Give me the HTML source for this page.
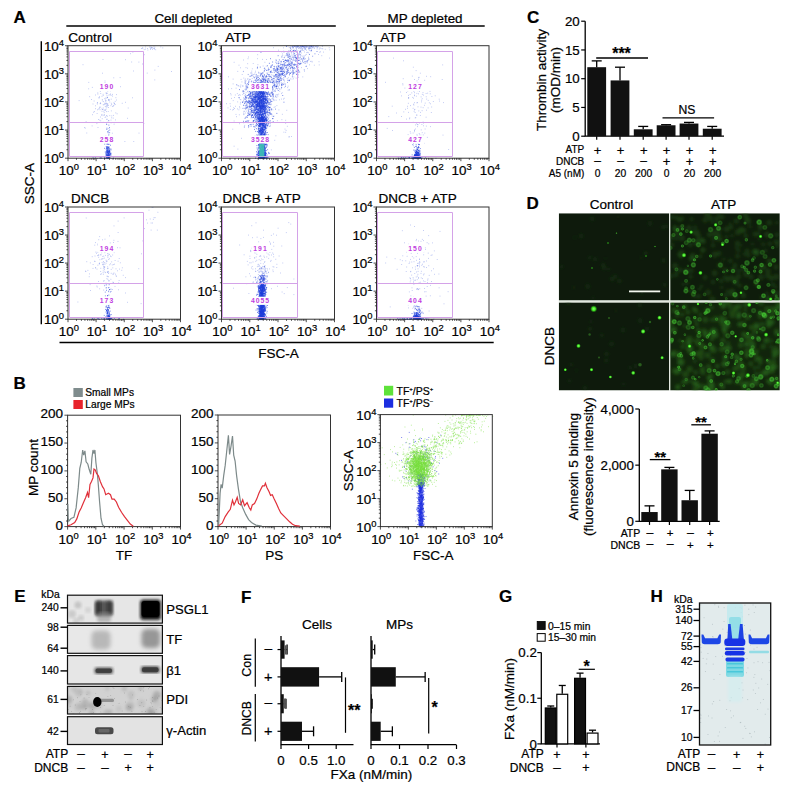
<!DOCTYPE html>
<html><head><meta charset="utf-8"><title>Figure</title>
<style>html,body{margin:0;padding:0;background:#fff;width:790px;height:785px;overflow:hidden}
svg{display:block;font-family:"Liberation Sans",sans-serif}
text{stroke:#000;stroke-width:0.22px}
text[fill]{stroke:none}</style></head>
<body><svg width="790" height="785" viewBox="0 0 790 785" font-family="'Liberation Sans', sans-serif"><defs><filter id="bl1" x="-10%" y="-10%" width="120%" height="120%"><feGaussianBlur stdDeviation="0.7"/></filter><filter id="bl2" x="-10%" y="-10%" width="120%" height="120%"><feGaussianBlur stdDeviation="1.4"/></filter><filter id="bl3" x="-50%" y="-50%" width="200%" height="200%"><feGaussianBlur stdDeviation="1.2"/></filter><filter id="bl4" x="-50%" y="-50%" width="200%" height="200%"><feGaussianBlur stdDeviation="2"/></filter><filter id="bl05" x="-50%" y="-50%" width="200%" height="200%"><feGaussianBlur stdDeviation="0.5"/></filter><radialGradient id="cellg"><stop offset="0" stop-color="#2e9424" stop-opacity="0.7"/><stop offset="0.55" stop-color="#44c832" stop-opacity="0.9"/><stop offset="1" stop-color="#40c030" stop-opacity="0"/></radialGradient><radialGradient id="dotg"><stop offset="0" stop-color="#8cff70"/><stop offset="0.5" stop-color="#3ee020"/><stop offset="1" stop-color="#20a010" stop-opacity="0"/></radialGradient><clipPath id="cTL"><rect x="558.8" y="213.3" width="110.2" height="87.1"/></clipPath><clipPath id="cTR"><rect x="670.2" y="213.3" width="109.6" height="87.1"/></clipPath><clipPath id="cBL"><rect x="558.8" y="302.4" width="110.2" height="88"/></clipPath><clipPath id="cBR"><rect x="670.2" y="302.4" width="109.6" height="88"/></clipPath><clipPath id="cE1"><rect x="67.5" y="595.2" width="95" height="27.9"/></clipPath><clipPath id="cE2"><rect x="67.5" y="625.4" width="95" height="27.9"/></clipPath><clipPath id="cE3"><rect x="67.5" y="655.6" width="95" height="28.4"/></clipPath><clipPath id="cE4"><rect x="67.5" y="686.4" width="95" height="27.6"/></clipPath><clipPath id="cE5"><rect x="67.5" y="716.7" width="95" height="27.8"/></clipPath><clipPath id="cH"><rect x="699.5" y="603" width="71.2" height="142"/></clipPath></defs><text x="13.5" y="22.8" font-size="17" font-weight="bold" stroke="#000" stroke-width="0.35">A</text><text x="13.5" y="389.4" font-size="17" font-weight="bold" stroke="#000" stroke-width="0.35">B</text><text x="527" y="23.2" font-size="17" font-weight="bold" stroke="#000" stroke-width="0.35">C</text><text x="526.5" y="209" font-size="17" font-weight="bold" stroke="#000" stroke-width="0.35">D</text><text x="14.2" y="601.8" font-size="17" font-weight="bold" stroke="#000" stroke-width="0.35">E</text><text x="241" y="603" font-size="17" font-weight="bold" stroke="#000" stroke-width="0.35">F</text><text x="499" y="602.2" font-size="17" font-weight="bold" stroke="#000" stroke-width="0.35">G</text><text x="650.5" y="602.2" font-size="17" font-weight="bold" stroke="#000" stroke-width="0.35">H</text><text x="154.4" y="22.5" font-size="13.4">Cell depleted</text><line x1="66.3" y1="26" x2="335.8" y2="26" stroke="#000" stroke-width="1.3"/><text x="387.6" y="22.5" font-size="13.4">MP depleted</text><line x1="367" y1="26" x2="484.7" y2="26" stroke="#000" stroke-width="1.3"/><line x1="41.3" y1="41.2" x2="41.3" y2="324.3" stroke="#000" stroke-width="1.4"/><line x1="59.5" y1="342.5" x2="493.7" y2="342.5" stroke="#000" stroke-width="1.4"/><text transform="translate(29.5 183.6) rotate(-90)" font-size="13.5" text-anchor="middle" dy="4.8">SSC-A</text><text x="278.5" y="357.6" font-size="13.5" text-anchor="middle">FSC-A</text><path d="M106 111.6h.8M108.1 107.5h.8M104 110.1h.8M99.7 103.7h.8M102.8 108h.8M99 107.2h.8M106.4 119.3h.8M115.4 112.9h.8M102.5 85.2h.8M101.6 111.3h.8M109.4 115.6h.8M108.5 100h.8M106.7 87.9h.8M99.4 120.1h.8M105.8 106.1h.8M110.9 110.9h.8M96.5 123.6h.8M102.8 95.5h.8M92.6 104h.8M96.9 103h.8M93 112.2h.8M104.3 98.7h.8M97.1 109.8h.8M107.9 105.4h.8M107.1 116.2h.8M104.7 117.5h.8M88.3 88.8h.8M102.2 109.5h.8M105.6 100.5h.8M106.8 104.2h.8M95.2 108.7h.8M102.6 109.5h.8M99.1 96.7h.8M100.3 107.2h.8M113.4 105.5h.8M100.3 103.5h.8M105.7 90.5h.8M112.2 96.1h.8M101.9 99.5h.8M105.2 110.1h.8M106.7 119.3h.8M106.4 93.1h.8M97.4 92.9h.8M106.5 105.4h.8M115.5 97.7h.8M95.1 95h.8M112 94.4h.8M106.8 93.4h.8M101.5 108.9h.8M120 86.7h.8M111.3 117.8h.8M97.5 94.1h.8M106.5 98.2h.8M110 94h.8M104.6 82.6h.8M110.8 87.1h.8M105.5 116.7h.8M110.7 122.8h.8M116.1 94.6h.8M101.2 115.2h.8M107.4 103.9h.8M102.7 94.3h.8M106.9 122.3h.8M97.6 127.5h.8M101.9 100.9h.8M104.6 103.3h.8M112.3 106.5h.8M114 103.3h.8M96.7 113.5h.8M100.4 120.8h.8M110.5 105.7h.8M92 114.7h.8M102.7 122.3h.8M105.3 98.1h.8M114.8 104.5h.8M110.8 99.2h.8M103.7 114.9h.8M103.4 111.2h.8M104.2 115h.8M116.7 113.8h.8M103 101.6h.8M103.8 112.6h.8M108.4 99.8h.8M105.1 100h.8M104.6 81h.8M98.1 119.5h.8M105.9 93.8h.8M102.8 104.8h.8M114.2 103.9h.8M110.6 120.1h.8M105.8 109h.8M110.7 95.4h.8M103.6 104.7h.8M113.4 102.9h.8M105.9 107.1h.8M110.1 90.8h.8M96.9 104h.8M108.4 128.5h.8M94.1 111.6h.8M91.7 125.9h.8M103.8 140.4h.8M99.6 109.7h.8M107.1 88.8h.8M121.8 103.3h.8M100.1 117h.8M101.6 114.4h.8M107.4 91.1h.8M109.4 102h.8M104.7 103.2h.8M104.5 104.4h.8M110.9 103.3h.8M109.6 94.7h.8M98.7 97.6h.8M105.4 101.4h.8M106.2 115.5h.8M98.6 98h.8M107.8 111.5h.8M99.9 91.5h.8M112.8 118.1h.8M107.3 105.3h.8M106.6 103.9h.8M101.8 118.7h.8M105.1 84.4h.8M91.9 87.4h.8M98 109h.8M108.5 95.1h.8M91 99.5h.8M111.9 133.2h.8M93.7 101h.8M111.3 104.5h.8M100 102.8h.8M111.4 115.9h.8M106.9 106.8h.8M95.2 105.8h.8M114.8 90.4h.8M116.1 100h.8M105.5 103.8h.8M104 86.6h.8M104.8 110h.8M99.1 108.2h.8M113.7 124.2h.8M102.2 86.1h.8M105.6 92.9h.8M100.4 93.5h.8M101.6 96.3h.8M97 102.5h.8M114.8 101.4h.8M104.9 106.6h.8M112.8 106.1h.8M106.1 103.2h.8M125.1 59.7h.8M106.5 124.4h.8M102 73.2h.8M104.8 138.3h.8M78.7 100.6h.8M133.4 141.5h.8M113 115.4h.8M102.6 115.6h.8M113.4 77.8h.8M125.1 102.3h.8M102.2 139.3h.8M132.5 52.2h.8M138.5 62.1h.8M102.6 59.5h.8M85.7 121.7h.8M127.8 108h.8M143.5 123.5h.8M86.4 133h.8M124.5 141.5h.8M132.1 97.8h.8M138.6 133.1h.8M84.8 128.2h.8M82.6 64.7h.8M143.1 99.6h.8M84.3 127.5h.8M88.4 82.4h.8M115.2 119.9h.8M106.6 95.7h.8M127.1 118.3h.8M89.3 96.7h.8M150.8 48h.8M152 49.4h.8M150.5 46.8h.8M153.5 46.9h.8M160.4 46.9h.8M154 48.6h.8M151.3 47.5h.8M142.4 48.2h.8M152.9 48.5h.8M141.1 48.5h.8M143.8 49.6h.8M155.3 49.7h.8M154.5 47.2h.8M150.2 48.3h.8M142.3 47.9h.8M149.1 47h.8M147.5 50h.8M154.2 49h.8M162.4 47.9h.8M152.1 47.7h.8M147 48.5h.8M145 46.9h.8M150.7 47.9h.8M150.1 49.5h.8M145.1 49.1h.8M146.8 73.1h.8M142 64h.8M108.8 84.6h.8M154.5 70.1h.8M143.9 54.7h.8M154.4 79.9h.8M130.1 53.7h.8M131.3 62h.8M119.7 77.6h.8M171.2 71.5h.8M133 71h.8M157.8 66.4h.8" stroke="#5a70e0" stroke-opacity="0.55" stroke-width=".8" fill="none"/><path d="M107.2 137.7h.9M106.8 144.4h.9M107.5 155.5h.9M106.5 128.2h.9M106.1 140.7h.9M107.9 158.1h.9M109.2 132.7h.9M105.8 151.3h.9M107.9 155.6h.9M107 131.8h.9M106.6 150.7h.9M109.1 142h.9M107.2 152.1h.9M110 145.2h.9M106.8 150.3h.9M108.5 157.9h.9M107.6 156h.9M106.9 156.4h.9M108.8 152.7h.9M107.7 155.3h.9M108.8 155.8h.9M107.9 141.1h.9M106.4 155.3h.9M107.8 132.8h.9M108 131h.9M109.3 151h.9M106.7 154.4h.9M107.9 153.5h.9M105.5 156.1h.9M108.9 155h.9M106.4 129.4h.9M105.4 154h.9M107.9 147.7h.9M109.5 156.3h.9M105.8 152.3h.9M106.4 142h.9M106.9 148.7h.9M106.3 158.6h.9M108.5 153.5h.9M106.8 154.7h.9M106.9 148.1h.9M108.8 155.5h.9M106.9 151.6h.9M108.5 137.3h.9M106.6 152.6h.9M106.2 154.8h.9M105.4 136.1h.9M110.6 153.3h.9M107.5 156.4h.9M108.3 144.4h.9M107.9 156.2h.9M108.2 157.3h.9M108 151.7h.9M110.6 149.9h.9M106.5 150.8h.9M105.7 149.1h.9M106.5 151.3h.9M106.1 148.1h.9M109 127.6h.9M109.1 151.1h.9M106.6 153.8h.9M106 151.9h.9M107.4 158.1h.9M109.9 153.7h.9M104 148.3h.9M108.7 152.4h.9M106.4 146.7h.9M109.4 149.7h.9M106.4 153.2h.9M107.5 152.5h.9M105.8 155h.9M106.6 150.3h.9M109.9 154.6h.9M109.1 157.6h.9M107.4 143.2h.9M106.7 139.5h.9M105.3 138.1h.9M107.4 158.1h.9M107.9 142.6h.9M107.8 149.1h.9M107.8 157h.9M106.4 155h.9M107.8 154.6h.9M107.9 157.9h.9M109.8 153.2h.9M110.6 154.8h.9M107.7 154.8h.9M106.9 149.9h.9M107.8 157.1h.9M107.1 156.5h.9M106.9 155.8h.9M107.9 154.6h.9M106.5 140.4h.9M108.8 150.2h.9M107.8 157.1h.9M108.3 148.8h.9M107.7 147.2h.9M106.9 97.4h.9M106.6 157.7h.9M107.6 146.9h.9M107.2 151.1h.9M108.3 120.7h.9M107.9 158.6h.9M106 138h.9M108 156h.9M106 147.6h.9M107.1 152.4h.9M107.5 151.4h.9M105 156.5h.9M108.1 157.8h.9M108.1 156.4h.9M107.7 158.3h.9M107.3 146.7h.9M107.4 156h.9M106.6 149.6h.9M107.6 151.8h.9M107.2 156.1h.9M108.1 155.3h.9M106.2 157.8h.9M108.3 148.1h.9M108.1 153.5h.9M107.7 156.8h.9M107.3 156h.9M108.7 154.9h.9M105.6 152.9h.9M108.6 153.3h.9M108.3 135.7h.9M108.3 156.8h.9M108.5 149.9h.9M107 152.4h.9M107.6 155.3h.9M108.8 147h.9M108.5 143h.9M108.2 136h.9M105.8 155.5h.9M108.7 139h.9M109.6 154.4h.9M109.4 158h.9M108.3 140.6h.9M105.7 143.9h.9M109.3 156.2h.9M107.7 151.2h.9M104.4 158.2h.9M108.5 153h.9M105.8 146.6h.9M106.1 124.2h.9M107 158.3h.9M109.7 142.1h.9M107.4 147.9h.9M108.3 158.1h.9M110.4 148.9h.9M110.2 153.1h.9M107.8 154.8h.9M107.6 139.9h.9M106.2 148.6h.9M107 143.8h.9M108.5 100h.9M108.5 136.8h.9M108.1 136.6h.9M109.3 130.1h.9M106.9 140.9h.9M107.9 156.7h.9M109 151.8h.9M108.8 152.1h.9M109.4 151.7h.9M108.5 144.4h.9M107.5 149.9h.9M108.4 152.4h.9M106.5 142.3h.9M105.6 153.9h.9M108.8 151.4h.9M107.9 151.1h.9M108.4 150.4h.9M105.6 158.1h.9M107.4 156.4h.9M107.1 158h.9M106.7 138.2h.9M104.8 152h.9M107.5 147.5h.9M109.2 151.1h.9M108.5 152.8h.9M107.1 153.4h.9M107.9 153h.9M109 148.3h.9M104.1 144h.9M107.8 156.1h.9M108.7 154.8h.9M108.9 157h.9M110.3 155.8h.9M109.5 157.8h.9M108.4 134.8h.9M108.4 125.1h.9M109 154.3h.9M107.2 148.2h.9M107.9 158.1h.9M109.2 150.9h.9M110.7 136.8h.9M107.7 156.9h.9M107.9 157.7h.9M108.2 151.4h.9M100.3 158.6h.9M104.1 157.9h.9M101.5 158.5h.9M112.9 158.4h.9M99.3 158.2h.9M104 158.6h.9M107.2 158.6h.9M100.5 157.3h.9M100.6 158h.9M104 158.4h.9M92.6 157.7h.9M97.2 158.6h.9M104.5 158.3h.9M108.4 157.3h.9M106.1 157.4h.9M94.9 157.8h.9M104.1 158.5h.9M113 158.2h.9M111.3 158.6h.9M106.8 158.3h.9" stroke="#2040dc" stroke-opacity="0.72" stroke-width=".9" fill="none"/><path d="M69.5 51.5H143.5V156.5H69.5Z M69.5 122.5H143.5" stroke="#d4a2e8" stroke-width="1" fill="none"/><rect x="97.8" y="82.9" width="18.4" height="8.2" fill="#fff"/><text x="107" y="89.4" font-size="6.8" text-anchor="middle" fill="#c040e0" letter-spacing="1" font-weight="bold">190</text><rect x="97.8" y="135.4" width="18.4" height="8.2" fill="#fff"/><text x="107" y="141.9" font-size="6.8" text-anchor="middle" fill="#c040e0" letter-spacing="1" font-weight="bold">258</text><rect x="68" y="45.7" width="112.5" height="112.5" fill="none" stroke="#333" stroke-width="1"/><path d="M68 158.2v3M76.47 158.2v1.6M81.42 158.2v1.6M84.93 158.2v1.6M87.66 158.2v1.6M89.89 158.2v1.6M91.77 158.2v1.6M93.4 158.2v1.6M94.84 158.2v1.6M96.12 158.2v3M104.59 158.2v1.6M109.54 158.2v1.6M113.06 158.2v1.6M115.78 158.2v1.6M118.01 158.2v1.6M119.89 158.2v1.6M121.52 158.2v1.6M122.96 158.2v1.6M124.25 158.2v3M132.72 158.2v1.6M137.67 158.2v1.6M141.18 158.2v1.6M143.91 158.2v1.6M146.14 158.2v1.6M148.02 158.2v1.6M149.65 158.2v1.6M151.09 158.2v1.6M152.38 158.2v3M160.84 158.2v1.6M165.79 158.2v1.6M169.31 158.2v1.6M172.03 158.2v1.6M174.26 158.2v1.6M176.14 158.2v1.6M177.77 158.2v1.6M179.21 158.2v1.6M180.5 158.2v3" stroke="#222" stroke-width="0.8" fill="none"/><path d="M68 158.2h-3M68 149.73h-1.6M68 144.78h-1.6M68 141.27h-1.6M68 138.54h-1.6M68 136.31h-1.6M68 134.43h-1.6M68 132.8h-1.6M68 131.36h-1.6M68 130.07h-3M68 121.61h-1.6M68 116.66h-1.6M68 113.14h-1.6M68 110.42h-1.6M68 108.19h-1.6M68 106.31h-1.6M68 104.68h-1.6M68 103.24h-1.6M68 101.95h-3M68 93.48h-1.6M68 88.53h-1.6M68 85.02h-1.6M68 82.29h-1.6M68 80.06h-1.6M68 78.18h-1.6M68 76.55h-1.6M68 75.11h-1.6M68 73.83h-3M68 65.36h-1.6M68 60.41h-1.6M68 56.89h-1.6M68 54.17h-1.6M68 51.94h-1.6M68 50.06h-1.6M68 48.43h-1.6M68 46.99h-1.6M68 45.7h-3" stroke="#222" stroke-width="0.8" fill="none"/><text x="58.74" y="175.3" font-size="13.4">10<tspan font-size="9.38" dy="-4.82">0</tspan></text><text x="86.87" y="175.3" font-size="13.4">10<tspan font-size="9.38" dy="-4.82">1</tspan></text><text x="114.99" y="175.3" font-size="13.4">10<tspan font-size="9.38" dy="-4.82">2</tspan></text><text x="143.12" y="175.3" font-size="13.4">10<tspan font-size="9.38" dy="-4.82">3</tspan></text><text x="171.24" y="175.3" font-size="13.4">10<tspan font-size="9.38" dy="-4.82">4</tspan></text><text x="43.88" y="163.2" font-size="13.4">10<tspan font-size="9.38" dy="-4.82">0</tspan></text><text x="43.88" y="135.07" font-size="13.4">10<tspan font-size="9.38" dy="-4.82">1</tspan></text><text x="43.88" y="106.95" font-size="13.4">10<tspan font-size="9.38" dy="-4.82">2</tspan></text><text x="43.88" y="78.83" font-size="13.4">10<tspan font-size="9.38" dy="-4.82">3</tspan></text><text x="43.88" y="50.7" font-size="13.4">10<tspan font-size="9.38" dy="-4.82">4</tspan></text><text x="68.2" y="42.3" font-size="13.6">Control</text><path d="M252.2 93.6h.8M255.6 74.9h.8M256.6 92.7h.8M270.3 93.1h.8M259 116.6h.8M264.6 76.6h.8M243 71.3h.8M265.2 96.3h.8M279.1 99.8h.8M264.1 119.5h.8M258.3 84.3h.8M257.1 58.7h.8M275.6 86.7h.8M244.9 79h.8M254.1 89.1h.8M260.6 110.6h.8M263.8 78h.8M250.5 114.1h.8M258.9 99.7h.8M252.3 92.8h.8M256.8 84.3h.8M253.9 90.9h.8M242.5 91.3h.8M255.2 107.5h.8M265.3 114.9h.8M244.5 95.9h.8M252.7 106.7h.8M262.9 115.1h.8M243.3 114.6h.8M257.5 103.6h.8M243.4 122.8h.8M268.2 115.7h.8M281.5 119.7h.8M278.3 94.2h.8M252.9 91h.8M263.8 68.5h.8M256.8 117.8h.8M256.6 106.3h.8M272.9 83.9h.8M240.5 99.8h.8M267.3 101.3h.8M254.8 72.7h.8M271.3 101.5h.8M257.5 113h.8M247.8 115.3h.8M258.5 92h.8M263.7 92.5h.8M255.8 116h.8M260.9 110.6h.8M249.5 89.2h.8M231.3 88.6h.8M265.6 105.8h.8M263.3 88h.8M257.1 88.7h.8M256.2 121.8h.8M267.1 101.1h.8M250.2 90.9h.8M247.4 104.8h.8M253.3 126.8h.8M268.8 100.7h.8M239.7 86.2h.8M268.9 74.5h.8M248.2 127.6h.8M243 60h.8M269.6 112.6h.8M254.3 83.3h.8M240.7 79.4h.8M251.3 82.9h.8M265.9 94.6h.8M268.9 113.1h.8M250.6 87.9h.8M260 106.8h.8M263.5 132.2h.8M248.1 57h.8M259.4 86.8h.8M255 71.2h.8M249.3 109.6h.8M249.8 76.1h.8M256.2 74.4h.8M255.7 74.9h.8M249 97h.8M250.6 113.7h.8M268 99.2h.8M257.8 127.7h.8M265.4 120.7h.8M269 95.5h.8M262.1 110.7h.8M281.1 99.1h.8M246.1 98.3h.8M264.5 69.6h.8M251.8 78.5h.8M276.4 97.4h.8M274.6 79.7h.8M233.3 107.7h.8M244.5 101.5h.8M262.9 83.9h.8M264.3 114.2h.8M263.7 100.7h.8M254.6 115.3h.8M260.5 95.1h.8M262.8 73.8h.8M254.5 107.3h.8M267 93.6h.8M229.9 109.4h.8M262.6 112.9h.8M243.7 114.1h.8M266.2 76.3h.8M252.8 63.5h.8M245.4 90h.8M259.6 106.8h.8M245.1 86.8h.8M245.1 101.5h.8M237.7 85.5h.8M255.1 92.7h.8M261 92.8h.8M267 88.2h.8M253.8 104.9h.8M267.2 102.4h.8M255.6 121h.8M254.3 103h.8M261.9 116.8h.8M267.4 98.8h.8M251.5 110.2h.8M252.6 95.3h.8M253.6 90.4h.8M256.3 116.7h.8M245.2 108.2h.8M267 110h.8M250.9 86.3h.8M260.6 72.8h.8M246.1 84.8h.8M259.5 101.7h.8M259.8 76.1h.8M250.6 118h.8M278.2 75.7h.8M259.6 106h.8M275.5 135.8h.8M266.2 59.5h.8M247.9 74.6h.8M251.1 111.3h.8M260.3 94.4h.8M256.1 99.8h.8M256 95.3h.8M252.2 117.6h.8M235 106.3h.8M252.9 90.2h.8M230.3 93.6h.8M259.6 79.9h.8M247.2 95.6h.8M247.3 63.7h.8M252.9 106.8h.8M258.5 93.1h.8M239.2 123.7h.8M235.6 114.4h.8M243.4 78.1h.8M232.3 110h.8M244.5 89.3h.8M273.4 97.6h.8M243.5 111.4h.8M262.8 101.6h.8M239.9 104h.8M258.8 103.6h.8M251.8 86.2h.8M254.7 87.6h.8M261.8 104.9h.8M275.2 109.5h.8M257.6 92.8h.8M256.8 98.2h.8M244.4 82.3h.8M262 59.4h.8M252.6 84.9h.8M264.8 97.2h.8M254.9 99.2h.8M275.1 108.8h.8M233 109.5h.8M252 110.9h.8M265.4 102.3h.8M251.4 102.8h.8M246.4 86.3h.8M252.4 102.4h.8M239.8 99.5h.8M256.7 113.9h.8M283 73.6h.8M268.3 89.6h.8M242.9 71.6h.8M245.5 85.5h.8M250.8 75.8h.8M266.7 100.2h.8M246.1 86.7h.8M247.6 58.7h.8M265.4 114h.8M265.2 80.2h.8M251.2 72.9h.8M242.8 90.8h.8M237.9 86h.8M247.5 78.8h.8M230.2 106.2h.8M263.9 90.9h.8M248.3 109.2h.8M260.8 106.5h.8M276.5 105.6h.8M268.7 98.8h.8M242.4 94.6h.8M265.2 90.2h.8M268.5 117.2h.8M247 68.2h.8M244.6 80.1h.8M254.2 86.3h.8M237.3 101.9h.8M272 98h.8M228.2 88.9h.8M242.9 90.8h.8M252.4 121h.8M252.8 86.1h.8M257.3 54.7h.8M258.5 123.4h.8M253 82.4h.8M268.2 91.4h.8M231.2 98.4h.8M255.4 77h.8M247.3 113.8h.8M256.9 94.4h.8M257.9 75.6h.8M245.1 99.6h.8M248.2 102.8h.8M264.4 95.1h.8M259.3 103.2h.8M247.7 74.4h.8M278.5 109.9h.8M281.5 84.1h.8M238.9 114.8h.8M258.8 87.1h.8M283.8 98.3h.8M264.3 134.1h.8M257.9 96.8h.8M253 112.2h.8M249.3 103.2h.8M253 74.5h.8M249.2 112.9h.8M263.8 112.1h.8M250.9 75.9h.8M250.4 95.1h.8M241.8 74.5h.8M254.8 92.1h.8M245.3 109.5h.8M253.4 97.7h.8M267.2 79h.8M259.5 83.1h.8M261.1 96.7h.8M259.4 96h.8M256.1 98.4h.8M254 105.1h.8M251.9 68.8h.8M264 96.6h.8M243.1 113.1h.8M270.6 103.6h.8M255.8 86.2h.8M246.9 87.5h.8M249.9 98.7h.8M247.8 106.4h.8M257.2 96.4h.8M247.3 120.9h.8M268.3 115.6h.8M246.6 85.2h.8M229.7 103.7h.8M247.1 91.3h.8M232.7 79.1h.8M254.9 87.4h.8M267.4 96.5h.8M262.7 66h.8M240.3 87.1h.8M246.8 101.9h.8M275.5 86.2h.8M259 90.9h.8M255.4 109.1h.8M267.3 95.7h.8M283.1 99.1h.8M270.1 125.2h.8M257 99.2h.8M259.4 100.8h.8M262.4 103.1h.8M248.5 120.5h.8M243.4 101.9h.8M256 97.3h.8M244.7 95.3h.8M254.7 113.2h.8M256.5 87.6h.8M281.9 114.3h.8M245.8 100h.8M254 77.9h.8M253.5 106.8h.8M260.3 104.1h.8M267.2 81.2h.8M249.9 102.3h.8M246.1 101h.8M236.9 93.6h.8M244.9 81.6h.8M261.5 128.6h.8M255.9 108.7h.8M243.9 111.3h.8M251.2 112.4h.8M255.8 109.1h.8M261.1 108.9h.8M248.7 92.4h.8M252.6 109.6h.8M234.9 95h.8M242.4 91h.8M273.7 107.3h.8M230.7 94.9h.8M251.6 73.2h.8M257.9 92.1h.8M251.2 105.9h.8M246.3 97.7h.8M254.7 109.9h.8M255.3 92.9h.8M254.5 84.3h.8M234.2 108.5h.8M253.7 99.8h.8M245.7 80.8h.8M249.2 103.9h.8M258 94h.8M262.6 111.5h.8M265.5 108.5h.8M249.8 104.1h.8M265.8 66.1h.8M268.7 102.5h.8M268.2 104.2h.8M271.1 104.7h.8M253.8 99.1h.8M253.4 87.5h.8M264.7 94.1h.8M240 67.8h.8M257.8 93.7h.8M249.4 76.4h.8M251.2 92.9h.8M235.7 88.2h.8M245.3 117.1h.8M255.2 98.5h.8M265.4 97.7h.8M266.6 100.2h.8M254.5 127h.8M253.3 84.4h.8M246 102.2h.8M259.9 102.9h.8M252.6 100.3h.8M262.2 100h.8M275.2 91h.8M255 114.6h.8M238.5 109.8h.8M245.7 92.7h.8M238.9 94.7h.8M241.9 102h.8M270.1 104.8h.8M258 108.5h.8M238.2 97.6h.8M262.8 80.1h.8M269.6 111.6h.8M251.3 75.3h.8M247.8 84.9h.8M251.6 103.1h.8M258.6 85.7h.8M262.6 117.4h.8M268.8 121.1h.8M269.1 114.9h.8M268.8 102.5h.8M270.8 101.3h.8M262.9 104h.8M238.1 95.4h.8M253.9 126.8h.8M258.9 89.8h.8M251.1 116.7h.8M265.7 106h.8M251.3 102.6h.8M244.9 113h.8M271.7 116h.8M262.9 110.9h.8M257.9 96.9h.8M265.9 88.5h.8M267.4 88.8h.8M259.3 110.7h.8M227.6 107.9h.8M247.8 109.7h.8M250.2 90.4h.8M244.3 125.4h.8M257.6 79.3h.8M268.9 103.6h.8M249.9 107.8h.8M242.6 92h.8M278.3 82.2h.8M250.3 91.9h.8M241.5 81.9h.8M258.1 94.9h.8M260.2 79.5h.8M247.4 79.2h.8M264.3 98.1h.8M249.9 76.5h.8M245 94.4h.8M257.4 95.5h.8M264.1 109.7h.8M248.2 100.8h.8M259.1 85.8h.8M254.3 115.2h.8M287.3 87.6h.8M247.4 91.8h.8M271 92.8h.8M254.8 127.8h.8M254 98.2h.8M263.6 87.6h.8M265.5 107.5h.8M269.7 95.5h.8M259.1 130.2h.8M248.6 87.3h.8M249.3 106.1h.8M261.2 84.5h.8M262 122.7h.8M271.2 87h.8M260.1 100.1h.8M267.4 85.4h.8M272.5 109.8h.8M257.3 105.4h.8M238.6 65.2h.8M242.1 108.4h.8M239.2 106.7h.8M273.4 100.6h.8M245.8 111.1h.8M269.3 80h.8M262 72.5h.8M274.8 106.7h.8M266.7 121h.8M254.2 80.3h.8M253.1 81.2h.8M256.4 85.2h.8M257.4 80.5h.8M249.4 108.9h.8M255 99.1h.8M273.6 116.2h.8M236.2 116.7h.8M258.3 83h.8M245.2 106.2h.8M257.5 64.7h.8M264.9 95.7h.8M254.7 105.8h.8M264.1 85.5h.8M237.4 71.4h.8M267.9 89.9h.8M248.6 113.9h.8M262.4 91.5h.8M257.5 77.4h.8M226.2 103.7h.8M246.9 107.6h.8M275.3 77.3h.8M278.7 70.8h.8M258.3 83.2h.8M279.5 89.5h.8M275.2 91.3h.8M305.1 46.1h.8M316.7 48.9h.8M292.2 62.9h.8M284.4 60.5h.8M292.1 62.9h.8M277 68.5h.8M280.2 68.1h.8M314.7 53.8h.8M270.8 77.7h.8M283.6 64.9h.8M299.8 57.7h.8M268.4 74.4h.8M298.9 47.8h.8M253.8 89.9h.8M287.6 46.1h.8M304.1 58.2h.8M300.5 56.2h.8M310.9 50.5h.8M279.8 65.7h.8M301.7 46.1h.8M269 78.8h.8M285.7 55.3h.8M265.6 77h.8M271.1 83.2h.8M280.9 73.7h.8M295.4 70.9h.8M298.2 57.9h.8M266.1 97.1h.8M302.5 46.1h.8M280.7 80.6h.8M277.7 65.3h.8M302 49h.8M304.2 46.1h.8M300.2 57.2h.8M284.1 75h.8M290 65.8h.8M303.9 47.5h.8M284.2 81.1h.8M300.4 52.1h.8M308.2 46.1h.8M282.6 71.4h.8M287.5 54.1h.8M289.2 79.8h.8M297.6 69.8h.8M282 53.9h.8M274.4 76.2h.8M278.9 65.6h.8M306.2 50.2h.8M290.1 48h.8M252.7 93.3h.8M313 46.1h.8M304.3 46.1h.8M276.7 86.3h.8M298 46.2h.8M268.1 68.1h.8M266.4 73.1h.8M297.5 50.5h.8M277.7 69.5h.8M278 50.2h.8M303.9 48h.8M299.5 64h.8M247 86.4h.8M309.6 46.1h.8M289.5 56.8h.8M323.2 52.1h.8M276.4 86.1h.8M297 59.6h.8M311.5 61.3h.8M281.4 74.8h.8M275.2 71.2h.8M281.8 92.7h.8M255.9 90.7h.8M256.9 75.9h.8M292.1 75.3h.8M262.2 93.9h.8M292.7 47.7h.8M283.4 78h.8M275.4 76h.8M263 87.2h.8M273.5 75.5h.8M292.8 50.5h.8M283.4 61.4h.8M298 63.5h.8M276.8 82.1h.8M291.1 72h.8M308.8 59.1h.8M264.3 80.9h.8M287.1 82.5h.8M286.2 60.3h.8M272.3 82.2h.8M310.8 50.4h.8M284.4 65.7h.8M261.2 87.8h.8M298.1 69.4h.8M293.9 60.6h.8M296.4 54.5h.8M304 46.1h.8M257.6 90.8h.8M293 58.6h.8M302.1 61.3h.8M300.3 46.1h.8M300.5 59.4h.8M287.1 68.4h.8M276.4 67.9h.8M288.9 72.3h.8M281.1 74.3h.8M300.9 63.1h.8M299.3 53h.8M308.2 59.4h.8M317.2 51.5h.8M260.9 91.5h.8M310.4 46.3h.8M282.2 74.3h.8M299.8 64h.8M281.3 68.4h.8M285.1 59.6h.8M319.5 52.5h.8M263.3 103.3h.8M264.6 83.2h.8M294.1 65h.8M298.5 53.9h.8M270.6 67.1h.8M276.7 66h.8M279.6 75.1h.8M281.1 82.8h.8M293.3 56.6h.8M299.7 63.2h.8M316.5 46.1h.8M302.8 57.9h.8M279.4 91.3h.8M290.6 67.4h.8M288.2 68.2h.8M287.1 82.4h.8M301.1 47.8h.8M293.5 46.1h.8M286.2 68.1h.8M303.5 59.3h.8M259.5 86.5h.8M271.3 89.3h.8M294.2 46.4h.8M262.3 75.3h.8M279.8 61.8h.8M298.2 72.6h.8M254.9 100.6h.8M298.7 64.3h.8M301.1 67.6h.8M271.9 81.9h.8M262.8 79h.8M296.7 62.5h.8M305.9 54.4h.8M309 46.1h.8M279.3 76.8h.8M268.6 82.3h.8M289.6 73.5h.8M277.1 88.9h.8M287.1 72.9h.8M266.2 76.9h.8M270.9 70.4h.8M279.3 88.5h.8M269.4 88.5h.8M273 70.3h.8M295 61.4h.8M290.6 64.2h.8M299.1 51.3h.8M305.1 46.1h.8M291.2 67.2h.8M300.8 53h.8M284.7 71.8h.8M287.9 55.5h.8M273.3 80.1h.8M289.1 60.3h.8M310.3 48.5h.8M297.8 63.7h.8M275.2 69.4h.8M286.6 64.7h.8M277 84h.8M304.3 63.2h.8M277.3 88.8h.8M276.3 86.4h.8M261.5 91.8h.8M278.7 78h.8M299.7 46.1h.8M249.1 103.9h.8M295 64.8h.8M290.6 65.8h.8M300.1 61.3h.8M302.3 49h.8M292.9 73.9h.8M272.8 86.3h.8M311.4 46.1h.8M257.5 94.3h.8M251.8 89.1h.8M282.4 74.4h.8M295.7 78.1h.8M310.3 50.9h.8M297.5 56.3h.8M288.8 47.6h.8M280 75.4h.8M306.1 61.3h.8M295.8 58.6h.8M280.3 75.8h.8M267.2 96.6h.8M277.9 79.2h.8M302.3 56.2h.8M296.9 60h.8M289.8 47.5h.8M265.9 81.2h.8M321.5 48.6h.8M274.4 72h.8M304.4 59.4h.8M296.1 66.3h.8M294.3 65.5h.8M305 58.6h.8M277.8 63.1h.8M297 68.2h.8M258.1 72.2h.8M283 47.8h.8M281.6 78.7h.8M261 84.7h.8M272.6 87.2h.8M308.3 60.3h.8M278.8 76.3h.8M303.2 57.2h.8M258.6 87.6h.8M255.2 89.5h.8M300.5 55.5h.8M270.9 72.2h.8M276.2 74.5h.8M264.8 77.8h.8M268.3 81h.8M271.6 65h.8M287.5 56.8h.8M250.8 81.4h.8M304.6 61.9h.8M309.1 46.1h.8M295.4 68.5h.8M285.7 73.9h.8M268.5 80.4h.8M274 75.8h.8M264.2 92.9h.8M319.8 51.5h.8M269.3 102.8h.8M296.8 47.4h.8M283.4 77.6h.8M263.6 98.2h.8M248.3 101.3h.8M289.8 46.2h.8M298.8 71.9h.8M275.7 76.6h.8M298.3 57.8h.8M277.5 96.1h.8M272.5 75.2h.8M267.6 80.9h.8M287.6 64.4h.8M257.2 79.9h.8M272.2 86.2h.8M289.7 57.7h.8M299.4 72.3h.8M287.7 59.6h.8M311.7 46.1h.8M281 61.8h.8M274.2 81h.8M284.7 65.5h.8M254.8 92h.8M274.2 67.8h.8M287.2 80.3h.8M255.2 93.3h.8M274.2 87.3h.8M285.6 66h.8M297.4 46.1h.8M281 93.6h.8M283.6 71.3h.8M255.7 76.5h.8M298.2 77.2h.8M292.8 70.9h.8M302.4 47h.8M253.5 76.5h.8M291.2 58.8h.8M297.8 60.4h.8M281.1 68.4h.8M292.8 47.5h.8M291.5 57.8h.8M287.7 80.2h.8M286.3 67.1h.8M287.8 65.5h.8M298.4 46.1h.8M275.6 86.8h.8M287 73.2h.8M261.1 93.7h.8M296.6 46.1h.8M285.8 46.1h.8M252.7 106h.8M292.7 66h.8M292.1 47h.8M268.7 88.5h.8M290 78.9h.8M295.5 61h.8M278 77.4h.8M276.6 69.9h.8M290.8 52.4h.8M286.9 65.9h.8M276.9 72.8h.8M257.7 85.6h.8M263.5 92.2h.8M291.9 56.3h.8M287.6 59.9h.8M300.1 46.1h.8M289.1 63h.8M282.9 66.9h.8M289.8 63.8h.8M294.2 55.9h.8M267.9 68.2h.8M284.5 65.5h.8M297.8 56.5h.8M287 51.7h.8M279.6 82h.8M271.8 93.3h.8M275.9 80.3h.8M262 79.2h.8M318 54.5h.8M296 71.5h.8M294.7 72.9h.8M279.8 69h.8M269.5 80.6h.8M283 64.5h.8M300.9 63.6h.8M295 60.8h.8M285.2 67.8h.8M269.9 71.8h.8M273.3 81.3h.8M296.2 70.1h.8M292.3 74.6h.8M268.2 92.4h.8M281 87.1h.8M297.9 75h.8M289.3 73.8h.8M278.2 65.5h.8M274.2 72.6h.8M294.7 55.5h.8M265.6 79.8h.8M277.6 67.5h.8M314.4 53.8h.8M291.4 55h.8M290.3 56.5h.8M283.3 84.1h.8M309 54.5h.8M286.5 73.9h.8M302.3 50.5h.8M303.5 46.1h.8M300.4 48.9h.8M295.6 57.8h.8M280.6 70.2h.8M302.4 76.9h.8M278.2 86.7h.8M299.4 51.5h.8M278.7 73.3h.8M255.2 82.6h.8M263.6 75.9h.8M287 71.8h.8M302.2 60.8h.8M265.8 92.2h.8M301.6 46.1h.8M278 88h.8M301.2 50.2h.8M296.5 46.1h.8M278.6 69.6h.8M298.8 71.6h.8M270.9 88.1h.8M257.4 96.5h.8M282.9 63.9h.8M294.4 54.2h.8M291.5 59.6h.8M271.9 72.5h.8M300.2 46.1h.8M281.3 69.8h.8M302.7 62.6h.8M298.8 58.7h.8M256.7 97.1h.8M292.9 46.1h.8M293.9 55.6h.8M292.7 55h.8M310.2 61.4h.8M281.2 76.9h.8M293.1 68.4h.8M279.8 74.3h.8M302.4 60.1h.8M288.3 50.7h.8M257.4 79.1h.8M303.7 55.7h.8M284.3 87.3h.8M270.4 99.7h.8M275.4 84.6h.8M284.8 64.8h.8M270.5 81h.8M266.4 83.9h.8M272.2 92.3h.8M278.4 71.3h.8M296.1 57.8h.8M258.1 89.2h.8M287.9 77.7h.8M292 69.7h.8M255.5 87.7h.8M287.7 86.2h.8M306.5 61.5h.8M308.9 50.4h.8M313.4 46.1h.8M276.1 82.2h.8M296.7 46.3h.8M286.2 72.5h.8M259.6 86.1h.8M278.3 81.1h.8M287.4 55.4h.8M312.7 46.1h.8M264 71.5h.8M268.2 82.6h.8M297.6 46.3h.8M300.7 48.2h.8M283.4 70.4h.8M272.9 80.4h.8M291.4 62.1h.8M308.1 57.2h.8M286.3 66.2h.8M284 74.5h.8M267.2 86.4h.8M280 80.2h.8M263.3 96.4h.8M268.6 72.1h.8M306 66.1h.8M259.5 92.5h.8M297.1 46.1h.8M301.8 59.4h.8M275.6 82.4h.8M283.2 65.3h.8M276.5 71.3h.8M279.2 63.3h.8M289.7 55.4h.8M308.2 58.3h.8M262.5 72.6h.8M302.1 46.1h.8M307.9 52.8h.8M274.9 70.4h.8M313.9 65.2h.8M252.7 76.1h.8M317.7 46.8h.8M303.9 56.9h.8M311.1 51h.8M272.2 89.8h.8M311 46.1h.8M257.8 89h.8M292.3 70.3h.8M256.2 98h.8M266.9 87.4h.8M305.3 63.5h.8M254.1 88.5h.8M275.7 85.9h.8M270.4 82.4h.8M291.1 53.1h.8M272.9 96.4h.8M279 81.4h.8M290 60.6h.8M293.2 54h.8M288.3 80.4h.8M303.4 50.6h.8M261.4 103.2h.8M286.9 65.5h.8M304.1 52h.8M291.1 63.5h.8M302.7 58.9h.8M262.9 94.6h.8M270.6 72.2h.8M293.6 50.2h.8M285.9 55.6h.8M263.5 90.1h.8M264.7 99.4h.8M293.4 59.4h.8M280.9 88.7h.8M306.8 60.5h.8M278.5 73.6h.8M297.9 65.8h.8M267.4 80.9h.8M283.8 69.4h.8M276.1 83h.8M305.7 62.4h.8M280.7 62.7h.8M265.8 86.4h.8M318.1 46.1h.8M295.8 52.5h.8M274.4 69.3h.8M311.3 49.8h.8M275.4 69.6h.8M304 71.3h.8M270.7 71.6h.8M292.8 50.4h.8M269.6 87.7h.8M286.4 61.3h.8M269.5 89.4h.8M274.7 76.9h.8M296.8 58.2h.8M261.4 78h.8M270.8 86.3h.8M251.5 93.7h.8M295.5 47.4h.8M258.9 88.4h.8M286.7 53.1h.8M278.8 76.4h.8M271.2 87.8h.8M322 46.1h.8M288.9 55.7h.8M296.5 74.1h.8M295.6 48.1h.8M298.7 57.5h.8M280.3 67.9h.8M272.2 90.7h.8M272.4 83.2h.8M276.4 79.8h.8M264.7 82.9h.8M312.7 46.1h.8M294.3 50.2h.8M270.3 67.6h.8M257.1 87h.8M311.7 62h.8M288 70.2h.8M257 90.1h.8M311 50.5h.8M303.8 69.7h.8M290.9 49.3h.8M282.4 55.3h.8M273.2 47.7h.8M276.6 72.1h.8M291.5 66.5h.8M265.1 80.1h.8M292.4 73.9h.8M267.7 93h.8M243.7 105.2h.8M292.6 48.6h.8M270 71.5h.8M284.4 70h.8M293.9 57.6h.8M300 47.2h.8M288 60.4h.8M290 51.2h.8M288.4 69.2h.8M321.4 55.7h.8M295.6 51.3h.8M248.4 82h.8M275 86h.8M283.6 83h.8M275.8 71.1h.8M259.5 90.7h.8M310.7 46.1h.8M254.7 88.1h.8M259.7 76.3h.8M292.4 46.1h.8M269.8 76h.8M278.1 73.8h.8M312.4 56.2h.8M297.2 63.4h.8M289.2 66.5h.8M267 73.1h.8M280 68.4h.8M297 46.1h.8M286.3 54.2h.8M269.2 86.5h.8M283.6 52.4h.8M275.8 74.6h.8M294.5 60.2h.8M270.4 86.5h.8M262.5 77.6h.8M271.6 98.7h.8M254.2 74.2h.8M309.2 64.8h.8M321.9 46.1h.8M293.6 69.4h.8M296.5 51.9h.8M275 95.2h.8M291.6 79.1h.8M294.7 46.1h.8M309.1 54.5h.8M280.1 71.3h.8M302.4 61.1h.8M307 68.6h.8M314.1 46.1h.8M270.9 74.8h.8M292.4 71.3h.8M273.6 69.6h.8M277.4 77.1h.8M281.4 78.9h.8M272.3 78.9h.8M251.3 95.7h.8M310 46.1h.8M293 73h.8M290.2 48.7h.8M275.9 76.7h.8M265.4 96.4h.8M293.1 78.8h.8M305.8 46.1h.8M284.9 74.4h.8M270.9 79.3h.8M284.5 56.2h.8M307.3 52.3h.8M318.6 61.7h.8M286.4 73.4h.8M280.5 71.6h.8M276 87h.8M294.4 50.7h.8M287.8 54.9h.8M318.8 64.9h.8M276 60.5h.8M290.2 70.1h.8M275.8 74h.8M303.3 62.5h.8M308.9 54.3h.8M282.8 79.4h.8M312.2 56.3h.8M281.9 83.4h.8M282.9 68.2h.8M289 64.6h.8M281.3 78.6h.8M279.3 83.5h.8M264.9 69.3h.8M267.5 78.3h.8M287.7 90.2h.8M259.7 91.8h.8M295.2 57.6h.8M260.7 75.9h.8M279.5 74.1h.8M294.7 65.1h.8M274.3 90.3h.8M279.9 68h.8M303.9 70.1h.8M286.2 71.9h.8M329 58.1h.8M306.4 52.5h.8M269.5 90.1h.8M296.9 68h.8M264.5 62.3h.8M291.9 67.1h.8M269 81.3h.8M298.2 67.6h.8M283.3 51.1h.8M314.1 48.1h.8M297.5 60.5h.8M276.1 83h.8M280.7 65h.8M288.8 53.1h.8M290 58.5h.8M307.1 46.1h.8M280.4 76h.8M296.1 67.2h.8M310.7 46.1h.8M305.1 55.2h.8M283.1 73.5h.8M293.7 67.7h.8M276.9 78.5h.8M297 53.8h.8M292.9 64.8h.8M256.6 75.6h.8M307.1 62.8h.8M299.6 64.5h.8M262.3 75.9h.8M301.5 46.1h.8M283.6 72.9h.8M273.1 94h.8M258.5 88.5h.8M292.8 52.8h.8M293.5 77h.8M286.8 78.6h.8M264.5 88.9h.8M279.3 74.5h.8M273.5 72.1h.8M305.2 49.5h.8M298.6 54h.8M293.6 65.4h.8M272.5 78.3h.8M260.4 84h.8M294.4 56.8h.8M316.2 51.5h.8M294.4 46.3h.8M324.8 49.3h.8M288.6 53.4h.8M288.5 68.1h.8M287.3 72.5h.8M275.3 89.1h.8M272.9 70h.8M263.1 72h.8M281.6 56h.8M287.5 59.6h.8M260.4 84.4h.8M287 73.5h.8M281.6 83.4h.8M293.5 64.7h.8M300 50.9h.8M288 70.5h.8M296.8 54.8h.8M297.3 72.1h.8M291.1 136.5h.8M240 102.3h.8M283.5 132.2h.8M267.1 117.4h.8M233.7 121h.8M228.1 76.8h.8M284.6 129.1h.8M242.4 101.6h.8M234.1 97.5h.8M269.7 120.5h.8M273.1 66.5h.8M285.3 120.3h.8M259.7 120.8h.8M247.4 87.9h.8M247.8 106.3h.8M240.5 85h.8M268.4 136.4h.8M288.4 136.9h.8M232.7 83.9h.8M252.3 115.2h.8M250 73h.8M232.4 129.2h.8M265.8 128.6h.8M291 72.5h.8M245.1 117.6h.8M274.4 140.3h.8M285.7 130.4h.8M244.7 80.9h.8M286.9 126.3h.8M275.8 100.2h.8M269.1 75.1h.8M239.8 95.2h.8M245.2 82.4h.8M233.7 62.3h.8M285.3 123.3h.8M279.7 71.3h.8M232.8 100.6h.8M261.7 132.1h.8M241 138.3h.8M276.9 120.7h.8M264.4 137.8h.8M288.6 80.7h.8M274.4 100h.8M233.7 146.2h.8M251.4 71.1h.8M264.6 96.5h.8M286.4 110.3h.8M251.3 137.5h.8M239.4 107.9h.8M245.6 67.6h.8M243.3 97.6h.8M237.2 108.9h.8M249.5 95.5h.8M243.3 100.6h.8M260.3 94.1h.8M285.3 132.3h.8M289.2 136.8h.8M237.5 149.1h.8M264.1 75.3h.8M270.9 149.9h.8M305.3 47.8h.8M300.8 47.2h.8M322.4 48.8h.8M316.8 47.4h.8M305.3 46.1h.8M292.4 46.5h.8M298.4 46.8h.8M312 46.9h.8M299.1 47.4h.8M315.1 46.5h.8M309.8 47.7h.8M309.1 48h.8M312.7 47.4h.8M311.2 46.5h.8M297.8 47.2h.8M303 46.8h.8M329.4 49.8h.8M294.3 46.2h.8M301.6 46.1h.8M316.8 46.1h.8M304.7 47.9h.8M298.2 48.5h.8M293.2 47.2h.8M311.5 48.6h.8M316.3 46.7h.8M320.1 48.1h.8M306.8 46.5h.8M316.6 46.1h.8M296 49.8h.8M307.9 47.2h.8M299.6 48.3h.8M308 49.1h.8M313.7 48.2h.8M316.8 47.8h.8M296.5 46.4h.8M318.8 49.2h.8M301.6 46.3h.8M296.1 46.1h.8M304.6 46.9h.8M291.8 46.9h.8M306.3 47.5h.8M309.1 48.9h.8M304.3 46.9h.8M311.6 47.1h.8M303.1 46.7h.8M306.3 46.1h.8M292 46.7h.8M306.7 47.1h.8M297.8 46.1h.8M301.8 49h.8M305.3 48.8h.8M308.1 48h.8M290 48.3h.8M290.8 46.8h.8M303.3 47.9h.8M310.9 46.1h.8M309.8 46.1h.8M315.1 46.7h.8M319.1 48h.8M311.2 46.8h.8M306.1 46.6h.8M296.1 48.7h.8M296.9 47.1h.8M301.6 46.7h.8M308.9 47.3h.8M308.4 46.1h.8M306.3 46.2h.8M304.7 48.5h.8M312.5 47.4h.8M308.3 48.5h.8M309.2 46.9h.8M309.3 48.5h.8M300.8 46.5h.8M296.1 47.1h.8M311.1 46.4h.8M310.4 47.7h.8M304.1 49.2h.8M302.1 46.1h.8M328.8 47.7h.8M298.7 46.1h.8" stroke="#5a70e0" stroke-opacity="0.55" stroke-width=".8" fill="none"/><path d="M260.9 105.6h.9M262.4 87.4h.9M269.6 85.1h.9M260.3 108h.9M266.9 105.1h.9M249 101.3h.9M263.6 111.4h.9M256.7 112.6h.9M257.4 106.5h.9M258.3 93.1h.9M260.4 107h.9M268.5 104.4h.9M246.7 107.2h.9M258.5 116.8h.9M253.8 86.3h.9M265.5 127.2h.9M255.6 109.2h.9M261.1 96.2h.9M255.8 117.1h.9M262.4 95.7h.9M264.5 88.8h.9M255.8 111.4h.9M258.5 100h.9M249.4 114.1h.9M260.1 96.8h.9M263.5 101.2h.9M254.8 99.9h.9M265.2 87.6h.9M245.3 97.2h.9M246.7 87.8h.9M249.6 95.4h.9M255.2 115h.9M258.3 99.4h.9M257.7 97h.9M257.8 117.6h.9M262.7 87.9h.9M255.3 101.5h.9M250.4 98.3h.9M250.5 111.8h.9M271.4 101.4h.9M243.6 99h.9M257.1 105.7h.9M267.3 101.3h.9M261.2 124.8h.9M253.1 87.6h.9M258.2 114.1h.9M263.6 125.5h.9M265.7 112.5h.9M252.6 111.1h.9M263 96.4h.9M259.8 112h.9M265.1 99.2h.9M266.9 112.5h.9M256.1 78.6h.9M249.2 96.4h.9M260.7 81.3h.9M269.3 113h.9M262.5 95.1h.9M259.7 112.4h.9M273.1 96h.9M251.8 95h.9M263.8 119.3h.9M254.7 114.4h.9M258.5 114.7h.9M258.8 118.3h.9M267.6 110h.9M252.4 112.5h.9M254.9 117.7h.9M248.3 101.2h.9M261.3 96.4h.9M255.4 116.3h.9M260.8 108.2h.9M251.6 102.2h.9M256 104.7h.9M264.7 109.7h.9M257.1 93.6h.9M262.1 93.2h.9M261.5 95h.9M256 104.5h.9M248.5 81h.9M264.3 83.7h.9M259.3 106.6h.9M264.3 103.6h.9M245.7 89.6h.9M247.9 110.8h.9M244.9 98h.9M252.8 101.8h.9M264.7 109.8h.9M261.7 104.8h.9M258 119.1h.9M259 108.1h.9M263 123.6h.9M256.3 77.9h.9M260.7 86.2h.9M259.1 89.2h.9M244.6 99.1h.9M255.8 91.6h.9M266.7 88.7h.9M255.8 91.5h.9M257.3 92.5h.9M254.5 112.1h.9M255.2 97.7h.9M265.2 108h.9M256.6 114.9h.9M251.9 114.5h.9M238.9 97.8h.9M254.7 91.1h.9M246 117h.9M246.9 83.7h.9M263.2 86.6h.9M262.6 106.4h.9M246.3 107.3h.9M263.5 103.1h.9M261.1 91.9h.9M253.4 106.5h.9M262.8 114.2h.9M248.1 98.7h.9M250.7 124.4h.9M249.3 100.9h.9M251.3 90h.9M263.7 99.1h.9M249.9 94h.9M251.1 97.1h.9M252.3 94.6h.9M259.4 100.8h.9M256.1 111.3h.9M263.6 104.8h.9M253.8 103.2h.9M250.2 88.9h.9M255.1 85h.9M258.4 97.9h.9M252.4 110.4h.9M259.9 110.2h.9M269.5 104.4h.9M254.6 87.6h.9M258.5 98.8h.9M266.6 103h.9M254.1 110.6h.9M252.9 93h.9M251.4 99.3h.9M260.6 102.9h.9M261.3 101.3h.9M257.2 84.4h.9M258.4 104.1h.9M266 84.4h.9M263.5 89.1h.9M249.4 101.8h.9M258 93h.9M258.7 103.7h.9M262.6 111.3h.9M256.7 105.3h.9M254.1 112.1h.9M255.2 96.9h.9M247 102.2h.9M257.9 96.3h.9M254.3 93.6h.9M260.9 135.7h.9M251.7 99.1h.9M255.3 121.7h.9M252 100.6h.9M251.4 111.8h.9M262.4 101.3h.9M255.1 87.8h.9M260.8 120.7h.9M251.1 100.4h.9M258.6 103.2h.9M247.5 122.6h.9M255 95.5h.9M254.9 102h.9M261.6 107.8h.9M259.1 110.1h.9M256.9 68.1h.9M263.2 106.6h.9M259.2 121.6h.9M261.3 112.3h.9M262.7 106.3h.9M257.5 106.5h.9M256.1 103.2h.9M260 113.6h.9M255.4 96.6h.9M260.4 107.6h.9M264.8 116.9h.9M263.3 111.1h.9M255.6 106.5h.9M250 93.3h.9M257.6 97.2h.9M257.2 106h.9M264.8 102.2h.9M255.6 100.1h.9M256.6 80.6h.9M262.5 109h.9M255 97.4h.9M256.9 94.6h.9M268.6 112.6h.9M267.2 100.4h.9M261.8 100.7h.9M259.6 107.4h.9M251.9 96.3h.9M261.4 91.4h.9M258.3 90.3h.9M259.3 104.5h.9M254.7 100.4h.9M257.9 77.3h.9M256.8 114.2h.9M259.9 100h.9M266.8 92.9h.9M260.2 100.8h.9M247.6 95.4h.9M251.9 100.6h.9M248.1 94.3h.9M253 88.7h.9M261.4 104.8h.9M260.4 100.3h.9M254.2 103h.9M259.6 106.7h.9M253.2 102.6h.9M249.1 114.5h.9M249.2 94.4h.9M252.6 84.2h.9M266.7 84.2h.9M249.6 88.8h.9M265.6 112.7h.9M266.2 86.2h.9M256.8 110h.9M257.6 103h.9M254.1 82.7h.9M257.8 113.9h.9M262 93.4h.9M258 99.4h.9M264.1 104h.9M265.3 111.8h.9M260 97.9h.9M259.9 107.4h.9M257.5 91.2h.9M260.1 89.3h.9M251 117.1h.9M260.4 107.8h.9M259.2 105.8h.9M252.6 115h.9M271.3 114.3h.9M251.9 101.5h.9M252.5 104.6h.9M259.6 120.1h.9M245.9 108.2h.9M253 96.9h.9M248.4 115.3h.9M251.9 112.3h.9M257.1 85.4h.9M259.9 88.3h.9M264.7 119.7h.9M262.9 116.8h.9M265.2 98.4h.9M261.5 115.1h.9M255 105.1h.9M264.8 107.2h.9M254.9 96.4h.9M254.1 129.4h.9M267.4 125.9h.9M262.8 115.5h.9M259.2 91.6h.9M262.6 104h.9M263.3 120.7h.9M249.4 97.1h.9M257.3 94.8h.9M250.6 105h.9M258.6 105.9h.9M253.7 97.7h.9M266.3 89.5h.9M261.1 100.8h.9M252.8 96.7h.9M257.8 102.9h.9M250.4 106.5h.9M258.1 112.2h.9M261.3 99.7h.9M259.5 105.6h.9M245.9 105h.9M255.8 92.5h.9M261 97.2h.9M259.8 93.1h.9M265.1 119.2h.9M249.9 96.4h.9M261.1 108.7h.9M253.8 111h.9M259.1 111.5h.9M260.4 89.5h.9M262.1 93.6h.9M254.3 110.1h.9M259 114.6h.9M250.6 102.3h.9M249.1 107.3h.9M261.3 84.7h.9M257.5 118h.9M247.8 122h.9M252.6 105.1h.9M258 102.3h.9M267.5 101h.9M264.4 94.3h.9M262.8 80.2h.9M246.8 106.1h.9M257.3 108.2h.9M260.8 121.2h.9M260.3 99.8h.9M260.4 93.3h.9M256.4 105.2h.9M268.8 89.8h.9M267 102.1h.9M257.3 86.2h.9M251.8 98.8h.9M270.6 113.7h.9M254.4 109.2h.9M265.3 118.8h.9M269.7 121h.9M252 99.5h.9M259.7 93.1h.9M255.7 81.5h.9M261.1 103h.9M259.9 104.9h.9M269.9 114.3h.9M261.5 91.8h.9M257.8 98.2h.9M264.9 108.8h.9M256.2 95h.9M255.6 96.4h.9M271.8 122.4h.9M252.8 94.5h.9M254.8 100.9h.9M258.1 106.6h.9M251.3 106.9h.9M244.8 83.7h.9M264.4 86h.9M253 82.9h.9M254.5 114.7h.9M255.5 109.4h.9M251.8 92.7h.9M251.2 115.3h.9M258.9 110.1h.9M272.8 121.7h.9M262.4 82.6h.9M262.5 91h.9M248.5 97.5h.9M257.7 100.1h.9M250.5 106.9h.9M262.7 106.7h.9M256.4 95.8h.9M258.1 110h.9M257.3 89.3h.9M254.2 107.7h.9M248.4 111.7h.9M261.5 88.5h.9M249.3 103.9h.9M250.5 96.5h.9M256 106.8h.9M253.5 126.4h.9M259.5 96.6h.9M264.1 116.8h.9M259.4 90.8h.9M259.1 119h.9M258 122.3h.9M263.2 99.1h.9M246.4 97.9h.9M260.1 101.3h.9M252.1 115.4h.9M250.2 92.9h.9M257.9 118.1h.9M255.5 107.4h.9M261.5 110.8h.9M264.7 106.4h.9M243.4 93.3h.9M257.4 109.2h.9M270 96.4h.9M263.3 95h.9M266.8 120.7h.9M258.5 114.9h.9M248.9 106.5h.9M250.9 108.7h.9M262.3 99.1h.9M263.8 123h.9M253.3 94.7h.9M256.2 94.4h.9M259.5 104.2h.9M247 117.2h.9M255.7 102.3h.9M267.9 108.1h.9M271.4 96.3h.9M257.2 103.3h.9M269.2 94.6h.9M254.6 107h.9M252.8 87h.9M243.9 127h.9M263.8 113.3h.9M255.5 97.2h.9M272.4 118.5h.9M259.9 94.5h.9M259 115.4h.9M246.6 101.4h.9M267.2 112.2h.9M255.6 107.1h.9M256.9 100.5h.9M244.2 103.5h.9M263.6 106.5h.9M264 79.4h.9M254.1 102.3h.9M258.4 112.8h.9M260.3 92.5h.9M263.9 93.6h.9M258.5 89.3h.9M268.6 83.3h.9M256.4 112.4h.9M254.1 91.1h.9M255 90.2h.9M242.1 102.4h.9M252.9 99.8h.9M264.1 134.5h.9M259.5 108.5h.9M252.8 83.3h.9M260.1 121.5h.9M245.3 108.1h.9M256.1 99.3h.9M261.1 96.2h.9M262.2 85h.9M253.1 121.2h.9M263.6 101.9h.9M269.5 93.2h.9M255.2 116.4h.9M262.5 102.8h.9M248.2 82.3h.9M245.7 88.3h.9M261.7 96.6h.9M258.2 130.3h.9M259.1 103.8h.9M254.3 98.3h.9M256.1 105.7h.9M262.9 103.1h.9M268.6 69.4h.9M256.6 104.7h.9M247.6 112.8h.9M265.8 99.8h.9M261.6 105.8h.9M262.1 105.7h.9M259 103.3h.9M272.3 94.1h.9M258.4 99.9h.9M261.1 115.2h.9M246.4 103.8h.9M254.3 97.3h.9M253.6 107.4h.9M257.7 90.1h.9M260.1 94.1h.9M253.2 113h.9M268.7 99h.9M251.3 81.2h.9M255.1 85.7h.9M259.4 103h.9M250.1 92.8h.9M261.5 109.6h.9M261.8 117.9h.9M256.1 96.5h.9M269.8 99.8h.9M258.4 96.9h.9M259.7 102.7h.9M251.9 98.9h.9M247.5 107.9h.9M254 97.3h.9M255.9 93.5h.9M255.1 103h.9M262.7 93.7h.9M243.1 121.3h.9M250.9 110.8h.9M246.5 87h.9M266.3 83.6h.9M254.4 99.7h.9M254.7 103.5h.9M251.1 116h.9M263.5 98.5h.9M255.3 94.1h.9M259.3 118.2h.9M245.3 96.4h.9M265.2 97.2h.9M260.4 97.7h.9M261.3 114.5h.9M265.6 96.6h.9M256.7 118.4h.9M256.9 86.5h.9M262.4 101h.9M260.6 114.8h.9M256.4 88h.9M258.2 90.1h.9M254.8 109.4h.9M262.4 78.8h.9M263.7 113.1h.9M258 99.1h.9M269.6 89.8h.9M248.3 126.7h.9M256.5 91.7h.9M268.6 103.1h.9M255.3 102.6h.9M248 113.9h.9M266.6 98.9h.9M261.3 114.3h.9M250.5 112.8h.9M262.8 107.2h.9M251.6 115.5h.9M249.6 85.6h.9M257 116.6h.9M254.9 110.5h.9M251.1 105.8h.9M255.7 102.4h.9M251.7 93.9h.9M258.3 93.7h.9M257.8 105.6h.9M262.6 106.5h.9M255.1 102h.9M249.6 93.6h.9M249.7 94.9h.9M256.4 107.9h.9M267.5 124.4h.9M263.2 79.5h.9M253.9 92.2h.9M263.8 99.6h.9M250.7 98.8h.9M264.2 108h.9M255.5 113.1h.9M262.7 106h.9M261.8 104.8h.9M256.2 109.1h.9M260 118h.9M251.3 105.7h.9M257.5 96.2h.9M264.7 107.7h.9M283.5 102.2h.9M262.3 124.5h.9M258.5 104.6h.9M251.6 103.7h.9M264.5 115.5h.9M247.6 120.9h.9M252.9 98h.9M260.2 111.1h.9M250.4 97.2h.9M267.5 106.9h.9M264.7 95.7h.9M254.4 106h.9M254.5 118.5h.9M249.7 103.3h.9M249.2 105.9h.9M260.7 95.4h.9M261.8 107.2h.9M260.1 106.6h.9M259.6 93.2h.9M254.4 89.9h.9M260.2 94.3h.9M248.8 91.3h.9M258 97.5h.9M267.1 94.2h.9M266.2 93h.9M255 98.1h.9M255.9 101.7h.9M266.5 100.9h.9M269.1 76.7h.9M248.6 102.3h.9M255.3 104.9h.9M259.4 106.3h.9M265.5 102.8h.9M252.7 99.8h.9M261.9 114.5h.9M256.1 123.6h.9M272.8 99.2h.9M260.6 119.6h.9M257.1 99.6h.9M255.9 100.9h.9M264.5 90.1h.9M262.2 84.5h.9M251.2 98.5h.9M259.3 108.3h.9M249.6 115h.9M253.2 110.9h.9M249.9 102h.9M249.7 124.5h.9M253.7 101.6h.9M251.8 102.5h.9M261.2 95.5h.9M262.9 106h.9M256.5 101.3h.9M251 110.3h.9M263 107.4h.9M245.3 121.4h.9M245.9 101.1h.9M262.5 85.8h.9M262 100.7h.9M264 98.5h.9M256.6 112.9h.9M250.1 87.1h.9M254.8 110.6h.9M261.5 93.8h.9M253.2 101.3h.9M253.6 112.7h.9M249.2 91.4h.9M250.7 102.2h.9M263.2 100.5h.9M260.8 97.6h.9M250.7 102.6h.9M251.2 106.4h.9M254.4 97.4h.9M261.4 106.7h.9M250.7 101.7h.9M256.9 109.5h.9M244.6 118.3h.9M250.1 109.6h.9M260.6 107.7h.9M263.6 102.2h.9M250.7 89.7h.9M253.1 120.5h.9M262.9 101h.9M255.5 126h.9M254.6 113.6h.9M261.2 107.8h.9M259.2 126.5h.9M264.9 122.3h.9M262.9 100.8h.9M254.4 101.6h.9M257.2 103.6h.9M257.6 111h.9M249.5 79.4h.9M251.9 104.1h.9M264 111.6h.9M248 84.5h.9M264.2 95.8h.9M259.7 106.4h.9M257.1 89.7h.9M261.3 100.7h.9M260.9 95.5h.9M265.5 99.9h.9M255.5 113.4h.9M256.5 92h.9M256.4 100.7h.9M269.7 113.2h.9M263.9 110.6h.9M252.2 92.2h.9M255.9 106.3h.9M253.6 101.9h.9M258.1 95.4h.9M259.3 101h.9M272.3 118.7h.9M246.6 95.6h.9M264.4 92.4h.9M260.7 93.1h.9M253.6 85.1h.9M257 98.5h.9M254.9 94.1h.9M258.3 85.4h.9M264.3 105.5h.9M248.5 83.8h.9M266.2 83.9h.9M255.7 94h.9M267.4 82.7h.9M260.6 93.3h.9M265.7 111.8h.9M261.5 90.2h.9M264.8 98.9h.9M258.3 98h.9M252.8 100.7h.9M262.2 87.9h.9M262.4 96.5h.9M271.1 109.8h.9M245.5 97.2h.9M256.8 94.6h.9M264.6 110.2h.9M250.2 107h.9M256.6 106.5h.9M271.2 108.9h.9M266.8 98.7h.9M252.5 91.5h.9M266.9 82.2h.9M265.4 89.6h.9M262.9 91.5h.9M260.4 90.2h.9M259.5 88.1h.9M252.6 106.4h.9M254.8 95h.9M262.6 99h.9M258.9 103.8h.9M269.6 107.3h.9M256 107.8h.9M243.1 105.3h.9M256 115.6h.9M259.8 96.8h.9M260.4 102.6h.9M258.5 101.3h.9M252.9 98.8h.9M267.4 94.7h.9M253.9 108.7h.9M262.5 103.5h.9M256.3 119.6h.9M250.6 126.1h.9M266.9 123.1h.9M242.4 86h.9M252.8 121.9h.9M260.8 97.4h.9M255.8 86.6h.9M262.7 107.3h.9M257.4 85h.9M255.3 82.7h.9M271.5 92.3h.9M256.7 77h.9M257.1 95.7h.9M251.3 110.2h.9M253.4 96.8h.9M262.1 107.1h.9M261.6 116.3h.9M258.1 116h.9M253.7 77.6h.9M262.4 108.1h.9M247.5 102.6h.9M256 109.4h.9M256.5 100.8h.9M252.8 104.9h.9M259.1 106.7h.9M254 115.2h.9M253.1 117.4h.9M269.3 110.2h.9M262.7 99.1h.9M265.6 80.1h.9M258.4 91h.9M264.1 82.8h.9M263 97.1h.9M265.7 103.2h.9M272.9 116.4h.9M256.7 102.2h.9M259.8 125.1h.9M257.8 105.4h.9M236.3 84.8h.9M249.5 98.7h.9M258.3 90.1h.9M262.1 106.3h.9M254.6 116.9h.9M265.2 107.3h.9M266.2 106.4h.9M255.6 89.3h.9M267 81.1h.9M269.1 110.1h.9M261.1 106h.9M252.1 103.7h.9M267.3 105.9h.9M257.2 115.4h.9M255.9 101.2h.9M258.9 98.3h.9M254.9 98h.9M264.9 115h.9M263 103.3h.9M265.8 120.7h.9M261.8 92.4h.9M253.3 113h.9M257.2 105.1h.9M263.7 106.9h.9M255.7 108.3h.9M276.4 113.4h.9M256.7 121h.9M254.6 83.6h.9M265.4 99.4h.9M262.9 99.3h.9M258.1 79.7h.9M256.8 103.2h.9M260.9 96.2h.9M263.4 101.9h.9M263 89.4h.9M256.4 96.7h.9M260.9 98.7h.9M263.5 104.8h.9M263 99.1h.9M239 89.6h.9M252.7 124.3h.9M253.4 103.4h.9M256.8 106.5h.9M259.3 105.3h.9M264 123.2h.9M262.1 94.2h.9M257.4 111.1h.9M258.4 104.5h.9M269.2 107.4h.9M254.4 119.9h.9M260.1 106.8h.9M268 121.7h.9M260.4 112.1h.9M245.5 105.4h.9M260.6 102.1h.9M255.8 101.5h.9M257.5 103.5h.9M264.8 79.2h.9M261.1 97.4h.9M256.6 115.1h.9M263.8 108.6h.9M260.9 109.1h.9M258.9 103.9h.9M260.1 108.5h.9M259.8 111.2h.9M256.1 84.4h.9M255.4 101.6h.9M258.4 105.6h.9M252.3 104.7h.9M250.4 104.4h.9M266.3 87.2h.9M256.7 96.9h.9M258.1 90h.9M257.4 135.4h.9M258.4 98.6h.9M258.4 90.7h.9M258.6 80.9h.9M253.2 101.7h.9M264 120.4h.9M253.9 95.7h.9M264.7 108.4h.9M246.3 121.2h.9M251.6 108.6h.9M264.4 90.7h.9M257.3 89.2h.9M254.1 94.3h.9M260.6 113.2h.9M251.7 75.1h.9M258.7 114.5h.9M244.5 102.8h.9M255.4 117.5h.9M254.2 87.9h.9M261.6 97.2h.9M263.7 92.5h.9M252.9 101h.9M268.2 102.7h.9M254.5 100.1h.9M245.4 122.2h.9M243.4 91.4h.9M267.8 92.2h.9M257.7 106.2h.9M254.2 102.1h.9M253.6 98.8h.9M251.4 85.2h.9M266.6 97.4h.9M257.7 101.5h.9M269.4 107.4h.9M257 118h.9M243.6 108.3h.9M263.5 101.2h.9M255.9 104.6h.9M256.8 101.1h.9M268 94h.9M256.6 97.3h.9M265.4 99h.9M258.2 94.9h.9M253.6 99.9h.9M261.4 102.2h.9M254.5 96.9h.9M265.9 120.4h.9M264.2 88.5h.9M258.6 115.7h.9M262 93h.9M261.7 101.8h.9M256.5 90.1h.9M263.8 101.5h.9M256.8 112h.9M262.1 90.4h.9M252.3 99.9h.9M258.9 100.6h.9M260.8 101h.9M253.3 91.2h.9M255.6 93.1h.9M254.9 99.4h.9M262.8 118.4h.9M253.8 106.2h.9M261 100.7h.9M267.7 82.7h.9M260.5 97.7h.9M248.2 102.8h.9M259 89.1h.9M264.7 103h.9M256.5 102.1h.9M265.2 100.2h.9M262.1 117.8h.9M260.9 91.6h.9M256.6 97.3h.9M255.1 104.8h.9M256.7 114h.9M258.7 99.5h.9M261.5 86.9h.9M260.9 108.7h.9M256.4 113.2h.9M258.7 97.3h.9M260.7 118.9h.9M248.2 125.5h.9M253.5 106.6h.9M253.3 109.2h.9M257 104.8h.9M256.6 107.7h.9M256.7 98.2h.9M252.9 104.2h.9M262.5 108.2h.9M260 106.7h.9M248.1 95h.9M258.4 91.5h.9M251.3 92.1h.9M268.9 94.3h.9M255.5 137h.9M255.9 112.5h.9M258.8 105.1h.9M257.1 99.6h.9M258 119.1h.9M267.9 86.6h.9M259.7 98.5h.9M263.5 108.4h.9M265.3 100h.9M252.3 105.5h.9M268.8 109.9h.9M262.6 96.4h.9M264.3 106.6h.9M253 116.8h.9M263.4 108.5h.9M260.9 103h.9M255 113.3h.9M272.5 88.3h.9M261.9 113.4h.9M256.9 83h.9M259.5 92.2h.9M264 111.8h.9M265.4 100.3h.9M262 89.1h.9M265.9 103.8h.9M267.5 114.5h.9M250.7 100.5h.9M255.3 80.5h.9M252.5 117.6h.9M259 95.8h.9M267.3 101.6h.9M262.4 103h.9M251.8 105.9h.9M256.5 105.1h.9M264.7 90.6h.9M255 95.3h.9M257.7 112.3h.9M260.2 85h.9M247 115.5h.9M263.2 94.6h.9M260.5 99.7h.9M261.9 88.9h.9M252.3 97.9h.9M253.6 90.4h.9M254.6 101.9h.9M259.9 91.3h.9M258.8 98h.9M259.1 78.7h.9M269.5 109.1h.9M266.5 88.9h.9M253.9 96.7h.9M254.3 99.7h.9M269 107.7h.9M263.1 105.8h.9M257.7 134.6h.9M258 108.8h.9M263.8 124.2h.9M257.4 86.2h.9M265.9 83.9h.9M261 82.1h.9M262.5 94.2h.9M262 112.2h.9M263 92.2h.9M261 108.3h.9M260.8 97h.9M261.5 118h.9M264.8 113.6h.9M265 99h.9M265.4 80.8h.9M262.9 105.8h.9M261.3 74.1h.9M257.1 67.2h.9M263.6 123.3h.9M264.2 105.8h.9M260.7 118.7h.9M264.1 107.4h.9M265.5 112.9h.9M262.1 106.4h.9M264.8 92h.9M262.7 92.4h.9M256.9 101.8h.9M260.5 105.4h.9M260.7 103.8h.9M263.3 103.7h.9M259.4 97.5h.9M260.6 105.4h.9M259.1 98.4h.9M261.7 123.6h.9M262 94.4h.9M264.6 81.1h.9M264.1 102.9h.9M262.3 125.1h.9M262.5 86.6h.9M262.1 110h.9M262.2 147h.9M266.2 108.5h.9M254.8 97h.9M261.3 100.1h.9M262.7 88.2h.9M265 96.8h.9M258.7 103.7h.9M262.8 132.9h.9M264.3 120.9h.9M260.6 102.9h.9M256.4 96h.9M260.8 119.7h.9M258.4 113.9h.9M263.7 98.9h.9M259.4 132h.9M266.9 132.5h.9M262.2 108.6h.9M259.6 101.9h.9M260.4 112.1h.9M258.7 137.3h.9M262.9 105.1h.9M266 123.9h.9M261.2 96.3h.9M264.4 106.8h.9M259.2 101.7h.9M262.7 96.5h.9M268.3 112.7h.9M257.9 93.9h.9M265.3 88.1h.9M265.1 99.9h.9M256.5 86.9h.9M257.8 114.1h.9M259.1 92.6h.9M264.6 101.6h.9M260.6 119.1h.9M261.4 106.5h.9M263.8 112.8h.9M262.2 113.1h.9M262.5 104.2h.9M260.9 90.6h.9M265 109.8h.9M259.6 103.6h.9M266.6 125.8h.9M260.9 103.9h.9M259.6 89.3h.9M263.7 94.1h.9M263.1 98.8h.9M256.2 112.7h.9M262.5 118.9h.9M258 106.7h.9M259.5 124h.9M264 122.6h.9M259.4 92.3h.9M262.8 118.1h.9M260.8 80.4h.9M267.3 125.3h.9M261.6 99.4h.9M258.5 121.7h.9M258.7 102.9h.9M259.3 119.9h.9M262.2 104.8h.9M261.8 107.5h.9M264.6 111.7h.9M262.3 98.2h.9M262.2 84.4h.9M262.7 113.6h.9M261.4 93.1h.9M262.6 104.2h.9M264 105.8h.9M264 74.8h.9M260.3 135.6h.9M256.8 114.9h.9M259.5 130.6h.9M262.6 109.7h.9M254.8 108.6h.9M260.5 52.3h.9M263.1 100.5h.9M260.2 80.4h.9M258.6 87.3h.9M266.7 111.5h.9M265.7 98.7h.9M261.1 82.1h.9M265.5 103h.9M265.5 102.5h.9M258.6 98.4h.9M269.4 126.3h.9M259.1 116.7h.9M261 100.7h.9M258.7 97.8h.9M262 118.2h.9M258.1 109.9h.9M261.8 107.1h.9M264.8 107.5h.9M262.4 95.7h.9M261 103.9h.9M266.1 103.1h.9M259.2 125.1h.9M264.5 120.1h.9M260.9 100.9h.9M262.4 127.6h.9M261.9 101.6h.9M262.1 114.6h.9M261.6 116.7h.9M259.6 96.4h.9M260.2 114.9h.9M263 117.4h.9M261.4 114.8h.9M258.5 104.6h.9M259.8 67.1h.9M259.8 135h.9M261.6 105.7h.9M262.2 108.8h.9M262 92.2h.9M259.9 110.6h.9M261.8 140h.9M257.9 87h.9M253.6 120.7h.9M261.6 106.3h.9M257.1 124.6h.9M259.1 120.8h.9M258.3 112.4h.9M263.5 93.5h.9M258.3 93.7h.9M262.5 113.9h.9M260.3 98.5h.9M258.2 110.7h.9M257.3 104h.9M263 103.4h.9M262.8 96.9h.9M263.9 114.1h.9M266.9 107.4h.9M262.5 102.5h.9M262.5 104.3h.9M261.3 116.7h.9M262 81.5h.9M260.7 112h.9M259.1 95h.9M267.3 102.7h.9M256.4 88.5h.9M262.4 136.1h.9M262.9 76.9h.9M262.1 108.6h.9M258.9 122.8h.9M261.1 103.8h.9M260.3 74.1h.9M258.6 98.5h.9M261.5 122.8h.9M260.5 112.1h.9M260.1 87h.9M263.6 125.2h.9M258.6 108.1h.9M262.9 109.7h.9M259.9 75.3h.9M262.8 109.7h.9M261.8 87.3h.9M262.3 115.1h.9M258.9 116.9h.9M259.4 91.6h.9M259.2 96.9h.9M262.1 129.8h.9M263.7 96.7h.9M264.7 96.7h.9M260.2 114.2h.9M261.8 102.6h.9M257 101.9h.9M255.3 112.4h.9M259.2 113.8h.9M259.7 115h.9M257.2 109.4h.9M256.6 124.2h.9M263.1 106.3h.9M259.3 126.5h.9M256.8 104.6h.9M268.1 106.8h.9M262.1 120.1h.9M260.7 93.8h.9M263.5 78.6h.9M259.4 87.2h.9M266 124.8h.9M257.2 87.9h.9M257.9 102.6h.9M261.2 106.4h.9M259.4 114h.9M265.5 105.8h.9M257 86.3h.9M259.5 98.1h.9M262.2 111.5h.9M263.1 115h.9M264.4 111.5h.9M262.5 97.5h.9M267.7 79.6h.9M260.2 120.5h.9M262 105.7h.9M263.9 111.1h.9M260.6 116.2h.9M260.7 100.1h.9M260.2 98h.9M259.7 125.5h.9M258.3 120.1h.9M260 89h.9M257.2 101.3h.9M262.6 98.4h.9M257 112.7h.9M267.3 111h.9M266.3 99.3h.9M264.6 112.6h.9M260.9 121.2h.9M259.8 105.7h.9M264.9 93.1h.9M262 120.1h.9M263.1 91h.9M259.5 95.9h.9M264.5 117.7h.9M259.2 105.6h.9M261.8 106.3h.9M256.6 96.9h.9M259.6 96.4h.9M262.9 123.8h.9M260.2 124.5h.9M260.2 91.4h.9M263.7 104.1h.9M261.3 99.9h.9M265 101h.9M254.7 84.4h.9M263.1 122.5h.9M262.9 90.5h.9M257.1 117.1h.9M257.8 95.6h.9M263.9 87h.9M258.5 124.9h.9M259.7 100.1h.9M263.2 109.6h.9M260.5 109.7h.9M262.8 105.1h.9M259 120.3h.9M262.3 119.1h.9M264.5 96.5h.9M262.4 93.9h.9M255.3 113.6h.9M263.3 125.9h.9M261.6 73.5h.9M258.9 90.4h.9M265.4 100.7h.9M256.6 120h.9M266.7 113.8h.9M259.7 102.3h.9M265.9 119h.9M261.3 83.4h.9M257.7 103.8h.9M261.7 100.2h.9M262.4 120h.9M263 118.3h.9M264.4 116.6h.9M258.9 101.9h.9M262.8 109.4h.9M263.5 109.7h.9M260.7 101.3h.9M258.8 102.6h.9M258.8 85.1h.9M263.6 108.4h.9M263.7 119.7h.9M259.1 105.9h.9M257.7 85.4h.9M264.9 113.4h.9M257.1 105h.9M261.9 110.6h.9M259.2 100.1h.9M256.5 102.1h.9M261.8 116.9h.9M260.9 108.8h.9M265.5 92.7h.9M267.8 90.5h.9M260.9 92.9h.9M264.3 93.7h.9M264.4 110.3h.9M260 110.7h.9M259 92.8h.9M266 121.9h.9M260.4 106.5h.9M261.4 131.4h.9M260.6 110.9h.9M261.1 115.4h.9M259.8 122.3h.9M263.6 97.7h.9M265 115.8h.9M260.4 110.8h.9M257.6 109.2h.9M261.6 115.9h.9M257.3 86h.9M259.7 112.5h.9M264.9 103h.9M268 123.7h.9M262.5 112.2h.9M258.5 110.1h.9M263.6 109.9h.9M255.1 113.7h.9M259.5 103.7h.9M265.7 84.1h.9M263.6 107.5h.9M257.6 107.6h.9M256.8 111.1h.9M263.9 70.6h.9M261.3 83.4h.9M259.8 98h.9M262.6 95.9h.9M259.8 115.5h.9M256.1 107.8h.9M263.7 102.8h.9M259.6 104h.9M258.6 117.5h.9M257.7 116.4h.9M262.2 98.5h.9M259.2 101.3h.9M263.2 134.7h.9M260.7 104.4h.9M264.5 88.1h.9M260.4 114.6h.9M259.6 102.3h.9M255.9 125.7h.9M258.4 94.2h.9M263.5 121h.9M270 122.9h.9M257.9 110h.9M258.5 73h.9M262.4 114.1h.9M262.8 123.1h.9M259.6 99.3h.9M261.7 102.5h.9M256.9 82.8h.9M260.6 123.1h.9M264 127.6h.9M266.1 110h.9M261 100.4h.9M260.7 100.7h.9M262.7 90.7h.9M264.6 126.2h.9M262.8 117h.9M259.3 107.5h.9M262.5 94.1h.9M264.2 99.1h.9M259.5 111.5h.9M257.7 119.7h.9M262.9 93.5h.9M262.5 92.5h.9M264.2 68.2h.9M261.7 108.1h.9M259.7 83.2h.9M260.2 122.3h.9M258.6 113.1h.9M258.8 115h.9M259.9 112h.9M260.1 117.7h.9M264.6 113.1h.9M258 106.4h.9M261.3 111.8h.9M259.8 96.5h.9M265.7 106.8h.9M262.2 105.7h.9M260.4 85.3h.9M263.8 101.3h.9M261.7 103.5h.9M260.1 105.9h.9M265.8 104.8h.9M263.5 97.7h.9M266.3 116.7h.9M264.7 89.9h.9M263.7 84h.9M261.9 89.7h.9M258.4 112.4h.9M263.5 127.6h.9M261.7 111.6h.9M263.4 103.5h.9M261.5 94.2h.9M259.5 108.1h.9M258.7 109.8h.9M263.5 84.7h.9M265.1 114.9h.9M260.7 90.9h.9M262.8 93.2h.9M265.4 123.9h.9M259.1 101.8h.9M260.5 113.3h.9M258.3 118.7h.9M264.8 131.1h.9M262.2 127.2h.9M260.2 99.9h.9M256.8 111h.9M261 101.9h.9M264.3 120.3h.9M260.7 110h.9M260.3 109.4h.9M263.3 126.9h.9M258 128.5h.9M261.6 99.6h.9M263.2 103.6h.9M259.3 118.5h.9M259.2 107h.9M262.2 96.5h.9M261.2 80.4h.9M260.8 117.9h.9M262.1 97.1h.9M262.1 76.4h.9M258.9 104.7h.9M259.6 85.4h.9M262.8 141.2h.9M264.7 85.7h.9M265.3 105.8h.9M259.1 131.5h.9M264.6 94.9h.9M263.6 91.2h.9M261.4 89h.9M262.9 89.1h.9M263.8 106h.9M266.5 115.9h.9M258.6 112h.9M263.2 106.1h.9M261.1 100h.9M260.9 112.3h.9M264.7 105h.9M263.8 93.5h.9M258.7 101.1h.9M260.7 74h.9M262.2 75.9h.9M257.6 121.5h.9M263.9 113.5h.9M261.3 123.7h.9M262 121.7h.9M262.5 98.1h.9M266.6 119.3h.9M261.6 120.1h.9M260.5 109.3h.9M266.4 94.6h.9M260.1 110.5h.9M260.1 110.6h.9M257.6 92.9h.9M264.6 99.1h.9M262.3 99.3h.9M262.8 92.5h.9M262 119.6h.9M261.2 102.6h.9M259.3 114.4h.9M259.3 91.4h.9M262.7 94.4h.9M261.9 120h.9M266.1 87.1h.9M259.4 121.8h.9M260.2 89.5h.9M258.7 102.8h.9M265.4 117.7h.9M258.1 121.1h.9M263.7 109.8h.9M265.6 106h.9M261.1 115.4h.9M263.6 97.8h.9M255.6 125h.9M260.5 105.7h.9M256.9 105.6h.9M262 131.5h.9M261.6 101.3h.9M259.4 123.1h.9M264.2 140.2h.9M262.5 114.1h.9M260.1 108.8h.9M260.1 93.1h.9M257.4 112.4h.9M261 85.2h.9M267.5 85.7h.9M259.6 90.5h.9M262.7 87.3h.9M260 100.8h.9M263.8 113.3h.9M262.8 96.7h.9M260.9 92.2h.9M256.6 102.3h.9M260.1 109h.9M264.9 127.4h.9M260.9 96.3h.9M263.3 100.8h.9M260.2 123.7h.9M256.3 104.3h.9M262.7 95.6h.9M262.4 107.1h.9M259.9 94.8h.9M260.5 95.2h.9M262.4 126.1h.9M259.9 109.8h.9M262.5 98.9h.9M261 92.9h.9M255 86.1h.9M261.1 132.2h.9M259.9 106.6h.9M259.2 95.7h.9M262.7 88.7h.9M260.2 82.2h.9M263.1 118.6h.9M264.6 110.8h.9M261.9 120.3h.9M257.2 94.3h.9M259.5 124h.9M264.1 89.2h.9M260.8 92.6h.9M259.3 98.9h.9M261.3 135.8h.9M263 115h.9M262.3 95.2h.9M263.4 125.3h.9M259.3 109h.9M260.8 107.1h.9M260.9 93.3h.9M262.5 151.5h.9M262.5 151.5h.9M260.8 150.5h.9M261.8 139.5h.9M261.5 120.2h.9M263.6 134.1h.9M261.4 127.4h.9M264.3 154.2h.9M257.8 129.4h.9M264.7 122.2h.9M261.4 116.7h.9M264.5 128.6h.9M262 133h.9M263.8 118.1h.9M265.4 153.2h.9M260.5 125.2h.9M262 128.3h.9M261.4 128h.9M262.3 143.7h.9M258 155.3h.9M261.4 152.7h.9M261.2 130.1h.9M260 145.5h.9M261.4 118.6h.9M258.2 153.5h.9M265.1 124.3h.9M262.9 138.5h.9M266.3 146.2h.9M259.7 147.9h.9M259.1 143.7h.9M262.5 143.1h.9M257.9 149.1h.9M262.4 149.4h.9M260.2 117.7h.9M261 140.9h.9M262.4 132.4h.9M261.9 129h.9M266.2 144.6h.9M263.3 119.2h.9M258.8 146.3h.9M264.1 150.6h.9M258.6 156.8h.9M262 147.6h.9M258.9 156.1h.9M259.8 132.2h.9M264.9 134.4h.9M260.5 157.7h.9M260.3 118.6h.9M260.5 127.9h.9M261.1 135.4h.9M265.2 118.8h.9M259 136.3h.9M258.9 151.2h.9M263.2 125.8h.9M258 118.4h.9M260.9 156.1h.9M264.5 137.4h.9M261.8 149.1h.9M260.7 120.5h.9M260.1 154.6h.9M259.6 124.6h.9M260.4 150h.9M262.1 131.6h.9M264.7 129.5h.9M264.1 126.6h.9M260.5 156.4h.9M260.1 138.3h.9M263.4 153.4h.9M257.5 153.3h.9M260.7 151.8h.9M261 152.4h.9M259.2 119.2h.9M259.4 135h.9M262.6 147.9h.9M257.9 138.2h.9M259.6 156.3h.9M260.2 149.5h.9M262 132.2h.9M258.5 129.3h.9M264.3 132.7h.9M261 117.1h.9M261.1 117.3h.9M260.9 123.5h.9M260.2 139h.9M259.4 126.7h.9M264.5 148.1h.9M262.2 122.2h.9M261.5 148.4h.9M264.1 116.9h.9M260.1 158.1h.9M263.2 125.1h.9M261.8 137.5h.9M259.6 124.2h.9M263.5 136.7h.9M258.2 123.5h.9M263.3 128.8h.9M259.6 131.7h.9M262.7 118.5h.9M265 153.7h.9M263.1 119.6h.9M260.3 136.6h.9M261.7 128.8h.9M260.9 130.5h.9M259 142.1h.9M259.1 136.4h.9M261.8 117.6h.9M263 138.1h.9M257.5 120h.9M261.5 158.3h.9M262.9 134.4h.9M262 129.6h.9M259.3 142h.9M264.2 155.2h.9M258.8 125.2h.9M263.2 126.9h.9M265.5 142.6h.9M256.9 154.5h.9M262.3 123.2h.9M262.4 125.9h.9M262.2 123.5h.9M259.9 124.1h.9M261 147.5h.9M258.4 132.3h.9M262 139h.9M263 142.2h.9M260.1 141.3h.9M259.5 130.2h.9M260.6 116.5h.9M261.7 138.7h.9M261.8 143.2h.9M261.4 132.2h.9M261.8 132.1h.9M258.6 141.5h.9M255.2 131.4h.9M263.1 130.9h.9M265 127.2h.9M258.3 151.6h.9M260.1 131.1h.9M262.4 141h.9M263.9 121.5h.9M263.2 132.6h.9M264.7 124.4h.9M261.5 124.5h.9M262.6 149.7h.9M262.6 155.4h.9M260.6 126.6h.9M264.5 156.3h.9M263.1 118.6h.9M264 129.5h.9M260.7 140.8h.9M264.1 130.4h.9M259.2 153.1h.9M262.6 131.7h.9M255.5 119.8h.9M259.3 158.6h.9M263.4 119.1h.9M260.6 145.5h.9M262.1 141.9h.9M257.8 119h.9M265.3 125h.9M263.1 142.4h.9M261.6 117.3h.9M262.6 157.3h.9M262.4 130.8h.9M265 137.2h.9M262.2 121.2h.9M258.2 157.9h.9M261.1 145.1h.9M264.7 138.5h.9M263 155.6h.9M260.7 131.4h.9M263.1 122.9h.9M261.9 120.4h.9M263.1 152.6h.9M257.9 137.3h.9M259.5 117.1h.9M263.2 155.6h.9M261.1 128.9h.9M262.5 146.6h.9M266.3 120.3h.9M260.9 133h.9M262.2 120.8h.9M260.3 156.5h.9M260.2 133.1h.9M261.5 140.9h.9M258.2 154.1h.9M256.7 141.4h.9M264.9 127.4h.9M261.4 134.1h.9M264.3 133.6h.9M261.9 146.9h.9M262 137.2h.9M263.2 139.8h.9M263.3 120.3h.9M258.8 121.6h.9M264.5 140.2h.9M259.4 137.4h.9M262.1 146.3h.9M267.7 134.7h.9M261.8 153.2h.9M265.6 117.9h.9M260.8 141.2h.9M263.1 158.3h.9M261.8 146.1h.9M262.6 118.6h.9M259.7 145.6h.9M259.5 142.3h.9M262.4 117.5h.9M258 125.5h.9M259.7 143.4h.9M263.2 151.7h.9M260.2 142.2h.9M259.6 142.9h.9M259.1 120.9h.9M262 135.9h.9M260.8 119.6h.9M262 117h.9M261.2 122h.9M266 141.5h.9M260.6 142.2h.9M257.1 135.6h.9M261.9 130h.9M261.7 122.8h.9M262 124.2h.9M257.9 145.4h.9M264.3 127.6h.9M261.6 142.8h.9M261.6 125.9h.9M258 158.1h.9M262.8 122.8h.9M261.5 129.2h.9M264.8 152.5h.9M260.7 148.1h.9M258.8 145.5h.9M262 137h.9M259.5 120.4h.9M262.6 117.7h.9M259.1 133.2h.9M261.4 154h.9M261.1 117.4h.9M261.6 118.1h.9M260.5 154.9h.9M259.8 130.6h.9M261.5 130.5h.9M260.3 130.8h.9M262 128.1h.9M261 158.4h.9M256.4 145.6h.9M261.5 144.4h.9M264.9 131.3h.9M262.4 154.6h.9M263.1 147h.9M262.7 151.3h.9M260.6 156.7h.9M258.6 138.7h.9M263.5 150h.9M264.1 138.3h.9M263 150h.9M262.7 125.2h.9M262.6 153.9h.9M261.6 126.1h.9M262.3 130.9h.9M261.7 152h.9M262.4 142.7h.9M259.5 142.5h.9M260.2 139.5h.9M263 130.2h.9M260.9 158h.9M256 151.7h.9M262 129.2h.9M256.4 154.7h.9M266.1 123h.9M263.3 143h.9M263.2 157.1h.9M260.1 126.2h.9M259.1 148.3h.9M261.2 116.5h.9M261.7 119.7h.9M259.9 121.3h.9M262 121.4h.9M263.3 155.5h.9M263.1 157.5h.9M259.3 141.7h.9M256.7 140.9h.9M261.7 141.4h.9M260.2 133.5h.9M262.7 125.6h.9M265.5 125.4h.9M265.5 119.4h.9M262.3 130.1h.9M264.2 121.6h.9M265.5 154.8h.9M261.8 157.6h.9M262.3 139.6h.9M263.6 121.4h.9M261.6 142.4h.9M260.5 154h.9M260 153.3h.9M261.7 149h.9M260.3 122.2h.9M263.5 144.5h.9M260.9 122.4h.9M265.1 118.9h.9M264.5 126h.9M258.8 119.7h.9M264.2 147.9h.9M260.8 150.4h.9M264.8 148.4h.9M262.9 157.9h.9M261.6 119.4h.9M263.2 150h.9M260.4 132.1h.9M262.5 146.6h.9M262.6 135.9h.9M261.4 140.3h.9M262.6 128.2h.9M259.4 150.2h.9M263 146.5h.9M258.9 152.8h.9M263.1 144.9h.9M262.8 123.5h.9M263.3 118h.9M260.4 158h.9M268.7 123h.9M261.2 127.7h.9M262.1 155.3h.9M260 151.9h.9M265 122.1h.9M260.7 150.5h.9M264 120.3h.9M259.6 135.9h.9M262.5 117.1h.9M260.9 137.4h.9M263.9 153.1h.9M261.1 133.1h.9M259.8 139.9h.9M262.8 155.7h.9M259 124.1h.9M259.6 120.7h.9M263.5 118h.9M257.5 131.5h.9M263.5 134h.9M260.9 150.4h.9M259.7 118h.9M262.3 127.6h.9M263.2 130.4h.9M260.4 129.4h.9M261.4 123.1h.9M263.6 144.2h.9M263.5 153.9h.9M261.7 116.8h.9M260 157.3h.9M259.6 147.2h.9M260.4 137.9h.9M263.3 157h.9M263.1 145.6h.9M262.5 121.9h.9M265 132.3h.9M261.1 134h.9M260.9 157.9h.9M260.9 140.6h.9M266.1 153.5h.9M257.1 142.3h.9M262.5 142.3h.9M262.8 140.7h.9M262 145.3h.9M267.1 125.7h.9M264.5 139.1h.9M263.6 120.3h.9M259.8 144.1h.9M263 152.6h.9M261 143.7h.9M261.9 121.9h.9M262.3 143.5h.9M260.7 124h.9M263.3 129.4h.9M265.5 147.7h.9M264.2 150.6h.9M262.3 153.9h.9M257.5 139.7h.9M264.3 129.3h.9M264.3 146.2h.9M261.4 118.4h.9M260.8 158h.9M263.3 125.5h.9M260 151.5h.9M263.7 116.5h.9M259.4 154.5h.9M259.8 119.8h.9M261.9 141.7h.9M258.6 146.6h.9M261.9 156.9h.9M263.1 149.4h.9M258.9 142.5h.9M264 119.2h.9M260.6 117.8h.9M263.1 155.3h.9M262.4 134.9h.9M260.8 157.3h.9M260.7 154.3h.9M258 132.7h.9M260.3 136.4h.9M260.1 120.7h.9M265.6 120.5h.9M264.2 151.9h.9M258.8 131.9h.9M263.7 124.6h.9M262.4 126.1h.9M261 134.7h.9M262.9 137h.9M263.7 134.6h.9M260.6 141.2h.9M261.3 134.8h.9M262.3 121h.9M259.7 144h.9M262.3 140.1h.9M261.7 140.2h.9M260.4 122.1h.9M260 148.3h.9M262.6 140.1h.9M263.9 127h.9M262.6 142.1h.9M260 122.6h.9M263.6 136h.9M262.3 154.5h.9M263.2 143.2h.9M264.5 152.5h.9M259.9 140.1h.9M261.6 143.3h.9M260.5 144.3h.9M259.9 123.7h.9M266.4 120.8h.9M264 126.8h.9M257.9 126.3h.9M262.8 121h.9M260.6 119.9h.9M264.5 151.3h.9M262.1 120.8h.9M261.5 151.9h.9M262.2 147.2h.9M262.8 125.3h.9M262 152.6h.9M261.4 118h.9M261.6 119.3h.9M263 158.6h.9M259.4 131.8h.9M261.9 119.6h.9M261.6 135.9h.9M260.8 136h.9M263.5 133.9h.9M259 135.3h.9M261.1 134.1h.9M260 129.9h.9M263.1 118.3h.9M260.8 155.2h.9M262 148.8h.9M262.8 158.4h.9M258.3 155.8h.9M262.9 150.1h.9M260.2 120.6h.9M261.3 145.4h.9M261.6 133.3h.9M263.7 145.5h.9M263.6 117h.9M265.9 150.5h.9M262.3 142h.9M260.8 143h.9M260.8 149.6h.9M263.4 155.5h.9M265.5 142.2h.9M262.7 150.1h.9M260.6 157.7h.9M262.5 121.3h.9M262.5 144.2h.9M262 158.2h.9M260.2 132.7h.9M256.2 138.5h.9M260.7 129.6h.9M264.3 143.5h.9M262.4 152.7h.9M256.9 131.7h.9M261.9 141.8h.9M257.8 121.7h.9M266.4 144.9h.9M262.3 149.3h.9M259.2 150.8h.9M263.7 147.8h.9M260.1 148.6h.9M263.2 136.6h.9M261.9 142.9h.9M259.3 117.8h.9M263.4 150h.9M258.9 119h.9M264.9 144.5h.9M262 138.3h.9M259.6 118.2h.9M257.8 125.7h.9M265.5 118.7h.9M265.2 135.9h.9M259.1 145.2h.9M265.6 130.2h.9M262.3 129.7h.9M261.4 156.9h.9M261.7 154.1h.9M261.3 118.7h.9M265.1 128.2h.9M262.2 123.9h.9M257.8 150.7h.9M266.6 117.5h.9M263.9 146h.9M259.5 152.7h.9M261.1 143.5h.9M259.9 143.8h.9M262 156.2h.9M262.8 122.9h.9M262.4 121.9h.9M260.6 150.3h.9M260.1 135.4h.9M263.8 121.9h.9M261.7 142.7h.9M266.9 137.2h.9M260.1 148.4h.9M263.7 138.9h.9M262 145.5h.9M260.2 123.9h.9M265 151.9h.9M262.2 157.3h.9M259.9 120.6h.9M261.2 151.4h.9M264.2 135.5h.9M259.2 128.7h.9M265 144.9h.9M263.4 119.5h.9M261.3 144.4h.9M264.9 150.3h.9M265.8 155.9h.9M263.2 120.7h.9M262.3 149.5h.9M266 120.8h.9M265.3 139.4h.9M259.8 119.3h.9M261.4 155h.9M261.4 122.6h.9M261 117.3h.9M258.5 128.7h.9M263.9 153h.9M262.1 116.6h.9M262.1 124.8h.9M265.1 149.8h.9M260.6 117.7h.9M261.8 155h.9M262.5 153.2h.9M260.9 158h.9M261.6 133.7h.9M263.6 141.6h.9M261.9 155h.9M264.9 137.8h.9M260.2 121.5h.9M262.4 154.8h.9M258.7 131.7h.9M261.6 151.5h.9M260.3 137.1h.9M265 144.2h.9M263.6 147h.9M263 158.1h.9M266.1 134.2h.9M265.2 139.9h.9M263.5 129.5h.9M260.3 150.9h.9M258.6 117.2h.9M261.8 157.8h.9M261.1 150.4h.9M260.4 131.6h.9M261.2 153h.9M258.2 147.7h.9M265.3 137.5h.9M259.3 126.7h.9M260.4 122.2h.9M263.2 145.3h.9M258.2 130.9h.9M264 157.7h.9M264 121.1h.9M261.2 130.3h.9M259.5 120.6h.9M260.8 149.8h.9M257.7 137.7h.9M265 127.3h.9M262 157.6h.9M260.2 123.2h.9M259.8 128.8h.9M263.2 125.4h.9M265.3 151.8h.9M259 125.9h.9M260.6 134.7h.9M257.9 152.3h.9M263.4 153.1h.9M262.3 122.5h.9M267 141.8h.9M261.6 147.2h.9M260.9 143.1h.9M260.3 129.8h.9M263.8 152.9h.9M258.2 151.8h.9M263.6 131.2h.9M262.5 120.9h.9M260.7 130.3h.9M259.8 118.8h.9M264.3 146.7h.9M266.1 143.7h.9M260.9 142.9h.9M263.1 143.5h.9M265.9 147.3h.9M260.5 125.2h.9M261.3 146.7h.9M259.1 141.1h.9M261.6 138.7h.9M261.7 116.6h.9M260.9 144.8h.9M260.2 129.5h.9M258.3 144.8h.9M258.8 124.9h.9M259.7 142.3h.9M263.4 157.7h.9M260.7 136.6h.9M260 144.4h.9M263.4 147.5h.9M263.2 146.3h.9M260.2 158.6h.9M260.5 127.8h.9M263.4 135.5h.9M262.7 131.8h.9M260 134.6h.9M262.4 142.6h.9M261.8 139.3h.9M264.4 138.6h.9M259.9 119.9h.9M263.9 144h.9M262.9 152.2h.9M259.6 155.1h.9M264.3 144.4h.9M264 134.5h.9M258.9 134.1h.9M266.4 127.9h.9M259.3 130.8h.9M259.8 155.1h.9M261.2 142.2h.9M263.7 143h.9M263.2 153.9h.9M261.7 133.8h.9M265 126h.9M262.8 156.8h.9M265.1 136.3h.9M268.4 153.6h.9M262.3 125.9h.9M256 135.1h.9M260.9 155.9h.9M259.4 136.9h.9M262.1 148.5h.9M262.1 149.9h.9M259.1 130.5h.9M259.2 141.6h.9M261.3 119.5h.9M261.4 120h.9M255.9 122.7h.9M264.1 141.3h.9M262 120.5h.9M261.9 155.6h.9M262.6 125.9h.9M259.5 143.5h.9M261.8 122.1h.9M264.3 157.4h.9M264.4 134.4h.9M263 155.7h.9M261.3 146.2h.9M260 134.8h.9M265 152.8h.9M263.1 129.4h.9M260.9 137h.9M256.9 149.2h.9M259.9 136h.9M257.4 139.8h.9M264.8 157.2h.9M262.3 128.7h.9M260.2 128.5h.9M261.3 120.3h.9M268 118.9h.9M264.7 143h.9M258.8 131.5h.9M261.6 133h.9M259 156.4h.9M257.9 128.1h.9M262.3 147.2h.9M267.6 140.7h.9M265.6 132.5h.9M262 137.4h.9M261 146.8h.9M262.4 121.8h.9M264.3 154.7h.9M258.5 133.2h.9M257.5 150.9h.9M266.3 119.6h.9M262.6 119.1h.9M265.7 128.5h.9M262.5 121.3h.9M265.4 126.3h.9M260.5 131.1h.9M263.1 127.1h.9M265.6 120.2h.9M264.3 149.5h.9M260.8 127.9h.9M264 151.1h.9M260.3 139.2h.9M258.5 144.3h.9M263.1 131.9h.9M265.2 131.7h.9M263.9 120.6h.9M258.9 123.2h.9M264 155.9h.9M263.5 151.3h.9M260.8 156.8h.9M256 128.7h.9M264.3 144h.9M264 117.5h.9M263.1 149.6h.9M257.8 118.3h.9M258.4 126.7h.9M264.3 126.5h.9M263.8 133h.9M263.1 121.3h.9M261.3 148.8h.9M262.8 122h.9M260.6 121.5h.9M261.2 133.1h.9M259.8 130.7h.9M262.5 149h.9M260.9 137.9h.9M264.2 133.9h.9M263.6 145.3h.9M260 156.9h.9M266.3 118.6h.9M259.2 124.6h.9M263 143.2h.9M264.5 136.2h.9M265 133.7h.9M256.6 118.2h.9M264.3 135.1h.9M264.8 128.1h.9M265.3 124.8h.9M256.6 154.4h.9M260.3 134.1h.9M261.7 119.4h.9M260.8 123.9h.9M265.1 119.8h.9M260.3 151.8h.9M264.8 125.8h.9M263.2 146.9h.9M258.4 121.7h.9M259.5 125.6h.9M260.8 142.8h.9M262.1 134.2h.9M264.3 138.8h.9M261.5 118.9h.9M264.1 135.3h.9M258.1 155.4h.9M254.6 136.1h.9M261.1 157.8h.9M263 152.9h.9M261 137.9h.9M259.5 139.2h.9M262.9 155.7h.9M266.5 144.3h.9M261.6 146.5h.9M260.2 146.6h.9M259.9 140h.9M266.6 157.2h.9M261.8 157.3h.9M263.4 148.7h.9M264.8 128.4h.9M264.5 119.1h.9M259.7 126.8h.9M264.2 155.4h.9M263.9 123.8h.9M263.1 124.1h.9M264.3 123h.9M260.5 128h.9M261.7 147.6h.9M260.6 137.8h.9M263.7 140.1h.9M260.3 157.2h.9M262.8 135.8h.9M259.3 147.5h.9M261.6 118.5h.9M261 130.5h.9M261.6 124.5h.9M262.2 157.3h.9M261.5 128.6h.9M261.4 124.8h.9M256.9 139.2h.9M264.6 148h.9M260.4 138.1h.9M261.2 153.9h.9M263.9 155.3h.9M264.1 156.2h.9M264.4 157.6h.9M261.7 154.3h.9M262.1 155.4h.9M262.3 157.4h.9M263.1 158h.9M261.1 147.2h.9M264 158.6h.9M262.5 149.8h.9M264.1 157.9h.9M262.8 150.8h.9M263.2 151.3h.9M260.4 153.9h.9M261 150.5h.9M259.3 144.5h.9M261.3 154.2h.9M261.5 153.2h.9M263.5 155.8h.9M259.4 156.7h.9M268.2 152.4h.9M261.6 157.1h.9M264.3 147.6h.9M263.9 155.1h.9M256.9 142.4h.9M261.3 156.2h.9M264.8 144.4h.9M257.1 155.8h.9M263.4 148.1h.9M260 145.6h.9M260.9 158.5h.9M262.3 156.5h.9M258.2 158.2h.9M262.2 152.9h.9M260.6 155.1h.9M260.4 148h.9M263.2 141.6h.9M268.8 153.3h.9M262.5 151.1h.9M262.9 156.8h.9M261.7 157.2h.9M260.4 158.4h.9M262.4 147.5h.9M264.8 153h.9M262.2 158.4h.9M263.6 147.5h.9M261.4 145.9h.9M266.8 155h.9M258.6 154.1h.9M263 149.3h.9M262.9 146.6h.9M262.4 153.8h.9M259.6 150.6h.9M259.6 154.5h.9M261.4 153.1h.9M262 156.7h.9M259.4 158.2h.9M259.7 154.4h.9M262.9 141.7h.9M263.9 147.3h.9M260.7 156.3h.9M260.5 158.3h.9M260.4 144.1h.9M266.7 157.2h.9M262.8 145.8h.9M261.7 156h.9M263.8 158.3h.9M266.4 158.2h.9M264.1 158.1h.9M259 152.1h.9M261.7 155.6h.9M261 156.4h.9M261.1 150.5h.9M259.4 142.9h.9M261 156.2h.9M259.7 157.7h.9M262.5 150.4h.9M261.9 153.3h.9M259 157.8h.9M258.4 155.9h.9M260.9 157.6h.9M263.1 157.9h.9M262.8 158h.9M261.7 153.7h.9M255.3 157.9h.9M260.8 142.4h.9M260.4 154.8h.9M261.2 149.8h.9M259.4 144.4h.9M261 153.9h.9M260.5 151.9h.9M267.2 149.7h.9M263.2 152.4h.9M261.4 154.6h.9M261.7 156.3h.9M261.6 158.1h.9M262.2 157.5h.9M261 156.7h.9M261.8 149.5h.9M263.9 153.9h.9M263.5 157.7h.9M262.4 156.3h.9M264.5 157.4h.9M262.3 157.6h.9M259.9 158.5h.9M258.4 154h.9M260.4 157.5h.9M261.7 141h.9M262.6 146.6h.9M264 148.6h.9M260.7 157.7h.9M260.2 155h.9M263.3 155.4h.9M264.2 157.5h.9M260.9 151.5h.9M262.5 152.2h.9M264.5 155.3h.9M262.5 148.7h.9M261.7 156.3h.9M257.7 153h.9M264.4 155.6h.9M263.1 158.6h.9M262.1 150.6h.9M260.9 157.5h.9M259.3 143.9h.9M261.6 157.1h.9M261.6 155.5h.9M264 156.8h.9M259.4 157.2h.9M264.7 153.5h.9M261.9 153.4h.9M264.2 158.6h.9M259.9 158.2h.9M262.5 131.8h.9M264.2 154.3h.9M262 151.1h.9M258.9 157.3h.9M261.2 156.8h.9M262.9 158.4h.9M259 151.6h.9M259 157h.9M262.3 148.9h.9M259.9 156h.9M263.2 153.3h.9M259.5 147.3h.9M258.2 157.7h.9M260.3 153.8h.9M264.8 138.2h.9M260.1 151.8h.9M261.8 144.6h.9M262.3 154h.9M259.9 156.3h.9M264 158.5h.9M262.2 156.9h.9M262.7 154.8h.9M258.5 157.7h.9M258.4 156.8h.9M256.4 155.1h.9M261.4 156h.9M261.4 157.4h.9M263.3 157.5h.9M264.8 155.4h.9M261.3 157.5h.9M261.3 158.3h.9M262.7 144.7h.9M264.9 155.5h.9M260.2 155h.9M263.1 157.6h.9M261.3 134.6h.9M261.2 153h.9M263.4 157.7h.9M260.3 157.7h.9M259.7 151.6h.9M263.1 158.5h.9M261.8 148.4h.9M261.3 147.2h.9M261.6 153.1h.9M262.8 144.7h.9M261.1 157h.9M263.3 158.6h.9M262.6 154.1h.9M264.8 153.9h.9M264.3 155.9h.9M263.5 152.7h.9M261.4 152.4h.9M262.1 157.4h.9M260.7 156.8h.9M267.5 158.5h.9M261.4 152.2h.9M262.9 156h.9M264.5 155.9h.9M259.1 156.9h.9M260.2 150.9h.9M261 158.2h.9M259.9 146.5h.9M259.3 151.5h.9M260.8 156.4h.9M264.4 157.1h.9M263.3 157.1h.9M261.9 158h.9M261.9 131.5h.9M258.5 152.1h.9M263.2 138h.9M262.7 157.4h.9M259.7 153.1h.9M262.2 154.9h.9M261.5 156.9h.9M260.8 150.6h.9M259.9 150.3h.9M260.5 155.2h.9M260 158.5h.9M262.7 141.3h.9M262.6 158h.9M262.5 152.6h.9M261.5 155.3h.9M261 155h.9M265.9 157.4h.9M258.2 155.7h.9M264.2 156.9h.9M262.5 155.5h.9M262 152.6h.9M260.8 156h.9M261.4 150.2h.9M259.5 156h.9M259.1 142.7h.9M261.6 156.3h.9M258.6 153h.9M263.5 158.5h.9M264 146.6h.9M255 158.4h.9M258.8 144.8h.9M262.4 158h.9M262.3 149.6h.9M262.1 157.8h.9M262.7 158.2h.9M263.3 152.8h.9M263.6 148.9h.9M265.4 152.9h.9M261.9 154.8h.9M263.6 157.7h.9M258.6 158.5h.9M261.6 148.6h.9M259.4 151.2h.9M264.6 156.3h.9M266.5 157h.9M262.9 158.1h.9M259.3 148.9h.9M261.6 156.5h.9M261.9 154h.9M262.2 151.3h.9M264 155.5h.9M263.7 158.4h.9M256.6 147.9h.9M264.6 157.7h.9M260.9 158.5h.9M260.7 132.9h.9M264.7 156.3h.9M261.3 158h.9M259.1 154.3h.9M259.2 157.7h.9M262 155.6h.9M263.6 157.6h.9M264.8 154.8h.9M261.5 158.5h.9M260.9 139.9h.9M265.1 154.3h.9M260.9 156.4h.9M264.7 156.7h.9M262.3 157.6h.9M262.3 157.6h.9M261.4 147.1h.9M262.4 156.5h.9M260.9 151.5h.9M260.5 152.2h.9M261.6 157.1h.9M260.6 153.8h.9M262.5 158.4h.9M262 142.8h.9M261.3 154.2h.9M261.5 157.8h.9M261.4 155.4h.9M265.3 154.7h.9M261.8 153.4h.9M260.7 147.8h.9M261.3 149.9h.9M263.2 154.8h.9M261.5 154.3h.9M261.6 156.6h.9M261.3 158h.9M262.2 152.8h.9M262.6 156h.9M262.7 148.2h.9M258.6 155.8h.9M259.7 150.6h.9M256.7 152.9h.9M263.4 138.1h.9M264 157.3h.9M264.4 155h.9M262.1 154.5h.9M264.1 150.2h.9M261.8 150.6h.9M261.6 147.7h.9M258.8 158.6h.9M260.3 153.6h.9M260.7 154.6h.9M263.7 156.9h.9M265.1 158.5h.9M260.9 151.8h.9M262.6 147.1h.9M262.4 145.8h.9M260.3 158h.9M258.4 157.1h.9M260.4 141.3h.9M259 145.9h.9M261.2 157.1h.9M261.6 154.6h.9M261.5 152.9h.9M261.5 157.6h.9M262.8 156.3h.9M260 152.2h.9M263.6 149.5h.9M258.5 135.6h.9M262 153.8h.9M262.6 148.6h.9M260.3 155.7h.9M258.7 156.8h.9M263.1 158h.9M260.5 149h.9M263.4 156.5h.9M263.4 157.4h.9M261.8 157.5h.9M261.8 157.6h.9M263.8 157.4h.9M262.6 156.9h.9M260 148.4h.9M262.2 153.6h.9M262.9 155.4h.9M262.2 158.5h.9M262.2 138.4h.9M261.6 145.2h.9M261.6 143.9h.9M260 149.8h.9M259 155.2h.9M264.1 158h.9M260.6 153.1h.9M262.3 157.9h.9M258.9 155.3h.9M262.2 156.1h.9M260.2 156.8h.9M267.7 157.6h.9M259.8 152.8h.9M259.9 157h.9M263.7 158.6h.9M264.1 157.6h.9M257.7 156.3h.9M262.3 154.1h.9M263.6 156.3h.9M259.4 158.6h.9M263.2 152.5h.9M260.8 157.9h.9M259.9 157h.9M261.2 155.9h.9M260.9 147.3h.9M259.1 158.1h.9M266.2 158.1h.9M260.9 155.4h.9M260.4 142.7h.9M263.5 157.8h.9M261.7 149.6h.9M264.5 152.7h.9M261.3 157.7h.9M262.5 151h.9M262 148.5h.9M262.2 156.3h.9M261.4 156.2h.9M261.6 150.5h.9M265.1 137.2h.9M260.5 156.1h.9M260.8 153.3h.9M261.2 155h.9M263 156.8h.9M262.6 150.9h.9M263.7 154.1h.9M259.2 155.6h.9M262.3 156.6h.9M261.5 151h.9M261.3 142.7h.9M262.2 153.1h.9M258 151.8h.9M262.4 155h.9M262.1 156.6h.9M259 154.6h.9M261.7 151h.9M264.9 141.8h.9M261.1 150.6h.9M263 155h.9M261.4 150.6h.9M260.2 144.6h.9M260 154.3h.9M261.1 145.1h.9M264.4 150.6h.9M263.4 157.1h.9M260.5 156.1h.9M263.8 149.5h.9M261.6 149.5h.9M260.5 158.6h.9M262.7 158.2h.9M260.1 149.4h.9M258.8 151.9h.9M264.4 145.9h.9M258.3 144.5h.9M262.9 157.6h.9M258.9 156.8h.9M261.8 156.5h.9M261.5 156.8h.9M261 157h.9M257.6 158.4h.9M261.6 145.1h.9M261.8 151.4h.9M260.1 148.9h.9M261.7 158.3h.9M263.8 153.6h.9M260.4 157.3h.9M262.3 150.8h.9M259.6 147.1h.9M262.6 158.1h.9M263.1 157.2h.9M266.7 145.8h.9M263.6 154h.9M262.7 154.8h.9M264.6 148.5h.9M259.9 156h.9M263.9 154h.9M260.8 154.3h.9M260.6 153.9h.9M264 156.2h.9M262.3 157.5h.9M264.4 150.4h.9M259 153.6h.9M262.4 157.6h.9M260.8 140.5h.9M261.3 154.9h.9M258.1 148.1h.9M263.7 157.6h.9M262.3 157.2h.9M259.9 154.1h.9M259.2 157h.9M260.2 155.7h.9M264.6 154.8h.9M258.8 94.4h.9M281.4 71.7h.9M279.9 77.6h.9M295.8 60.9h.9M295.4 64.4h.9M273.8 68.6h.9M276.7 70.4h.9M251.6 95.6h.9M292.2 67.4h.9M270.3 72.6h.9M273.4 78.5h.9M281.4 64.4h.9M281.8 85h.9M292.6 60.2h.9M273.4 82h.9M275.9 88.3h.9M295.3 50.5h.9M280.5 67.4h.9M281.3 51.7h.9M248.5 100.9h.9M277.8 61.9h.9M262.9 95.2h.9M285.2 62.7h.9M280 64.2h.9M266.9 101.6h.9M270 82.8h.9M271.1 77.2h.9M270.5 67.2h.9M265.5 76.4h.9M270.1 101h.9M300.9 58.8h.9M264.5 87.6h.9M284 72.5h.9M295.6 59.7h.9M304.6 61.4h.9M263.6 85.5h.9M292.7 70.9h.9M286.2 60.5h.9M272.2 62h.9M264.9 80.4h.9M265.9 96.9h.9M276.2 86.4h.9M305.6 66.4h.9M281.1 80.1h.9M294.8 46.2h.9M278.9 59.9h.9M267.5 96.6h.9M297 52.2h.9M261.7 82.1h.9M266 85.7h.9M270.8 65.7h.9M292.6 57.5h.9M271.4 93.2h.9M277.8 90.5h.9M266.6 93.1h.9M269.6 84.4h.9M272 86.8h.9M277.7 83.1h.9M286.4 71.8h.9M265.8 109.4h.9M270.6 66.8h.9M279.5 80.5h.9M298.3 55.1h.9M276.9 70.2h.9M283.4 80h.9M274.4 82.8h.9M290.2 51.3h.9M292.7 73.7h.9M295.8 58.5h.9M278.5 69.2h.9M275 74.8h.9M267.5 70.2h.9M291.7 62h.9M271.8 82.6h.9M298.8 60.3h.9M276.8 75.9h.9M300 51.2h.9M281.2 87.6h.9M286.4 53.8h.9M270.9 83.1h.9M271.9 82.3h.9M280.7 61.3h.9M264.1 83.6h.9M264.1 84.6h.9M293.5 68.6h.9M279.4 79.3h.9M258.7 82.6h.9M264.6 86.7h.9M268.8 89.7h.9M276.6 94.8h.9M273.1 81.8h.9M256.7 90h.9M275.6 81.2h.9M271.8 87.2h.9M291.8 64h.9M293.6 72.9h.9M297.7 63.3h.9M268.9 63.3h.9M258.2 89h.9M296.5 65.1h.9M282.1 72.1h.9M266.2 92.6h.9M288.8 89.9h.9M298.2 60.4h.9M282 65.8h.9M289.8 50.4h.9M276.3 86.3h.9M262.9 84.2h.9M267.1 65.8h.9M270.2 102.2h.9M270.2 85.5h.9M265.8 100.8h.9M267.1 81.4h.9M268.1 78.6h.9M274 84.6h.9M278 66.7h.9M281.8 73.8h.9M258.4 91.2h.9M294.8 55.4h.9M290.7 65.1h.9M284.8 60.3h.9M264.6 83.5h.9M297.3 62.1h.9M273.8 84h.9M286.1 67.7h.9M287.7 65.3h.9M272 87.9h.9M289.3 56.6h.9M287.5 60.6h.9M275.5 62.2h.9M273.2 85.5h.9M284.8 76.8h.9M270.3 95.1h.9M277.9 66.3h.9M289.9 73.2h.9M279.1 74.2h.9M278.4 75.7h.9M265.4 90.7h.9M258.7 95h.9M261.5 85.8h.9M259.8 92.7h.9M287.7 57.3h.9M262.4 87.7h.9M262.9 91.9h.9M286.8 71h.9M266.5 93.6h.9M299.7 54.5h.9M295.6 51.5h.9M278.3 79.8h.9M282.2 69.7h.9M296.1 74.4h.9M292.3 72.3h.9M278.2 72.1h.9M278.6 79.1h.9M245.1 102h.9M280.5 69.9h.9M284.8 67.9h.9M281.9 64.5h.9M281 71.4h.9M294.8 57.3h.9M281.9 74.6h.9M271.4 79.4h.9M276.4 81.3h.9M257.8 99.5h.9M282.6 59.5h.9M276.6 76.7h.9M293.9 64.2h.9M285.1 86.2h.9M270.1 58.7h.9M275.6 60h.9M278.2 74.1h.9M302.6 46.5h.9M279.2 67.1h.9M302.9 58.3h.9M276.7 85h.9M258.4 98h.9M258.5 88.9h.9M282.8 71.7h.9M280.7 73.8h.9M290.6 63.6h.9M282.8 84.6h.9M286 46.4h.9M283.6 71.6h.9M268.2 69.8h.9M256.9 90.7h.9M265.5 77.9h.9M264.2 83.8h.9M272.1 65h.9M288 61.2h.9M293.5 51.8h.9M289.1 58.6h.9M263.4 82.3h.9M266.7 86.8h.9M287.5 70.9h.9M284 63.2h.9M288 64.2h.9M289.7 61.8h.9M269.1 90.3h.9M263.6 93.3h.9M266.5 76.5h.9M278.8 85h.9M254.8 87.6h.9M287 69.9h.9M269.7 81.7h.9M291.9 76.8h.9M296.1 66.7h.9M275.4 74.6h.9M288.3 63h.9M281.4 57h.9M278.6 81.4h.9M284.7 84.1h.9M293.4 72.3h.9M265.4 82.5h.9M293.8 67.8h.9M277.7 55.7h.9M275.4 71h.9M288.8 66.2h.9M282.7 68.2h.9M267.5 89h.9M285 60.5h.9M277.8 79.5h.9M293.5 64.4h.9M299.2 63.9h.9M255.5 79.6h.9M266.9 74.2h.9M276.7 72.2h.9M261.7 79.1h.9M283.9 64.7h.9M290.9 62.3h.9M307 61h.9M281.6 74.9h.9M276.8 69.3h.9M281.9 73.6h.9M276.9 69h.9M296 58.1h.9M281.1 84.6h.9M272.6 94h.9M293.9 53.6h.9M265.2 90.7h.9M267.2 85.1h.9M279.8 74.3h.9M289.1 80.6h.9M288.2 72.4h.9M269.6 84.6h.9M292 68.3h.9M276.9 79.2h.9M272.5 94.8h.9M270.1 84.3h.9M265.5 86.1h.9M255.6 90h.9M286.9 64.7h.9M276.6 69.3h.9M273.5 76.4h.9M280.7 67.5h.9M263.7 99.2h.9M264.4 84.9h.9M275.5 75.5h.9M287.7 51.9h.9M282.3 69h.9M282.4 73.7h.9M275.6 86.7h.9M274.2 66.4h.9M297.2 70.6h.9M283.8 57.6h.9M286.6 69.5h.9M283.4 61.8h.9M281 85.3h.9M287.8 56.9h.9M290.4 65.4h.9M270.5 90.5h.9M254 86.9h.9M295.3 57h.9M265.9 75.7h.9M277 81.6h.9M277.9 77.2h.9M287.4 60.9h.9M259.1 93.1h.9M270.3 71.4h.9M280.2 78.4h.9M260.1 82.4h.9M279 81.9h.9M281.6 70.9h.9M271.5 92.1h.9M263 77h.9M289 74.8h.9M276.6 77.8h.9M290.3 68.1h.9M271.7 80.1h.9M269.6 90.3h.9M273.6 78.2h.9M297.3 74.3h.9M280.1 68.2h.9M278.8 75.5h.9M298.2 70.6h.9M276.4 63.6h.9M274 85.8h.9M274.4 70.4h.9M282.4 67.9h.9M265.1 82.1h.9M285.6 65.5h.9M282.3 95.5h.9M283.3 61.5h.9M266.9 89.6h.9M284.8 76.2h.9M278.1 63.6h.9M266.5 103.7h.9M287.2 55h.9M273.6 91.2h.9M272.1 94.9h.9M288.9 54.6h.9M268.3 74.7h.9M263.4 96.6h.9M284.4 75.8h.9M282.9 75.5h.9M292.9 50.5h.9M286.6 61.7h.9M289.9 68.2h.9M272.9 68.7h.9M300.1 63.4h.9M281.5 66.9h.9M266.1 70.4h.9M286.1 74.1h.9M263.2 81.6h.9M272.5 89.6h.9M262.9 92.7h.9M262.6 85h.9M276.4 68.2h.9M297.4 71.2h.9M290.7 59.3h.9M257.8 83h.9M276.7 74.7h.9M276.2 66.8h.9M263.8 86.2h.9M274 85.9h.9M283.9 66.1h.9M295.8 71.7h.9M263.2 80.2h.9M270.1 76.7h.9M280.9 68.9h.9M280.2 71.6h.9M268.3 76.1h.9M299.3 52.1h.9M261.5 97h.9M291.7 67.3h.9M275.3 96.7h.9M289.2 64.6h.9M289.9 73.2h.9M289.1 64.2h.9M277.4 68.5h.9M277.2 72.8h.9" stroke="#2040dc" stroke-opacity="0.72" stroke-width=".9" fill="none"/><path d="M222.5 51.5H297.5V156.5H222.5Z M222.5 122.5H297.5" stroke="#d4a2e8" stroke-width="1" fill="none"/><rect x="248.9" y="82.9" width="23.2" height="8.2" fill="#fff"/><text x="260.5" y="89.4" font-size="6.8" text-anchor="middle" fill="#c040e0" letter-spacing="1" font-weight="bold">3631</text><rect x="248.9" y="135.4" width="23.2" height="8.2" fill="#fff"/><text x="260.5" y="141.9" font-size="6.8" text-anchor="middle" fill="#c040e0" letter-spacing="1" font-weight="bold">3528</text><rect x="221.5" y="45.7" width="113" height="112.5" fill="none" stroke="#333" stroke-width="1"/><path d="M221.5 158.2v3M230 158.2v1.6M234.98 158.2v1.6M238.51 158.2v1.6M241.25 158.2v1.6M243.48 158.2v1.6M245.37 158.2v1.6M247.01 158.2v1.6M248.46 158.2v1.6M249.75 158.2v3M258.25 158.2v1.6M263.23 158.2v1.6M266.76 158.2v1.6M269.5 158.2v1.6M271.73 158.2v1.6M273.62 158.2v1.6M275.26 158.2v1.6M276.71 158.2v1.6M278 158.2v3M286.5 158.2v1.6M291.48 158.2v1.6M295.01 158.2v1.6M297.75 158.2v1.6M299.98 158.2v1.6M301.87 158.2v1.6M303.51 158.2v1.6M304.96 158.2v1.6M306.25 158.2v3M314.75 158.2v1.6M319.73 158.2v1.6M323.26 158.2v1.6M326 158.2v1.6M328.23 158.2v1.6M330.12 158.2v1.6M331.76 158.2v1.6M333.21 158.2v1.6M334.5 158.2v3" stroke="#222" stroke-width="0.8" fill="none"/><path d="M221.5 158.2h-3M221.5 149.73h-1.6M221.5 144.78h-1.6M221.5 141.27h-1.6M221.5 138.54h-1.6M221.5 136.31h-1.6M221.5 134.43h-1.6M221.5 132.8h-1.6M221.5 131.36h-1.6M221.5 130.07h-3M221.5 121.61h-1.6M221.5 116.66h-1.6M221.5 113.14h-1.6M221.5 110.42h-1.6M221.5 108.19h-1.6M221.5 106.31h-1.6M221.5 104.68h-1.6M221.5 103.24h-1.6M221.5 101.95h-3M221.5 93.48h-1.6M221.5 88.53h-1.6M221.5 85.02h-1.6M221.5 82.29h-1.6M221.5 80.06h-1.6M221.5 78.18h-1.6M221.5 76.55h-1.6M221.5 75.11h-1.6M221.5 73.83h-3M221.5 65.36h-1.6M221.5 60.41h-1.6M221.5 56.89h-1.6M221.5 54.17h-1.6M221.5 51.94h-1.6M221.5 50.06h-1.6M221.5 48.43h-1.6M221.5 46.99h-1.6M221.5 45.7h-3" stroke="#222" stroke-width="0.8" fill="none"/><text x="212.24" y="175.3" font-size="13.4">10<tspan font-size="9.38" dy="-4.82">0</tspan></text><text x="240.49" y="175.3" font-size="13.4">10<tspan font-size="9.38" dy="-4.82">1</tspan></text><text x="268.74" y="175.3" font-size="13.4">10<tspan font-size="9.38" dy="-4.82">2</tspan></text><text x="296.99" y="175.3" font-size="13.4">10<tspan font-size="9.38" dy="-4.82">3</tspan></text><text x="325.24" y="175.3" font-size="13.4">10<tspan font-size="9.38" dy="-4.82">4</tspan></text><text x="197.38" y="163.2" font-size="13.4">10<tspan font-size="9.38" dy="-4.82">0</tspan></text><text x="197.38" y="135.07" font-size="13.4">10<tspan font-size="9.38" dy="-4.82">1</tspan></text><text x="197.38" y="106.95" font-size="13.4">10<tspan font-size="9.38" dy="-4.82">2</tspan></text><text x="197.38" y="78.83" font-size="13.4">10<tspan font-size="9.38" dy="-4.82">3</tspan></text><text x="197.38" y="50.7" font-size="13.4">10<tspan font-size="9.38" dy="-4.82">4</tspan></text><text x="225.3" y="42" font-size="13.7">ATP</text><rect x="259.2" y="144" width="5.2" height="12.5" fill="#48e8a8" fill-opacity="0.7" filter="url(#bl05)"/><path d="M408.1 95.4h.8M429.8 93.8h.8M415.7 70.6h.8M420 112.4h.8M427.3 93.2h.8M404.5 88.1h.8M408.3 97.7h.8M443 102.6h.8M416.1 115.1h.8M407.1 108.3h.8M415.1 87.8h.8M411.9 76.1h.8M405.2 109.3h.8M413.5 91.5h.8M417.5 90.8h.8M417.5 83.1h.8M423.1 95.1h.8M400.1 92h.8M402.5 84.9h.8M425.7 117.2h.8M413.2 98.2h.8M430 126.6h.8M420.8 129.9h.8M403.4 111.9h.8M423.1 123.1h.8M407.4 91h.8M420.3 83.4h.8M430.1 103.8h.8M439.1 101.1h.8M417 102.6h.8M424.8 103.1h.8M420.7 96.9h.8M425.7 93.5h.8M391.8 106.2h.8M413.7 111.3h.8M420.6 107.1h.8M422.4 86.5h.8M410.1 105.6h.8M426 76.3h.8M428.9 102.8h.8M418.4 77.6h.8M415.4 117.6h.8M414.1 109.8h.8M419.1 91.5h.8M429.6 91.4h.8M432.9 101.5h.8M412.9 67.2h.8M408.3 97.9h.8M409.7 94.5h.8M427.7 107.9h.8M419.9 73.2h.8M420.7 85.7h.8M422.6 92.6h.8M421.5 124.5h.8M416.5 93.4h.8M407.2 106.3h.8M411.4 92.9h.8M418.9 84.8h.8M421.7 110.7h.8M414 95.7h.8M413.5 85.4h.8M431.5 96.5h.8M413 104.2h.8M419.9 115.5h.8M414.5 109.4h.8M409 118.8h.8M402.4 83.7h.8M412.3 97.4h.8M409.4 117.9h.8M426.3 99.1h.8M406.1 119.1h.8M413.5 150.1h.8M424.3 80.3h.8M416.6 80.9h.8M422.7 122h.8M426.1 110.2h.8M401 95.9h.8M413.5 105h.8M408 112.4h.8M431.3 107h.8M416.5 102.8h.8M422.7 107.7h.8M434.8 95.8h.8M414.1 102.7h.8M418.4 110.9h.8M421.8 98.7h.8M415 124.9h.8M430.3 76.7h.8M425.9 126.1h.8M427.8 100.4h.8M418.2 93.8h.8M414.2 92.7h.8M414.1 95.1h.8M414 79.5h.8M401.2 116.5h.8M421.3 100.2h.8M425.8 96.8h.8M417.6 106.8h.8M412.7 108.3h.8M418.1 79.2h.8M413 145.8h.8M414 131.7h.8M414.8 117.9h.8M415.1 129h.8M416.7 143.2h.8M415.1 142.8h.8M417.6 124.7h.8M416.6 115.1h.8M418 143.7h.8M421.8 132.7h.8M412.4 140.7h.8M422.9 135.9h.8M414.1 130.1h.8M418.8 133.5h.8M416.7 139.8h.8M414.7 112.5h.8M407.7 134.7h.8M422.8 134.9h.8M412.8 122.3h.8M412.7 133h.8M420.5 135.1h.8M416.3 123.8h.8M424 143.2h.8M423.1 125.8h.8M419 123h.8M417 126.6h.8M419.2 134.9h.8M410.4 133.2h.8M416.7 149.9h.8M416.6 134.4h.8M414 130.3h.8M417 124.6h.8M409.8 131.7h.8M419.8 136.9h.8M421.4 141.3h.8M393.1 58.1h.8M426.9 137.4h.8M407.9 103.3h.8M385.2 82.3h.8M406.2 92.5h.8M441.8 79.5h.8M388.4 116.6h.8M442.6 135.1h.8M424.7 129h.8M438.8 99.2h.8M421.2 101.9h.8M430.9 112.5h.8M442.3 64.9h.8M396.1 113h.8M392.1 130.5h.8M421.9 94.4h.8M415.9 96.2h.8M418.6 77.3h.8M408.2 98.2h.8M448.3 149.5h.8M424 105.3h.8M424.4 133.1h.8M386.8 128.4h.8M402.8 78.7h.8M403.2 60.8h.8" stroke="#5a70e0" stroke-opacity="0.55" stroke-width=".8" fill="none"/><path d="M420.1 155.1h.9M418.7 156.5h.9M418.1 154.7h.9M419 150.2h.9M414.3 151.2h.9M416.1 156.7h.9M415.9 149.8h.9M418.7 147.4h.9M414.8 157.9h.9M416.2 155.9h.9M419.3 151.4h.9M417.8 157.5h.9M416.1 157h.9M419.9 148.6h.9M414.5 157.4h.9M417.5 155.4h.9M416.4 158.5h.9M417.6 150.7h.9M416.3 158h.9M415.4 154.5h.9M417.1 152.7h.9M414.5 155.8h.9M417.6 156.5h.9M416.2 156.2h.9M418.3 155.8h.9M416 155.2h.9M415.6 157.9h.9M417.4 156.5h.9M418.8 154.7h.9M413.3 157.9h.9M416.9 153h.9M417.8 147.6h.9M414.4 155.9h.9M415.3 157.3h.9M417.8 156.4h.9M415.4 155.5h.9M415.7 144.7h.9M419.6 152.9h.9M415.2 158.3h.9M415.3 146.5h.9M412.9 158.5h.9M414.9 158.2h.9M414.7 156.9h.9M419.6 157.4h.9M418.8 157.5h.9M414.6 155h.9M420 157.6h.9M418 146.9h.9M416.4 155.9h.9M418.1 156.6h.9M417.4 157.8h.9M415.5 158.6h.9M413.8 155.5h.9M415.2 152.2h.9M416.7 156.7h.9M416.1 152h.9M415.5 156.7h.9M418.4 157.3h.9M415 158.4h.9M418.2 157.6h.9M415.9 151.3h.9M416.9 157.8h.9M414.9 155.4h.9M416.7 158.3h.9M415.4 158.5h.9M413.8 157.9h.9M416.7 155h.9M416.6 153h.9M418.1 146.8h.9M417.2 156.7h.9M415 157.5h.9M415.7 153.1h.9M412.6 157.1h.9M414.9 152.5h.9M418.9 157.5h.9M419.3 157.1h.9M418 155.3h.9M417.2 155.3h.9M417.7 153.4h.9M417.5 156.2h.9M413.8 158.5h.9M415.3 158.2h.9M418.7 152.9h.9M418.7 158.5h.9M417.1 156h.9M416.2 155.4h.9M416.1 153.7h.9M415.8 153.4h.9M415.2 155.2h.9M413.5 150.1h.9M417 158.3h.9M416 158.2h.9M416.4 156.3h.9M419.6 157.2h.9M417.7 157.9h.9M415.6 156.9h.9M417.7 153.5h.9M414.2 157.2h.9M418.5 154.7h.9M417.2 156.9h.9M416.4 154.1h.9M417.7 153.8h.9M419.2 154.4h.9M416 158.1h.9M415.1 157.9h.9M420.3 158.4h.9M416.8 152.3h.9M419.2 158.6h.9M415.6 157.9h.9M417.4 158h.9M415.7 157h.9M417.8 157.5h.9M416.3 156.4h.9M415.6 158.6h.9M419.3 158.4h.9M417.3 153.3h.9M413.3 156.5h.9M416.3 158.5h.9M415.2 157.2h.9M414.7 155.1h.9M415.8 158.2h.9M415.9 157.6h.9M416.8 155.2h.9M415.4 157.7h.9M413.6 156.4h.9M415.8 157.5h.9M418.2 158.2h.9M414.4 154.3h.9M417.8 152.6h.9M417.5 157.6h.9M416 155.7h.9M417.2 157h.9M415.5 157.1h.9M416.1 157.6h.9M415 156.1h.9M417.5 157.6h.9M419 157.5h.9M415.6 158.4h.9M418.7 153.8h.9M413.1 143.6h.9M415.2 158.4h.9M415 154.2h.9M419.6 157.6h.9M415.7 156h.9M418 152.6h.9M413.3 157.3h.9M416.9 156.2h.9M417.7 147.9h.9M416.7 135.6h.9M412.2 158.6h.9M417 154.4h.9M418.1 144.4h.9M418.9 155.5h.9M417.4 150.2h.9M413.9 147.4h.9M416.4 157.7h.9M418.2 156.9h.9M415.3 150.8h.9M417.7 157.4h.9M415.9 153.3h.9M416.9 149.3h.9M418 153h.9M415.5 154.2h.9M421.5 157.2h.9M417 158.3h.9M417.3 158.3h.9M415.5 150.3h.9M416.8 155.4h.9M416.3 153.8h.9M414.3 156.6h.9M414.1 155.2h.9M417.2 149.6h.9M416.6 156h.9M412.3 144.7h.9M413.1 158.6h.9M416.2 148h.9M416.6 154.8h.9M417.7 158.5h.9M414.6 155.9h.9M417.7 157.7h.9M416.2 151.1h.9M415.9 157.8h.9M416.5 154.4h.9M418.4 155.9h.9M417.7 158.4h.9M418.2 158h.9M415.6 157.1h.9M416.2 152.8h.9M414.8 157.6h.9M415.8 158.2h.9M416 157.2h.9M415.9 154.9h.9M417.9 157h.9M417.4 149h.9M418 155.8h.9M416.9 141.2h.9M418.5 151.4h.9M416.9 156.9h.9M418.3 153.3h.9M417.6 156.7h.9M418 157h.9M416.6 156.3h.9M414.6 157.2h.9M414.3 155.9h.9M420 153.8h.9M417.4 157.4h.9M417.5 155.2h.9M416.4 156.9h.9M415.9 157h.9M421.6 158.4h.9M414.8 153h.9M416.6 157.9h.9M416.6 154.7h.9M414.8 158.3h.9M414.6 154.8h.9M415.5 155.7h.9M416.1 151.5h.9M415.9 158.2h.9M418.1 153.8h.9M414.7 157h.9M417.4 158.3h.9M419.2 158.2h.9M418.2 158.6h.9M414.8 156.2h.9M411.7 154.9h.9M418.1 150.5h.9M417.6 156h.9M415.7 158.4h.9M418.9 144.5h.9M416 158.1h.9M416.9 152.2h.9M415 152.9h.9M417.3 152.4h.9M416 153.8h.9M415.9 156.6h.9M418.5 157.2h.9M417.1 155.6h.9M414.2 155.1h.9M417.9 157.3h.9M418.1 150.9h.9M415.3 155.2h.9M416.1 151.2h.9M416.8 151.9h.9M416.3 157.8h.9M416.9 158.5h.9M417.8 158h.9M415.9 146.3h.9M420.2 157.7h.9M415.5 152.5h.9M415.8 155.1h.9M420 157.3h.9M420.7 158.4h.9M416.8 156.5h.9M416.4 154.5h.9M414.9 155.6h.9M418.6 158h.9M417 155.6h.9M415.3 157.2h.9M417.4 147.5h.9M419 158.2h.9M417.9 152.6h.9M420.4 157.9h.9M418.7 155.4h.9M417.5 157.7h.9M416.7 156.5h.9M417.6 155.7h.9M418.8 157.8h.9M418.2 158.2h.9M418.5 138.7h.9M417.1 156.8h.9M418 158.1h.9M418.8 154h.9M416.4 153.4h.9M414.5 156.8h.9M419.6 150.9h.9M417.7 154.7h.9M416 157.7h.9M417.1 152h.9M416.3 157.7h.9M413.8 157.5h.9M416.4 152.9h.9M414.3 157.1h.9M417.1 157.4h.9M416.5 154.9h.9M418.6 144.8h.9M416.5 158.6h.9M417.3 149h.9M416.2 157.6h.9M416.1 158.1h.9M414.4 154.6h.9M418.4 152.4h.9M417 158h.9M415.7 155.8h.9M417.1 156.4h.9M416 153.7h.9M415.5 151.7h.9M417.1 152.5h.9M418.8 157.9h.9M416.3 155.7h.9M414.3 156.5h.9M406.1 158.2h.9M417.5 158h.9M411 158.3h.9M416.3 158.6h.9M410.8 157.8h.9M419.3 158.1h.9M411.9 157.8h.9M412.9 157.8h.9M408.2 157.8h.9M414.2 158.2h.9M398 158.3h.9M435.5 158.4h.9M407.2 158.1h.9M413.8 158h.9M409 157.7h.9M408.9 157.5h.9M416.4 157.8h.9M408.7 158h.9M409.4 158.3h.9M401.3 158h.9M405.2 158.3h.9M403.1 157.7h.9M428.2 158.4h.9M401.7 158.2h.9M403.9 158.4h.9M414.6 158.4h.9M425 157.8h.9M398.7 158.4h.9M399.9 158.3h.9M414 158.6h.9M415.8 157.6h.9M401 157.6h.9M397.7 158.2h.9M404.8 157.6h.9M419.2 158.4h.9M412.6 158.4h.9M419.2 158h.9M412 158.4h.9M412.6 157.6h.9M418.1 157.6h.9" stroke="#2040dc" stroke-opacity="0.72" stroke-width=".9" fill="none"/><path d="M377.5 51.5H452.5V156.5H377.5Z M377.5 122.5H452.5" stroke="#d4a2e8" stroke-width="1" fill="none"/><rect x="406.3" y="82.9" width="18.4" height="8.2" fill="#fff"/><text x="415.5" y="89.4" font-size="6.8" text-anchor="middle" fill="#c040e0" letter-spacing="1" font-weight="bold">127</text><rect x="406.3" y="135.4" width="18.4" height="8.2" fill="#fff"/><text x="415.5" y="141.9" font-size="6.8" text-anchor="middle" fill="#c040e0" letter-spacing="1" font-weight="bold">427</text><rect x="376.5" y="45.7" width="112.5" height="112.5" fill="none" stroke="#333" stroke-width="1"/><path d="M376.5 158.2v3M384.97 158.2v1.6M389.92 158.2v1.6M393.43 158.2v1.6M396.16 158.2v1.6M398.39 158.2v1.6M400.27 158.2v1.6M401.9 158.2v1.6M403.34 158.2v1.6M404.62 158.2v3M413.09 158.2v1.6M418.04 158.2v1.6M421.56 158.2v1.6M424.28 158.2v1.6M426.51 158.2v1.6M428.39 158.2v1.6M430.02 158.2v1.6M431.46 158.2v1.6M432.75 158.2v3M441.22 158.2v1.6M446.17 158.2v1.6M449.68 158.2v1.6M452.41 158.2v1.6M454.64 158.2v1.6M456.52 158.2v1.6M458.15 158.2v1.6M459.59 158.2v1.6M460.88 158.2v3M469.34 158.2v1.6M474.29 158.2v1.6M477.81 158.2v1.6M480.53 158.2v1.6M482.76 158.2v1.6M484.64 158.2v1.6M486.27 158.2v1.6M487.71 158.2v1.6M489 158.2v3" stroke="#222" stroke-width="0.8" fill="none"/><path d="M376.5 158.2h-3M376.5 149.73h-1.6M376.5 144.78h-1.6M376.5 141.27h-1.6M376.5 138.54h-1.6M376.5 136.31h-1.6M376.5 134.43h-1.6M376.5 132.8h-1.6M376.5 131.36h-1.6M376.5 130.07h-3M376.5 121.61h-1.6M376.5 116.66h-1.6M376.5 113.14h-1.6M376.5 110.42h-1.6M376.5 108.19h-1.6M376.5 106.31h-1.6M376.5 104.68h-1.6M376.5 103.24h-1.6M376.5 101.95h-3M376.5 93.48h-1.6M376.5 88.53h-1.6M376.5 85.02h-1.6M376.5 82.29h-1.6M376.5 80.06h-1.6M376.5 78.18h-1.6M376.5 76.55h-1.6M376.5 75.11h-1.6M376.5 73.83h-3M376.5 65.36h-1.6M376.5 60.41h-1.6M376.5 56.89h-1.6M376.5 54.17h-1.6M376.5 51.94h-1.6M376.5 50.06h-1.6M376.5 48.43h-1.6M376.5 46.99h-1.6M376.5 45.7h-3" stroke="#222" stroke-width="0.8" fill="none"/><text x="367.24" y="175.3" font-size="13.4">10<tspan font-size="9.38" dy="-4.82">0</tspan></text><text x="395.37" y="175.3" font-size="13.4">10<tspan font-size="9.38" dy="-4.82">1</tspan></text><text x="423.49" y="175.3" font-size="13.4">10<tspan font-size="9.38" dy="-4.82">2</tspan></text><text x="451.62" y="175.3" font-size="13.4">10<tspan font-size="9.38" dy="-4.82">3</tspan></text><text x="479.74" y="175.3" font-size="13.4">10<tspan font-size="9.38" dy="-4.82">4</tspan></text><text x="352.38" y="163.2" font-size="13.4">10<tspan font-size="9.38" dy="-4.82">0</tspan></text><text x="352.38" y="135.07" font-size="13.4">10<tspan font-size="9.38" dy="-4.82">1</tspan></text><text x="352.38" y="106.95" font-size="13.4">10<tspan font-size="9.38" dy="-4.82">2</tspan></text><text x="352.38" y="78.83" font-size="13.4">10<tspan font-size="9.38" dy="-4.82">3</tspan></text><text x="352.38" y="50.7" font-size="13.4">10<tspan font-size="9.38" dy="-4.82">4</tspan></text><text x="380.2" y="42" font-size="13.7">ATP</text><path d="M118.3 282.8h.8M115.6 275.8h.8M110.8 269.4h.8M113.6 245.3h.8M119.9 262.8h.8M112.4 267.9h.8M94.6 256h.8M104.3 250.6h.8M89.2 273.9h.8M100 249.2h.8M97 255.6h.8M105.7 260.2h.8M108.5 291.9h.8M99.2 263.1h.8M103.8 249.6h.8M107.7 268.4h.8M104.6 239.2h.8M104.5 264.4h.8M88.8 276.7h.8M102.6 258.6h.8M111.3 261.9h.8M107.5 255.9h.8M95.3 267.8h.8M103.8 250.5h.8M107.6 271.5h.8M98.9 263.8h.8M110.5 279.3h.8M100.1 274.3h.8M103.4 262.9h.8M105 272.6h.8M121.4 270.3h.8M103.5 267.6h.8M101.7 262.4h.8M110.7 256.6h.8M102.4 256.5h.8M107.1 253.6h.8M89.9 262.9h.8M107.8 271.4h.8M105.6 283.2h.8M96.6 269.1h.8M115.2 274.2h.8M104 285.8h.8M104.3 246.5h.8M96.5 286h.8M94.3 261.2h.8M101.7 258.9h.8M95 267.8h.8M109.2 235.9h.8M111.8 264.9h.8M101.2 273.9h.8M94.4 245.2h.8M102.9 274.3h.8M98.2 281.5h.8M106.9 276.6h.8M107 272.5h.8M102.7 264.7h.8M106.2 261.3h.8M113 282.5h.8M117.7 261.2h.8M102 239.8h.8M110.8 273.3h.8M104 266.7h.8M98.3 257.3h.8M114.7 251.5h.8M108.4 272.8h.8M106.7 276.1h.8M108.2 276.7h.8M104.5 252.7h.8M98.3 254.9h.8M118.2 289.8h.8M112 289.5h.8M107.5 279.3h.8M112.5 282.2h.8M114.7 260.5h.8M104.3 262.7h.8M109.8 242.9h.8M103.4 256.1h.8M110.2 263.8h.8M103.9 251.7h.8M122.8 275.3h.8M103.2 281.1h.8M109.3 264.8h.8M108.9 254.5h.8M103.3 283.6h.8M112.3 255h.8M105.1 255.4h.8M102.8 270.9h.8M105.7 263.2h.8M100.4 268.3h.8M114.1 264.2h.8M110.1 256h.8M112.6 274.3h.8M96.2 253.3h.8M107.6 255.3h.8M100.3 254.8h.8M106.3 287.6h.8M114.6 286.4h.8M107.5 257.3h.8M104.4 271.9h.8M113.6 273h.8M112.8 273.9h.8M118.7 280.5h.8M92.6 268.4h.8M108 273.4h.8M102.7 272.7h.8M99.5 259.7h.8M106.5 278.7h.8M97.5 252.4h.8M90 290.5h.8M99.3 236.6h.8M103.8 280.7h.8M118.8 258.5h.8M100.6 254.8h.8M97.5 265.2h.8M91.8 256.7h.8M103.2 266.4h.8M104 285.3h.8M106.7 261.2h.8M95.5 252.1h.8M100.3 271.5h.8M89.7 284.6h.8M106.9 272.1h.8M94.6 261.5h.8M86.4 261.7h.8M113.8 252.6h.8M109.2 258.8h.8M108.1 259.4h.8M108.1 288h.8M98.4 239.7h.8M113.2 264.6h.8M98.3 255.3h.8M119.1 269.1h.8M107.3 266.9h.8M92.7 264.5h.8M111.8 247.2h.8M119.6 247.8h.8M103.9 258.1h.8M113.2 242.5h.8M104.2 269.7h.8M101.3 259.2h.8M87.5 270.4h.8M114.4 250.3h.8M102.6 264.7h.8M108.4 253.9h.8M97.7 245.4h.8M99.3 288.8h.8M113.5 240.3h.8M103 261.5h.8M102.9 268.8h.8M96.8 287h.8M107.2 268.6h.8M111.2 291.4h.8M102.5 264.1h.8M104.4 267h.8M97.1 244.2h.8M115.6 268.8h.8M101.3 252.8h.8M104.6 251.7h.8M117.6 241.4h.8M104.1 267.9h.8M117.2 247.7h.8M125.1 293h.8M125 277.6h.8M103.3 290.1h.8M127 302.3h.8M98.9 263.8h.8M85.1 271.1h.8M141.1 253.8h.8M138.4 268.7h.8M105 298.8h.8M113.6 225.9h.8M77.5 302h.8M140.7 303.6h.8M100.3 303.5h.8M117.7 232.5h.8M85.5 271.5h.8M85.8 218h.8M116.1 276.3h.8M121.9 267.8h.8M142.5 240.9h.8M123.7 217.9h.8M117.7 221.1h.8M117.2 270.8h.8M95 242.6h.8M101.4 299.9h.8M152.9 219.4h.8M147 223.1h.8M152.1 223h.8M151.7 207.5h.8M153.6 217.7h.8M150.7 223h.8M157.5 212.3h.8M150.7 230.1h.8M154.7 217.6h.8M149.8 219h.8M146.2 219.8h.8M144.1 228.6h.8M148.6 210.2h.8M152.6 207.4h.8M156.9 230.1h.8" stroke="#5a70e0" stroke-opacity="0.55" stroke-width=".8" fill="none"/><path d="M108.1 291.2h.9M108.9 298h.9M111.2 318.5h.9M107.3 308.4h.9M106.6 298.8h.9M107.9 302.3h.9M110.8 318.5h.9M108 317.7h.9M108.3 300.5h.9M110.5 318.9h.9M104.9 295.9h.9M104.8 292.1h.9M109.2 316.7h.9M109.1 289.5h.9M105.9 249.6h.9M108.7 307h.9M108 319.1h.9M108.3 300h.9M106.8 311.3h.9M107.3 319.2h.9M106.7 314.1h.9M108 307.1h.9M107.6 316h.9M110.4 317.4h.9M108.8 316.4h.9M105.7 285h.9M108.5 301.8h.9M110 319.2h.9M108.3 314.9h.9M109.5 317.8h.9M107.9 315.6h.9M109 317.4h.9M106.6 302h.9M109.1 314.9h.9M105.9 317.8h.9M109.8 311.1h.9M105.8 317.2h.9M104.9 299.1h.9M108.7 284.7h.9M107.7 309.9h.9M108.1 303.4h.9M108.6 312.7h.9M107.9 303.9h.9M106.7 316h.9M108.2 307.5h.9M108.4 316.5h.9M108.6 315.7h.9M110.8 314.6h.9M106.9 312.4h.9M108 316.7h.9M108.7 319.2h.9M107.3 313h.9M106.2 306h.9M107.1 295.8h.9M109.5 315.7h.9M107.5 299.3h.9M108.8 311.8h.9M106.9 307.9h.9M108.6 313.6h.9M107 312.5h.9M106.7 309.7h.9M108.1 311.9h.9M108 315.2h.9M110.1 291.9h.9M105.6 306.4h.9M108.7 317.3h.9M110.3 319h.9M109.9 318.4h.9M107.4 309.9h.9M107 295.7h.9M107.2 317.8h.9M108.4 287.5h.9M108.2 299.4h.9M108.4 305.5h.9M108.8 313.2h.9M106.4 310.6h.9M106.3 283.8h.9M106.2 310.2h.9M106 290.3h.9M107.8 305.8h.9M108.4 295.1h.9M111.6 318h.9M108.7 316h.9M108 310.3h.9M110 318.4h.9M106.9 312.1h.9M108.4 319h.9M109.3 300.5h.9M109.1 304.2h.9M108.5 318.4h.9M107.4 316.5h.9M106.1 318.2h.9M107.7 310.1h.9M107.1 313.8h.9M108.9 314h.9M107.7 302.8h.9M108.7 297.7h.9M105.6 312.1h.9M109.3 318.5h.9M106.7 319.2h.9M105.7 287.9h.9M106 310.6h.9M107 317.9h.9M109.6 314.6h.9M109 307.8h.9M106.2 311h.9M108.1 319.2h.9M107.8 316.7h.9M105.7 307.4h.9M106.5 315.4h.9M105 309.4h.9M106.7 317.5h.9M104.1 298.1h.9M106.8 315.2h.9M106.6 313.5h.9M106.8 313.2h.9M106.8 319.1h.9M109.6 319.4h.9M107.4 311.5h.9M108.3 315.8h.9M109 316.3h.9M109.2 316.8h.9M108.9 318.5h.9M107.1 307.6h.9M106.4 303.8h.9M106.8 309.7h.9M107.3 316.1h.9M107.9 309.8h.9M107.8 317.8h.9M109.5 302.7h.9M107.8 318.8h.9M110.5 289.2h.9M109.4 308.3h.9M107.2 313.4h.9M109.2 289.7h.9M103.8 315.4h.9M109.9 303.1h.9M108.5 280.8h.9M108.5 316.3h.9M105.5 316.7h.9M102.8 319.3h.9M113.9 318.4h.9M93.8 318.3h.9M96.9 318.6h.9M102.8 318.8h.9M106 319h.9M104.4 318.4h.9M98.5 318.8h.9M122.9 319.5h.9M108.5 318.6h.9M108.4 319.2h.9M111.8 319.5h.9M107.5 319.1h.9M104 318.4h.9M101.2 318.6h.9M91.9 319.1h.9M118.8 318.5h.9M98 318.9h.9M91.6 319.2h.9M99 319.5h.9M92.2 318.7h.9M123.1 319.3h.9M109.1 318.9h.9M118.1 319.3h.9M118.5 318.8h.9" stroke="#2040dc" stroke-opacity="0.72" stroke-width=".9" fill="none"/><path d="M69.5 212.5H143.5V317.5H69.5Z M69.5 283.5H143.5" stroke="#d4a2e8" stroke-width="1" fill="none"/><rect x="97.8" y="244.2" width="18.4" height="8.2" fill="#fff"/><text x="107" y="250.7" font-size="6.8" text-anchor="middle" fill="#c040e0" letter-spacing="1" font-weight="bold">194</text><rect x="97.8" y="296.7" width="18.4" height="8.2" fill="#fff"/><text x="107" y="303.2" font-size="6.8" text-anchor="middle" fill="#c040e0" letter-spacing="1" font-weight="bold">173</text><rect x="68" y="207" width="112.5" height="112.2" fill="none" stroke="#333" stroke-width="1"/><path d="M68 319.2v3M76.47 319.2v1.6M81.42 319.2v1.6M84.93 319.2v1.6M87.66 319.2v1.6M89.89 319.2v1.6M91.77 319.2v1.6M93.4 319.2v1.6M94.84 319.2v1.6M96.12 319.2v3M104.59 319.2v1.6M109.54 319.2v1.6M113.06 319.2v1.6M115.78 319.2v1.6M118.01 319.2v1.6M119.89 319.2v1.6M121.52 319.2v1.6M122.96 319.2v1.6M124.25 319.2v3M132.72 319.2v1.6M137.67 319.2v1.6M141.18 319.2v1.6M143.91 319.2v1.6M146.14 319.2v1.6M148.02 319.2v1.6M149.65 319.2v1.6M151.09 319.2v1.6M152.38 319.2v3M160.84 319.2v1.6M165.79 319.2v1.6M169.31 319.2v1.6M172.03 319.2v1.6M174.26 319.2v1.6M176.14 319.2v1.6M177.77 319.2v1.6M179.21 319.2v1.6M180.5 319.2v3" stroke="#222" stroke-width="0.8" fill="none"/><path d="M68 319.2h-3M68 310.76h-1.6M68 305.82h-1.6M68 302.31h-1.6M68 299.59h-1.6M68 297.37h-1.6M68 295.49h-1.6M68 293.87h-1.6M68 292.43h-1.6M68 291.15h-3M68 282.71h-1.6M68 277.77h-1.6M68 274.26h-1.6M68 271.54h-1.6M68 269.32h-1.6M68 267.44h-1.6M68 265.82h-1.6M68 264.38h-1.6M68 263.1h-3M68 254.66h-1.6M68 249.72h-1.6M68 246.21h-1.6M68 243.49h-1.6M68 241.27h-1.6M68 239.39h-1.6M68 237.77h-1.6M68 236.33h-1.6M68 235.05h-3M68 226.61h-1.6M68 221.67h-1.6M68 218.16h-1.6M68 215.44h-1.6M68 213.22h-1.6M68 211.34h-1.6M68 209.72h-1.6M68 208.28h-1.6M68 207h-3" stroke="#222" stroke-width="0.8" fill="none"/><text x="58.74" y="336.3" font-size="13.4">10<tspan font-size="9.38" dy="-4.82">0</tspan></text><text x="86.87" y="336.3" font-size="13.4">10<tspan font-size="9.38" dy="-4.82">1</tspan></text><text x="114.99" y="336.3" font-size="13.4">10<tspan font-size="9.38" dy="-4.82">2</tspan></text><text x="143.12" y="336.3" font-size="13.4">10<tspan font-size="9.38" dy="-4.82">3</tspan></text><text x="171.24" y="336.3" font-size="13.4">10<tspan font-size="9.38" dy="-4.82">4</tspan></text><text x="43.88" y="324.2" font-size="13.4">10<tspan font-size="9.38" dy="-4.82">0</tspan></text><text x="43.88" y="296.15" font-size="13.4">10<tspan font-size="9.38" dy="-4.82">1</tspan></text><text x="43.88" y="268.1" font-size="13.4">10<tspan font-size="9.38" dy="-4.82">2</tspan></text><text x="43.88" y="240.05" font-size="13.4">10<tspan font-size="9.38" dy="-4.82">3</tspan></text><text x="43.88" y="212" font-size="13.4">10<tspan font-size="9.38" dy="-4.82">4</tspan></text><text x="71" y="202.7" font-size="13.5">DNCB</text><path d="M265.2 276.8h.8M258.3 241.8h.8M261 268.3h.8M281.4 246h.8M272.6 266.7h.8M258.3 249.1h.8M257.8 264.3h.8M261.2 284.7h.8M280 273h.8M262.9 263.8h.8M270.7 260.4h.8M257.9 289.2h.8M250.1 276h.8M272.5 270h.8M260.4 263.4h.8M254.3 257.9h.8M255.1 271.2h.8M255.3 280h.8M255.8 256.9h.8M247.7 264.9h.8M271.4 249.4h.8M264.4 267.4h.8M269.5 252.5h.8M258.1 272h.8M264 257.3h.8M262.5 259.6h.8M271.2 255h.8M268.1 272.6h.8M264.1 262.3h.8M255.4 271.5h.8M250.7 262.8h.8M254.1 252.8h.8M255.6 222.8h.8M256.4 260.3h.8M250.4 251.6h.8M275.4 259.3h.8M263.4 246.3h.8M243.7 254.8h.8M251.6 247.4h.8M249.5 256.2h.8M263.1 230.2h.8M270.2 243.2h.8M252.5 282.3h.8M266.4 256.9h.8M258.7 259.7h.8M271 288.7h.8M272.8 271.6h.8M263.7 266.5h.8M267.2 270h.8M261 259h.8M257.8 283.5h.8M251 251.2h.8M263.9 250.8h.8M260.4 256.2h.8M257.7 264.9h.8M260.4 260.6h.8M259.5 266.6h.8M252.1 246.1h.8M256.5 254.3h.8M270.9 235.4h.8M259 265.3h.8M273.1 242.3h.8M251.1 268h.8M249.4 262.8h.8M262.1 273.9h.8M267.7 254h.8M255.4 261.4h.8M266.4 252.8h.8M269.1 241.8h.8M270.3 261.4h.8M260.1 255.8h.8M260.6 249.2h.8M246.9 261.4h.8M261.2 267.6h.8M263.5 256.1h.8M273.2 254.3h.8M250.1 250.8h.8M253.8 250.1h.8M252.5 269.1h.8M268.8 255h.8M239.3 245h.8M251.8 266.5h.8M278.7 256h.8M266.7 268.5h.8M249.6 258.5h.8M260.5 238.6h.8M268.3 258.4h.8M265.8 272.9h.8M259.2 256.3h.8M254.3 257.9h.8M268.2 246.5h.8M261 278h.8M268 272.2h.8M264.5 261.6h.8M257.1 280.3h.8M273.4 246.2h.8M256.8 286.3h.8M264.7 271.1h.8M255.6 279.3h.8M259.1 268.9h.8M258.9 250.5h.8M255.4 253h.8M263.1 248.9h.8M272.3 253h.8M277 286.3h.8M273.3 256.8h.8M259.6 284h.8M273.5 267h.8M264.6 265.6h.8M276.4 267.5h.8M248.5 293.5h.8M276 235.2h.8M270.2 244.3h.8M290.4 224.1h.8M250.4 297.5h.8M257.1 300.8h.8M277.7 228.2h.8M246.3 283.7h.8M245.5 276.8h.8M293.5 294.6h.8M252.6 262h.8M286.9 287.6h.8M256.1 300.4h.8M288.4 222.6h.8M283.8 293.6h.8M249 273.7h.8M233.2 288.2h.8M273.2 234h.8M252.1 237.7h.8M251.4 225.7h.8M276.5 264.3h.8M256.7 237.2h.8M248 235.1h.8M285.9 232.6h.8M281.7 292h.8M282.4 263h.8M251.2 248.6h.8M293.5 279h.8M263.1 237.4h.8M250.5 250.3h.8M261.1 274.4h.8M263.4 282.1h.8M262.6 280.5h.8M266.5 273.4h.8M263.9 279.3h.8M265.8 281.7h.8M259.5 279.7h.8M260.4 271h.8M263.6 277.8h.8M261.9 274.2h.8M263.4 280.9h.8M262.4 273.7h.8M259.9 285.1h.8M266.5 284.8h.8M264.9 281.7h.8M257.3 270.5h.8M259.9 282.5h.8M261.7 277.7h.8M263.6 266.5h.8M261.5 281.4h.8M257.8 283.1h.8M264 280.5h.8M261.1 275.5h.8M265.1 268.4h.8M262.5 285.3h.8M264.5 275.5h.8M264 285.6h.8M264.2 266.5h.8M260.2 277h.8M264.6 272.7h.8M262.2 280.9h.8M258.1 276.7h.8M260.6 269.8h.8M260.7 283.6h.8M263 281.7h.8M263.6 280h.8M258.5 269.8h.8M263.7 268.3h.8M261.5 271.2h.8M258.7 281.1h.8M264 279.8h.8M259.5 271.5h.8M258.3 277.2h.8M263.8 279.1h.8M264.2 266.4h.8M259.8 280.9h.8M264.7 270.7h.8M264.5 282.5h.8M260.2 268.1h.8M267.3 280.4h.8M261.5 267.9h.8M262.3 272h.8M255 268.8h.8M263.5 273.5h.8M259.9 283.9h.8M262.9 278.2h.8M256.9 266.7h.8M264.9 283.5h.8M265.8 275.5h.8M267 275.7h.8M253.4 277.4h.8M263.3 280.5h.8M262.7 279.9h.8M253.2 282h.8M259.6 280.8h.8M261.5 285.2h.8M265.7 271.3h.8M259.4 268.4h.8M262.3 281.6h.8M261.5 284.8h.8M262.7 278.4h.8M260.6 283.8h.8M264.2 277.6h.8M264.5 281h.8M257.9 274.6h.8M264.9 271.4h.8M259.6 268.8h.8M260.9 271.9h.8M264.9 269.7h.8M262 266.4h.8M263.3 278.1h.8M264 282.9h.8M263.4 282.6h.8M260.2 276.8h.8M259.1 272.3h.8M263.7 269.6h.8M263.9 282.7h.8M262.7 275.7h.8M261.2 284.5h.8M264.2 274.7h.8M261.7 269h.8M257.9 279.2h.8M262.5 272.7h.8M263.2 273.5h.8M263.9 272.9h.8M259.2 282.4h.8M259.6 276h.8M262.7 284.9h.8M260.5 277.9h.8M261.6 284.9h.8M264.4 267h.8M262.9 279.2h.8M266.9 281.1h.8M262.6 268.2h.8M266.6 277.5h.8M264.8 275.9h.8M269 268.9h.8M261.8 275.7h.8M261.6 278.3h.8M265.5 271.5h.8M260.4 280h.8M260.5 283h.8M262.5 271.9h.8M262.9 276.2h.8M257.9 266.4h.8M262.5 275.2h.8M261 268.4h.8M261.8 285.1h.8M262.3 285.5h.8M261.3 279.1h.8" stroke="#5a70e0" stroke-opacity="0.55" stroke-width=".8" fill="none"/><path d="M258.7 317.4h.9M258.6 315.4h.9M262.9 304.8h.9M258.1 306.4h.9M263 319.1h.9M260.1 318.1h.9M262.7 309.7h.9M262.1 306.8h.9M263.1 304.6h.9M263.9 317.6h.9M260.3 312.3h.9M259.9 311.7h.9M260.9 306.5h.9M260.3 312.1h.9M262.9 319h.9M261.5 318.5h.9M261.7 311.9h.9M262.4 317.6h.9M260.8 311.7h.9M263.7 310.6h.9M258.3 311.8h.9M262.1 310.7h.9M262.6 319.4h.9M260.2 308.9h.9M260.4 319.1h.9M263.3 311.9h.9M261 317.3h.9M258.1 313.4h.9M259.2 307.2h.9M263.5 306.7h.9M260 306h.9M264 308.9h.9M264.1 311.4h.9M261.3 307.3h.9M262.6 318.6h.9M260.1 319.2h.9M260.9 306h.9M260.3 308.5h.9M262.7 313h.9M259.3 315.7h.9M261.4 304.7h.9M261.7 316.3h.9M262.6 315.7h.9M257.7 305.1h.9M258.3 307.9h.9M260 306.5h.9M261.2 305.2h.9M261.9 304.9h.9M262 313.6h.9M265.3 315.8h.9M262.8 311h.9M262.7 313.7h.9M260.7 314.5h.9M263 310.7h.9M262.9 305.9h.9M262.8 311.2h.9M261.4 314.4h.9M262.7 316.7h.9M264.4 306.8h.9M260.1 309.8h.9M257.7 316.3h.9M263.1 307.1h.9M262.9 318.4h.9M261.2 318.3h.9M260.8 315.1h.9M266.6 307.6h.9M260.7 311.5h.9M259.4 309h.9M260.7 305.7h.9M262.5 304.4h.9M260.5 306.7h.9M260.9 312.9h.9M262.1 311.2h.9M260.8 319.6h.9M261.8 318.4h.9M261.5 312.9h.9M259.6 314.6h.9M261.7 311.6h.9M259.5 319.6h.9M263.3 305h.9M259.9 312.2h.9M261.1 317.1h.9M258.3 309.8h.9M260.8 310.7h.9M259.3 308.7h.9M264.3 304.4h.9M261.4 312.9h.9M262.5 319.6h.9M258.4 316.6h.9M259.3 313.4h.9M261.3 315.8h.9M259.1 312.1h.9M263.7 309.9h.9M260.8 311.6h.9M261.8 318.8h.9M262.1 319.3h.9M261.3 319.2h.9M263 309.1h.9M260.3 313.4h.9M262.2 311.1h.9M263.8 313.5h.9M262 309h.9M261.8 304.4h.9M261 310.2h.9M261.7 316.5h.9M262.8 308.5h.9M261.1 316.4h.9M258.5 309h.9M261.9 310.8h.9M261.3 319.5h.9M262.4 316.7h.9M261.6 316.2h.9M264.4 313.8h.9M259.4 306h.9M259.8 308.7h.9M262.8 312.2h.9M259.7 313.4h.9M262.2 319.2h.9M261.5 316.3h.9M258 306.1h.9M262.8 313.8h.9M264 315.4h.9M261.9 305.1h.9M259 316.2h.9M263 307.3h.9M259.7 313.8h.9M261.3 314h.9M262.3 314.5h.9M260.2 315.5h.9M258.5 315.6h.9M261.3 315.3h.9M261.5 312.5h.9M260 312.8h.9M260.2 319.4h.9M262.9 313.6h.9M261.4 307h.9M260.7 308h.9M260.5 317.7h.9M261.9 316.5h.9M261.7 309.9h.9M261.2 310h.9M259.1 318.9h.9M260.9 314.9h.9M260.4 311.8h.9M261.7 309.1h.9M263.6 311h.9M263.3 309.7h.9M262.7 306h.9M261.8 306.1h.9M261 316.6h.9M262.2 306.3h.9M260.7 316.4h.9M260.9 319.6h.9M260 307.6h.9M261.5 305.7h.9M261.4 318.1h.9M264.9 308h.9M262.5 318.4h.9M260.9 305.5h.9M262.9 312.5h.9M260.7 312.1h.9M263.4 305.6h.9M262.9 315h.9M266.7 311.3h.9M259.6 318.1h.9M261.4 316.9h.9M261.3 311.4h.9M262.1 306.3h.9M262.8 313.9h.9M259.8 319.6h.9M260.3 316.1h.9M262.1 312h.9M263.3 318.7h.9M259.6 317.4h.9M258.8 316.2h.9M263.6 306.6h.9M263.1 313.1h.9M263.5 317.5h.9M259.8 311.4h.9M261.2 310.8h.9M262 310.1h.9M262.3 308.3h.9M261.3 310.9h.9M261.5 318.8h.9M263.3 310.5h.9M260.8 310.3h.9M260.6 311.9h.9M260.8 317.4h.9M260.6 316.5h.9M261.8 310h.9M261.2 307.8h.9M260.8 318.5h.9M264.1 307.9h.9M262.1 312.7h.9M261 310h.9M263.8 307.5h.9M260.6 318.4h.9M261.5 308.4h.9M261.4 308.2h.9M260.5 312.4h.9M260.9 315.7h.9M261.7 310.8h.9M259 310.6h.9M260.9 313.4h.9M262 311.5h.9M262 308.3h.9M262.1 307.4h.9M265.7 305.1h.9M262.7 304.6h.9M261.3 319.3h.9M261.3 305.7h.9M261.5 306h.9M262.3 304.3h.9M261 307.4h.9M264.2 305h.9M259.6 304.5h.9M262.7 317.6h.9M262.4 317.8h.9M259.5 311h.9M262.7 305.5h.9M262.5 311.4h.9M260.4 311.8h.9M265.6 306.4h.9M262.8 310.6h.9M261 306.9h.9M260.7 310.3h.9M260.2 311.7h.9M262 312h.9M261.7 307.4h.9M259.1 317.8h.9M259.7 314.4h.9M260.3 318.1h.9M260.8 309.5h.9M260.9 313.4h.9M260.4 305.8h.9M262.7 314.4h.9M263.2 305.5h.9M261.7 314.8h.9M257.7 305.1h.9M261.3 305.8h.9M262.5 315.2h.9M261.4 311.4h.9M262 318.5h.9M261.7 310.1h.9M258.9 309.2h.9M257.1 312.5h.9M262.6 313h.9M260.6 312h.9M262.3 307.5h.9M261 316.6h.9M261.2 306.8h.9M263.9 308.6h.9M259.5 313.5h.9M261.5 304.6h.9M259.6 310.7h.9M261.7 311.8h.9M262.4 311.5h.9M262.7 314.4h.9M261.8 311.5h.9M259.1 318.2h.9M262 310.3h.9M263.1 314.4h.9M263.3 309.5h.9M265.3 310.3h.9M262.5 304.3h.9M259.8 308.3h.9M260.6 319.5h.9M261.7 317.8h.9M263.4 312h.9M259.6 311.3h.9M263.1 312.3h.9M262.7 308.3h.9M260 305.2h.9M262.6 318.7h.9M260.2 310h.9M261.5 315.2h.9M261 313.6h.9M262 304.9h.9M259.5 318.6h.9M262.5 316.5h.9M257.8 311.9h.9M260.8 308.1h.9M260.6 305h.9M264.3 304.6h.9M262.5 305.3h.9M260.7 307.7h.9M260 312.7h.9M261.6 315.3h.9M260.4 306.3h.9M265.4 308.1h.9M256.7 308.7h.9M261.7 307.7h.9M257.3 305.5h.9M263.4 311.2h.9M260.1 315.7h.9M264.3 319.5h.9M260.6 315.9h.9M263.4 309.5h.9M261.9 314h.9M263.6 316.6h.9M261.6 317.6h.9M256.4 319.1h.9M260.3 310.8h.9M258.8 309.5h.9M263.2 304.9h.9M262.5 307.6h.9M261.6 317.2h.9M262.3 316.5h.9M261.9 304.7h.9M260.5 315.2h.9M265 311.3h.9M262 307.2h.9M261.2 309.8h.9M259 319h.9M260.5 312.4h.9M261.6 311.4h.9M261.2 311.4h.9M260.7 317.9h.9M261.5 304.8h.9M259.6 311.9h.9M261.6 309.3h.9M258.8 307.8h.9M260 315.8h.9M260.3 319.2h.9M263.1 310.2h.9M262.4 305.6h.9M261.7 305.9h.9M259.5 306.1h.9M260.8 316.5h.9M262.9 306h.9M263.7 318.5h.9M259 315.3h.9M260.8 306.9h.9M261.7 318.2h.9M262.2 307.6h.9M261.6 307.4h.9M262.7 305.7h.9M259 306.4h.9M264.3 308.6h.9M259.6 317.1h.9M261.7 317.9h.9M262.5 318.4h.9M263.6 314.8h.9M263.1 314.8h.9M263.1 304.4h.9M263.8 306.5h.9M261.3 318.2h.9M262.9 312.4h.9M264.2 307.3h.9M260.2 313.6h.9M259.1 311.6h.9M259.8 306.1h.9M264 305.5h.9M263.7 317h.9M260.9 307h.9M262 312.7h.9M262.4 319.3h.9M263.4 315h.9M258.3 305.9h.9M260.6 316.8h.9M261.1 317.1h.9M262.1 304.9h.9M261.7 313h.9M261 305.6h.9M262.1 315.3h.9M257.1 318.7h.9M267 305.5h.9M263 314.7h.9M263.1 305.1h.9M260.4 309.3h.9M262.3 306.8h.9M265.2 314.7h.9M264.8 308.7h.9M261.7 307.1h.9M259.4 309.2h.9M261.9 305.4h.9M261.1 305.7h.9M263.1 310.9h.9M259.3 305.1h.9M261.3 308.6h.9M262.1 305.6h.9M260.8 317.4h.9M263.4 315h.9M259.6 317.3h.9M259.4 319.3h.9M261 309.5h.9M263 304.7h.9M261.1 309.9h.9M260.5 304.6h.9M263 307h.9M262 310.1h.9M260.7 313.5h.9M261.8 316.6h.9M261.2 304.9h.9M262.7 305.1h.9M261.8 305.8h.9M260.2 314.5h.9M260.7 308.1h.9M260.9 311.4h.9M262.2 306.9h.9M262.2 310.9h.9M260.1 319.5h.9M261.2 315.4h.9M262.1 315.5h.9M263.5 314.6h.9M262 314.3h.9M265 319.4h.9M261.6 311.8h.9M262.9 305.1h.9M261 310.1h.9M259.8 316.4h.9M261.8 304.7h.9M262.4 306.1h.9M262.2 306h.9M261.8 317.8h.9M261 308.8h.9M260.1 314.6h.9M261.1 307.4h.9M262.4 313.9h.9M263.3 315.9h.9M255.8 304.7h.9M262.7 306.5h.9M263.5 309.6h.9M263.8 312.2h.9M262.3 310.9h.9M262.8 309.5h.9M260.8 313h.9M261.4 313.3h.9M262.5 315.6h.9M259.7 310h.9M260.2 315.2h.9M261.9 313.2h.9M259.2 315.2h.9M261.7 305.6h.9M259 311.6h.9M261.9 317.3h.9M261.6 317.8h.9M260.6 307.7h.9M259.9 305.2h.9M260.7 316.2h.9M257.6 310.8h.9M260.9 312.1h.9M261.8 312.9h.9M263.7 308.9h.9M260.7 307.2h.9M261.3 307h.9M264 316.2h.9M264.6 310.4h.9M260.7 317.3h.9M263.4 316.8h.9M263.7 314.3h.9M262.5 310.8h.9M259.8 312.1h.9M259.9 318.9h.9M262.6 312.1h.9M265.7 317h.9M261.3 317h.9M264.3 306.3h.9M264.9 309.7h.9M259.4 315.8h.9M260.5 307.7h.9M264.2 304.5h.9M263.3 306.5h.9M262.5 317.4h.9M261.6 309.5h.9M262.7 313.3h.9M260.5 312.9h.9M266 316.8h.9M259.5 317.7h.9M258.4 304.6h.9M261.8 312.6h.9M264.1 317.1h.9M260.7 312.5h.9M261.5 312.6h.9M259.8 317.2h.9M261.4 308.2h.9M259.8 310h.9M259.8 308.5h.9M259 306.7h.9M260.6 306.1h.9M264.9 304.2h.9M261.5 308.8h.9M261.9 304.5h.9M265.5 304.4h.9M260.5 316.7h.9M259.8 313.6h.9M262.5 312.2h.9M259.4 312.4h.9M262.2 318.2h.9M263.6 313.6h.9M259.7 307.5h.9M260.7 311.8h.9M264.6 309.4h.9M259.7 309h.9M260.4 310h.9M262 319.4h.9M261 313.8h.9M260.1 308.1h.9M264.4 314h.9M260.6 304.7h.9M262.2 304.8h.9M260.9 311.7h.9M261.2 304.5h.9M259.2 316.4h.9M263.2 312.2h.9M260.8 305.4h.9M263.8 318.3h.9M259.5 311.8h.9M260.7 313.2h.9M262.4 313.6h.9M261.8 313h.9M260.4 310.4h.9M261.3 305.4h.9M259.3 318.9h.9M261.7 317.4h.9M256.9 309.1h.9M261.9 311.3h.9M264 308.5h.9M263.2 306.6h.9M263.1 307h.9M260.8 314.7h.9M262.4 316.3h.9M260.9 310.1h.9M261.4 318.8h.9M261.4 310.5h.9M255.6 310.1h.9M263.2 312.2h.9M262.4 306.5h.9M263.1 318.6h.9M259.9 319.4h.9M262.8 305.3h.9M262.4 306.7h.9M257.6 319.1h.9M258.5 308.5h.9M261.7 310.6h.9M260.4 317.5h.9M261.5 313.3h.9M260.4 310.4h.9M264.2 310.3h.9M258.2 316.5h.9M259.2 319.5h.9M259.9 318.7h.9M259.2 315.9h.9M260.6 314.8h.9M261.5 316.5h.9M259.2 314.4h.9M262.2 318.1h.9M263.9 313.6h.9M263.5 314.5h.9M265.1 315h.9M263.6 313.8h.9M261.5 306.3h.9M264.7 307.5h.9M262.8 317.7h.9M264.9 318.1h.9M261.2 311h.9M257.9 318.3h.9M259.5 307.1h.9M261.9 313.9h.9M262.6 304.5h.9M261.2 314h.9M263.4 311.3h.9M259.6 318.7h.9M260.3 317h.9M263.3 316.9h.9M261.7 305.1h.9M261.8 304.3h.9M264.1 309.8h.9M263.5 310h.9M260.2 307.9h.9M262 312.8h.9M258.6 305.2h.9M261.6 316h.9M262.3 305.6h.9M258.5 319.3h.9M264.4 310.6h.9M265.1 310.1h.9M262.5 307.9h.9M263.2 316.9h.9M264.3 314.4h.9M261.3 305.4h.9M263.5 316.6h.9M262.3 315.1h.9M258.9 310.7h.9M260 304.4h.9M260.6 314.5h.9M263.5 317h.9M261.8 317.7h.9M263.4 304.4h.9M260.8 315.7h.9M259.4 308.2h.9M265.3 318.5h.9M266.4 313h.9M262.3 310.6h.9M261.3 308.3h.9M263.7 309.9h.9M259.7 313.1h.9M261.2 317.1h.9M259.1 313.3h.9M262.5 312.5h.9M260.2 297.5h.9M262 288.1h.9M261.7 294.7h.9M262.5 296.9h.9M261.7 298h.9M259.5 294.5h.9M263 296.8h.9M262.1 296.2h.9M260.6 292.9h.9M261.2 293.8h.9M262.2 294.8h.9M261.8 296.1h.9M261.4 290.1h.9M263 291h.9M263.6 293.1h.9M261.1 295.9h.9M261.6 287.6h.9M259.7 297.2h.9M261.3 293.2h.9M262.5 295.7h.9M263.2 288.4h.9M262 291.1h.9M261.5 285.8h.9M260.4 289.3h.9M262 289.6h.9M259.7 297.5h.9M261.9 298.5h.9M261.7 289.6h.9M260 287.6h.9M262.2 286.5h.9M261.3 284.7h.9M262.7 286.3h.9M260.8 290.9h.9M262.5 289h.9M264.5 293.7h.9M262 284.9h.9M263.1 284.9h.9M260.5 288.7h.9M261 295.4h.9M258.2 290.7h.9M261.4 289h.9M259.6 287.2h.9M261.9 289.6h.9M257.9 287.4h.9M260.1 287.7h.9M261.8 289.5h.9M262.3 297h.9M258.7 288.3h.9M260.9 292h.9M266.3 287.4h.9M263.1 297.1h.9M261.9 291.7h.9M256.7 294.2h.9M260 291.8h.9M262.6 284.8h.9M262.1 287.8h.9M262.5 286.3h.9M263.4 286.9h.9M261.8 297.7h.9M263.2 288.5h.9M258.4 288.2h.9M266.1 288h.9M261.1 295.1h.9M260.5 293.4h.9M264.3 289.5h.9M262.7 294.8h.9M263.4 291.5h.9M260.5 292.8h.9M262.1 297.6h.9M262.9 297.6h.9M259.6 295.7h.9M261.2 292.2h.9M261.2 285.8h.9M261.1 287.9h.9M260.4 294.3h.9M259.4 287.6h.9M262.4 287.3h.9M262.1 285.6h.9M263.7 288.8h.9M261.5 290h.9M260.4 289.2h.9M259 297.6h.9M261.8 290.3h.9M261.1 298h.9M265.3 289.7h.9M265.8 289.3h.9M264.5 293.3h.9M260 296.2h.9M259.1 291.4h.9M261.2 296.4h.9M260 293.3h.9M264.2 288.7h.9M261.8 298.2h.9M260.9 285.5h.9M261.6 286.2h.9M263.9 293.5h.9M259.9 287.1h.9M262.5 287.2h.9M259.3 288.7h.9M261.3 292.7h.9M260.4 293.5h.9M262.2 295.8h.9M261.9 287.4h.9M263.8 289.2h.9M262.9 285h.9M260.5 289.9h.9M259.3 298.6h.9M260.2 295.8h.9M260.9 298h.9M261.2 294.5h.9M260.3 290.6h.9M263.6 290.9h.9M263.3 290.1h.9M261.1 293.5h.9M260.7 285.8h.9M261.2 292.5h.9M261.5 295.3h.9M261.6 292.8h.9M258.7 293.2h.9M260.9 296.1h.9M258.3 290.6h.9M261.7 291.2h.9M262.8 298.4h.9M259.7 294.4h.9M261.9 297h.9M260.5 293.9h.9M260.4 296.3h.9M265.2 297.7h.9M263.2 293.4h.9M262.5 298h.9M260.8 297.7h.9M262.4 288.5h.9M261.3 295.5h.9M262.4 287.9h.9M260 292.8h.9M261.5 290.6h.9M260.9 286.9h.9M259.1 297.1h.9M264.7 298.3h.9M263.1 293.7h.9M260.2 285.2h.9M259 293.6h.9M260.3 292.9h.9M260.1 290.1h.9M260.5 298.6h.9M258.9 290.3h.9M260.1 289.4h.9M261.7 285.9h.9M262.4 289.6h.9M258.1 289.3h.9M261.6 297.3h.9M259.8 292.4h.9M259.7 295.7h.9M261 294.3h.9M260.4 297.6h.9M262.9 293.2h.9M262.9 296.5h.9M261.1 294.4h.9M260.5 298.1h.9M264.8 284.9h.9M265 292.9h.9M262.3 293.9h.9M261.3 289h.9M263.4 288.1h.9M264.2 289.1h.9M260.7 294.2h.9M264.9 291h.9M261.3 292.6h.9M263.6 288h.9M260.7 293.1h.9M261.7 285.7h.9M260.8 292.8h.9M261.7 295.5h.9M263.5 286.4h.9M260 297.7h.9M261.1 284.7h.9M262.6 284.7h.9M260.8 291.7h.9M265.3 294.2h.9M259 297h.9M266.2 292.3h.9M260.4 288.5h.9M263.4 295.7h.9M264.5 289h.9M262.6 294.3h.9M259.1 291h.9M261 287.5h.9M261.7 291.8h.9M262.6 289.4h.9M263.4 293.7h.9M263.7 290.4h.9M264.3 287.2h.9M259.9 286.3h.9M263.4 285.3h.9M258.5 294.6h.9M261.9 297.2h.9M259.7 298.2h.9M258.4 296.4h.9M263.3 288.6h.9M261.6 296h.9M263.4 287.9h.9M258.7 297.9h.9M259.4 287.6h.9M261.4 292.9h.9M260.4 296.4h.9M261.7 290.3h.9M260.5 288h.9M261 297.8h.9M259.5 292.8h.9M264 297.3h.9M261 285.2h.9M259.5 292.6h.9M262.9 292h.9M262.5 290.2h.9M262 287.1h.9M262 285.5h.9M260.9 293h.9M261.4 292.7h.9M257.6 286.9h.9M258.8 288.3h.9M259.4 289.1h.9M262.1 287.3h.9M263.8 285.6h.9M261.3 297.9h.9M261.1 290.6h.9M263.7 294.9h.9M261 285.7h.9M262.8 298.3h.9M262.4 293h.9M259.2 292h.9M262.2 297.5h.9M262 294h.9M259.5 293.3h.9M259.7 297.2h.9M259.3 287.8h.9M264.1 293.7h.9M265.5 292.1h.9M262.9 287.3h.9M264.5 285.8h.9M259.2 295h.9M264.2 288.1h.9M265.2 294.4h.9M264.6 285.3h.9M259.9 285.7h.9M263.6 291.7h.9M261.4 297.3h.9M263.6 286.7h.9M260.4 289h.9M261.6 287.5h.9M260.6 291.4h.9M262.5 285.1h.9M261.4 293.6h.9M263.7 287.8h.9M263.1 297.2h.9M262.4 285.7h.9M261.6 293.9h.9M261.1 296.7h.9M261.6 292.7h.9M263 296.8h.9M261.9 290.5h.9M262.2 289.7h.9M261.6 295.3h.9M261.5 297.3h.9M260.4 286.7h.9M258.2 289.1h.9M262.7 289.9h.9M262.6 285.1h.9M259.8 297.1h.9M265.1 291.2h.9M259.5 297.9h.9M263.4 286.4h.9M262.1 286.8h.9M262.2 293.1h.9M263.7 290.3h.9M263.3 288.2h.9M261.7 289.5h.9M259.7 288.8h.9M259.4 294.9h.9M262 288.4h.9M264.5 288.2h.9M263.2 291.8h.9M261.6 291h.9M262.2 292.9h.9M262.9 290h.9M264.8 285.8h.9M260.2 298.1h.9M262.9 287.8h.9M262.1 288.4h.9M260.2 292.5h.9M259.8 295.7h.9M263.9 289.8h.9M262.2 287.9h.9M261.2 296.5h.9M261.8 290.7h.9M263.4 288.2h.9M261.8 294.9h.9M264.6 287h.9M261.1 291h.9M260.2 297.5h.9M261.4 286.9h.9M259.9 298.1h.9M261 287h.9M263.9 290.9h.9M264.7 298.5h.9M262.8 296.5h.9M262 296.8h.9M260 289.5h.9M259.8 287.9h.9M262.3 293.5h.9M261.9 289.6h.9M260.6 290.7h.9M260.8 286.6h.9M264.5 295.2h.9M263.4 296.8h.9M261.7 292.9h.9M262 286.9h.9M264 295h.9M262.3 287.2h.9M262.1 297.4h.9M258.7 286.6h.9M258.5 292.3h.9M258.1 287h.9M257.5 292.1h.9M261.6 291.2h.9M262.2 288.9h.9M260 296.3h.9M262.4 298.3h.9M262.4 293.2h.9M261.5 296.7h.9M258.9 295.4h.9M264.3 296.3h.9M264.1 297h.9M260.6 286.7h.9M265.2 289.9h.9M261.7 293.7h.9M260.2 286.1h.9M260.9 298.5h.9M258.2 285.8h.9M261 287.4h.9M258.7 292h.9M263.7 285.5h.9M262.2 293.7h.9M259.1 296.7h.9M262.7 297.2h.9M258.5 288.4h.9M261.9 294.4h.9M262.5 294.9h.9M261.7 287.3h.9M259.6 286.4h.9M261.4 293.2h.9M261.3 293.8h.9M261.7 291.4h.9M264.4 293h.9M264.7 286.3h.9M264.5 291.2h.9M260.5 294.9h.9M260.2 298.5h.9M261.7 285.3h.9M262.4 293.9h.9M257.8 285.4h.9M260.5 286.2h.9M264.9 292.6h.9M259.3 295.4h.9M260.3 288.5h.9M260.3 297.3h.9M262.5 297.7h.9M261.5 298.2h.9M261 290.7h.9M258.8 287.7h.9M262.7 289.5h.9M261.6 285.6h.9M260.4 297.5h.9M261.7 288.3h.9M263.1 288.8h.9M258.9 288.5h.9M258.8 291.4h.9M259.7 296.7h.9M260 293.8h.9M256 295.2h.9M260.5 285.2h.9M263.7 287.7h.9M261 285.8h.9M263.5 290.5h.9M256.3 297.8h.9M261.4 288.1h.9M264.2 293.5h.9M264.5 289.5h.9M260.7 292.5h.9M260.1 290.6h.9M262.3 296.4h.9M259.4 286h.9M260.9 294.2h.9M258.5 286.5h.9M261.8 285.9h.9M261.6 290.6h.9M264.6 296.4h.9M262.3 293h.9M260.4 291.5h.9M261.4 294.5h.9M259.2 297.6h.9M261.7 285.3h.9M261.2 290.1h.9M262.4 291.4h.9M263.3 297.2h.9M257.9 291.3h.9M262.2 287.3h.9M263 296.1h.9M259.4 285.8h.9M265.1 295.8h.9M260.3 296.8h.9M266.1 287.8h.9M263.1 296h.9M263.4 286.2h.9M262.1 294.9h.9M263.5 297.4h.9M259.7 289.9h.9M260.1 298.3h.9M258 297.1h.9M262.6 290.4h.9M260.3 288.2h.9M263 291.5h.9M262.7 286.9h.9M259.1 296.2h.9M262.9 287.4h.9M262.1 292.3h.9M262 286.6h.9M262.5 296.7h.9M261.6 291.1h.9M261.6 297.3h.9M263.6 296.2h.9M259.8 293.7h.9M259.4 290.9h.9M260.2 290.7h.9M263.5 295.2h.9M261 294.3h.9M265.1 285h.9M255.9 298.2h.9M260.3 293h.9M260.8 286.7h.9M262.1 289h.9M264.1 290.5h.9M261.3 296.4h.9M259.7 295.1h.9M263.2 284.7h.9M264.5 290.7h.9M256.9 294.6h.9M262.7 285.6h.9M262.2 287.2h.9M260.1 288h.9M260.7 295.4h.9M261.8 279.7h.9M256.7 281.9h.9M260.8 284.1h.9M265.5 279.1h.9M262.5 276.9h.9M261.7 275.5h.9M262 280.9h.9M266.4 281.9h.9M262.9 282.2h.9M264 275.4h.9M260.7 277.9h.9M260.7 279.4h.9M259.3 275.6h.9M261.2 277.3h.9M260.1 279.3h.9M263.8 277h.9M263.1 278.1h.9M261.4 277.2h.9M260.4 281.3h.9M255.2 277.7h.9M260.3 283h.9M262.3 284.1h.9M263.1 279.7h.9M254.7 277.1h.9M256.3 282.4h.9M262 275.9h.9M259.3 280h.9M261.1 278.1h.9M260.6 276.1h.9M262.9 276.7h.9M257.5 278.2h.9M260.4 281.9h.9M263.7 282.8h.9M262.1 279h.9M259.8 278.8h.9M262.6 278.7h.9M262.3 280.7h.9M259.6 282.9h.9M263.2 275.5h.9M263.1 277.9h.9M261.3 277.8h.9M263.7 284.3h.9M259 279.4h.9M263.3 279.4h.9M261.2 283.8h.9M259.5 282.5h.9M260.3 283h.9M264.2 278.5h.9M260.4 276h.9M260.9 278.4h.9M260.2 281.4h.9M259.9 276.3h.9M263.8 279.2h.9M266.6 276.5h.9M264.6 278.9h.9M262.8 283h.9M263.3 280.4h.9M260.9 282h.9M260.5 281.5h.9M259 284h.9" stroke="#2040dc" stroke-opacity="0.72" stroke-width=".9" fill="none"/><path d="M222.5 212.5H297.5V317.5H222.5Z M222.5 283.5H297.5" stroke="#d4a2e8" stroke-width="1" fill="none"/><rect x="251.3" y="244.2" width="18.4" height="8.2" fill="#fff"/><text x="260.5" y="250.7" font-size="6.8" text-anchor="middle" fill="#c040e0" letter-spacing="1" font-weight="bold">191</text><rect x="248.9" y="296.7" width="23.2" height="8.2" fill="#fff"/><text x="260.5" y="303.2" font-size="6.8" text-anchor="middle" fill="#c040e0" letter-spacing="1" font-weight="bold">4055</text><rect x="221.5" y="207" width="113" height="112.2" fill="none" stroke="#333" stroke-width="1"/><path d="M221.5 319.2v3M230 319.2v1.6M234.98 319.2v1.6M238.51 319.2v1.6M241.25 319.2v1.6M243.48 319.2v1.6M245.37 319.2v1.6M247.01 319.2v1.6M248.46 319.2v1.6M249.75 319.2v3M258.25 319.2v1.6M263.23 319.2v1.6M266.76 319.2v1.6M269.5 319.2v1.6M271.73 319.2v1.6M273.62 319.2v1.6M275.26 319.2v1.6M276.71 319.2v1.6M278 319.2v3M286.5 319.2v1.6M291.48 319.2v1.6M295.01 319.2v1.6M297.75 319.2v1.6M299.98 319.2v1.6M301.87 319.2v1.6M303.51 319.2v1.6M304.96 319.2v1.6M306.25 319.2v3M314.75 319.2v1.6M319.73 319.2v1.6M323.26 319.2v1.6M326 319.2v1.6M328.23 319.2v1.6M330.12 319.2v1.6M331.76 319.2v1.6M333.21 319.2v1.6M334.5 319.2v3" stroke="#222" stroke-width="0.8" fill="none"/><path d="M221.5 319.2h-3M221.5 310.76h-1.6M221.5 305.82h-1.6M221.5 302.31h-1.6M221.5 299.59h-1.6M221.5 297.37h-1.6M221.5 295.49h-1.6M221.5 293.87h-1.6M221.5 292.43h-1.6M221.5 291.15h-3M221.5 282.71h-1.6M221.5 277.77h-1.6M221.5 274.26h-1.6M221.5 271.54h-1.6M221.5 269.32h-1.6M221.5 267.44h-1.6M221.5 265.82h-1.6M221.5 264.38h-1.6M221.5 263.1h-3M221.5 254.66h-1.6M221.5 249.72h-1.6M221.5 246.21h-1.6M221.5 243.49h-1.6M221.5 241.27h-1.6M221.5 239.39h-1.6M221.5 237.77h-1.6M221.5 236.33h-1.6M221.5 235.05h-3M221.5 226.61h-1.6M221.5 221.67h-1.6M221.5 218.16h-1.6M221.5 215.44h-1.6M221.5 213.22h-1.6M221.5 211.34h-1.6M221.5 209.72h-1.6M221.5 208.28h-1.6M221.5 207h-3" stroke="#222" stroke-width="0.8" fill="none"/><text x="212.24" y="336.3" font-size="13.4">10<tspan font-size="9.38" dy="-4.82">0</tspan></text><text x="240.49" y="336.3" font-size="13.4">10<tspan font-size="9.38" dy="-4.82">1</tspan></text><text x="268.74" y="336.3" font-size="13.4">10<tspan font-size="9.38" dy="-4.82">2</tspan></text><text x="296.99" y="336.3" font-size="13.4">10<tspan font-size="9.38" dy="-4.82">3</tspan></text><text x="325.24" y="336.3" font-size="13.4">10<tspan font-size="9.38" dy="-4.82">4</tspan></text><text x="197.38" y="324.2" font-size="13.4">10<tspan font-size="9.38" dy="-4.82">0</tspan></text><text x="197.38" y="296.15" font-size="13.4">10<tspan font-size="9.38" dy="-4.82">1</tspan></text><text x="197.38" y="268.1" font-size="13.4">10<tspan font-size="9.38" dy="-4.82">2</tspan></text><text x="197.38" y="240.05" font-size="13.4">10<tspan font-size="9.38" dy="-4.82">3</tspan></text><text x="197.38" y="212" font-size="13.4">10<tspan font-size="9.38" dy="-4.82">4</tspan></text><text x="222.5" y="202.7" font-size="13.5">DNCB + ATP</text><path d="M419.2 259.1h.8M410.5 295.9h.8M421.1 245.9h.8M421.9 239.4h.8M409.5 277.9h.8M432 242.9h.8M409.7 246h.8M425.1 249.4h.8M415.7 240.7h.8M418.7 282.8h.8M410.8 253.4h.8M412.7 277.6h.8M423.2 230.5h.8M415.8 277h.8M414.6 280.5h.8M424.8 247.8h.8M423.3 254.8h.8M418.8 263.1h.8M419.3 261.6h.8M431.7 254.9h.8M416 239.4h.8M420.6 273.4h.8M420.9 271.3h.8M405.8 271.5h.8M401.3 264.5h.8M418.5 263.3h.8M424.6 281.5h.8M419.1 259.3h.8M413 281.2h.8M412 267.8h.8M424.2 267h.8M414.9 266.9h.8M404 242.8h.8M423.1 240.6h.8M419.4 248.4h.8M420.6 241.3h.8M426 267.5h.8M428.4 243.8h.8M422.1 264.2h.8M416 260.3h.8M399.8 259.7h.8M419.9 282.2h.8M416.2 272h.8M428.4 265.7h.8M428 258.4h.8M421.4 265.3h.8M428.8 275.4h.8M416.8 279.7h.8M417 263.4h.8M410.4 280.1h.8M414.8 280h.8M419.2 265h.8M426.2 261h.8M411.3 275.1h.8M424 288.5h.8M436.8 259.5h.8M406.2 252.1h.8M415.2 269.2h.8M417.6 268.8h.8M425.7 296.1h.8M433.9 250.9h.8M427.6 278.9h.8M417.1 253.4h.8M410.3 271.8h.8M416.9 265.5h.8M417.1 266.2h.8M419.4 288.7h.8M410 225h.8M430.1 285.4h.8M411.4 262h.8M423 274.9h.8M419.2 266.8h.8M408.3 244.2h.8M417.9 289.6h.8M417.5 265.5h.8M415.8 256.6h.8M424.1 261.8h.8M413.4 258h.8M438.5 274h.8M426.8 286.5h.8M409.8 281.9h.8M396.7 269.3h.8M427.8 253.1h.8M419.5 262.4h.8M418.1 241h.8M409.3 262.1h.8M405.4 260.8h.8M401.9 260.7h.8M438.7 287.8h.8M430.7 255.4h.8M412.8 279.1h.8M433 268.8h.8M401.9 230.7h.8M423.2 280.9h.8M423.2 261.9h.8M410.2 259.4h.8M413.6 261.7h.8M408.7 263.5h.8M417.7 271.4h.8M428.3 235.6h.8M425.6 291.7h.8M420.8 277.9h.8M426.7 242.7h.8M402.4 255.8h.8M434.2 274.3h.8M416.9 276.1h.8M406.3 267h.8M414.1 226.5h.8M411.9 256.6h.8M418.1 278h.8M417.2 288.6h.8M412.4 308.3h.8M424.3 291.8h.8M417.5 308h.8M423 302.1h.8M416.8 265.6h.8M427.3 280.1h.8M418.2 298.5h.8M417.5 274.3h.8M410.1 278.5h.8M413.5 284.4h.8M418.1 277.9h.8M413.1 297.2h.8M429.9 295.8h.8M415.8 304h.8M411.6 287.8h.8M421.4 308.4h.8M412.9 300h.8M418.2 289.2h.8M415.4 300h.8M411.8 290.5h.8M423.7 273.9h.8M416.4 305.4h.8M422 278.6h.8M414 302h.8M407.8 304.9h.8M408.9 291.9h.8M413 282.8h.8M414.8 302.4h.8M416.2 302.6h.8M414.4 273.5h.8M439.6 296.1h.8M410.4 271.4h.8M414.6 307.6h.8M427.1 282.6h.8M386.4 257.1h.8M443.6 303.8h.8M431 270.8h.8M423.2 266.7h.8M408 307.9h.8M447.7 291.7h.8M389.8 306.9h.8M385.3 263h.8M423.4 251.9h.8M428.7 311h.8M394.7 258.7h.8M439.6 231.4h.8M413.2 307.1h.8M406.7 256.3h.8M431.2 281.5h.8" stroke="#5a70e0" stroke-opacity="0.55" stroke-width=".8" fill="none"/><path d="M416 315.2h.9M419.6 311.3h.9M415.9 319.5h.9M418.7 319.4h.9M416.9 298.6h.9M416.7 317.3h.9M418.7 314.6h.9M417.6 316.3h.9M416.7 319h.9M416.5 317.9h.9M417.1 318.2h.9M416.9 319h.9M416.1 315.9h.9M414.7 317.7h.9M411.6 313.5h.9M416.5 318.1h.9M416.2 314.9h.9M419.1 318.4h.9M417.6 319.3h.9M419 312.5h.9M420.1 318.7h.9M416.5 306.4h.9M415.1 316.4h.9M418.3 318.3h.9M415.5 318h.9M416.2 312.7h.9M419.6 310.8h.9M417.8 318.3h.9M418.9 318h.9M414.1 317.7h.9M416.8 318.1h.9M418.9 306.9h.9M414.2 314.6h.9M417.1 318.3h.9M417.5 316.8h.9M412.2 317.8h.9M419.9 314.2h.9M415.3 306.3h.9M416.5 318.9h.9M420 316.7h.9M413.2 318.4h.9M417.6 319.5h.9M415.8 312.5h.9M416.8 315.7h.9M415.1 318.9h.9M419.4 316.1h.9M414.5 309h.9M417.4 317.3h.9M417.8 318.2h.9M416.5 318.5h.9M416.2 314.1h.9M416.2 318.3h.9M418.7 319.6h.9M417.6 313.9h.9M416.6 315.2h.9M414.6 316.7h.9M417 318.8h.9M417.8 316.7h.9M416.7 316.7h.9M419.6 314.2h.9M413 316.2h.9M421.6 318.4h.9M416.4 319.2h.9M414.5 313.4h.9M413.3 316.8h.9M418.4 319.4h.9M417.9 318.9h.9M416.3 317.2h.9M416.6 319.1h.9M417.1 318.4h.9M415.9 318.7h.9M419 315.2h.9M418 316.3h.9M416.5 289.1h.9M413.5 318.4h.9M419.4 309.3h.9M415.8 313.5h.9M414.7 318.2h.9M419.3 318.4h.9M417.7 319.4h.9M412.8 317.7h.9M413.5 312.1h.9M415.9 319.6h.9M414.3 316.6h.9M416.4 316.8h.9M421.9 319.2h.9M422.6 318.1h.9M416.6 318.6h.9M418.3 317h.9M418.5 308.9h.9M416.5 316h.9M413.8 318.1h.9M418.9 319h.9M416.4 317.8h.9M417.6 317.2h.9M418.1 318h.9M415.1 316h.9M420.1 317.9h.9M416.9 318.1h.9M417.2 319h.9M415.9 319.4h.9M418.1 318.1h.9M418.7 319.4h.9M415.6 319.3h.9M417.9 314.7h.9M415.9 315.4h.9M414.3 313.1h.9M416.1 319.1h.9M417.9 318.7h.9M417.8 319h.9M418.9 319.4h.9M415.4 316.8h.9M416.1 318.8h.9M416.9 317.4h.9M418 316.9h.9M416.5 315.1h.9M414.9 318.9h.9M413.7 316.5h.9M419.1 318.6h.9M418.8 317.3h.9M415.4 318.1h.9M419.7 319.2h.9M416.6 319.1h.9M417.6 313.7h.9M419.2 318.1h.9M415.8 315.8h.9M415.2 316.9h.9M413.3 319.1h.9M417.3 313.9h.9M417.6 316.3h.9M418.4 317.5h.9M417.9 319.2h.9M417 315.9h.9M419 312.1h.9M414.7 316.3h.9M417.5 310h.9M417.8 318.5h.9M416.5 318.7h.9M420.2 319.1h.9M417.6 306.5h.9M419.4 319.2h.9M418.5 303h.9M416.4 316h.9M420.6 317.8h.9M418.9 314.7h.9M416.8 319.1h.9M416.5 300.4h.9M414.7 315.4h.9M416.5 318.7h.9M416.3 316.1h.9M417.2 319.6h.9M415.9 313.8h.9M417.9 318.7h.9M416.6 319.3h.9M413.6 315.6h.9M415.7 318.2h.9M415 316.2h.9M414.2 318h.9M416.3 316.7h.9M418.6 318.4h.9M414.5 312.7h.9M412.8 316.6h.9M416.4 318.6h.9M422.7 313.2h.9M415.6 316.8h.9M417.3 318.7h.9M415.9 316h.9M418.5 309.7h.9M419.6 310.5h.9M416.4 303.7h.9M419.1 316.6h.9M414.6 313.3h.9M417.2 316.7h.9M414.2 315h.9M417.1 316.5h.9M415.5 319.1h.9M417.2 318.7h.9M414.5 319.5h.9M417.2 316.6h.9M417 317.4h.9M415.6 319.2h.9M415.2 308.4h.9M414.4 319.2h.9M416 318.6h.9M417.6 317.3h.9M416.5 316.9h.9M417.1 317.8h.9M419.3 318.3h.9M416.1 315.6h.9M417.3 312.5h.9M418.4 318.9h.9M417.8 318.8h.9M417.5 312.6h.9M416.9 318.2h.9M420.6 312.8h.9M416.6 316h.9M416 317.2h.9M417.9 318.2h.9M420 317.5h.9M419.6 319.5h.9M416.8 317.4h.9M418.4 319.5h.9M417.8 319.2h.9M416.9 317.5h.9M418.1 317.4h.9M418 314.9h.9M417 318.9h.9M420.2 315.9h.9M416 318.7h.9M419.5 319h.9M420.9 319.4h.9M420.9 318.4h.9M417.3 318.7h.9M416.4 318.5h.9M413.6 313.9h.9M416.7 319.4h.9M421.6 312.1h.9M413.7 318.3h.9M413.7 319.1h.9M418.4 311.1h.9M418 317.5h.9M413.2 319h.9M416.7 317.1h.9M417.4 319.2h.9M413.8 306h.9M418.7 309.1h.9M414.2 319.4h.9M419 319.3h.9M417.2 316.1h.9M415.4 316.5h.9M413.6 317.8h.9M416.1 312.6h.9M416.6 317.5h.9M416.5 317.4h.9M415.6 314.7h.9M416.4 310.2h.9M418.5 315.8h.9M415 315.2h.9M416.4 313.5h.9M417.7 316.3h.9M416.7 317.7h.9M418.5 319.4h.9M419.8 317.7h.9M416.1 319.6h.9M417.2 318.4h.9M411 318.3h.9M416.1 318.8h.9M418.1 298.1h.9M414.6 316.8h.9M419.4 317.5h.9M413 316.2h.9M419.4 319.4h.9M415.7 317.5h.9M414.7 315.2h.9M415.8 315.6h.9M416.2 318.6h.9M414.8 317.1h.9M414 315.4h.9M415.7 317.2h.9M418.6 318.5h.9M417.6 306.8h.9M419.4 316.3h.9M415.6 315.5h.9M416.1 314.5h.9M416.1 309.5h.9M417 310.8h.9M417.7 313.8h.9M420.2 313.4h.9M418.1 317.6h.9M417.1 316.2h.9M419.4 318.8h.9M415.2 317.9h.9M414.2 316.4h.9M418.1 319.3h.9M417.1 319.2h.9M417 313.9h.9M418.6 318.2h.9M416.1 314.4h.9M416.5 318.3h.9M417.5 317.3h.9M403.8 318.7h.9M419.9 318.6h.9M410.8 318.9h.9M418 318.7h.9M397.3 318.5h.9M399.1 319.5h.9M409.4 319.6h.9M402.2 318.8h.9M410.7 319h.9M417.5 319.4h.9M423 318.9h.9M426.5 318.9h.9M419.7 319.3h.9M405.1 319.6h.9M417.4 318.5h.9M406.9 319h.9M417.4 319.5h.9M401.6 318.8h.9M425.3 318.7h.9M416.1 319.2h.9M409.2 318.8h.9M398.6 319.6h.9M414.8 318.9h.9M406.9 318.6h.9M414.5 318.8h.9M405 319.3h.9M406.7 319.2h.9M418.2 318.9h.9M426.6 319.2h.9M399.6 318.5h.9M410.1 318.8h.9M415.9 319.2h.9M410.5 318.9h.9M407.7 319.6h.9M433.4 319.3h.9M403.8 319.6h.9M415.6 319.3h.9M407.2 319.5h.9M411.1 319.1h.9M389.6 319.3h.9M420.8 319.6h.9M410 319.5h.9M402.6 319.2h.9M428.4 319h.9M409.3 319.4h.9M406 319.2h.9M403.7 318.6h.9M422.6 319.2h.9M412.4 319.1h.9M409 319.1h.9" stroke="#2040dc" stroke-opacity="0.72" stroke-width=".9" fill="none"/><path d="M377.5 212.5H452.5V317.5H377.5Z M377.5 283.5H452.5" stroke="#d4a2e8" stroke-width="1" fill="none"/><rect x="406.3" y="244.2" width="18.4" height="8.2" fill="#fff"/><text x="415.5" y="250.7" font-size="6.8" text-anchor="middle" fill="#c040e0" letter-spacing="1" font-weight="bold">150</text><rect x="406.3" y="296.7" width="18.4" height="8.2" fill="#fff"/><text x="415.5" y="303.2" font-size="6.8" text-anchor="middle" fill="#c040e0" letter-spacing="1" font-weight="bold">404</text><rect x="376.5" y="207" width="112.5" height="112.2" fill="none" stroke="#333" stroke-width="1"/><path d="M376.5 319.2v3M384.97 319.2v1.6M389.92 319.2v1.6M393.43 319.2v1.6M396.16 319.2v1.6M398.39 319.2v1.6M400.27 319.2v1.6M401.9 319.2v1.6M403.34 319.2v1.6M404.62 319.2v3M413.09 319.2v1.6M418.04 319.2v1.6M421.56 319.2v1.6M424.28 319.2v1.6M426.51 319.2v1.6M428.39 319.2v1.6M430.02 319.2v1.6M431.46 319.2v1.6M432.75 319.2v3M441.22 319.2v1.6M446.17 319.2v1.6M449.68 319.2v1.6M452.41 319.2v1.6M454.64 319.2v1.6M456.52 319.2v1.6M458.15 319.2v1.6M459.59 319.2v1.6M460.88 319.2v3M469.34 319.2v1.6M474.29 319.2v1.6M477.81 319.2v1.6M480.53 319.2v1.6M482.76 319.2v1.6M484.64 319.2v1.6M486.27 319.2v1.6M487.71 319.2v1.6M489 319.2v3" stroke="#222" stroke-width="0.8" fill="none"/><path d="M376.5 319.2h-3M376.5 310.76h-1.6M376.5 305.82h-1.6M376.5 302.31h-1.6M376.5 299.59h-1.6M376.5 297.37h-1.6M376.5 295.49h-1.6M376.5 293.87h-1.6M376.5 292.43h-1.6M376.5 291.15h-3M376.5 282.71h-1.6M376.5 277.77h-1.6M376.5 274.26h-1.6M376.5 271.54h-1.6M376.5 269.32h-1.6M376.5 267.44h-1.6M376.5 265.82h-1.6M376.5 264.38h-1.6M376.5 263.1h-3M376.5 254.66h-1.6M376.5 249.72h-1.6M376.5 246.21h-1.6M376.5 243.49h-1.6M376.5 241.27h-1.6M376.5 239.39h-1.6M376.5 237.77h-1.6M376.5 236.33h-1.6M376.5 235.05h-3M376.5 226.61h-1.6M376.5 221.67h-1.6M376.5 218.16h-1.6M376.5 215.44h-1.6M376.5 213.22h-1.6M376.5 211.34h-1.6M376.5 209.72h-1.6M376.5 208.28h-1.6M376.5 207h-3" stroke="#222" stroke-width="0.8" fill="none"/><text x="367.24" y="336.3" font-size="13.4">10<tspan font-size="9.38" dy="-4.82">0</tspan></text><text x="395.37" y="336.3" font-size="13.4">10<tspan font-size="9.38" dy="-4.82">1</tspan></text><text x="423.49" y="336.3" font-size="13.4">10<tspan font-size="9.38" dy="-4.82">2</tspan></text><text x="451.62" y="336.3" font-size="13.4">10<tspan font-size="9.38" dy="-4.82">3</tspan></text><text x="479.74" y="336.3" font-size="13.4">10<tspan font-size="9.38" dy="-4.82">4</tspan></text><text x="352.38" y="324.2" font-size="13.4">10<tspan font-size="9.38" dy="-4.82">0</tspan></text><text x="352.38" y="296.15" font-size="13.4">10<tspan font-size="9.38" dy="-4.82">1</tspan></text><text x="352.38" y="268.1" font-size="13.4">10<tspan font-size="9.38" dy="-4.82">2</tspan></text><text x="352.38" y="240.05" font-size="13.4">10<tspan font-size="9.38" dy="-4.82">3</tspan></text><text x="352.38" y="212" font-size="13.4">10<tspan font-size="9.38" dy="-4.82">4</tspan></text><text x="378.5" y="202.7" font-size="13.5">DNCB + ATP</text><rect x="67.6" y="415.2" width="112.9" height="111.4" fill="none" stroke="#333" stroke-width="1"/><path d="M67.6 526.6h-3.2M67.6 521.03h-1.6M67.6 515.46h-1.6M67.6 509.89h-1.6M67.6 504.32h-1.6M67.6 498.75h-3.2M67.6 493.18h-1.6M67.6 487.61h-1.6M67.6 482.04h-1.6M67.6 476.47h-1.6M67.6 470.9h-3.2M67.6 465.33h-1.6M67.6 459.76h-1.6M67.6 454.19h-1.6M67.6 448.62h-1.6M67.6 443.05h-3.2M67.6 437.48h-1.6M67.6 431.91h-1.6M67.6 426.34h-1.6M67.6 420.77h-1.6M67.6 415.2h-3.2" stroke="#222" stroke-width="0.8" fill="none"/><path d="M67.6 526.6v3M76.1 526.6v1.6M81.07 526.6v1.6M84.59 526.6v1.6M87.33 526.6v1.6M89.56 526.6v1.6M91.45 526.6v1.6M93.09 526.6v1.6M94.53 526.6v1.6M95.82 526.6v3M104.32 526.6v1.6M109.29 526.6v1.6M112.82 526.6v1.6M115.55 526.6v1.6M117.79 526.6v1.6M119.68 526.6v1.6M121.31 526.6v1.6M122.76 526.6v1.6M124.05 526.6v3M132.55 526.6v1.6M137.52 526.6v1.6M141.04 526.6v1.6M143.78 526.6v1.6M146.01 526.6v1.6M147.9 526.6v1.6M149.54 526.6v1.6M150.98 526.6v1.6M152.28 526.6v3M160.77 526.6v1.6M165.74 526.6v1.6M169.27 526.6v1.6M172 526.6v1.6M174.24 526.6v1.6M176.13 526.6v1.6M177.76 526.6v1.6M179.21 526.6v1.6M180.5 526.6v3" stroke="#222" stroke-width="0.8" fill="none"/><text x="63.1" y="529.5" font-size="13.5" text-anchor="end">0</text><text x="63.1" y="501.65" font-size="13.5" text-anchor="end">50</text><text x="63.1" y="473.8" font-size="13.5" text-anchor="end">100</text><text x="63.1" y="445.95" font-size="13.5" text-anchor="end">150</text><text x="63.1" y="418.1" font-size="13.5" text-anchor="end">200</text><text x="58.54" y="543.8" font-size="13.4">10<tspan font-size="9.38" dy="-4.82">0</tspan></text><text x="86.77" y="543.8" font-size="13.4">10<tspan font-size="9.38" dy="-4.82">1</tspan></text><text x="114.99" y="543.8" font-size="13.4">10<tspan font-size="9.38" dy="-4.82">2</tspan></text><text x="143.22" y="543.8" font-size="13.4">10<tspan font-size="9.38" dy="-4.82">3</tspan></text><text x="171.44" y="543.8" font-size="13.4">10<tspan font-size="9.38" dy="-4.82">4</tspan></text><text x="124.05" y="559.6" font-size="13.5" text-anchor="middle">TF</text><polyline points="67.8,504 68.2,518 68.8,521.1 71,518.5 73.9,517.4 76.1,507.9 78.3,487.4 79.8,468.4 81.2,462.5 82.7,450 83.7,455.2 84.9,450.8 86.1,461.8 87.8,464 89.3,469.8 90.8,474.2 91.9,458.1 93,450 94,453.7 94.9,450 95.9,462.5 97.4,474.2 98.4,485.9 99.6,502 101,518.2 102.5,524.8 104,526.2" fill="none" stroke="#7d8a8a" stroke-width="1.2"/><polyline points="67.6,525.8 71,524.8 74.7,522.6 76.8,518.9 79,512.3 81.2,507.9 83.4,502.8 85.6,497.7 87.5,492.5 88.6,497.7 90,484.5 91.5,481.5 93,477.9 94,469.1 95.2,469.8 96.6,473.5 98.4,475.7 100.3,481.5 102.5,486.7 104,488.9 105.7,494.7 108.4,493.3 110.5,494.7 112,499.1 114.2,499.1 116.4,502 118.6,507.2 121.5,512.3 124.5,516.7 127.4,520.4 130.3,524.1 133.3,526.2" fill="none" stroke="#e0303a" stroke-width="1.2"/><rect x="218" y="415" width="112.5" height="111.6" fill="none" stroke="#333" stroke-width="1"/><path d="M218 526.6h-3.2M218 521.02h-1.6M218 515.44h-1.6M218 509.86h-1.6M218 504.28h-1.6M218 498.7h-3.2M218 493.12h-1.6M218 487.54h-1.6M218 481.96h-1.6M218 476.38h-1.6M218 470.8h-3.2M218 465.22h-1.6M218 459.64h-1.6M218 454.06h-1.6M218 448.48h-1.6M218 442.9h-3.2M218 437.32h-1.6M218 431.74h-1.6M218 426.16h-1.6M218 420.58h-1.6M218 415h-3.2" stroke="#222" stroke-width="0.8" fill="none"/><path d="M218 526.6v3M226.47 526.6v1.6M231.42 526.6v1.6M234.93 526.6v1.6M237.66 526.6v1.6M239.89 526.6v1.6M241.77 526.6v1.6M243.4 526.6v1.6M244.84 526.6v1.6M246.12 526.6v3M254.59 526.6v1.6M259.54 526.6v1.6M263.06 526.6v1.6M265.78 526.6v1.6M268.01 526.6v1.6M269.89 526.6v1.6M271.52 526.6v1.6M272.96 526.6v1.6M274.25 526.6v3M282.72 526.6v1.6M287.67 526.6v1.6M291.18 526.6v1.6M293.91 526.6v1.6M296.14 526.6v1.6M298.02 526.6v1.6M299.65 526.6v1.6M301.09 526.6v1.6M302.38 526.6v3M310.84 526.6v1.6M315.79 526.6v1.6M319.31 526.6v1.6M322.03 526.6v1.6M324.26 526.6v1.6M326.14 526.6v1.6M327.77 526.6v1.6M329.21 526.6v1.6M330.5 526.6v3" stroke="#222" stroke-width="0.8" fill="none"/><text x="213.5" y="529.5" font-size="13.5" text-anchor="end">0</text><text x="213.5" y="501.6" font-size="13.5" text-anchor="end">50</text><text x="213.5" y="473.7" font-size="13.5" text-anchor="end">100</text><text x="213.5" y="445.8" font-size="13.5" text-anchor="end">150</text><text x="213.5" y="417.9" font-size="13.5" text-anchor="end">200</text><text x="208.94" y="543.8" font-size="13.4">10<tspan font-size="9.38" dy="-4.82">0</tspan></text><text x="237.07" y="543.8" font-size="13.4">10<tspan font-size="9.38" dy="-4.82">1</tspan></text><text x="265.19" y="543.8" font-size="13.4">10<tspan font-size="9.38" dy="-4.82">2</tspan></text><text x="293.32" y="543.8" font-size="13.4">10<tspan font-size="9.38" dy="-4.82">3</tspan></text><text x="321.44" y="543.8" font-size="13.4">10<tspan font-size="9.38" dy="-4.82">4</tspan></text><text x="274.25" y="559.6" font-size="13.5" text-anchor="middle">PS</text><polyline points="218.6,525.4 219.3,510.8 220.1,493.2 221.1,484.4 222.2,488.1 223.7,475.6 225.2,465.4 226.6,452.2 228.4,435.4 229.6,454.4 231,446.4 232.5,436.1 233.7,455.1 235.1,461 236.6,475.6 238.4,488.8 240.6,502 242.7,507.8 245.7,514.4 248.6,519.6 251.5,522.5 255.9,525.1 261.8,526" fill="none" stroke="#7d8a8a" stroke-width="1.2"/><polyline points="218.6,525.7 222.2,523.2 225.2,516.6 228.1,512.2 230.3,509.3 232.5,500.2 234,504.9 235.4,502 237.2,497.3 238.6,503.5 240.6,504.9 242.7,499.8 244.5,505.7 247.1,502.7 249.3,507.8 250.8,510 252.3,504.9 254.5,503.5 256.7,499.1 258.9,493.2 260.3,490.3 262.5,485.9 264.4,485.9 265.4,483.3 266.9,487.4 269.1,491.7 270.6,495.4 272.3,494.7 274.2,499.1 276.4,503.5 278.6,508.6 280.8,513 283.7,515.9 286.7,518.8 289.6,521.8 292.5,524.2 295.5,525.7 299.8,526.1" fill="none" stroke="#e0303a" stroke-width="1.2"/><text transform="translate(33.2 467.5) rotate(-90)" font-size="13.5" text-anchor="middle" dy="4.8">MP count</text><rect x="73.4" y="388" width="9.4" height="9" fill="#7f8c8d"/><text x="85.3" y="396.1" font-size="10.2">Small MPs</text><rect x="73.4" y="400" width="9.4" height="9" fill="#e8232b"/><text x="85.3" y="407.9" font-size="10.2">Large MPs</text><path d="M419.9 520.1h.9M418.4 498.7h.9M420.9 496h.9M418.6 511.5h.9M420.5 502.5h.9M420 515.7h.9M422.2 523.4h.9M421.7 519.7h.9M421.8 526.8h.9M419.7 486.7h.9M422.2 484.2h.9M420.3 519.8h.9M420.6 490.3h.9M421.1 501.2h.9M420.8 492.7h.9M418.5 500.1h.9M421.4 504.1h.9M418.1 510.6h.9M421.1 510h.9M420.3 487.7h.9M420.5 513.9h.9M418.8 520h.9M421.9 482.6h.9M420.2 514.3h.9M421.7 522.4h.9M419.3 514.9h.9M419.4 491h.9M420.5 491.8h.9M421.9 487.2h.9M418.5 486.7h.9M419.6 482.3h.9M419.7 512.3h.9M420 516.9h.9M419.7 484.7h.9M422 486h.9M421.4 503.7h.9M420.4 513h.9M421.6 518.1h.9M421.9 483.2h.9M419.5 498.4h.9M419.3 499.7h.9M421.4 518.7h.9M423.5 518.8h.9M416.9 508.2h.9M419.5 486.9h.9M421.6 490.6h.9M419.2 515.2h.9M421.7 524.1h.9M420.7 499.7h.9M418.6 494h.9M419.7 485.5h.9M421 498.4h.9M419.1 515.7h.9M421.3 503.2h.9M420.9 495.4h.9M420 518.2h.9M421 486.3h.9M419.9 520.5h.9M420.7 526.6h.9M419 514h.9M422.5 492.4h.9M420 501.6h.9M422.1 514.4h.9M423.6 512.2h.9M422.7 504.3h.9M420.4 490.7h.9M420.6 483.4h.9M420.3 496.1h.9M420.9 520.7h.9M419.2 488h.9M417.8 490.5h.9M420.9 495.3h.9M420.5 490.4h.9M422.7 526.3h.9M423.1 496.6h.9M418.4 505.2h.9M419 482.5h.9M421.5 484.5h.9M422.1 505.9h.9M420.6 489.5h.9M420.5 494.4h.9M417.7 493.7h.9M423.8 511.2h.9M419.4 494.3h.9M421.2 525.6h.9M420.9 525.6h.9M419.1 516.8h.9M421.7 516.5h.9M422.6 526.4h.9M420.3 487.5h.9M420.6 491.7h.9M421.4 492.3h.9M421.9 490.6h.9M421.7 485.4h.9M419.1 520.3h.9M419 505h.9M419.6 510.4h.9M416.5 510h.9M418.5 497.3h.9M420.1 510.9h.9M419.4 485.3h.9M419.2 521h.9M421.7 519.1h.9M420.9 487.6h.9M421.6 515.6h.9M420.2 511.1h.9M419.8 506.7h.9M419.1 494.5h.9M420.8 486.4h.9M417.8 497.3h.9M419.1 516.8h.9M421.3 488.9h.9M421.7 512.8h.9M420.3 523.3h.9M418.7 525.5h.9M421.2 489.7h.9M419.3 503.5h.9M420.2 516.2h.9M419 524.1h.9M423.1 483.5h.9M422.6 491.5h.9M419.2 493.3h.9M418.7 508.6h.9M420.3 518h.9M421.3 510.8h.9M422.3 497.5h.9M420.3 499h.9M418.6 522.2h.9M420.8 488.5h.9M420.8 500.6h.9M418.1 501.7h.9M420 498.2h.9M420 502.4h.9M419 484.2h.9M420.7 517.1h.9M422 496h.9M421.9 499.4h.9M419.1 483.1h.9M419.5 496.8h.9M421.4 516.9h.9M419.9 510.2h.9M419.9 486.7h.9M423.6 523.1h.9M416.6 492.6h.9M419.4 504h.9M419.2 525.4h.9M420.3 490h.9M422.9 518.6h.9M420.2 512.4h.9M420 503.9h.9M420.6 512.7h.9M420 489.2h.9M421 483.7h.9M424.1 485.7h.9M419.4 505.1h.9M420.1 491.9h.9M420.3 512.8h.9M417.3 505.9h.9M421.3 504.1h.9M420.3 507.7h.9M417.5 518.3h.9M420 486.6h.9M420.6 497.8h.9M419.1 511.3h.9M422 513.3h.9M419.5 521.9h.9M418.2 505.9h.9M421.6 512.1h.9M420.2 486.8h.9M420.6 521.8h.9M418 517.8h.9M418.4 497.9h.9M418.9 514.5h.9M420.2 511.8h.9M420.2 484.9h.9M422.4 516.8h.9M422.7 519.9h.9M420.6 512.2h.9M420.3 509.7h.9M423.2 504.8h.9M420.5 494.8h.9M421.9 520.6h.9M419.7 518.6h.9M420.3 486.1h.9M420 496.6h.9M419.4 522.5h.9M421 500.8h.9M419.2 489.6h.9M420.2 516.2h.9M421 505.2h.9M423.5 491.5h.9M417.6 514.7h.9M420.5 495.2h.9M421.4 508.7h.9M419.9 500.7h.9M421.7 499.1h.9M421.2 523.9h.9M421.1 497.4h.9M419.8 491.5h.9M420.1 518.7h.9M420.1 523.5h.9M419 503.6h.9M420.7 504.3h.9M418.9 506.8h.9M419 487.6h.9M418.4 524.2h.9M422 498.8h.9M419.6 489.2h.9M419.1 491.1h.9M421.6 494.7h.9M419.8 518h.9M420.9 517.6h.9M420.1 508.2h.9M420.9 492h.9M420.7 523.3h.9M417.2 524.5h.9M422.6 486.8h.9M421.9 510.5h.9M418.3 499.8h.9M421.7 485.4h.9M420.1 522.9h.9M420.6 509.1h.9M422.3 489.6h.9M421.9 518.8h.9M421.8 487h.9M423.3 494.9h.9M422 509.6h.9M419.5 490.7h.9M418.5 507.8h.9M421.6 488.3h.9M417.9 482.4h.9M419.9 500.7h.9M419.9 496.9h.9M419.4 517.9h.9M422.4 519.7h.9M420.9 509.1h.9M420.1 514.3h.9M421.7 506.3h.9M419.8 519.1h.9M422.2 497.1h.9M423.4 502.9h.9M420.2 518.9h.9M420.2 523.4h.9M422.1 500.9h.9M417.5 483h.9M418.6 484h.9M418.9 482.5h.9M418 508.2h.9M420.4 486.4h.9M420.8 522.5h.9M420.4 527h.9M420.4 521.9h.9M421.7 526.3h.9M422 521.8h.9M422.2 505.3h.9M420.2 489.6h.9M420.4 494.1h.9M422.6 503.3h.9M421 524.2h.9M422.3 498.1h.9M419.7 498.9h.9M420.3 490.8h.9M419.5 502.6h.9M420.4 512h.9M421 514.2h.9M419.7 505.1h.9M423.3 514.8h.9M418.2 483.4h.9M421.7 522.8h.9M418.8 497.1h.9M420.8 509.3h.9M419.3 508.9h.9M420.5 503.2h.9M420.5 512.8h.9M419.2 494.7h.9M418.6 499.7h.9M419.4 505.5h.9M420.4 507.5h.9M421.6 501.5h.9M422.8 494.3h.9M417.9 519.4h.9M421.1 520.9h.9M419.7 520h.9M420.4 509.5h.9M420.9 503.8h.9M421.6 507.8h.9M421 492.5h.9M420.4 497.7h.9M422.7 497.5h.9M420.8 503.5h.9M420.4 483.5h.9M422.1 525.8h.9M418.7 505.9h.9M419 511h.9M422.5 482.7h.9M420.1 513.1h.9M417.8 508.5h.9M421.6 493.4h.9M422.2 508.1h.9M419.3 520.3h.9M418.5 517.2h.9M420.3 504h.9M420.9 510.1h.9M419.5 501.2h.9M419.1 516.3h.9M421.2 483.3h.9M421.2 512.1h.9M418.1 510.2h.9M418.8 499.4h.9M419.9 489.3h.9M419.5 488.4h.9M420.7 502.5h.9M421.1 488.7h.9M423.1 497.5h.9M420.9 511.7h.9M421.7 505.3h.9M418.1 512.3h.9M419.4 491.7h.9M421.9 500.9h.9M418.3 503.5h.9M422.3 512h.9M421.2 494.1h.9M420.6 515.3h.9M420.2 513.2h.9M418.7 526.8h.9M418.8 522.1h.9M419.6 512.4h.9M419.7 512.5h.9M422.2 507.9h.9M418.9 497.9h.9M419.5 515.1h.9M417.8 519.5h.9M420.6 499h.9M420.4 495h.9M422 486.2h.9M423.2 504.6h.9M421.2 524.4h.9M419.1 511.9h.9M420.7 496.5h.9M420.8 509.1h.9M420.3 520.7h.9M418.8 484.3h.9M420.9 489.1h.9M418.6 515.5h.9M420.2 521.4h.9M419.9 505.6h.9M416.6 516h.9M421.3 504.3h.9M423.5 494h.9M419.8 514.3h.9M419.5 510.3h.9M421.7 499.3h.9M418.5 503.3h.9M420.4 526.4h.9M420.7 512.3h.9M419.6 521.1h.9M420.3 488.6h.9M419.1 506.3h.9M419.5 491.5h.9M421.3 515.1h.9M419.1 524.4h.9M419.5 487.2h.9M419.4 487.5h.9M421.1 501.3h.9M419.8 521.2h.9M419.1 524.1h.9M420.9 497.1h.9M417.4 503.4h.9M417.6 511.7h.9M420.8 501.3h.9M423.1 524.7h.9M419.7 517.7h.9M420.9 483.3h.9M418.3 507h.9M420.5 507.5h.9M420.7 483.1h.9M421.2 507h.9M419.3 525h.9M423.2 497h.9M419 504.2h.9M422.6 515.6h.9M418.8 503.7h.9M421.5 514h.9M422.3 495.3h.9M423.5 483.3h.9M420.2 524.1h.9M418 493.7h.9M421.6 488.3h.9M419.3 495.5h.9M418.8 501.9h.9M419.5 514.3h.9M419.1 509.7h.9M421.5 520.8h.9M420.7 524.4h.9M421.4 495.7h.9M421.6 522.1h.9M419.8 524.8h.9M421.4 516h.9M422.2 526.6h.9M423.1 500.2h.9M420.6 503.6h.9M420 507.4h.9M419 523.6h.9M419.8 504h.9M420.4 496.2h.9M420.8 511.9h.9M418.4 514.9h.9M419.8 508.2h.9M420.1 514.5h.9M419.5 510.1h.9M419.5 501.3h.9M420.9 525.2h.9M419 514.2h.9M421.1 521.8h.9M418.8 516.7h.9M420.7 490.8h.9M418.8 509.6h.9M422.1 506.8h.9M421.5 513.5h.9M422.3 484.4h.9M419.2 488.2h.9M418.5 524.4h.9M418.5 515.6h.9M420.1 507.9h.9M421.9 493h.9M421.4 512.8h.9M421.4 518.9h.9M418.6 520.7h.9M422 489.2h.9M421.5 509.4h.9M419.6 512.2h.9M416.7 507.7h.9M419.2 482.7h.9M420.2 495.6h.9M422.7 516.6h.9M420.7 518.4h.9M420.3 521.8h.9M422.7 486.4h.9M422.7 506.8h.9M420.9 495.7h.9M421.3 487.7h.9M422.2 524.2h.9M419.3 517.6h.9M421 508.6h.9M419.8 492.8h.9M419 507.4h.9M421.1 513.4h.9M422 523.8h.9M423.1 508.3h.9M421.5 518.5h.9M422.1 483.9h.9M420.1 488h.9M418.2 508.8h.9M419.5 523.2h.9M421 510h.9M419.5 483.4h.9M423.2 498.6h.9M422.2 505.2h.9M420.1 509.4h.9M422.9 518.2h.9M421.4 520.6h.9M422.8 508.2h.9M420.1 483.5h.9M421.6 484.7h.9M420.1 488.6h.9M420.4 511.7h.9M422.1 500.6h.9M423.2 518.9h.9M420.6 515.8h.9M420.8 519.1h.9M419.1 510.3h.9M420.1 524.6h.9M421.1 488.6h.9M418.6 485.5h.9M419.8 518.2h.9M418.8 512.3h.9M420.7 517.2h.9M421.7 496h.9M420.9 482.9h.9M420 485.4h.9M418.9 524.9h.9M418 485.4h.9M420.4 506.3h.9M422.6 520.2h.9M420 513.4h.9M420.3 503.8h.9M419.8 510.3h.9M418.8 500.2h.9M422 523.2h.9M421.5 499.4h.9M418.2 511.8h.9M418.6 489.1h.9M422.4 499.9h.9M419.1 524.6h.9M420.3 483.1h.9M418.9 517.6h.9M420.9 501.7h.9M419.3 509.5h.9M419.5 501.3h.9M418.8 520.8h.9M423.2 515.5h.9M424.2 516.7h.9M420.7 508.3h.9M421.4 510.5h.9M421.3 509.3h.9M420.4 509.4h.9M420.3 510.2h.9M419.9 490.8h.9M421.6 506.3h.9M418.6 499.8h.9M419.2 501.7h.9M421.5 502.3h.9M418.3 487.2h.9M422.8 484.6h.9M420 525.5h.9M420.7 508.9h.9M422.4 482.7h.9M420.3 517.8h.9M420.6 504.4h.9M419.6 510.5h.9M421.2 499.8h.9M421.4 492.2h.9M419.1 498h.9M421.4 516.5h.9M421.9 498.6h.9M421.1 494.8h.9M419.3 521.9h.9M421.8 499.3h.9M422.4 525.8h.9M419.7 508.6h.9M417.7 511.5h.9M419.4 520.2h.9M420.4 497.1h.9M422.3 496.5h.9M422.2 497.9h.9M421.4 497.8h.9M419.5 495.2h.9M421.5 502.3h.9M420.4 483.7h.9M418.9 500.3h.9M417.8 503h.9M421.9 492.9h.9M418 515.7h.9M422.3 484.2h.9M423.8 499.6h.9M420.5 511.5h.9M419.2 514.6h.9M419.5 511.5h.9M419.4 482.6h.9M421 512.2h.9M421.9 521.3h.9M419.3 488.1h.9M419.9 519.4h.9M419.5 511.7h.9M422.1 512h.9M421.9 519.7h.9M419.2 518.8h.9M420 489h.9M420.7 484.7h.9M417.8 526.5h.9M419.6 509.4h.9M420.6 488.5h.9M418.3 514h.9M420.7 526h.9M420.5 488.2h.9M419.6 492.8h.9M421.9 525.6h.9M419 493.6h.9M421 508h.9M420 499.9h.9M422 520h.9M419.3 511.9h.9M421.3 484.2h.9M421.3 507h.9M422.1 509.5h.9M422.8 488.6h.9M418.2 500h.9M420.3 504.7h.9M418.8 525h.9M421.9 495.4h.9M422.4 515.2h.9M420 512.8h.9M420.8 516h.9M422.4 508.7h.9M420.7 488.1h.9M420.2 502.6h.9M418 491.1h.9M419.4 484.5h.9M421.9 495.1h.9M418.3 520.8h.9M420.8 517.2h.9M420.7 525.7h.9M420.4 489.6h.9M421.6 519.1h.9M419.3 490.4h.9M422.5 516.8h.9M419.8 487.5h.9M421.9 523.9h.9M419.6 492.7h.9M420.8 485.6h.9M419.9 505.7h.9M422.9 512.5h.9M418.9 500.4h.9M419.5 485h.9M422.6 521.5h.9M421.6 496.9h.9M420.4 508.5h.9M420 487.3h.9M418.5 520.3h.9M420 492.7h.9M420.9 502.8h.9M422.2 499.6h.9M421.8 504.7h.9M422.6 509.3h.9M421 517.5h.9M419.4 497.4h.9M419.9 506.4h.9M422.7 485.5h.9M420.6 519.4h.9M422.5 523.7h.9M418.1 496.8h.9M419.7 490.9h.9M419.2 497.8h.9M420.8 505.9h.9M419.2 523.1h.9M418.4 523.6h.9M420.3 507.4h.9M417 486.8h.9M419.5 519.2h.9M421 495.9h.9M418.7 492.6h.9M420.3 490.7h.9M419.1 495.8h.9M419.9 499.5h.9M420.8 496h.9M421.1 505.4h.9M421.1 503h.9M419.3 487.2h.9M422.7 490.8h.9M420.9 523h.9M419.5 512.1h.9M422.4 515.1h.9M419.8 526.2h.9M423.3 525.4h.9M421.7 508.2h.9M420.3 517h.9M419.7 482.7h.9M419.2 514.1h.9M419.3 513.5h.9M420 526h.9M422.4 495.9h.9M420.7 482.8h.9M420.3 492h.9M421.1 488.6h.9M420 524.7h.9M418.6 522.4h.9M418.2 513.9h.9M422.6 508.4h.9M420 520h.9M422.8 525.6h.9M423.3 503.9h.9M420.9 482.8h.9M421.6 508.8h.9M419.9 519h.9M420.3 516.4h.9M420.6 519.3h.9M420.4 526.2h.9M422.7 497.9h.9M420.3 495.6h.9M421.8 483.6h.9M420.6 509.6h.9M421.4 521.8h.9M423.2 521.7h.9M418.1 505.4h.9M422.2 492.6h.9M419.5 523.8h.9M420.8 491h.9M419.9 517.7h.9M419.7 524.6h.9M418.4 520.7h.9M416.4 497.7h.9M423.7 524.7h.9M421.8 502.9h.9M420.1 484.4h.9M417.6 507.6h.9M421.5 484.7h.9M422.8 516.2h.9M421.1 495.7h.9M417.9 484.1h.9M419.7 515.3h.9M420.9 486.4h.9M420.3 487h.9M422.1 487.1h.9M419 509h.9M419.5 525.5h.9M416.7 514.5h.9M422.2 509.2h.9M421.4 513h.9M419.8 496.3h.9M417.7 497.9h.9M421.8 517.3h.9M418.3 505.7h.9M418.5 488.6h.9M417.5 498.5h.9M418.3 493.6h.9M419 489.9h.9M418.8 503.4h.9M422.1 494.8h.9M421.5 502.1h.9M420.5 518h.9M419.5 524.1h.9M420.4 503.5h.9M418.4 491h.9M421 488.1h.9M419 492.1h.9M419.6 506.9h.9M420.9 496.5h.9M419.1 506h.9M418.3 491.3h.9M422 513h.9M417.8 508h.9M418.4 494.9h.9M418.6 487.3h.9M419.3 490.9h.9M420.2 521h.9M415.4 521h.9M419.6 516.9h.9M422.6 514h.9M422.2 521.2h.9M421.8 484.7h.9M420.3 504.2h.9M420.7 525h.9M419.5 510.4h.9M417.8 506h.9M421 493.7h.9M422.1 491.9h.9M420.9 519.5h.9M420.4 513.2h.9M421.7 487.5h.9M420.9 507.5h.9M422.1 501.3h.9M419.7 483.3h.9M417.6 508.6h.9M421.2 523.6h.9M421.8 503.3h.9M419.2 517.8h.9M420.8 517.6h.9M421.5 513.1h.9M416.2 509.2h.9M424.2 519.3h.9M421.6 491.2h.9M420.1 526.9h.9M418.6 485.7h.9M417.9 499.1h.9M425.6 516.5h.9M419.9 526.7h.9M421.5 516.4h.9M419.4 485.8h.9M419.9 511.5h.9M421.4 511.4h.9M418.9 521.9h.9M420.3 497.1h.9M420.1 514.2h.9M421.2 513.9h.9M421.7 523.6h.9M420.1 520.5h.9M422.6 519.8h.9M419.7 482.8h.9M419.8 502h.9M420.5 484.4h.9M420 513.4h.9M421.6 506.1h.9M415.9 486.7h.9M417.6 494.1h.9M417 501.6h.9M422.6 498h.9M421.7 524.3h.9M419.3 483.9h.9M421 484.5h.9M417.6 495.4h.9M419.9 510h.9M422.7 513.7h.9M421.4 515.1h.9M423.7 519.5h.9M419.6 525.4h.9M422.2 526.4h.9M420.6 507.1h.9M420.9 506.3h.9M420.8 516h.9M421.6 506h.9M422.5 482.7h.9M420.5 514h.9M421 485.6h.9M420.3 515.1h.9M420.9 503.7h.9M419.2 499.3h.9M422 521.1h.9M421.5 488.9h.9M420.9 519.9h.9M420.4 511.9h.9M419.4 503.4h.9M418.9 487.7h.9M418.7 488.8h.9M419.2 511.6h.9M421.9 499.4h.9M421.1 515.7h.9M418.2 510.1h.9M418.9 512.1h.9M422.5 503.4h.9M423 508.9h.9M421.8 482.9h.9M423.7 511.8h.9M419.4 488.6h.9M421.1 485.1h.9M419.4 487.9h.9M423.9 483.9h.9M421.1 489.2h.9M421.1 508.3h.9M421 500.9h.9M419.4 491.8h.9M420.4 506.4h.9M416.9 493.4h.9M419.8 493.3h.9M418.9 499.4h.9M421.7 517.5h.9M422.6 511h.9M420.9 488.4h.9M418.9 511.1h.9M418.8 502.2h.9M421.7 519.2h.9M420.1 504.2h.9M420.1 486.3h.9M418.8 496.9h.9M420.9 487.4h.9M420.8 490h.9M421.8 508h.9M419 520.6h.9M420.5 489.9h.9M418.3 485.3h.9M420.9 497.2h.9M420.5 514.5h.9M419.9 493.1h.9M421.9 505.6h.9M418.5 520.5h.9M423 510.3h.9M421.2 495.5h.9M421.4 502.1h.9M421 502.5h.9M419.4 517.6h.9M419.6 505.7h.9M422 517.9h.9M420.5 500h.9M421 503.7h.9M420 524.9h.9M421.9 504.8h.9M421.6 518.5h.9M418.5 493.5h.9M423.6 485.6h.9M422.2 499.2h.9M421.8 498.8h.9M421 519.9h.9M420.5 517.5h.9M421.9 522.6h.9M424.6 488.5h.9M420.4 483.8h.9M418.8 485.8h.9M420.5 498.1h.9M420.7 496.7h.9M422 499.3h.9M418.6 486.2h.9M419.8 491.2h.9M420 504.3h.9M422.1 505.1h.9M422.3 492.1h.9M420.8 518h.9M422.2 499.3h.9M420.7 510.1h.9M420.7 497.4h.9M417 510h.9M419.1 516.3h.9M418.8 490.2h.9M421.2 503.3h.9M420.6 495.7h.9M418.8 501.1h.9M420.6 488.5h.9M420.3 493.1h.9M421.1 483.6h.9M419.6 495.9h.9M419.4 491h.9M422.4 487.7h.9M420.1 497.2h.9M422.1 483.4h.9M419.1 521h.9M420.1 520.5h.9M420 505h.9M419 493.8h.9M421.6 498h.9M418.4 486h.9M420.8 498.3h.9M417.1 511.2h.9M420.4 482.5h.9M423 476.2h.9M420.8 475h.9M420.6 484h.9M421.1 482.1h.9M423.1 481.4h.9M419.1 477.2h.9M417.6 482.6h.9M418.3 479.7h.9M419.1 479.4h.9M420.6 475.2h.9M422 484.7h.9M419 479.5h.9M418.5 479.4h.9M422.1 480.7h.9M422.5 484.1h.9M418.9 480.6h.9M421.9 477h.9M420.1 474h.9M419.5 474.3h.9M420.2 474.8h.9M418.8 475.2h.9M417.1 484.3h.9M417.7 474.9h.9M418.9 482.3h.9M421 475.7h.9M421.2 476.7h.9M422.1 475.7h.9M418.9 479.6h.9M420.3 480.3h.9M417.6 478.3h.9M418.5 475.4h.9M422.4 477.8h.9M420.1 479.7h.9M424 483h.9M421.7 478.9h.9M419.5 474h.9M419 482.4h.9M416.4 476.4h.9M422.9 476.1h.9M422.3 474.3h.9M427.4 476h.9M424.4 478h.9M421 479.5h.9M418.4 480.2h.9M417 478.1h.9M419.6 482.5h.9M420.3 481.4h.9M417.5 475.2h.9M421.7 484.1h.9M422.3 474.7h.9M418.5 477h.9M419.9 484.7h.9M417.6 479.5h.9M422.4 480h.9M418.6 477.9h.9M418.2 480.4h.9M416.6 474.1h.9M418.4 479.9h.9M417 484.7h.9M422.4 481.8h.9M421.6 482.1h.9M418 483.9h.9M418.6 484.3h.9M420.2 475.6h.9M420.6 484.4h.9M418.3 484.1h.9M423 484.2h.9M421.6 477.8h.9M424.3 479.9h.9M414.9 480.5h.9M417.3 476.4h.9M421.8 479.7h.9M420.8 480.3h.9M419.8 477h.9M418.1 481.3h.9M421.4 482.3h.9M419.4 475.4h.9M423 484.8h.9M422.5 477.9h.9M422.2 484.5h.9M416.8 483.7h.9M421 482.5h.9M423.8 482.3h.9M424 478.4h.9M422.8 478.2h.9M422.6 474.5h.9M418.9 476.3h.9M423.3 484.8h.9M424.1 480.5h.9M421.2 476.6h.9M421.4 474h.9M420.1 480.2h.9M420.8 484.4h.9M419.8 483.6h.9M421.3 476.6h.9M420.1 476.4h.9M417.4 478.7h.9M419.2 477.8h.9M421.2 476h.9M420.8 479.1h.9M423.3 482.1h.9M422.3 477.9h.9M422.9 483.8h.9M420.3 477.1h.9M422.5 480.4h.9M419 480.3h.9M419.1 478.1h.9M422.2 477.1h.9M420.9 480.8h.9M418.8 475h.9M422.3 474.4h.9M423.3 474.3h.9M421.9 474.7h.9M423 479.3h.9M422.2 482.2h.9M422.2 475.5h.9M418.8 479h.9M416.7 481.7h.9M419.7 479.3h.9M414 480.3h.9M419.3 479.8h.9M418.2 474.4h.9M420.6 479.5h.9M419 481h.9M420.4 476.7h.9M418.6 475.5h.9M419.9 477.2h.9M423.3 484.2h.9M418.3 481.3h.9M416.9 474.7h.9M423.2 478.5h.9M421.9 484.1h.9M420.3 477.2h.9M419.6 477.2h.9M421 482.2h.9M419.7 477h.9M422.3 482.5h.9M419.8 474.3h.9M419.1 477.9h.9M421.5 483.3h.9M418.8 478.9h.9M421.5 475.5h.9M418 483.2h.9M419.3 475.3h.9M420.7 475.2h.9M419 483.8h.9M422.3 475.5h.9M420.2 484.8h.9M420.8 478.1h.9M409.5 473.1h.9M433.4 460.4h.9M428 453.3h.9M428.4 437.5h.9M431 463.3h.9M416.3 451.9h.9M429.4 454.8h.9M407.2 461.3h.9M413.2 466.9h.9M422.7 457h.9M426.4 452.3h.9M408.3 480.9h.9M403.9 467.4h.9M423.4 457.3h.9M422.4 457.9h.9M425.8 457.4h.9M419.3 438.8h.9M408.9 447.2h.9M429.5 480h.9M426.5 439.6h.9M421.4 472.2h.9M438.3 474h.9M421.9 446.7h.9M432.7 466.8h.9M418.8 486.3h.9M395.4 453.3h.9M410.2 455.8h.9M396.8 454.5h.9M418 482.3h.9M429.9 450.7h.9M405.5 471h.9M426 449.3h.9M417.6 480h.9M427.6 476h.9M423.1 490.3h.9M411.5 473.4h.9M424.8 447h.9M419.7 458.9h.9M427.5 470.4h.9M436.4 442.7h.9M418.3 459.3h.9M433.8 451.3h.9M419.2 457.4h.9M425.1 463.7h.9M421.6 460.3h.9M414.3 456h.9M421.1 446.1h.9M416.2 453.7h.9M424.8 449.6h.9M411.1 478.2h.9M411.9 489.2h.9M427.4 457.8h.9M424.6 460.1h.9M424.8 456h.9M424.8 476.7h.9M428.8 460.3h.9M424 477.5h.9M427.8 461.1h.9M413.5 463.4h.9M424.4 464.9h.9M413.8 457.9h.9M409.6 469.5h.9M418.2 462.7h.9M425.5 452.4h.9M420.2 440.8h.9M435.1 456.6h.9M425.8 450.7h.9M423.7 454h.9M421 438.5h.9M408.8 432.4h.9M420.5 471.5h.9M420.3 452.5h.9M434.8 458.1h.9M413.4 439.7h.9M419 497.4h.9M414 471.6h.9M421.4 487.2h.9M405.5 442.7h.9M422.6 458.4h.9M420.2 452.8h.9M421.6 456.5h.9M442.3 458.3h.9M419.4 456.5h.9M424.2 468.3h.9M419.9 491.6h.9M429.3 457.7h.9M439 463.2h.9M434.4 470.5h.9M422.9 471h.9M409.4 443.7h.9M423.8 473h.9M406.1 477.5h.9M412.7 452.9h.9M415.1 441.4h.9M410.7 480.9h.9M420.1 476.6h.9M417 477.4h.9M413.8 456.9h.9M423.2 454.4h.9M413.9 442.2h.9M430.9 463.2h.9M425.4 466h.9M416.4 471h.9M423.8 446.3h.9M414.3 471h.9M414.7 474.3h.9M428.7 465.7h.9M406.5 462.9h.9M423.9 456.8h.9M436.3 471.5h.9M401.2 437.5h.9M440.3 435.1h.9M403.7 478.5h.9M401 460.4h.9M402.1 476.9h.9M410.1 466.5h.9M414.9 480.1h.9M403.8 466.5h.9M418.2 458.6h.9M426.8 460.1h.9" stroke="#2232e0" stroke-opacity="0.7" stroke-width=".9" fill="none"/><path d="M414.7 464.4h.9M415.9 470.1h.9M412.6 465.9h.9M415.3 467.5h.9M416.8 461.3h.9M422.6 458.7h.9M418.9 474.4h.9M412.7 477.8h.9M423.4 452.6h.9M423.8 473.1h.9M414.6 480.8h.9M416.9 483.9h.9M417.8 467.3h.9M408.3 472.7h.9M419.2 483.4h.9M422.5 475.4h.9M430.4 476.4h.9M419.6 458h.9M416.6 464.9h.9M417.5 467.1h.9M422.2 478.4h.9M423.3 468.6h.9M413.1 461h.9M419.6 465.6h.9M422.4 457.5h.9M406 466.3h.9M426.8 460.8h.9M417.1 462.9h.9M423.8 472.1h.9M418.1 455h.9M416.9 463.7h.9M417.9 459.6h.9M420.2 476.5h.9M423.8 476.7h.9M416.8 468.6h.9M411.5 474.2h.9M414.1 461.4h.9M412.4 463.3h.9M423.1 456h.9M412.5 461.7h.9M427.8 477.1h.9M419.2 458.5h.9M417.9 472.8h.9M426.5 473.6h.9M416.2 466.4h.9M416.6 467.1h.9M423.2 457.7h.9M423 441.7h.9M412.3 463.2h.9M433.6 454h.9M422 468.9h.9M410.7 464h.9M417.4 471.6h.9M424.2 470.8h.9M419.8 455h.9M423.7 462.9h.9M433 463h.9M424.2 474.2h.9M430.8 451.7h.9M422.7 468.6h.9M414.4 472.8h.9M427.8 467.2h.9M414.2 461h.9M424.4 460.3h.9M422.5 453.8h.9M413.3 476.5h.9M414.2 470.8h.9M417.5 453h.9M421 446.6h.9M426.8 472.6h.9M419 467.8h.9M430.3 480.8h.9M424 474.3h.9M414.7 474.9h.9M414.8 467.9h.9M419.2 477.6h.9M415.5 458.7h.9M418.1 467.5h.9M423.5 469.2h.9M420.3 458.7h.9M424.7 469.4h.9M414.5 478.1h.9M413.4 466.7h.9M410.1 447.6h.9M407.8 466.1h.9M416 462.3h.9M419.2 468.7h.9M417.5 468.9h.9M418.8 462.5h.9M431.3 482.3h.9M412.1 478.1h.9M417.1 472.3h.9M415.8 469.4h.9M413.2 454h.9M427.1 445h.9M418.6 461.3h.9M426.5 463.4h.9M411.9 460.9h.9M430.4 453.5h.9M432.8 475.8h.9M413.5 471.4h.9M418.8 465.6h.9M418 464.3h.9M422.3 483.9h.9M410.8 463.1h.9M421.7 481.2h.9M423.3 460.1h.9M415.1 459.4h.9M404.9 485.7h.9M414.7 462.5h.9M416.4 465.2h.9M423.6 472.5h.9M415 458.5h.9M411.8 449.1h.9M422.7 462.5h.9M421.1 476.7h.9M423.4 479.9h.9M419.2 477.4h.9M425.4 476.1h.9M422 456.9h.9M407.9 464.4h.9M420.1 467.2h.9M423.6 459.2h.9M419.1 466.8h.9M427.9 466.7h.9M416.1 474.5h.9M423.2 472.5h.9M411.3 466.7h.9M418.9 477.4h.9M415.5 452.2h.9M412.7 465.9h.9M410.9 471.9h.9M420.3 458.3h.9M421.5 476.4h.9M415 457.5h.9M411.3 466.2h.9M413.5 450.2h.9M423.6 471.9h.9M411.5 470.5h.9M425.9 474.5h.9M408.6 478.1h.9M420.6 464.8h.9M423 476.4h.9M426.4 464.1h.9M416.3 472.7h.9M414.2 457.6h.9M410.2 483.1h.9M424.5 463.3h.9M418.1 466.6h.9M416.1 467h.9M416.3 472.7h.9M420.5 451.4h.9M419.1 470.7h.9M426.2 463.2h.9M405.7 469.4h.9M424.1 470.2h.9M415.6 466.2h.9M418.4 461h.9M417 477h.9M418.4 471.2h.9M423.6 479.6h.9M420.3 463.5h.9M410.1 474.6h.9M418.5 473.7h.9M418.3 461.2h.9M421.2 467.1h.9M419.2 463.4h.9M418.4 468.3h.9M425.3 463.4h.9M412.2 466.3h.9M432.4 477h.9M415.5 465.1h.9M412.6 470.1h.9M423.8 469.2h.9M425.6 464.5h.9M426.7 471.9h.9M427.9 476.5h.9M421.9 456.5h.9M419.4 450.6h.9M421.3 470.1h.9M419 456.8h.9M415.6 463.6h.9M428.9 472.8h.9M430.2 474.5h.9M419 469.5h.9M417.6 470.9h.9M416 470h.9M408.6 468.1h.9M414.8 477.1h.9M415.8 459.3h.9M418.9 477.1h.9M412.8 476.6h.9M407.3 458.8h.9M423 460.2h.9M429.6 454h.9M405.9 465.8h.9M418.2 472.8h.9M424.3 456.8h.9M411.8 467.9h.9M410.2 468.1h.9M419.2 474.6h.9M417.6 463.4h.9M415.1 484.7h.9M429.1 462.3h.9M428.2 484.9h.9M423.1 459.2h.9M418.6 481h.9M417 461h.9M424.5 444.9h.9M417.6 469.5h.9M428.2 477.5h.9M426.8 449.7h.9M415.4 471h.9M423.8 477h.9M428.8 455.8h.9M423.1 480.4h.9M413.3 480.3h.9M417.5 478.8h.9M417.1 473.3h.9M419.9 485.2h.9M419.4 459.7h.9M417 457.9h.9M424.5 467.5h.9M427.5 470.7h.9M415.7 481h.9M410.1 462.8h.9M421.5 473.3h.9M419.3 461.5h.9M421.8 457.9h.9M415.1 466.6h.9M421.1 486h.9M413.7 475.4h.9M426 454.8h.9M429.7 464.6h.9M413.6 454.3h.9M403.3 485.9h.9M416.3 468h.9M416.1 468.6h.9M420.6 481.6h.9M419.5 472.8h.9M422.4 458.3h.9M436.1 462.2h.9M416 471.8h.9M417.1 464.1h.9M422.1 456.3h.9M408 476.7h.9M424.3 464.4h.9M415.6 457.7h.9M410.6 473.2h.9M414.2 455.3h.9M422.5 467.8h.9M424.6 457.1h.9M427.1 458.7h.9M422.2 464.6h.9M415 469.6h.9M422.9 472.9h.9M419 465.5h.9M433.9 465.1h.9M406.8 454.4h.9M429.4 467.8h.9M424.2 463.8h.9M422 451.9h.9M419 464.1h.9M416.1 462.9h.9M413.6 452.6h.9M409.9 466.2h.9M432.1 463.4h.9M425.3 460.2h.9M423.7 468h.9M421.8 477h.9M407.8 480.1h.9M417.9 468.8h.9M420.3 456.9h.9M426.7 458.1h.9M413.4 452.4h.9M421.3 458.9h.9M418.1 472.8h.9M419.8 480h.9M414.8 471.6h.9M421.8 469.4h.9M420.1 473.6h.9M408.1 458.7h.9M427.1 474.1h.9M433.2 461.8h.9M414.2 460h.9M426.7 482.6h.9M413.6 470.8h.9M416.4 455.7h.9M430.5 459.4h.9M420.9 465.9h.9M429 476.9h.9M421.5 473.3h.9M425.9 466.2h.9M418.7 455.7h.9M428.5 462.6h.9M430.7 467.8h.9M423.9 464.9h.9M416.2 460h.9M417.5 482.7h.9M413.9 475.9h.9M423.5 466.7h.9M423 456.2h.9M415.5 457.3h.9M425.4 474h.9M416.2 466.8h.9M431 473.6h.9M424.9 470.5h.9M429.6 465.7h.9M415.4 470.2h.9M413.7 472h.9M408.6 477.4h.9M423.8 481.2h.9M412.9 468.7h.9M428.1 465.3h.9M420.7 461.5h.9M424.5 474.3h.9M411.9 473.5h.9M416.2 455.7h.9M421 463.3h.9M424.4 459.1h.9M411.9 472.1h.9M422 473.4h.9M414.8 477.3h.9M424.8 458.2h.9M418.5 477.2h.9M418 482.5h.9M422.5 473.7h.9M427 455.7h.9M418.4 466.8h.9M427.4 464.9h.9M413.7 466h.9M421.6 467.4h.9M413 468.5h.9M421.2 479.6h.9M414.3 452.2h.9M420.1 468.4h.9M423.7 456.2h.9M413.9 481h.9M409.1 462.2h.9M418.8 477.6h.9M423.1 478.6h.9M421.3 464.6h.9M414.3 457.8h.9M425 454.8h.9M418.1 455.1h.9M424.5 469.5h.9M414.4 460h.9M422.5 472.4h.9M427.1 471.9h.9M415.8 464.9h.9M418 468.1h.9M423.6 459.4h.9M423 483.4h.9M422 456.9h.9M419.1 472.2h.9M410.2 453.8h.9M419.8 456.8h.9M411.9 477.3h.9M420.3 467.5h.9M405.5 461h.9M428.6 474.1h.9M431.4 473.6h.9M422.5 469.7h.9M414.6 460.4h.9M417.9 458.9h.9M425.2 470.8h.9M423.8 459.6h.9M415.5 453.8h.9M427.1 458.8h.9M424.2 473.5h.9M423 474.5h.9M417.6 464.4h.9M419.8 459.7h.9M415.4 463.2h.9M420.9 470.4h.9M415.7 475.3h.9M426.9 455.7h.9M420 468.3h.9M421 450.3h.9M421.8 477.2h.9M421.7 469.9h.9M411.1 472.7h.9M427.6 450.5h.9M420.3 455.9h.9M416.4 471.4h.9M413.8 484.1h.9M415.6 456.7h.9M416 465.8h.9M419.8 477h.9M414.5 480.3h.9M420.4 463.4h.9M420.6 468.8h.9M415.5 465.6h.9M433.2 463.4h.9M419 470.2h.9M421.8 469.4h.9M420.4 461h.9M418.7 467.9h.9M423.8 469.4h.9M428.1 461.2h.9M419.2 484.5h.9M414.4 455.9h.9M423 462.9h.9M406.5 473.7h.9M420.6 468.5h.9M418.5 456h.9M421.6 462h.9M410.4 482.7h.9M417 475.9h.9M413.4 465.3h.9M416.3 451h.9M423.2 460.1h.9M418.4 468.6h.9M415.9 461.7h.9M426.8 466.7h.9M419.6 469.6h.9M407.2 463.5h.9M413.2 485.9h.9M422 457.9h.9M422.2 462.1h.9M420.8 470.8h.9M421.1 474.5h.9M414 477.6h.9M418.9 464.4h.9M412.2 465.5h.9M414.3 465.3h.9M413.9 451.6h.9M414.3 486.4h.9M417.3 473.3h.9M418 473.7h.9M414.5 458.4h.9M425.9 469.1h.9M416.6 475.2h.9M428.6 465h.9M425.4 463.2h.9M411.9 452.5h.9M424.7 464.6h.9M410.8 470.8h.9M428 471.3h.9M421.2 474.1h.9M413.2 462.5h.9M405.9 459.6h.9M416.8 468.9h.9M411 468h.9M425.8 454.6h.9M411.6 466h.9M417.7 462.4h.9M422.1 476.5h.9M419.2 472.2h.9M420.7 485.8h.9M417.6 479h.9M423.4 463.6h.9M413.4 455.8h.9M422.5 469.2h.9M411.7 477.5h.9M420.1 466h.9M412.1 456.7h.9M417.8 468.3h.9M422.6 458.7h.9M426.5 467.4h.9M408.1 477.8h.9M414.3 474.9h.9M413.1 469.1h.9M426.3 446.6h.9M413.7 461.6h.9M423.3 469h.9M415.9 464.3h.9M410.2 465h.9M419.6 470.8h.9M412.1 467.8h.9M423.4 469.1h.9M424 460.2h.9M427 453h.9M412.8 455h.9M428.5 469.7h.9M424.8 461.9h.9M408.1 473.3h.9M432.4 476.5h.9M429.2 466.2h.9M412.6 461.4h.9M420.9 467.4h.9M410.8 459.5h.9M418.1 459.5h.9M420.1 460.1h.9M422.7 468.2h.9M413.9 478.9h.9M418.8 450.8h.9M413.3 471.1h.9M421.3 460.3h.9M423 462.5h.9M419.4 469.9h.9M425.9 450.6h.9M423.5 460.8h.9M421.2 466.9h.9M426 470.5h.9M411.4 475.4h.9M418.7 478.1h.9M408.2 461.8h.9M418.8 470.7h.9M416.1 470.9h.9M424 462.3h.9M416.2 469.9h.9M415 461h.9M418.4 472.5h.9M418.1 471.4h.9M422.1 458.7h.9M413.6 472.9h.9M409.8 461.4h.9M409.3 462.3h.9M425.9 466.8h.9M411.3 481.5h.9M416.1 478.4h.9M412.2 476.5h.9M424.3 478.2h.9M415.5 459.2h.9M426.4 474.6h.9M414.6 477.8h.9M420.7 471.3h.9M423.5 467.7h.9M424.8 481.6h.9M411.7 461.5h.9M416.7 460.4h.9M418.5 472.1h.9M407.8 459.7h.9M423.3 480.6h.9M421.3 471.7h.9M422.1 468.3h.9M410.5 466.2h.9M420.1 456.7h.9M421.6 469.8h.9M425.2 475.8h.9M415.8 465h.9M423.1 465.5h.9M430.9 462.9h.9M416.3 469.8h.9M416.5 465.3h.9M417 471.9h.9M409.9 461.9h.9M416.8 472.7h.9M428.9 472.3h.9M413.3 456.6h.9M417.8 473.6h.9M426.3 466.8h.9M422.4 461.8h.9M420.4 469.7h.9M416.9 458.9h.9M418.3 472h.9M419.1 457.9h.9M423.2 480.6h.9M419.5 478.8h.9M424.7 466.3h.9M407.6 454.3h.9M424 452.6h.9M415.8 474.4h.9M419.1 467.1h.9M416.4 471.2h.9M422.9 485.8h.9M418.3 460.5h.9M422.8 470.2h.9M414.1 454.8h.9M420.2 464.4h.9M426.5 471.6h.9M425.8 473h.9M416.8 468.5h.9M419.9 462.9h.9M416.8 471.2h.9M418.3 442.1h.9M419.1 465h.9M426.4 476.9h.9M422.6 466.2h.9M427.9 456.8h.9M428.4 463.1h.9M411.3 469.8h.9M420.9 472.7h.9M416.3 473.8h.9M409.2 477.3h.9M412.5 471.4h.9M416 464.6h.9M429.2 471.9h.9M419.6 452.5h.9M417.9 463.5h.9M418.8 470.8h.9M414.5 467.2h.9M420.1 453.9h.9M418.5 481.9h.9M409.1 464.8h.9M415.8 443.3h.9M439.4 458h.9M422.9 474.8h.9M418.4 465.8h.9M423.1 468.9h.9M413.1 442.3h.9M419.6 472.8h.9M424.4 469.3h.9M409.3 469.8h.9M414.6 479.4h.9M416.6 476.9h.9M417.3 469h.9M415.9 462.3h.9M420.7 470.7h.9M425.2 462.5h.9M421.1 460.2h.9M425.2 460.7h.9M425.4 481.8h.9M415.4 453.6h.9M420.7 459.3h.9M416.8 459.8h.9M423 466.8h.9M416.9 466.9h.9M417.9 471.7h.9M429.3 463.2h.9M418 458.7h.9M409.6 471.9h.9M419.8 459.7h.9M420.8 471h.9M416 461.6h.9M419.5 468.1h.9M425.2 459.3h.9M415.9 449.9h.9M417.9 464.9h.9M414.8 471.2h.9M421.1 470.6h.9M418.3 461.4h.9M413.5 471.2h.9M418.1 458.2h.9M430.1 464.2h.9M408.8 458.9h.9M410.7 471.7h.9M421.1 475.3h.9M410.7 473.4h.9M430.8 463.3h.9M410.1 473.8h.9M411.2 460.7h.9M416 485h.9M425.6 472.7h.9M423.9 468.3h.9M422.5 483h.9M420.9 472.2h.9M426.9 480.1h.9M408.2 467.5h.9M420.8 469h.9M427.7 460.3h.9M412.7 474.3h.9M421 481.2h.9M426.4 471.6h.9M426.6 465.7h.9M418.3 466h.9M430.3 465.3h.9M422.1 456.1h.9M425.5 470h.9M412.7 468.7h.9M414.6 474.3h.9M414.5 472.1h.9M429.7 457.6h.9M405.1 463.6h.9M408.1 483h.9M423.9 456.2h.9M420 484.4h.9M401.3 470.4h.9M416.7 458.2h.9M417.3 465.7h.9M426.4 461.9h.9M407.6 459.1h.9M415.9 464.2h.9M425.5 477.9h.9M423.7 463.5h.9M413.6 473h.9M417.4 484.8h.9M410.3 469.4h.9M427.3 462h.9M416.5 465.7h.9M426.7 466.7h.9M423.9 451.4h.9M413.8 464.4h.9M418.2 458.7h.9M423 463.9h.9M421.8 452.3h.9M428.3 470h.9M425.8 456.4h.9M421.1 450.7h.9M423.3 470.1h.9M414.9 457.5h.9M415.6 478.7h.9M422.7 464h.9M421.1 460.3h.9M412.5 474.1h.9M418.7 482.6h.9M414.4 466.3h.9M415.8 469.6h.9M426.9 465.1h.9M413.5 464.1h.9M415.2 459.4h.9M422.5 452.9h.9M419.6 462.9h.9M420.2 480.2h.9M410.5 460.8h.9M419 463.3h.9M417 465.4h.9M414.3 452.7h.9M415.8 464.3h.9M417.4 469.8h.9M424.2 462.6h.9M430.4 480.8h.9M419.9 458.2h.9M428 466.1h.9M419.9 451.7h.9M410.4 460.6h.9M419.5 463.3h.9M426.8 465h.9M427.6 477.1h.9M413.9 467.3h.9M432.5 464h.9M414.8 457.9h.9M414.9 462.8h.9M416.1 460.5h.9M427.9 460.5h.9M421.6 471.2h.9M424.7 463.9h.9M406 468.5h.9M418.9 477.6h.9M418.6 479.9h.9M423.4 459.3h.9M416.4 453.9h.9M426.4 454h.9M415.1 474h.9M410.9 453.3h.9M409.5 452.8h.9M426.8 473.2h.9M423.8 462.2h.9M414.6 451.5h.9M425.8 465.7h.9M418.2 456.1h.9M418.5 472h.9M410.6 469.5h.9M416 458.8h.9M419.9 468h.9M420.5 465.4h.9M415.9 465.7h.9M425.2 475.5h.9M427.8 453.3h.9M414.5 467.7h.9M421.7 469.4h.9M410.2 470.4h.9M421.7 465.9h.9M413.5 474.7h.9M418.4 458.9h.9M420.3 469.5h.9M417.8 459.5h.9M425.5 474.2h.9M414.7 475.5h.9M416.5 474.6h.9M421.2 464.5h.9M419.1 478.2h.9M420.8 459.1h.9M418.1 469.4h.9M414.5 458.6h.9M423.3 469.9h.9M419.8 459.4h.9M424.7 475.6h.9M427.2 476.2h.9M417.2 461.3h.9M414.9 471.4h.9M416.6 457.2h.9M415.5 472.7h.9M407.5 462.1h.9M429.1 473.8h.9M421.8 481.9h.9M433.2 453.9h.9M416 468.4h.9M422.8 458h.9M421 465h.9M418.9 481.7h.9M425.2 463.1h.9M419.4 457h.9M418.9 455.2h.9M420.3 452.1h.9M406.1 463.1h.9M415.1 467.5h.9M415 466h.9M429.1 476.9h.9M422.8 460.1h.9M424 460.2h.9M423.1 463.5h.9M418.2 473.4h.9M429.1 460.9h.9M418.1 471.5h.9M411 455.6h.9M423.1 472h.9M426.4 471.3h.9M420 469.5h.9M421.5 475.7h.9M425 474.6h.9M428.4 469.1h.9M422.8 484.5h.9M429.3 449h.9M421.1 463.4h.9M431.8 464.1h.9M411.2 474.5h.9M425 465h.9M421.1 466.7h.9M420.1 465.8h.9M411.8 479.8h.9M425.7 467.7h.9M418.2 483.4h.9M413.5 468.4h.9M415.6 474.6h.9M418 472.1h.9M420 469.6h.9M414 459.3h.9M413.9 455.9h.9M421.8 466.4h.9M419 476.3h.9M431 453.6h.9M416.9 479.2h.9M423.8 471.6h.9M429.7 468.6h.9M418.2 473.3h.9M425.2 454.9h.9M421.2 463.2h.9M419.7 457.2h.9M428.9 469.4h.9M413.5 459h.9M415.8 468.1h.9M408.9 468.1h.9M418.7 464.1h.9M425.2 463.3h.9M417.9 461.7h.9M424.2 468.7h.9M414.9 480.1h.9M426.1 469.6h.9M418.7 482.3h.9M416.6 469.3h.9M429.1 474h.9M419.3 459.5h.9M422.8 482h.9M420.1 449h.9M423.5 469.9h.9M420.1 481h.9M412.3 463.1h.9M421 462.5h.9M422.2 463h.9M421.7 447.5h.9M418 474.2h.9M430.1 464.2h.9M415.1 465.5h.9M420.1 472.9h.9M420.6 464.3h.9M413 455.7h.9M412.3 474.4h.9M423.3 462.8h.9M423.4 457.9h.9M420.2 461h.9M409.9 481h.9M417.7 464.3h.9M420.8 470.3h.9M423 456h.9M426.4 468h.9M422.1 449.4h.9M425.1 477.8h.9M429.2 462.4h.9M405.6 474.6h.9M425.2 451.1h.9M416.8 452.9h.9M422.2 475h.9M420.6 460.1h.9M413.3 467.2h.9M414 481.3h.9M421.9 476.1h.9M418.3 466h.9M423.7 462.3h.9M417.1 470.2h.9M432 464.2h.9M417.9 464.1h.9M431.6 464.3h.9M414.9 477.4h.9M422.7 465.6h.9M426 462.1h.9M411.6 480.1h.9M413.6 453.2h.9M421.7 453.9h.9M426.1 465.4h.9M427.4 448.3h.9M422.6 474h.9M425.5 475.2h.9M412.5 472.4h.9M416.8 473.2h.9M427.9 450.4h.9M416.1 466.4h.9M417.9 467.3h.9M409.1 463.6h.9M418.2 452.7h.9M409.9 465.3h.9M421.5 470.2h.9M428 464.4h.9M421.2 455.6h.9M420.3 468.6h.9M417 454.3h.9M422.6 464.1h.9M412.8 468.4h.9M416.6 462.4h.9M432.1 449.3h.9M411.6 469h.9M416 454.6h.9M411.1 461.8h.9M426.6 465.4h.9M417.9 466.4h.9M411.8 459.5h.9M411.9 461.3h.9M425.8 463.5h.9M423.3 461h.9M424 474.4h.9M418.9 472.6h.9M424.6 475.7h.9M427 469.9h.9M423.2 468.7h.9M409.8 470.1h.9M407.6 462.1h.9M410.6 475.2h.9M420.8 469h.9M410.4 459.1h.9M412.8 451.9h.9M419.4 466.3h.9M414 456.2h.9M411.7 454.7h.9M424.9 475.8h.9M422.1 464.7h.9M423.8 476.1h.9M424.6 470.2h.9M427.7 463.2h.9M418.9 478h.9M418 462.1h.9M408.8 468h.9M417.7 468.9h.9M415.6 462.1h.9M425.3 474.1h.9M423.1 481.8h.9M427.8 466.6h.9M425.5 473.2h.9M426.1 468.6h.9M422.2 476.5h.9M419.9 475.1h.9M416.8 475.9h.9M419 478.1h.9M413.4 474h.9M421.4 473.8h.9M418.6 466.6h.9M407.1 439h.9M403.1 472.3h.9M414.7 480.9h.9M416.3 461.8h.9M417.2 477.8h.9M426.7 474.7h.9M415.3 469.9h.9M411.5 466.5h.9M421.3 466.3h.9M424.9 464.8h.9M428.7 468h.9M413 457.2h.9M417.5 459.5h.9M416.5 471.7h.9M427.9 468.8h.9M423.1 478.9h.9M419.1 461.1h.9M423.3 468.8h.9M416.9 450.2h.9M417.8 472.9h.9M418.8 453.6h.9M416 475h.9M417.5 481.7h.9M421.1 474.5h.9M420.4 464h.9M427.7 458h.9M424 474.7h.9M418.5 458.5h.9M406 471.6h.9M410.2 471.5h.9M416 469.6h.9M416.7 452.5h.9M411.2 465.4h.9M416.7 464.3h.9M419.6 480.2h.9M415.2 465.5h.9M418.1 464.5h.9M418.4 452.7h.9M414.8 474.6h.9M413.8 473.2h.9M418.1 475.1h.9M420.5 472.7h.9M412.8 461.1h.9M406.9 474h.9M413.2 455.8h.9M421.8 466.7h.9M409.4 475h.9M424.3 472.7h.9M415.4 479.1h.9M419.6 479.8h.9M414.3 456.9h.9M422.3 459.3h.9M419.1 475.7h.9M421 471h.9M407.4 453h.9M423.1 473.4h.9M409 465.1h.9M416.9 462.6h.9M421.9 468.8h.9M417.7 468.7h.9M421.7 470.1h.9M419.8 466.1h.9M419.3 480.8h.9M414.1 466.7h.9M424.7 465.5h.9M425.4 478.7h.9M415.7 463.2h.9M413.6 475.3h.9M420 482.8h.9M414.4 484.1h.9M419.6 466.3h.9M423.6 462.2h.9M422.7 470.9h.9M427.4 479.9h.9M421.5 468.6h.9M412.7 459.1h.9M413.8 467.6h.9M421.9 480.1h.9M429.9 463.1h.9M416.7 468.9h.9M413.4 468.7h.9M426.9 466.7h.9M418.1 462.3h.9M422.8 468.1h.9M425.1 475.6h.9M413.1 468.2h.9M416.7 466h.9M415.5 456.8h.9M421.9 477.9h.9M422.6 468.4h.9M415.9 474.9h.9M422 464.8h.9M408.4 472h.9M420.8 478.7h.9M420.8 458.9h.9M418.8 473h.9M410.3 476.8h.9M418.2 480.4h.9M412.5 476.6h.9M427.2 478.6h.9M417.1 468.5h.9M417.6 466h.9M418.1 467.9h.9M421.9 464.1h.9M419.2 474.5h.9M421.9 461.9h.9M413.4 468.1h.9M425.2 463.3h.9M415.9 461.8h.9M423.2 470.5h.9M420.1 456.4h.9M425 460.2h.9M418.3 470.8h.9M410.2 451.8h.9M412.1 452.6h.9M417.5 480.7h.9M426.8 486h.9M416.3 472.6h.9M419.1 463.1h.9M426 459h.9M415.5 461.4h.9M420.5 467.3h.9M420.4 458.7h.9M415.3 460.9h.9M420.1 471h.9M424.8 465.6h.9M424.8 457.8h.9M416.8 472.7h.9M435.6 472.6h.9M420.8 474.5h.9M417.2 454.4h.9M414.6 461.3h.9M413.1 459.7h.9M423.5 470.4h.9M402.1 467.4h.9M417.9 456.5h.9M410.8 469.6h.9M417.8 456.8h.9M418.6 467.3h.9M411.2 467.3h.9M413.1 462.3h.9M426.1 459.6h.9M415.6 451.8h.9M418.7 470.1h.9M416.9 452.3h.9M423.6 473.7h.9M425.8 474.6h.9M424.1 486.3h.9M422 459.7h.9M422 454.1h.9M411.9 477.5h.9M426.3 469.9h.9M415.5 469.3h.9M413.6 480.6h.9M416.6 466.4h.9M414.2 464.4h.9M421.2 471.4h.9M422.9 476h.9M426.2 465.9h.9M418.2 461.8h.9M415.3 479.4h.9M417.2 467.9h.9M412 462.1h.9M414.5 481.4h.9M430.3 464.2h.9M414.3 452h.9M416.1 478.2h.9M422.4 455.6h.9M420.2 469.6h.9M423.2 461.7h.9M413.8 468.4h.9M412.6 477h.9M426.4 482h.9M414.9 446.2h.9M418.2 478.7h.9M420 469.4h.9M408.1 454.5h.9M417.7 464.3h.9M415 465.5h.9M421.8 484.6h.9M417 472.4h.9M405.8 478.6h.9M423.3 482.7h.9M404 463.8h.9M416.4 459.7h.9M414.8 473.7h.9M415.2 472.7h.9M418.7 463.2h.9M424.3 459.3h.9M413.7 476.2h.9M415.2 456.7h.9M423.1 458.8h.9M421.7 466.9h.9M422.9 476.7h.9M420.7 462h.9M417.4 460.9h.9M415.9 451.6h.9M416 472.2h.9M424 453.1h.9M427.4 470.1h.9M430.2 462.4h.9M412.8 468h.9M417.4 466.2h.9M418.8 454.1h.9M417.8 473h.9M412.2 459.7h.9M431.4 469.3h.9M427.5 467.3h.9M417.8 473.3h.9M416.1 465.2h.9M418.7 484.5h.9M411.8 469.2h.9M416.8 458.1h.9M423.3 459.6h.9M428.4 481.2h.9M423.9 476.8h.9M426.3 470.6h.9M412.7 450.5h.9M400 470.7h.9M426.8 467h.9M419.8 469.1h.9M418.3 464.3h.9M428.5 475h.9M413.2 464.7h.9M413.2 462.8h.9M414.5 457.8h.9M428.2 474.7h.9M424.3 459h.9M408.4 450h.9M428.4 460h.9M418.9 460.9h.9M421.3 484.5h.9M414.3 455.1h.9M429.7 450h.9M421.3 456.2h.9M426.4 462.5h.9M413 459.6h.9M422.9 440.4h.9M419.3 473.2h.9M417.5 470.5h.9M414 457.2h.9M414.7 464.6h.9M412 486h.9M414.9 464.9h.9M418.6 463.8h.9M422.2 475.2h.9M409.7 463.5h.9M412.7 464.7h.9M415.2 482.8h.9M409.2 462.3h.9M417.1 447.9h.9M417.2 451.4h.9M417.7 476.9h.9M421.2 478.6h.9M424.3 466.4h.9M423.5 464.4h.9M420.4 478.8h.9M422.2 473.5h.9M414.1 454.8h.9M413.3 464.7h.9M422.6 457.7h.9M422.1 467.2h.9M431.6 457.8h.9M417.5 471.6h.9M413 471.5h.9M420.5 475.3h.9M416.1 483.9h.9M413.6 470.4h.9M426.8 479h.9M430.1 471.1h.9M421 465.6h.9M415 465.4h.9M420.3 463.4h.9M418.5 470.4h.9M410.6 467.4h.9M423.7 456.7h.9M420.8 468.3h.9M426.1 466.7h.9M415.5 484.2h.9M418.7 476.8h.9M418.1 457.2h.9M408.7 474.6h.9M433.5 476.5h.9M406.5 458.4h.9M412.1 477.9h.9M416.7 458.2h.9M409.6 467.9h.9M421.3 472.6h.9M416.1 485.2h.9M419.2 455.2h.9M420.2 483.2h.9M419.3 478h.9M419.4 460h.9M417.9 478.1h.9M421.3 462.5h.9M423.6 467.3h.9M417.3 469.4h.9M416.2 476.5h.9M416.5 472.9h.9M420.7 464.6h.9M416.7 475.8h.9M416.6 461.4h.9M410 464.9h.9M430.2 462.2h.9M411.6 465h.9M428.8 462h.9M423.6 463.6h.9M424.9 459.7h.9M420.4 463.7h.9M421.8 464.2h.9M420.6 475.2h.9M422.4 482.4h.9M423.9 466.6h.9M427.9 458.5h.9M413.1 475.3h.9M421.8 481.2h.9M428.5 471.9h.9M427.2 463.8h.9M412.9 459.4h.9M420.8 469.9h.9M420.6 477.5h.9M420.4 467.6h.9M405.7 461h.9M424.1 467.5h.9M409.5 458h.9M431.9 471.5h.9M422.9 459.3h.9M418.4 452.5h.9M422.8 475.9h.9M419.9 474.8h.9M415.9 461.3h.9M418.5 439.2h.9M421.1 462.5h.9M414.3 467.3h.9M423.3 455.4h.9M425.7 468.1h.9M425.4 481.5h.9M426.1 475.5h.9M426.8 455h.9M423.3 482h.9M426.9 479.7h.9M419.4 459.7h.9M421.5 465.7h.9M427.5 456.3h.9M430.6 476.5h.9M417 473.6h.9M410.5 470.1h.9M431.9 478.1h.9M426 469.1h.9M430 468.6h.9M424.5 459.3h.9M420.5 467.8h.9M415.3 470.6h.9M413.4 462.6h.9M427.8 457.2h.9M425 457.8h.9M421 464.6h.9M412.5 470.4h.9M416 471.3h.9M415.4 478.7h.9M417.3 466.4h.9M401.9 467.3h.9M420.5 452.3h.9M428.5 465.1h.9M415.9 460.4h.9M419.3 455.4h.9M420.8 483.7h.9M413.2 472.8h.9M421.7 469.1h.9M414.3 466h.9M416.5 477.2h.9M420.6 459.4h.9M418.8 459h.9M419.7 462.6h.9M413.6 461h.9M423.5 476.8h.9M412.6 456.9h.9M424.2 472.5h.9M416.2 483.9h.9M412 465.9h.9M418.6 463.3h.9M412.8 473.1h.9M416 481.8h.9M418.2 477.3h.9M423.8 468.4h.9M423.9 483.2h.9M422 457.9h.9M417.4 458.1h.9M410 468.6h.9M417.8 457.6h.9M417.2 468.5h.9M418.4 477.2h.9M416 461.4h.9M416 462h.9M424 475.3h.9M411.1 479.6h.9M419.2 475.8h.9M426.7 456.6h.9M414.5 469.8h.9M413.2 441.9h.9M417.8 472.9h.9M417.1 461.6h.9M420.7 464.2h.9M427.3 469h.9M418.4 459.6h.9M422.5 474.7h.9M415.6 467.5h.9M416.2 477.5h.9M420.9 486.3h.9M415.1 466.4h.9M426.3 477.3h.9M416.7 478.7h.9M418.2 461.8h.9M412.9 468.5h.9M416.5 463.6h.9M413.1 451.6h.9M416.2 465.4h.9M408.4 463h.9M419.1 477.7h.9M429.6 459.6h.9M407.8 459.4h.9M429.6 476.4h.9M418.4 461.2h.9M424.5 464.2h.9M413 468.9h.9M431.3 466.3h.9M412.6 445.4h.9M418.7 472.8h.9M428.5 470h.9M411.4 466.1h.9M405 468.6h.9M418.7 483.3h.9M414.5 461.2h.9M413.2 458.8h.9M413.6 451.5h.9M410.2 472.1h.9M427.6 478.3h.9M426.5 461.2h.9M410.8 476.2h.9M418.5 467h.9M416.3 470.6h.9M425.8 465.3h.9M414 471h.9M428.9 460.8h.9M419.1 475.3h.9M414.3 445.7h.9M418.5 460h.9M415.5 472.6h.9M432.8 475.7h.9M420 468.7h.9M416.2 471.2h.9M419.7 474.4h.9M428 454.5h.9M413.2 458.3h.9M408.8 476.7h.9M427.1 462h.9M422.8 466.9h.9M416.3 460.1h.9M418.6 472.9h.9M425.8 447.9h.9M402.5 466.3h.9M426.8 449.1h.9M418 471.2h.9M423.2 454.9h.9M418.7 467.9h.9M437.9 452h.9M415.3 468.6h.9M425.8 476.5h.9M403.1 476.6h.9M419.3 472.7h.9M423.9 461.5h.9M409.6 463.6h.9M406.6 465.9h.9M419.6 457.4h.9M425.2 452.3h.9M426.3 475.9h.9M414.9 457.9h.9M421.2 446.2h.9M410.4 472.5h.9M429.7 472h.9M415.5 463.3h.9M426.9 464.9h.9M417.4 471.7h.9M417 467.6h.9M429 452.5h.9M413.7 458.7h.9M427 474.2h.9M416.8 482.2h.9M413.6 476.8h.9M413.9 465.3h.9M425.9 473.9h.9M418.5 474.5h.9M416.9 460.5h.9M409.8 469.5h.9M426.2 470.3h.9M425.5 465h.9M421 453.9h.9M423.8 464.2h.9M399.1 460.7h.9M415.7 466.2h.9M420 453h.9M419.7 477.9h.9M415.5 476.9h.9M420.5 471.5h.9M414.5 448.7h.9M415 453.1h.9M411.3 476.7h.9M419.9 471h.9M414.6 462h.9M415.9 466.3h.9M427.5 458.9h.9M418.7 471.3h.9M418.8 481.7h.9M409.6 461.3h.9M415.8 455.7h.9M425 480.6h.9M422.4 483.7h.9M419.3 470.9h.9M417.9 483.6h.9M419.4 463h.9M421.5 477.2h.9M417 460.2h.9M403.7 469.9h.9M431.1 465.7h.9M426 460.9h.9M418.1 468.7h.9M427.7 475.9h.9M411 458.7h.9M426.9 480h.9M420.2 454.2h.9M424.5 472.3h.9M416.9 471.6h.9M419.9 463.3h.9M422.6 463.1h.9M425.5 462.3h.9M422.2 480h.9M421.7 474.7h.9M415.4 463.8h.9M429.6 463.5h.9M420.3 467.7h.9M417.6 455.3h.9M417 468.4h.9M411.6 458.4h.9M414.5 457.1h.9M409.6 463.7h.9M420.3 468.6h.9M418.5 460.2h.9M420.3 462.8h.9M411.3 461.3h.9M416.4 474.6h.9M415.1 462.6h.9M425.1 452.6h.9M409.8 469.4h.9M409.7 465.6h.9M426.9 468.9h.9M421.2 458.9h.9M409.3 485.2h.9M427.3 452.5h.9M428.2 462.2h.9M426 468.8h.9M406.3 464.3h.9M419.7 456.7h.9M413.7 463.5h.9M417.4 460.8h.9M409.3 456h.9M429.7 465.3h.9M414.7 460.1h.9M420.7 453.6h.9M423.9 461.7h.9M422.8 472.3h.9M421.5 459.9h.9M416.6 448.6h.9M420.4 469.6h.9M417.6 462.7h.9M405 462.9h.9M425.1 458.8h.9M415.1 470.4h.9M415.8 466.9h.9M416.5 449.3h.9M410.4 460.5h.9M411.5 472.2h.9M407.9 459.7h.9M421.9 466.1h.9M426.3 453h.9M419.4 481.1h.9M411.9 465.8h.9M427 458h.9M417 478h.9M409.2 473.3h.9M407.4 462.5h.9M420.1 466.4h.9M427.9 469.4h.9M416.6 464h.9M415.1 479.1h.9M417.3 474.2h.9M413.7 451.3h.9M415.6 472.4h.9M420.5 462.8h.9M414.5 467.2h.9M424.7 459h.9M413 463.8h.9M423.3 463.1h.9M421.1 456.3h.9M416.6 463.8h.9M417.1 481.8h.9M417 472.6h.9M429.3 454h.9M414 457.3h.9M426.3 468.7h.9M425.2 480.8h.9M416.9 473h.9M428.9 448.2h.9M404.3 456.1h.9M420.5 455.8h.9M419.8 481h.9M419.1 478.7h.9M424.1 471.9h.9M416.5 478.7h.9M417.8 465.7h.9M426 476.4h.9M418.3 462.5h.9M412.6 468.7h.9M422.5 471.7h.9M418.5 460.9h.9M415.5 462.7h.9M422.4 465.5h.9M414.2 469.9h.9M412.9 467.1h.9M417.4 483.8h.9M417.8 484.1h.9M419.3 472.7h.9M411.6 465.5h.9M429.5 451.1h.9M423.1 463.2h.9M419.8 475.5h.9M420.4 471h.9M403.6 477.9h.9M424.7 467.1h.9M412.7 467.5h.9M422.1 467.1h.9M411.6 464.3h.9M425 457.5h.9M415.7 460.7h.9M417.7 476.9h.9M428.4 459.3h.9M425.1 475.7h.9M410.5 463.3h.9M414.7 465.9h.9M420.2 451.9h.9M417.5 467.6h.9M423.9 467.6h.9M414.7 469.1h.9M407.4 459.1h.9M413.3 464h.9M417.8 469.1h.9M422.3 459.3h.9M423.5 448.1h.9M426.6 452.3h.9M420.4 453.4h.9M417.7 471.4h.9M423.5 467.5h.9M418.3 465.2h.9M416.1 481.7h.9M416.1 451.5h.9M424.7 479.4h.9M428.1 463.1h.9M427.1 477.6h.9M409.1 465.6h.9M425.7 459.4h.9M412.1 462h.9M416.9 474.2h.9M422.6 472.4h.9M410.8 458.5h.9M411.4 467.2h.9M414.3 465.6h.9M429.4 458.4h.9M425.6 484.1h.9M413.4 464.4h.9M419.8 455.5h.9M419.8 450.9h.9M420.9 460.6h.9M414.6 473.1h.9M427.8 458.1h.9M416.6 450.1h.9M424 472.2h.9M408.6 473h.9M421.4 467.9h.9M419.9 470.2h.9M427.3 484.6h.9M403 485.4h.9M422.4 478.2h.9M424 472.2h.9M417.3 462.8h.9M427.1 471.3h.9M431.9 465.1h.9M424.4 454.6h.9M424 440.3h.9M427.3 458.9h.9M421.7 475.2h.9M426.5 457.9h.9M422.7 466.7h.9M414.8 463.6h.9M412.5 458.1h.9M426.2 459.8h.9M422.7 478.2h.9M414.9 476.7h.9M419.1 464.3h.9M428 460.4h.9M408.4 448.1h.9M413.4 461.4h.9M423.3 469.9h.9M424.1 470.9h.9M411.8 472.9h.9M412.8 478.1h.9M420 478.2h.9M427.6 471.5h.9M419.1 465.8h.9M404.7 473.4h.9M425.3 466.6h.9M418.8 469.2h.9M416.2 468.7h.9M411.8 470.5h.9M426.3 464.2h.9M420.6 466.5h.9M421.5 482.9h.9M421.1 464.4h.9M421.7 465.8h.9M424.1 472.1h.9M429.5 465.2h.9M412.4 472.8h.9M418.5 465.6h.9M416.2 474.4h.9M429.3 460.7h.9M417.2 463.6h.9M409.1 479.5h.9M418.8 472.9h.9M414.5 460.5h.9M414.4 463.1h.9M416.2 465.5h.9M410.9 476.7h.9M407.1 472.7h.9M431 465.3h.9M418.2 464.1h.9M413.2 466.9h.9M422.8 474h.9M427.2 468.7h.9M408.2 471.1h.9M416.2 476.9h.9M420.7 476.4h.9M413.8 473.8h.9M421.8 479.9h.9M411.4 462.6h.9M414.9 460h.9M418.2 459h.9M421.6 473.6h.9M419.2 473.4h.9M414.8 464.6h.9M416.7 470.9h.9M405.9 469.5h.9M432.1 469.5h.9M416.4 480.9h.9M417.2 455.7h.9M420.6 479.4h.9M422.5 480.6h.9M421.1 459.7h.9M414.8 476.4h.9M408.8 457.4h.9M417.9 463.8h.9M414 463.7h.9M415.6 470.1h.9M419 479.2h.9M420.4 477.2h.9M426.9 465.9h.9M418.1 467.8h.9M408.3 477.4h.9M422.6 476.8h.9M424.7 474.4h.9M408.8 467.4h.9M422.7 463h.9M420.1 458.9h.9M415.6 470.1h.9M420 454.3h.9M421.4 460.6h.9M422.6 453.9h.9M426 474.5h.9M418.9 461.8h.9M418.9 457.3h.9M433.8 482.3h.9M412.4 458.8h.9M417.3 463.2h.9M416.8 458.8h.9M423.7 465.3h.9M425.8 456.8h.9M410.8 470.5h.9M426.5 471.4h.9M411.6 460.6h.9M435 460.5h.9M414.8 478.5h.9M425.8 456.4h.9M417.3 456.6h.9M423.3 457.9h.9M414.3 473.2h.9M419.8 455.9h.9M419.1 462.3h.9M419.5 458.8h.9M423.9 467.3h.9M416.2 470.6h.9M417 473h.9M410.8 472.2h.9M418.1 459h.9M415.9 473.5h.9M424.4 472.2h.9M423.1 464h.9M414.5 469.1h.9M421.7 484.7h.9M427.1 472.5h.9M417.7 470h.9M411.7 452.9h.9M434.1 461.1h.9M422.4 475.5h.9M423.3 476.4h.9M434.4 470.8h.9M414 464.9h.9M420.8 473.6h.9M407.3 463.1h.9M422 479h.9M421.4 464h.9M414.1 456.5h.9M413.7 483h.9M417.9 467.1h.9M417.5 464.6h.9M428.7 462.9h.9M417.5 466h.9M418 467.4h.9M417.9 464.4h.9M409.1 465.9h.9M416 466.1h.9M410.6 453.2h.9M419.7 458h.9M405.4 458.8h.9M412 472.3h.9M420.5 471.1h.9M406 457.7h.9M409.4 475.9h.9M425.1 458h.9M410.8 478.5h.9M418.9 448.4h.9M420.9 456.1h.9M412.4 471.6h.9M408.5 470.8h.9M428.4 484.5h.9M415.5 467.3h.9M422.1 456.5h.9M414.3 461.6h.9M421.2 469.1h.9M410.9 449.1h.9M410.5 462.1h.9M412.5 463.3h.9M415.1 469.4h.9M415.1 461.8h.9M416.9 444.1h.9M421.6 462.9h.9M415.6 481.3h.9M424.7 465h.9M414.9 450.3h.9M423 456.5h.9M427 471.3h.9M429.7 463.8h.9M406.7 479.6h.9M429.6 461.3h.9M408.1 474.5h.9M427.7 471.5h.9M418.9 471.8h.9M421.1 473h.9M413.1 452.2h.9M424.7 454h.9M423.2 469.3h.9M415.5 466h.9M415.2 452.3h.9M424.2 469.3h.9M425.3 470.7h.9M423.7 474.2h.9M416.6 453.3h.9M419 465.4h.9M424.7 466.8h.9M424.1 470.5h.9M425.9 474.7h.9M419.8 458.6h.9M414.6 473.6h.9M420.7 471.4h.9M421.8 481.4h.9M415.7 476.4h.9M421.7 471.3h.9M413.8 471.1h.9M420.6 480h.9M415.2 472.2h.9M432 468.1h.9M426.3 483.3h.9M420.6 461.9h.9M410.9 469.3h.9M411.4 478.6h.9M423.3 469.3h.9M418 463.1h.9M420.9 467h.9M409.3 466.6h.9M409.7 466.8h.9M419.7 461.3h.9M417.7 478.7h.9M410.8 472.1h.9M414 463.6h.9M423.8 466.7h.9M416.3 476.2h.9M422.5 469.4h.9M429.1 473h.9M421 466.8h.9M419.8 481.3h.9M415.3 481h.9M426.5 479.5h.9M410.1 468.2h.9M412.2 445.6h.9M418.9 458.5h.9M409.9 456.4h.9M425 466.9h.9M415.1 453.2h.9M422.2 463.9h.9M417.1 466.4h.9M417.4 457.6h.9M419 477.5h.9M406.9 486h.9M412.3 477.3h.9M416.1 454.8h.9M432.6 459.2h.9M424 465.4h.9M423.4 469.1h.9M412.6 468.5h.9M424.5 463.7h.9M426.6 474.5h.9M423.6 460.3h.9M435.1 475.5h.9M410.7 455.4h.9M412.3 470h.9M417.3 475h.9M413 469.5h.9M419.3 475.1h.9M422.2 468.2h.9M418.9 482.7h.9M419.6 471.3h.9M421.5 466.4h.9M423.7 463.7h.9M414.9 470.4h.9M414.8 456.5h.9M426.3 481.8h.9M416.9 469h.9M413.8 471.3h.9M426.2 449h.9M422.9 441.3h.9M431.4 441.2h.9M452.5 433.7h.9M445.4 454.2h.9M465.2 422.2h.9M466.2 420.1h.9M482.3 415.1h.9M470.5 420.8h.9M469.2 415.1h.9M459.6 436.2h.9M440.9 435.7h.9M439.9 445.2h.9M432.4 458.9h.9M421.6 451.9h.9M473.1 415.8h.9M463.7 422.8h.9M474.1 442.7h.9M465.9 415.1h.9M463.3 415.1h.9M441.4 431.9h.9M433 448.4h.9M433.6 439.6h.9M479.9 415.1h.9M430.8 442.4h.9M460 441.4h.9M423.7 445h.9M473.4 419.8h.9M461.5 423.1h.9M430.5 439.2h.9M453.4 435.6h.9M458.8 423h.9M438.9 443.9h.9M451.5 440.6h.9M451.3 429.3h.9M438.6 452.5h.9M441.3 445.3h.9M437.6 446.2h.9M446.9 430.7h.9M453 446.7h.9M482 415.1h.9M441.5 454.2h.9M469.6 415.1h.9M455.2 434h.9M457.9 422.5h.9M472.8 415.1h.9M473.6 421.6h.9M454.6 441.9h.9M458.3 427.3h.9M443.8 436.4h.9M469.6 417.4h.9M467.5 427.4h.9M444.2 435.7h.9M462.5 432.5h.9M454.2 435.7h.9M421.2 458.1h.9M436 439.6h.9M427.3 457.7h.9M457.3 427.2h.9M460.9 415.1h.9M433.7 439.6h.9M423.2 463.7h.9M428.9 454.4h.9M450.3 443.8h.9M461.5 415.1h.9M465.9 416.4h.9M463.9 429.9h.9M435.8 446.9h.9M464.7 427.8h.9M420.7 467.7h.9M449.3 430h.9M457.3 434.4h.9M473.2 416.2h.9M452 440.5h.9M470.9 415.1h.9M439.9 427.8h.9M472 419.2h.9M454.8 428.3h.9M449.4 455h.9M467.1 437.3h.9M452.9 436.7h.9M442.5 444.9h.9M433.8 443.2h.9M423 454.9h.9M456.3 434.8h.9M466 417.5h.9M434.3 453.6h.9M422.4 447.2h.9M455.5 438.7h.9M437.4 452.4h.9M462.8 441.5h.9M462.7 422.6h.9M450.3 452.1h.9M470.4 422.9h.9M465.7 419.1h.9M472.1 417.2h.9M437.1 449h.9M453.1 433.9h.9M432 436.2h.9M462.3 430.2h.9M449.8 427.1h.9M444.7 433.8h.9M438.4 454.4h.9M427.9 453.9h.9M475.9 423.7h.9M466.6 427.5h.9M434.9 451.5h.9M449.7 417.9h.9M420.8 453.1h.9M429.5 450.5h.9M441.9 429.5h.9M449.8 428.2h.9M475.4 434.2h.9M412.3 460.8h.9M441.5 440.3h.9M437.2 443.2h.9M481.1 426.9h.9M434 446.8h.9M432.7 446.4h.9M441.5 440.4h.9M409.8 452.4h.9M435.3 442.3h.9M438.6 444.3h.9M459.3 423.2h.9M442.5 439h.9M452.4 416.3h.9M460.7 425.1h.9M437.6 439h.9M458 417.7h.9M460.8 428.5h.9M458.7 418.9h.9M462.8 440.1h.9M424.2 454.9h.9M469.9 415.1h.9M466.7 431.8h.9M481.8 424.9h.9M462.9 417.7h.9M434.3 453.4h.9M441.8 452.6h.9M456.4 428.4h.9M470.5 425.9h.9M418.1 457.6h.9M451.6 431.6h.9M417.5 452.2h.9M434 441.8h.9M433.9 442.5h.9M437.6 454.4h.9M469.6 416.6h.9M459.3 427.5h.9M476.4 415.1h.9M425.6 456.3h.9M464.3 429.8h.9M453.5 432.1h.9M463 418.5h.9M428.5 463.4h.9M432.9 454.6h.9M447.8 438h.9M484.7 415.1h.9M431.4 447.9h.9M447.6 434.8h.9M449.4 436.8h.9M446.3 457.3h.9M479.1 427.9h.9M446.9 428.5h.9M439.3 437.5h.9M474.1 421.7h.9M458.7 435.3h.9M467.4 415.1h.9M440.4 451.7h.9M480.7 430.8h.9M423.9 442.2h.9M457.7 435.6h.9M442.7 439.4h.9M461.2 415.9h.9M447.1 443.9h.9M455.5 427.3h.9M445.4 439.4h.9M429.3 461.7h.9M460 433.1h.9M424.4 442.2h.9M464 433h.9M465.7 415.3h.9M448.4 442.7h.9M434.3 449.9h.9M461.5 426.9h.9M479.1 415.2h.9M481.7 421.8h.9M472.6 423.6h.9M428 439.7h.9M472 415.1h.9M437.1 450.9h.9M447.6 427.1h.9M441.1 449.6h.9M452.8 423.7h.9M492.3 416.4h.9M450.3 439.7h.9M427.3 452.9h.9M443.8 433.2h.9M431.9 441.9h.9M429.1 454.6h.9M439.1 437.5h.9M445.2 432.8h.9M412.3 448.7h.9M469 415.4h.9M487.4 415.1h.9M465.6 419.8h.9M435.8 446.6h.9M467 428.4h.9M473.6 421h.9M469.2 426.4h.9M470.2 433.2h.9M469.1 439h.9M437.3 440.9h.9M443.2 440.1h.9M439.3 444h.9M486 416.4h.9M450.2 442.6h.9M453.8 428.6h.9M455.5 428.4h.9M422.4 455h.9M432.2 435.1h.9M480.7 429.7h.9M443 442.6h.9M422.2 446.3h.9M459.3 443.6h.9M439.3 456.2h.9M456.3 418.6h.9M462.3 426.4h.9M460.6 421.4h.9M434.6 439.6h.9M428.8 457.7h.9M461.4 415.3h.9M454.9 434.5h.9M466.6 423.4h.9M477.7 415.1h.9M467.5 415.9h.9M425 453.9h.9M471.2 427.7h.9M458.3 436.8h.9M458.4 443.9h.9M446.3 446.9h.9M452.8 433.5h.9M442.2 443.4h.9M425.1 450.7h.9M459.4 442.1h.9M429.2 458.3h.9M434.9 447.9h.9M447.4 425.5h.9M445.9 437h.9M455.2 415.1h.9M423.7 461.9h.9M477.9 419.2h.9M454.7 423.1h.9M428.1 451.1h.9M435.3 442.3h.9M455.9 421h.9M485.2 418.4h.9M424.5 438.8h.9M448.5 427h.9M449.8 440.6h.9M461.1 443.5h.9M469.7 420.6h.9M454.2 432.6h.9M433.3 447.3h.9M428.7 449.1h.9M462.5 420.1h.9M445.2 430h.9M473.2 426.5h.9M470.9 423.4h.9M465.4 434.1h.9M419.9 451.3h.9M469.7 422.3h.9M439.7 445.5h.9M470 431.2h.9M415.7 457h.9M467.6 419h.9M476.6 441.8h.9M479.5 415.1h.9M453.3 430.7h.9M474.6 421.1h.9M435.9 444.9h.9M446.2 440.4h.9M428.8 448h.9M470.8 415.1h.9M437.9 433.1h.9M460.4 422.8h.9M413 455.7h.9M429.1 456.3h.9M417 459.9h.9M459.9 422.9h.9M450.5 440.7h.9M418.3 446.6h.9M427 456.3h.9M458.6 422.1h.9M445.6 440.8h.9M449.4 422.7h.9M427 453.8h.9M474.2 415.1h.9M441.1 456.4h.9M466 416.2h.9M436.7 461.9h.9M429.4 462.9h.9M433.3 451h.9M474.1 429.4h.9M431.3 457.5h.9M461.4 438.8h.9M430.7 447.7h.9M448.6 450.9h.9M445 430.3h.9M468.4 418.3h.9M462.6 415.1h.9M448.1 440.4h.9M441.9 445.4h.9M421.2 451h.9M461.9 415.1h.9M444.5 421.4h.9M440.8 441.6h.9M421.8 446.5h.9M427.1 445.5h.9M426.9 465.3h.9M451.6 420h.9M451.8 428.6h.9M450.9 453.8h.9M459.9 418.2h.9M458.2 440.7h.9M454.1 429.5h.9M488 426.7h.9M448.1 441h.9M462.8 424.5h.9M477.6 415.1h.9M475.5 415.1h.9M458.8 442.9h.9M443.5 430.6h.9M418.7 460.8h.9M458.3 435.2h.9M436.4 452.3h.9M438.1 436.4h.9M438.5 443.7h.9M469 427h.9M435.4 445.3h.9M465.6 436.3h.9M433 447.3h.9M456.9 437.9h.9M483.5 416.3h.9M447.5 420.4h.9M431.3 447.5h.9M460.6 432.1h.9M467.8 416.2h.9M440.7 453.3h.9M454.9 422.6h.9M438.7 460.5h.9M464 415.1h.9M463.5 435.8h.9M446.4 426.2h.9M474 423.6h.9M457.9 428.8h.9M476.2 415.1h.9M456.1 438.2h.9M435.1 451.5h.9M471.8 420.1h.9M445.9 442.5h.9M471.6 415.1h.9M448 440.4h.9M430.8 454.7h.9M445.2 415.1h.9M474 427.4h.9M427.3 455.2h.9M455.2 425.1h.9M434.4 436.7h.9M446.6 441.6h.9M478.4 415.1h.9M453.7 425h.9M437.4 432.2h.9M483.8 421.2h.9M432.7 454h.9M461.1 430.4h.9M431.1 455.8h.9M461.1 428.2h.9M460.2 431.7h.9M451.9 439.6h.9M448.1 440.3h.9M460.3 436.4h.9M468.4 415.1h.9M443.2 443.4h.9M433.7 445.1h.9M437.9 423.5h.9M445.5 440h.9M433.8 438.7h.9M450.4 424.2h.9M441.3 453.1h.9M453.5 429.5h.9M438.8 433h.9M469.5 415.1h.9M476.8 417.5h.9M446.3 427.8h.9M483 431.8h.9M461.3 442.9h.9M436.1 438.6h.9M459.4 447.7h.9M460.8 426.2h.9M451.3 436.1h.9M458.2 421.8h.9M438.3 436.3h.9M445.6 428.2h.9M452.1 439.8h.9M450.7 437h.9M440.7 436h.9M416.4 447.6h.9M424.4 453.7h.9M441.2 452.4h.9M424.5 453.3h.9M444.7 449.3h.9M435.3 441.8h.9M453.5 426.1h.9M468 426h.9M434.4 437.1h.9M434.2 438.9h.9M452.4 415.7h.9M453.2 436.1h.9M423.6 456.5h.9M399.2 480.3h.9M400.6 482.8h.9M394 446.6h.9M391.9 480.2h.9M422.9 478.2h.9M414.1 430.2h.9M418 474.1h.9M394.4 480.9h.9M389 476.1h.9M392.1 451.9h.9M434.4 473h.9M428.2 464.6h.9M397.5 478.1h.9M415.5 471.2h.9M416.3 462.2h.9M402 462h.9M406.2 442.3h.9M426.1 455.7h.9M423.1 469.9h.9M425.5 485.4h.9M418.3 475.2h.9M415.8 466.9h.9M420.5 462.1h.9M412.4 454.1h.9M435.4 486.4h.9M417.1 478.9h.9M421.1 451.8h.9M413.3 476.9h.9M406 477.1h.9M413.7 476.3h.9M410.3 469.2h.9M404.4 479.9h.9M424.5 479.4h.9M439.3 448.9h.9M418 478.5h.9M413.1 458.8h.9M405.5 460h.9M396.1 468.1h.9M422 430.1h.9M421.6 482h.9M404.5 427h.9M415.5 476.4h.9M403.9 466.8h.9M432.1 458.8h.9M415.9 447.5h.9M420 453.3h.9M435.7 467.9h.9M386.8 467.9h.9M419.6 446.6h.9M417.9 441.5h.9M410.9 470.5h.9M414.8 445.8h.9M430.1 455h.9M406.4 459.4h.9M406.5 478.4h.9M436.1 480.6h.9M427.3 456.9h.9M420.7 471.1h.9M424.7 469.9h.9M415.8 456.9h.9M411.1 486.2h.9M412.9 440.1h.9M418.7 439.6h.9M409 477.7h.9M395 464.4h.9M412.8 464.6h.9M418.3 470.5h.9M413.1 469.7h.9M423.2 456.1h.9M418.5 439.5h.9M426.8 461.6h.9M416.4 461.3h.9M412.7 460.9h.9M422 472.4h.9M425.8 454h.9M409.4 469.7h.9M404.2 476.5h.9M431.4 453.6h.9M408.4 484h.9M419.5 469.8h.9M409.1 468.3h.9M417.6 464.6h.9M432.1 484.3h.9M435.7 476h.9M398.7 464.8h.9M397 454.3h.9M380.4 464.3h.9M422.2 465.6h.9M434.2 474.4h.9M418.1 462.4h.9M411.2 471.2h.9M425.1 453.7h.9M403.3 449.2h.9M423 463h.9M431.5 476.3h.9M430.2 444.1h.9M423.6 472.2h.9M408.6 443.9h.9M410.8 466.5h.9M403.5 473.3h.9M437.8 465.7h.9M430.2 472.2h.9M414.1 465h.9M414 455.8h.9M417.8 466.3h.9M406.7 469.1h.9M421.2 463h.9M421 457.2h.9M420.2 462.6h.9M415.4 455.1h.9M383.8 454.6h.9M412.4 458.7h.9M397.4 452.7h.9M394 462.5h.9M442.5 446.8h.9M408.6 457h.9M412.4 451h.9M410.9 465.3h.9M404.2 482.3h.9M434.7 468.8h.9M391.8 462.1h.9M420.6 457.5h.9M407.4 463.1h.9M430.3 442.3h.9M425.1 480.6h.9M415.6 485.8h.9M396.1 465.2h.9M424.3 472.1h.9M426.6 462.2h.9M422.7 453.5h.9M410.9 425.2h.9M422.4 480.8h.9M405 477.5h.9M417.6 463.4h.9M419.1 483h.9M411.7 473.1h.9M402.3 444.9h.9M411.7 463.5h.9M403.6 463h.9M399.7 447.4h.9M427.5 486.2h.9M412.6 461h.9M408.1 463.3h.9M408.1 458.9h.9M419.8 476.4h.9M410.4 468.6h.9M405.7 464h.9M417.8 452.5h.9M416.2 472.6h.9M403.3 454.2h.9M401.1 481h.9M430.5 456.8h.9M411 452h.9M429.3 475.1h.9M421.8 466.7h.9M413.5 462.7h.9M411.4 458.7h.9M434.6 446.2h.9M406.4 460h.9M409.6 465.7h.9M404.2 465.3h.9M412.5 458.9h.9M402.8 452h.9M415.8 459.1h.9M398.8 470.2h.9M420.8 467.3h.9M418.6 473.4h.9M417 474.5h.9M406.9 469.3h.9M430.3 470.5h.9M439.2 452.2h.9M412.7 478.9h.9M404.8 461.7h.9M422.3 478.7h.9M411.7 451.8h.9M416.1 458.5h.9M422.4 445.4h.9M397.5 455.2h.9M423.3 476.6h.9M401.4 462.1h.9M398.9 471.2h.9M409.5 469.7h.9M432.4 476.6h.9M406.5 466.8h.9M420.1 461.4h.9M402.8 459.8h.9M422.1 428.9h.9M418.3 464.8h.9M428.6 461.5h.9M416.5 463.9h.9M414.4 466.1h.9M391.1 466.7h.9M418.2 461.9h.9M424.1 465.3h.9M416.8 452.7h.9M416.6 456.8h.9M421.3 474.6h.9M425.1 462.6h.9M403.2 458.5h.9M413.4 466.3h.9M419.6 465.7h.9M417.5 463.9h.9M402.4 454.4h.9M389.7 460.2h.9M418.2 469.9h.9M423.2 463.3h.9M435 446h.9M419.5 475.5h.9M403.5 453.8h.9M419.8 465.9h.9M412.8 415.1h.9M405.8 454.1h.9M396.4 461.9h.9M391.6 464.1h.9M405.6 483.1h.9M409.1 469.5h.9M415 435.6h.9M414.5 457.8h.9M417.1 466.5h.9M437.9 462.7h.9M413.4 462h.9M431.2 475.4h.9M404.6 461.2h.9M405.2 455.8h.9M407.7 482.4h.9M391.9 465.8h.9M434.8 473.6h.9M417.4 485.2h.9M423.2 451.4h.9M435.7 446.1h.9M419.8 437.7h.9M434.4 479.9h.9M384.9 463.7h.9M430 467.1h.9M418 448.3h.9M407.3 458.3h.9M427.7 461.5h.9M414.6 454.5h.9M405.5 468.7h.9M390 449.6h.9M436.3 467.1h.9M381.7 447.8h.9M415.1 460.1h.9M434.1 459.5h.9M422.3 477.8h.9M406.4 483.2h.9M410.8 483.5h.9M406.5 456h.9M417.3 481.6h.9M413.2 444.3h.9" stroke="#7ae040" stroke-opacity="0.62" stroke-width=".9" fill="none"/><rect x="380.4" y="414.6" width="111.9" height="112" fill="none" stroke="#333" stroke-width="1"/><path d="M380.4 526.6v3M388.82 526.6v1.6M393.75 526.6v1.6M397.24 526.6v1.6M399.95 526.6v1.6M402.17 526.6v1.6M404.04 526.6v1.6M405.66 526.6v1.6M407.09 526.6v1.6M408.38 526.6v3M416.8 526.6v1.6M421.72 526.6v1.6M425.22 526.6v1.6M427.93 526.6v1.6M430.14 526.6v1.6M432.02 526.6v1.6M433.64 526.6v1.6M435.07 526.6v1.6M436.35 526.6v3M444.77 526.6v1.6M449.7 526.6v1.6M453.19 526.6v1.6M455.9 526.6v1.6M458.12 526.6v1.6M459.99 526.6v1.6M461.61 526.6v1.6M463.04 526.6v1.6M464.32 526.6v3M472.75 526.6v1.6M477.67 526.6v1.6M481.17 526.6v1.6M483.88 526.6v1.6M486.09 526.6v1.6M487.97 526.6v1.6M489.59 526.6v1.6M491.02 526.6v1.6M492.3 526.6v3" stroke="#222" stroke-width="0.8" fill="none"/><path d="M380.4 526.6h-3M380.4 518.17h-1.6M380.4 513.24h-1.6M380.4 509.74h-1.6M380.4 507.03h-1.6M380.4 504.81h-1.6M380.4 502.94h-1.6M380.4 501.31h-1.6M380.4 499.88h-1.6M380.4 498.6h-3M380.4 490.17h-1.6M380.4 485.24h-1.6M380.4 481.74h-1.6M380.4 479.03h-1.6M380.4 476.81h-1.6M380.4 474.94h-1.6M380.4 473.31h-1.6M380.4 471.88h-1.6M380.4 470.6h-3M380.4 462.17h-1.6M380.4 457.24h-1.6M380.4 453.74h-1.6M380.4 451.03h-1.6M380.4 448.81h-1.6M380.4 446.94h-1.6M380.4 445.31h-1.6M380.4 443.88h-1.6M380.4 442.6h-3M380.4 434.17h-1.6M380.4 429.24h-1.6M380.4 425.74h-1.6M380.4 423.03h-1.6M380.4 420.81h-1.6M380.4 418.94h-1.6M380.4 417.31h-1.6M380.4 415.88h-1.6M380.4 414.6h-3" stroke="#222" stroke-width="0.8" fill="none"/><text x="371.14" y="543.7" font-size="13.4">10<tspan font-size="9.38" dy="-4.82">0</tspan></text><text x="399.12" y="543.7" font-size="13.4">10<tspan font-size="9.38" dy="-4.82">1</tspan></text><text x="427.09" y="543.7" font-size="13.4">10<tspan font-size="9.38" dy="-4.82">2</tspan></text><text x="455.07" y="543.7" font-size="13.4">10<tspan font-size="9.38" dy="-4.82">3</tspan></text><text x="483.04" y="543.7" font-size="13.4">10<tspan font-size="9.38" dy="-4.82">4</tspan></text><text x="356.28" y="531.6" font-size="13.4">10<tspan font-size="9.38" dy="-4.82">0</tspan></text><text x="356.28" y="503.6" font-size="13.4">10<tspan font-size="9.38" dy="-4.82">1</tspan></text><text x="356.28" y="475.6" font-size="13.4">10<tspan font-size="9.38" dy="-4.82">2</tspan></text><text x="356.28" y="447.6" font-size="13.4">10<tspan font-size="9.38" dy="-4.82">3</tspan></text><text x="356.28" y="419.6" font-size="13.4">10<tspan font-size="9.38" dy="-4.82">4</tspan></text><text transform="translate(347.8 470.6) rotate(-90)" font-size="13.5" text-anchor="middle" dy="4.8">SSC-A</text><text x="433.2" y="560" font-size="13.5" text-anchor="middle">FSC-A</text><rect x="384" y="385.8" width="9.2" height="9.7" fill="#5ee23a"/><text x="396.5" y="394.5" font-size="10.5">TF<tspan font-size="6" dy="-4">+</tspan><tspan dy="4">/PS</tspan><tspan font-size="6" dy="-4">+</tspan></text><rect x="384" y="398.5" width="9.2" height="9.2" fill="#1c2ee0"/><text x="396.5" y="407" font-size="10.5">TF<tspan font-size="6" dy="-4">+</tspan><tspan dy="4">/PS</tspan><tspan font-size="6" dy="-4">−</tspan></text><path d="M585.2 21.2V136.2H724" stroke="#000" stroke-width="1.3" fill="none"/><line x1="581.2" y1="136.2" x2="585.2" y2="136.2" stroke="#000" stroke-width="1.2"/><text x="579.7" y="140.8" font-size="13.3" text-anchor="end">0</text><line x1="581.2" y1="107.45" x2="585.2" y2="107.45" stroke="#000" stroke-width="1.2"/><text x="579.7" y="112.05" font-size="13.3" text-anchor="end">5</text><line x1="581.2" y1="78.7" x2="585.2" y2="78.7" stroke="#000" stroke-width="1.2"/><text x="579.7" y="83.3" font-size="13.3" text-anchor="end">10</text><line x1="581.2" y1="49.95" x2="585.2" y2="49.95" stroke="#000" stroke-width="1.2"/><text x="579.7" y="54.55" font-size="13.3" text-anchor="end">15</text><line x1="581.2" y1="21.2" x2="585.2" y2="21.2" stroke="#000" stroke-width="1.2"/><text x="579.7" y="25.8" font-size="13.3" text-anchor="end">20</text><rect x="587.3" y="67.2" width="18.8" height="69" fill="#111"/><line x1="596.7" y1="136.2" x2="596.7" y2="139.8" stroke="#000" stroke-width="1.2"/><line x1="596.7" y1="67.2" x2="596.7" y2="60.88" stroke="#000" stroke-width="1.3"/><line x1="591.7" y1="60.88" x2="601.7" y2="60.88" stroke="#000" stroke-width="1.3"/><rect x="610.6" y="80.43" width="18.8" height="55.77" fill="#111"/><line x1="620" y1="136.2" x2="620" y2="139.8" stroke="#000" stroke-width="1.2"/><line x1="620" y1="80.43" x2="620" y2="67.2" stroke="#000" stroke-width="1.3"/><line x1="615" y1="67.2" x2="625" y2="67.2" stroke="#000" stroke-width="1.3"/><rect x="633.8" y="129.3" width="18.8" height="6.9" fill="#111"/><line x1="643.2" y1="136.2" x2="643.2" y2="139.8" stroke="#000" stroke-width="1.2"/><line x1="643.2" y1="129.3" x2="643.2" y2="126.42" stroke="#000" stroke-width="1.3"/><line x1="638.2" y1="126.42" x2="648.2" y2="126.42" stroke="#000" stroke-width="1.3"/><rect x="656.7" y="125.27" width="18.8" height="10.92" fill="#111"/><line x1="666.1" y1="136.2" x2="666.1" y2="139.8" stroke="#000" stroke-width="1.2"/><line x1="666.1" y1="125.27" x2="666.1" y2="124.7" stroke="#000" stroke-width="1.3"/><line x1="661.1" y1="124.7" x2="671.1" y2="124.7" stroke="#000" stroke-width="1.3"/><rect x="679.6" y="123.55" width="18.8" height="12.65" fill="#111"/><line x1="689" y1="136.2" x2="689" y2="139.8" stroke="#000" stroke-width="1.2"/><line x1="689" y1="123.55" x2="689" y2="122.4" stroke="#000" stroke-width="1.3"/><line x1="684" y1="122.4" x2="694" y2="122.4" stroke="#000" stroke-width="1.3"/><rect x="702.8" y="128.72" width="18.8" height="7.47" fill="#111"/><line x1="712.2" y1="136.2" x2="712.2" y2="139.8" stroke="#000" stroke-width="1.2"/><line x1="712.2" y1="128.72" x2="712.2" y2="126.42" stroke="#000" stroke-width="1.3"/><line x1="707.2" y1="126.42" x2="717.2" y2="126.42" stroke="#000" stroke-width="1.3"/><line x1="596.2" y1="58" x2="648" y2="58" stroke="#000" stroke-width="1.3"/><text x="621.5" y="59.1" font-size="16" text-anchor="middle" font-weight="bold">***</text><line x1="662.5" y1="117.8" x2="714.1" y2="117.8" stroke="#000" stroke-width="1.3"/><text x="687" y="114" font-size="12.2" text-anchor="middle">NS</text><text transform="translate(541.5 80) rotate(-90)" font-size="13.5" text-anchor="middle" dy="4.8">Thrombin activity</text><text transform="translate(555.5 80) rotate(-90)" font-size="13.5" text-anchor="middle" dy="4.8">(mOD/min)</text><text x="584.3" y="152.7" font-size="10" text-anchor="end">ATP</text><text x="584.3" y="164.5" font-size="10" text-anchor="end">DNCB</text><text x="584.3" y="176.7" font-size="10" text-anchor="end">A5 (nM)</text><text x="597.5" y="154.6" font-size="13" text-anchor="middle">+</text><text x="597.5" y="164.6" font-size="12" text-anchor="middle">–</text><text x="597.5" y="176.7" font-size="10.3" text-anchor="middle">0</text><text x="620.5" y="154.6" font-size="13" text-anchor="middle">+</text><text x="620.5" y="164.6" font-size="12" text-anchor="middle">–</text><text x="620.5" y="176.7" font-size="10.3" text-anchor="middle">20</text><text x="643.7" y="154.6" font-size="13" text-anchor="middle">+</text><text x="643.7" y="164.6" font-size="12" text-anchor="middle">–</text><text x="643.7" y="176.7" font-size="10.3" text-anchor="middle">200</text><text x="666.6" y="154.6" font-size="13" text-anchor="middle">+</text><text x="666.6" y="164.6" font-size="13" text-anchor="middle" dy="1.5">+</text><text x="666.6" y="176.7" font-size="10.3" text-anchor="middle">0</text><text x="689.6" y="154.6" font-size="13" text-anchor="middle">+</text><text x="689.6" y="164.6" font-size="13" text-anchor="middle" dy="1.5">+</text><text x="689.6" y="176.7" font-size="10.3" text-anchor="middle">20</text><text x="712.7" y="154.6" font-size="13" text-anchor="middle">+</text><text x="712.7" y="164.6" font-size="13" text-anchor="middle" dy="1.5">+</text><text x="712.7" y="176.7" font-size="10.3" text-anchor="middle">200</text><rect x="558.8" y="213.3" width="221" height="177.2" fill="#e2e8e0"/><g clip-path="url(#cTL)"><rect x="558.8" y="213.3" width="110.2" height="87.1" fill="#0e1a0c"/><g filter="url(#bl2)" fill="#1c3a16" fill-opacity="0.5"><circle cx="615.2" cy="276.43" r="2.02"/><circle cx="663.54" cy="260.44" r="2.18"/><circle cx="574.69" cy="237.42" r="1.29"/><circle cx="663.34" cy="227.29" r="2.2"/><circle cx="593.16" cy="297.78" r="1.29"/><circle cx="605.45" cy="258.25" r="1.12"/><circle cx="650.01" cy="223.39" r="2.28"/><circle cx="603.89" cy="267.61" r="2.29"/><circle cx="619.37" cy="280.95" r="2.31"/><circle cx="561.84" cy="266.69" r="1.71"/><circle cx="641.84" cy="293.2" r="1.41"/><circle cx="618.1" cy="216.75" r="1.01"/><circle cx="595.14" cy="259.34" r="1.97"/><circle cx="645.68" cy="253.31" r="2.08"/><circle cx="592.21" cy="218.73" r="2.25"/><circle cx="608.78" cy="269.16" r="1.42"/><circle cx="573.57" cy="287.56" r="1.32"/><circle cx="603.22" cy="264.95" r="1.96"/><circle cx="581.22" cy="235.95" r="2.21"/><circle cx="587.71" cy="286.45" r="2.45"/><circle cx="641.49" cy="257.68" r="1.23"/><circle cx="589.7" cy="257.8" r="1.72"/><circle cx="612.27" cy="278.89" r="2.34"/><circle cx="666.88" cy="226.18" r="1.63"/><circle cx="664.77" cy="284.69" r="1.88"/></g></g><g fill="url(#dotg)" opacity="0.45"><circle cx="616.5" cy="233.2" r="1.2"/><circle cx="655" cy="246.5" r="1.2"/><circle cx="646" cy="256" r="1.2"/><circle cx="608" cy="243" r="1.2"/><circle cx="592" cy="268" r="1.2"/></g><g clip-path="url(#cTR)"><rect x="670.2" y="213.3" width="109.6" height="87.1" fill="#0e1c0b"/><g filter="url(#bl2)" fill="#245a1a" fill-opacity="0.4"><circle cx="698.87" cy="235.9" r="2.2"/><circle cx="702.91" cy="250.1" r="2.83"/><circle cx="759.44" cy="239.03" r="1.59"/><circle cx="680.27" cy="270.01" r="2.42"/><circle cx="735.97" cy="296.19" r="2.65"/><circle cx="750.05" cy="226.67" r="1.72"/><circle cx="690.79" cy="258.41" r="2.53"/><circle cx="676.24" cy="272.32" r="1.74"/><circle cx="700.34" cy="256.26" r="2.02"/><circle cx="742.25" cy="292.89" r="2.12"/><circle cx="731.82" cy="277.48" r="2.55"/><circle cx="686.65" cy="290.14" r="1.72"/><circle cx="717.62" cy="223.03" r="1.81"/><circle cx="743.55" cy="230.35" r="2.83"/><circle cx="716.54" cy="219.02" r="2.72"/><circle cx="739.6" cy="285.53" r="2.27"/><circle cx="776.23" cy="297.16" r="1.98"/><circle cx="745.06" cy="214.52" r="2.68"/><circle cx="713.12" cy="282.04" r="2.3"/><circle cx="690.72" cy="276.69" r="2.03"/><circle cx="708.12" cy="292.4" r="2.99"/><circle cx="726.21" cy="236.85" r="1.84"/><circle cx="767.88" cy="275.56" r="2.87"/><circle cx="755.2" cy="233.98" r="2.55"/><circle cx="705.07" cy="219.92" r="2.6"/><circle cx="771.49" cy="278.21" r="2.66"/><circle cx="721.81" cy="216.98" r="2.77"/><circle cx="746.24" cy="274.23" r="3"/><circle cx="681.95" cy="237.99" r="3.06"/><circle cx="681.66" cy="255.75" r="1.93"/><circle cx="692.33" cy="290.95" r="1.78"/><circle cx="767.14" cy="234.5" r="3.02"/><circle cx="744.71" cy="254.09" r="1.85"/><circle cx="763.28" cy="244.22" r="1.88"/><circle cx="740.83" cy="229.88" r="2.87"/><circle cx="714.76" cy="254.56" r="3.14"/><circle cx="726.82" cy="229.12" r="2.94"/><circle cx="735.24" cy="282.89" r="2.38"/><circle cx="764.69" cy="266.85" r="2.14"/><circle cx="718.23" cy="237.96" r="3.18"/><circle cx="767.99" cy="298.06" r="2.75"/><circle cx="737.46" cy="243.37" r="2.57"/><circle cx="761.1" cy="271.77" r="1.52"/><circle cx="724.79" cy="277.16" r="1.83"/><circle cx="746.1" cy="236.4" r="1.52"/><circle cx="707.36" cy="214.32" r="3.04"/><circle cx="727.5" cy="291.05" r="1.9"/><circle cx="693.9" cy="296.6" r="1.79"/><circle cx="681.24" cy="228.13" r="2.49"/><circle cx="674.43" cy="226.68" r="1.85"/><circle cx="747.13" cy="250.99" r="2.43"/><circle cx="720.22" cy="265.35" r="3.11"/><circle cx="768.59" cy="299.44" r="2.97"/><circle cx="761.74" cy="297.22" r="1.92"/><circle cx="712.41" cy="299.34" r="3.06"/><circle cx="776.92" cy="234.69" r="2.18"/><circle cx="735.09" cy="265.46" r="2.39"/><circle cx="754.14" cy="251.26" r="2.05"/><circle cx="714.83" cy="233.46" r="3.2"/><circle cx="691.7" cy="218.99" r="2.02"/><circle cx="689.03" cy="228" r="2.75"/><circle cx="690.06" cy="244.52" r="2.55"/><circle cx="736.38" cy="220.97" r="2.67"/><circle cx="682.54" cy="226.43" r="1.68"/><circle cx="672.38" cy="217.19" r="2.41"/><circle cx="761.5" cy="267.56" r="3.19"/><circle cx="681.1" cy="256.22" r="2.46"/><circle cx="719.58" cy="234.51" r="1.83"/><circle cx="723.74" cy="259.14" r="1.59"/><circle cx="738.18" cy="250.27" r="2.06"/><circle cx="725.44" cy="270.71" r="2.77"/><circle cx="772.93" cy="294.54" r="1.54"/><circle cx="752.44" cy="244.07" r="1.58"/><circle cx="733.16" cy="269.49" r="2.62"/><circle cx="737.85" cy="232.37" r="3"/><circle cx="725.72" cy="295.17" r="2.25"/><circle cx="775.94" cy="267.1" r="2.56"/><circle cx="695.04" cy="227.13" r="1.94"/><circle cx="745.72" cy="235.69" r="1.96"/><circle cx="731.04" cy="227.16" r="2.31"/><circle cx="674.8" cy="228.9" r="1.87"/><circle cx="702.66" cy="240.02" r="2.27"/><circle cx="771.82" cy="284.99" r="1.75"/><circle cx="756.19" cy="253.11" r="3.07"/><circle cx="671.61" cy="237.44" r="2.6"/><circle cx="702.71" cy="249.8" r="1.66"/><circle cx="671.27" cy="236.59" r="1.83"/><circle cx="760.89" cy="277.2" r="2.91"/><circle cx="682.3" cy="218.42" r="2.13"/><circle cx="676.5" cy="238.49" r="1.94"/><circle cx="777.81" cy="241.45" r="1.54"/><circle cx="719.07" cy="229.11" r="2.65"/><circle cx="705.1" cy="277.59" r="2.47"/><circle cx="675.57" cy="229" r="2.93"/><circle cx="712.9" cy="239.47" r="1.79"/><circle cx="710.32" cy="218.22" r="2.78"/><circle cx="727.57" cy="279.11" r="2.91"/><circle cx="670.94" cy="244.99" r="2.9"/><circle cx="686.42" cy="270.43" r="2.77"/><circle cx="693.2" cy="232.22" r="2.25"/><circle cx="718.48" cy="215.2" r="1.58"/><circle cx="703.33" cy="241.38" r="2.6"/><circle cx="737.42" cy="281.16" r="1.54"/><circle cx="701.48" cy="286.24" r="1.65"/><circle cx="769.9" cy="243.68" r="2.2"/><circle cx="775.62" cy="287.07" r="1.71"/><circle cx="676.71" cy="217.69" r="2.27"/><circle cx="693.11" cy="258.78" r="2.95"/><circle cx="731.91" cy="235.72" r="1.8"/><circle cx="754.66" cy="251.54" r="2.86"/><circle cx="677.22" cy="232.61" r="3.2"/><circle cx="690.45" cy="291.13" r="1.56"/><circle cx="720.26" cy="239.62" r="2.22"/><circle cx="743.49" cy="295.63" r="2.7"/><circle cx="769.2" cy="222.8" r="2.74"/><circle cx="765.22" cy="250.74" r="1.98"/><circle cx="757.2" cy="251.92" r="2.88"/><circle cx="675.98" cy="275.09" r="2.13"/><circle cx="777.24" cy="243.35" r="1.84"/><circle cx="737.56" cy="256.2" r="2.38"/><circle cx="679.64" cy="219.44" r="2.54"/><circle cx="698.14" cy="240.39" r="2.92"/><circle cx="738.23" cy="276.45" r="2.63"/><circle cx="712.47" cy="222.52" r="1.64"/><circle cx="719.15" cy="253.59" r="2.48"/><circle cx="758.38" cy="233.92" r="2.09"/><circle cx="760.51" cy="227.71" r="2.7"/><circle cx="730.13" cy="223.87" r="1.58"/><circle cx="757.05" cy="284.19" r="2.62"/><circle cx="714.7" cy="273.11" r="2.85"/><circle cx="777" cy="246.35" r="1.57"/><circle cx="736.53" cy="247.41" r="1.53"/><circle cx="776.26" cy="276.75" r="3.02"/><circle cx="675.02" cy="265.9" r="3.02"/><circle cx="766.94" cy="293.08" r="1.8"/><circle cx="731.51" cy="293.38" r="3.07"/><circle cx="748.41" cy="255.3" r="2.19"/><circle cx="691.31" cy="270.71" r="2.38"/><circle cx="730.34" cy="260.74" r="2.3"/><circle cx="701.9" cy="240.33" r="2.07"/><circle cx="681.76" cy="252.8" r="3"/><circle cx="670.55" cy="276.11" r="2.54"/><circle cx="769.59" cy="261.44" r="3.09"/><circle cx="743.73" cy="268.38" r="2.56"/><circle cx="692.67" cy="255.72" r="3.07"/><circle cx="698.46" cy="296.3" r="2.38"/><circle cx="721.23" cy="280.93" r="2.31"/><circle cx="759.88" cy="224.69" r="2.47"/><circle cx="683.09" cy="284.21" r="1.51"/><circle cx="776.27" cy="293.22" r="2.8"/><circle cx="773.65" cy="284.43" r="1.74"/><circle cx="697.01" cy="243.18" r="3.1"/><circle cx="740.43" cy="245.34" r="1.58"/><circle cx="709.67" cy="234.48" r="2.7"/><circle cx="746.63" cy="218.15" r="2.81"/><circle cx="679.73" cy="254.42" r="2.42"/><circle cx="721.71" cy="287.38" r="1.66"/><circle cx="734.7" cy="280.26" r="2.88"/><circle cx="738.86" cy="270.98" r="2.05"/><circle cx="746.13" cy="287.09" r="1.99"/><circle cx="767.9" cy="270.71" r="2.68"/><circle cx="696.64" cy="232.75" r="3.15"/><circle cx="686.99" cy="283.25" r="1.66"/><circle cx="713.01" cy="245.31" r="2.24"/><circle cx="732.54" cy="290.82" r="2.64"/><circle cx="775.47" cy="241.74" r="1.97"/><circle cx="748.07" cy="221.3" r="3.07"/><circle cx="751.13" cy="276.87" r="2.52"/><circle cx="776.81" cy="222.68" r="1.63"/><circle cx="699.54" cy="289.1" r="1.76"/></g><g filter="url(#bl05)"><circle cx="685.9" cy="290.95" r="3.08" fill="url(#cellg)" opacity="0.57"/><circle cx="720.18" cy="222.87" r="2.91" fill="url(#cellg)" opacity="0.36"/><circle cx="769.96" cy="264.63" r="2.74" fill="url(#cellg)" opacity="0.61"/><circle cx="682.51" cy="229.05" r="1.87" fill="url(#cellg)" opacity="0.6"/><circle cx="686.78" cy="231.13" r="2.41" fill="url(#cellg)" opacity="0.37"/><circle cx="693.41" cy="294.23" r="3.18" fill="url(#cellg)" opacity="0.39"/><circle cx="733.01" cy="271.03" r="2.74" fill="url(#cellg)" opacity="0.59"/><circle cx="717.35" cy="279.36" r="1.72" fill="url(#cellg)" opacity="0.47"/><circle cx="716.05" cy="237.87" r="2.5" fill="url(#cellg)" opacity="0.66"/><circle cx="686.09" cy="280.87" r="2.44" fill="url(#cellg)" opacity="0.42"/><circle cx="760.54" cy="271.6" r="2.48" fill="url(#cellg)" opacity="0.6"/><circle cx="722.75" cy="243.46" r="2.35" fill="url(#cellg)" opacity="0.58"/><circle cx="765.08" cy="256.52" r="3.06" fill="url(#cellg)" opacity="0.35"/><circle cx="673.5" cy="234.99" r="2.56" fill="url(#cellg)" opacity="0.43"/><circle cx="720.36" cy="265.08" r="3.14" fill="url(#cellg)" opacity="0.46"/><circle cx="710.58" cy="229.58" r="3.32" fill="url(#cellg)" opacity="0.44"/><circle cx="762.41" cy="252.38" r="3.21" fill="url(#cellg)" opacity="0.34"/><circle cx="746.06" cy="287.8" r="2.99" fill="url(#cellg)" opacity="0.41"/><circle cx="727.29" cy="270.6" r="1.64" fill="url(#cellg)" opacity="0.54"/><circle cx="687.87" cy="265.76" r="1.6" fill="url(#cellg)" opacity="0.4"/><circle cx="745.01" cy="223.05" r="1.91" fill="url(#cellg)" opacity="0.59"/><circle cx="768.4" cy="284.87" r="2.53" fill="url(#cellg)" opacity="0.49"/><circle cx="755.32" cy="267.26" r="2.14" fill="url(#cellg)" opacity="0.51"/><circle cx="776.2" cy="295.91" r="1.84" fill="url(#cellg)" opacity="0.39"/><circle cx="735.01" cy="294.63" r="3.27" fill="url(#cellg)" opacity="0.65"/><circle cx="704.59" cy="294.46" r="2.37" fill="url(#cellg)" opacity="0.33"/><circle cx="694.42" cy="259.85" r="1.96" fill="url(#cellg)" opacity="0.72"/><circle cx="757.81" cy="280.34" r="2.52" fill="url(#cellg)" opacity="0.57"/><circle cx="759.18" cy="222.15" r="3.37" fill="url(#cellg)" opacity="0.72"/><circle cx="739.77" cy="217.2" r="2.9" fill="url(#cellg)" opacity="0.55"/><circle cx="755.92" cy="281.79" r="3.26" fill="url(#cellg)" opacity="0.46"/><circle cx="723.46" cy="271.94" r="1.81" fill="url(#cellg)" opacity="0.47"/><circle cx="763.53" cy="295.78" r="2.93" fill="url(#cellg)" opacity="0.72"/><circle cx="746.34" cy="239.81" r="2.21" fill="url(#cellg)" opacity="0.53"/><circle cx="696.72" cy="256.41" r="2.25" fill="url(#cellg)" opacity="0.48"/><circle cx="734.6" cy="281.82" r="2.42" fill="url(#cellg)" opacity="0.37"/><circle cx="742.11" cy="266.34" r="2.43" fill="url(#cellg)" opacity="0.37"/><circle cx="692.43" cy="287.2" r="3.02" fill="url(#cellg)" opacity="0.49"/><circle cx="772.76" cy="247.68" r="2.13" fill="url(#cellg)" opacity="0.5"/><circle cx="758.49" cy="286.91" r="2.43" fill="url(#cellg)" opacity="0.66"/><circle cx="686.12" cy="288.32" r="2.38" fill="url(#cellg)" opacity="0.35"/><circle cx="694.3" cy="291.95" r="2.72" fill="url(#cellg)" opacity="0.5"/><circle cx="670.43" cy="247.96" r="2.61" fill="url(#cellg)" opacity="0.36"/><circle cx="773.16" cy="292.41" r="1.69" fill="url(#cellg)" opacity="0.41"/><circle cx="689.31" cy="240.22" r="3.14" fill="url(#cellg)" opacity="0.52"/><circle cx="761.59" cy="265.03" r="2.76" fill="url(#cellg)" opacity="0.69"/><circle cx="726.27" cy="298.65" r="1.87" fill="url(#cellg)" opacity="0.36"/><circle cx="676.46" cy="269.43" r="2.49" fill="url(#cellg)" opacity="0.38"/><circle cx="693.37" cy="264.9" r="3.22" fill="url(#cellg)" opacity="0.62"/><circle cx="698.45" cy="244.74" r="3.19" fill="url(#cellg)" opacity="0.54"/><circle cx="753.97" cy="258.04" r="2.33" fill="url(#cellg)" opacity="0.34"/><circle cx="710.49" cy="256.03" r="2.03" fill="url(#cellg)" opacity="0.61"/><circle cx="685.76" cy="272.32" r="3.31" fill="url(#cellg)" opacity="0.73"/><circle cx="773.92" cy="260.32" r="2.92" fill="url(#cellg)" opacity="0.63"/><circle cx="726.59" cy="241.04" r="2.79" fill="url(#cellg)" opacity="0.75"/><circle cx="677.5" cy="229.92" r="2.34" fill="url(#cellg)" opacity="0.63"/><circle cx="776.84" cy="299.3" r="3.16" fill="url(#cellg)" opacity="0.45"/><circle cx="744.22" cy="267.25" r="1.95" fill="url(#cellg)" opacity="0.66"/><circle cx="718.54" cy="228.38" r="3.09" fill="url(#cellg)" opacity="0.56"/><circle cx="686.17" cy="242.74" r="3.04" fill="url(#cellg)" opacity="0.34"/><circle cx="746.19" cy="269.93" r="2.54" fill="url(#cellg)" opacity="0.46"/><circle cx="680.83" cy="234.08" r="2.26" fill="url(#cellg)" opacity="0.73"/><circle cx="773.14" cy="291.28" r="2.84" fill="url(#cellg)" opacity="0.59"/><circle cx="752.57" cy="260.38" r="2.3" fill="url(#cellg)" opacity="0.47"/><circle cx="748.36" cy="272.6" r="2.34" fill="url(#cellg)" opacity="0.62"/><circle cx="754.62" cy="271.09" r="2.09" fill="url(#cellg)" opacity="0.61"/><circle cx="764.87" cy="227.39" r="3.01" fill="url(#cellg)" opacity="0.37"/><circle cx="721.59" cy="294.49" r="1.88" fill="url(#cellg)" opacity="0.51"/><circle cx="759.14" cy="286.97" r="2.49" fill="url(#cellg)" opacity="0.66"/><circle cx="682.28" cy="226.02" r="2.4" fill="url(#cellg)" opacity="0.35"/><circle cx="746.96" cy="262.91" r="3.37" fill="url(#cellg)" opacity="0.55"/><circle cx="752.53" cy="259.28" r="1.8" fill="url(#cellg)" opacity="0.35"/><circle cx="693.37" cy="240.26" r="2.62" fill="url(#cellg)" opacity="0.42"/><circle cx="682.4" cy="245.98" r="2" fill="url(#cellg)" opacity="0.64"/><circle cx="770.68" cy="235.88" r="3.31" fill="url(#cellg)" opacity="0.46"/></g><g><circle cx="683.98" cy="255.19" r="2.52" fill="url(#dotg)"/><circle cx="770.64" cy="299.11" r="2.14" fill="url(#dotg)"/><circle cx="740.96" cy="292.7" r="1.8" fill="url(#dotg)"/><circle cx="691.11" cy="232.14" r="2.12" fill="url(#dotg)"/><circle cx="715.63" cy="224.85" r="2.11" fill="url(#dotg)"/><circle cx="700.42" cy="272.87" r="2.38" fill="url(#dotg)"/><circle cx="722.53" cy="244.65" r="1.95" fill="url(#dotg)"/><circle cx="760.59" cy="236.42" r="2.05" fill="url(#dotg)"/></g></g><g clip-path="url(#cBL)"><rect x="558.8" y="302.4" width="110.2" height="88" fill="#0e1a0c"/><g filter="url(#bl2)" fill="#1c3a16" fill-opacity="0.5"><circle cx="568.24" cy="302.53" r="2.24"/><circle cx="584.9" cy="388.06" r="1.99"/><circle cx="647.1" cy="328.66" r="2.02"/><circle cx="622.95" cy="330.03" r="2.23"/><circle cx="569.17" cy="380.87" r="1.64"/><circle cx="606.53" cy="353.89" r="2.14"/><circle cx="611.59" cy="343.88" r="2.32"/><circle cx="576.4" cy="370.45" r="1.15"/><circle cx="639.75" cy="305.07" r="2.27"/><circle cx="571.33" cy="364.61" r="1.59"/><circle cx="601.91" cy="335.33" r="1.72"/><circle cx="615.74" cy="310.4" r="1.22"/><circle cx="606.26" cy="360.52" r="2.05"/><circle cx="623.47" cy="384.37" r="1.44"/><circle cx="640.11" cy="320.63" r="2.31"/><circle cx="664.18" cy="357.85" r="1.41"/><circle cx="590.12" cy="328.64" r="1.84"/><circle cx="630.27" cy="367.67" r="1.6"/><circle cx="635.52" cy="365.95" r="1.92"/><circle cx="591.06" cy="321.65" r="1.29"/></g></g><g><circle cx="593.7" cy="308.9" r="3.6" fill="url(#dotg)"/><circle cx="659.5" cy="317.7" r="2.4" fill="url(#dotg)"/><circle cx="643.1" cy="331.4" r="2.6" fill="url(#dotg)"/><circle cx="578.5" cy="345.9" r="2.4" fill="url(#dotg)"/><circle cx="662.1" cy="357.7" r="2" fill="url(#dotg)"/><circle cx="565.3" cy="369.7" r="1.8" fill="url(#dotg)"/><circle cx="591.5" cy="369.7" r="2" fill="url(#dotg)"/><circle cx="633.2" cy="372.9" r="2.3" fill="url(#dotg)"/><circle cx="610.4" cy="377" r="1.8" fill="url(#dotg)"/></g><g fill="#3a8a2a" fill-opacity="0.6" filter="url(#bl05)"><circle cx="599" cy="357.5" r="1.0"/><circle cx="640" cy="364.8" r="1.8"/><circle cx="589.6" cy="334.5" r="1.2"/><circle cx="609" cy="318" r="1"/><circle cx="650" cy="322" r="1.2"/></g><g clip-path="url(#cBR)"><rect x="670.2" y="302.4" width="109.6" height="88" fill="#11240c"/><g filter="url(#bl2)" fill="#2a6e1c" fill-opacity="0.45"><circle cx="773.56" cy="311.01" r="3"/><circle cx="726.24" cy="323.41" r="2.48"/><circle cx="777.2" cy="331.79" r="1.66"/><circle cx="679.06" cy="369.96" r="2.94"/><circle cx="736.77" cy="367.73" r="3.25"/><circle cx="711.46" cy="384" r="3"/><circle cx="758.09" cy="337.76" r="1.92"/><circle cx="689.33" cy="339.29" r="3.38"/><circle cx="765.73" cy="314.86" r="2.79"/><circle cx="729.82" cy="381.16" r="2.22"/><circle cx="769.08" cy="381.46" r="1.67"/><circle cx="722.5" cy="386.52" r="2.51"/><circle cx="717.38" cy="366.97" r="1.65"/><circle cx="756.67" cy="380.02" r="1.75"/><circle cx="778.06" cy="352.29" r="2.74"/><circle cx="710.72" cy="376.26" r="2.92"/><circle cx="776.4" cy="331.1" r="2.67"/><circle cx="772.02" cy="369.04" r="2.35"/><circle cx="689.68" cy="369.16" r="3.09"/><circle cx="736.93" cy="356.8" r="3.13"/><circle cx="747.45" cy="376.26" r="1.57"/><circle cx="773.53" cy="361.9" r="2.9"/><circle cx="743.16" cy="324.33" r="3.04"/><circle cx="684.82" cy="306.94" r="2.65"/><circle cx="724.77" cy="331.07" r="2.31"/><circle cx="724.3" cy="319.59" r="2.97"/><circle cx="725.02" cy="382.05" r="1.55"/><circle cx="775.26" cy="349.32" r="3.21"/><circle cx="708.55" cy="366.62" r="2.52"/><circle cx="694.73" cy="383.81" r="2.61"/><circle cx="727.42" cy="371.98" r="2.76"/><circle cx="740.47" cy="378.64" r="2.39"/><circle cx="773.13" cy="351.74" r="2.06"/><circle cx="733.99" cy="369.18" r="1.97"/><circle cx="699.55" cy="386.52" r="1.81"/><circle cx="772.1" cy="341.09" r="1.53"/><circle cx="724.09" cy="364.09" r="3.13"/><circle cx="744.27" cy="386.26" r="3.35"/><circle cx="722.37" cy="323.64" r="2.81"/><circle cx="693.98" cy="308.74" r="2.08"/><circle cx="746.1" cy="344.71" r="2.26"/><circle cx="754.66" cy="380.76" r="3.04"/><circle cx="691.11" cy="348.37" r="2.41"/><circle cx="720.61" cy="320.55" r="2.24"/><circle cx="709.85" cy="389.08" r="2.98"/><circle cx="688.91" cy="343.88" r="2.02"/><circle cx="694.46" cy="340.88" r="1.71"/><circle cx="775.69" cy="308.85" r="2.25"/><circle cx="767.11" cy="340.27" r="3.18"/><circle cx="712.1" cy="388.54" r="3.39"/><circle cx="751.25" cy="340.57" r="1.92"/><circle cx="674.8" cy="370.83" r="2.98"/><circle cx="770.49" cy="384.08" r="1.7"/><circle cx="729.07" cy="302.61" r="2.75"/><circle cx="760.1" cy="363.31" r="1.73"/><circle cx="700.44" cy="314.95" r="1.91"/><circle cx="711.42" cy="347.16" r="2.98"/><circle cx="708.35" cy="377.5" r="1.71"/><circle cx="776.78" cy="333.91" r="2.48"/><circle cx="717.27" cy="365.74" r="2.15"/><circle cx="724.97" cy="327.56" r="3.38"/><circle cx="774.98" cy="354.93" r="2.95"/><circle cx="769.19" cy="366.84" r="2.04"/><circle cx="713.49" cy="349.94" r="3.37"/><circle cx="703.89" cy="330.95" r="2.71"/><circle cx="758.65" cy="367.5" r="1.8"/><circle cx="681.98" cy="314.54" r="2.04"/><circle cx="713.18" cy="331.44" r="3.04"/><circle cx="766.26" cy="371.61" r="3.32"/><circle cx="770.77" cy="346.49" r="1.57"/><circle cx="695.79" cy="310.67" r="2.59"/><circle cx="678.83" cy="362.07" r="1.88"/><circle cx="756.53" cy="382.95" r="2.84"/><circle cx="738.35" cy="317.5" r="1.51"/><circle cx="696.23" cy="383.24" r="2.91"/><circle cx="725.65" cy="302.79" r="2.52"/><circle cx="678.03" cy="386.39" r="2.71"/><circle cx="746.93" cy="356.01" r="2.42"/><circle cx="727.93" cy="325.11" r="2.78"/><circle cx="747.43" cy="316.88" r="3.08"/><circle cx="679.86" cy="340.86" r="1.64"/><circle cx="740.87" cy="340.42" r="2.15"/><circle cx="710.79" cy="346.95" r="1.88"/><circle cx="724.92" cy="347.91" r="2.37"/><circle cx="706.97" cy="310.04" r="2.65"/><circle cx="739.7" cy="324.26" r="2.27"/><circle cx="732.48" cy="315.17" r="2.99"/><circle cx="737.84" cy="374.55" r="1.52"/><circle cx="677.15" cy="315.68" r="1.81"/><circle cx="694.88" cy="361.07" r="1.76"/><circle cx="678.08" cy="310.18" r="1.67"/><circle cx="712.21" cy="359.87" r="2.65"/><circle cx="722.92" cy="340.66" r="2.8"/><circle cx="682.51" cy="346.66" r="2.18"/><circle cx="743.37" cy="368.24" r="2.84"/><circle cx="723.61" cy="329.69" r="2.19"/><circle cx="725.04" cy="363.62" r="2.62"/><circle cx="735.68" cy="382.83" r="1.58"/><circle cx="772.66" cy="367.22" r="2.15"/><circle cx="734.74" cy="355.15" r="1.61"/><circle cx="680.45" cy="363.14" r="2.93"/><circle cx="686.25" cy="380.94" r="2.76"/><circle cx="746.25" cy="304.61" r="3.13"/><circle cx="705.56" cy="389.91" r="3.17"/><circle cx="752.98" cy="343.53" r="2.54"/><circle cx="726.17" cy="381.08" r="1.77"/><circle cx="711.81" cy="307.49" r="2.07"/><circle cx="751.24" cy="327.36" r="2.71"/><circle cx="690.25" cy="351.49" r="2.8"/><circle cx="701.42" cy="352.46" r="2.84"/><circle cx="702.2" cy="385.1" r="1.69"/><circle cx="715.72" cy="330.19" r="1.74"/><circle cx="769.62" cy="323.38" r="2.88"/><circle cx="759.25" cy="358.22" r="1.66"/><circle cx="760.25" cy="316.72" r="2.47"/><circle cx="739.37" cy="382.72" r="2.33"/><circle cx="671.1" cy="322.89" r="3.06"/><circle cx="701.56" cy="302.7" r="1.67"/><circle cx="725.2" cy="357.53" r="2.91"/><circle cx="768.67" cy="322.37" r="2.14"/><circle cx="710.07" cy="382.87" r="2.79"/><circle cx="730.54" cy="311.62" r="1.81"/><circle cx="763.2" cy="346.5" r="2.68"/><circle cx="707.62" cy="355.22" r="2.93"/><circle cx="752.19" cy="346.13" r="2.81"/><circle cx="735.41" cy="307.72" r="2.96"/><circle cx="727.78" cy="348.1" r="2.66"/><circle cx="739.23" cy="313.83" r="2.48"/><circle cx="723.34" cy="306.27" r="2.77"/><circle cx="682.58" cy="382.18" r="1.73"/><circle cx="768.5" cy="325.31" r="2.77"/><circle cx="776.48" cy="308.62" r="1.78"/><circle cx="761.51" cy="303.49" r="2.39"/><circle cx="708.98" cy="378.45" r="2.38"/><circle cx="739.68" cy="377.82" r="1.72"/><circle cx="754.68" cy="367.91" r="1.91"/><circle cx="677.02" cy="372.11" r="2.88"/><circle cx="756.72" cy="326.88" r="2.71"/><circle cx="679.5" cy="353.69" r="2.42"/><circle cx="773.2" cy="367.16" r="2.8"/><circle cx="696.66" cy="324.37" r="2.24"/><circle cx="775.76" cy="366.75" r="2.4"/><circle cx="695.64" cy="372.56" r="2.3"/><circle cx="728.88" cy="348.31" r="2.94"/><circle cx="761.33" cy="359.05" r="1.62"/><circle cx="778.43" cy="304.66" r="3.05"/><circle cx="747.54" cy="335.55" r="1.52"/><circle cx="761.69" cy="330.73" r="2.12"/><circle cx="713.14" cy="334.02" r="3.35"/><circle cx="752.48" cy="383.79" r="1.93"/><circle cx="712.36" cy="385.25" r="2.18"/><circle cx="772.11" cy="307.63" r="1.82"/><circle cx="754.98" cy="353.82" r="3.1"/><circle cx="711.78" cy="319.83" r="1.84"/><circle cx="756.15" cy="359.78" r="2.25"/><circle cx="677.49" cy="388.12" r="2.15"/><circle cx="771.59" cy="315.02" r="1.9"/><circle cx="746.17" cy="336.38" r="2.55"/><circle cx="706.06" cy="332.46" r="2.18"/><circle cx="741.11" cy="364.85" r="3.29"/><circle cx="756.16" cy="374.02" r="2.37"/><circle cx="739.06" cy="306.38" r="2.86"/><circle cx="767.37" cy="320.63" r="1.55"/><circle cx="715.72" cy="335.14" r="3.09"/><circle cx="705.27" cy="386.94" r="2.63"/><circle cx="710.86" cy="369.46" r="2.07"/><circle cx="701.08" cy="357.58" r="2.55"/><circle cx="722.71" cy="387.45" r="1.52"/><circle cx="753.21" cy="337.22" r="1.79"/><circle cx="766.05" cy="372.92" r="2.85"/><circle cx="739.55" cy="324.34" r="2.39"/><circle cx="756.32" cy="325.34" r="3.21"/><circle cx="776.52" cy="383.01" r="2.85"/><circle cx="742.5" cy="374.43" r="3.28"/><circle cx="679.48" cy="357.35" r="3.12"/><circle cx="738.76" cy="316.44" r="1.73"/><circle cx="672.37" cy="330.06" r="3.11"/><circle cx="744.47" cy="383.82" r="2.82"/><circle cx="779.63" cy="342.44" r="1.85"/><circle cx="723.75" cy="306.25" r="1.77"/><circle cx="772.46" cy="322.93" r="2.08"/><circle cx="672.35" cy="354.29" r="3.04"/><circle cx="775.98" cy="378.19" r="2.24"/><circle cx="688.65" cy="342.5" r="2.53"/><circle cx="762.21" cy="324.2" r="2.45"/><circle cx="702.89" cy="372.31" r="2.7"/><circle cx="713.3" cy="329.73" r="2.33"/><circle cx="684.73" cy="325.97" r="1.63"/><circle cx="674.3" cy="353.27" r="3.33"/><circle cx="752.64" cy="347.84" r="2.59"/><circle cx="751.97" cy="378.36" r="1.57"/><circle cx="683.74" cy="342.26" r="1.87"/><circle cx="738.43" cy="359.22" r="3.29"/><circle cx="698.43" cy="342.68" r="3.32"/><circle cx="768.48" cy="361.88" r="2.47"/><circle cx="684.91" cy="381.69" r="2.19"/><circle cx="734.61" cy="310.91" r="2.33"/><circle cx="767.72" cy="381.08" r="2.14"/><circle cx="729.21" cy="381.8" r="2.45"/><circle cx="743.73" cy="334.18" r="2.68"/><circle cx="759.02" cy="302.7" r="1.77"/><circle cx="747.68" cy="342.79" r="3.34"/><circle cx="760.61" cy="361.84" r="1.91"/><circle cx="694.73" cy="320.01" r="1.67"/><circle cx="769.96" cy="318.48" r="2.68"/><circle cx="725.41" cy="334.4" r="2.18"/><circle cx="770.54" cy="381.46" r="2.93"/><circle cx="746.77" cy="355.16" r="1.85"/><circle cx="750.66" cy="363.86" r="2.55"/><circle cx="774.43" cy="354.12" r="1.75"/><circle cx="681.79" cy="361.83" r="3.08"/><circle cx="765.6" cy="340.81" r="1.96"/><circle cx="702.24" cy="346.24" r="3.33"/><circle cx="760.21" cy="311.82" r="1.94"/><circle cx="694.74" cy="390.09" r="2.62"/><circle cx="721.56" cy="317.25" r="2.32"/><circle cx="685.46" cy="374.34" r="3.33"/><circle cx="758.47" cy="358.24" r="2.19"/><circle cx="702.27" cy="368.56" r="2.62"/><circle cx="722.07" cy="349.02" r="3.2"/><circle cx="757.38" cy="350.89" r="1.69"/><circle cx="710.9" cy="332.57" r="2.46"/><circle cx="767.24" cy="309.27" r="3.17"/><circle cx="726.16" cy="357.75" r="2.02"/><circle cx="773.58" cy="356.49" r="1.75"/><circle cx="754.75" cy="331.51" r="2.63"/><circle cx="779.1" cy="383.34" r="3.07"/><circle cx="748.3" cy="384.02" r="3.2"/><circle cx="704.47" cy="334.66" r="2.45"/><circle cx="728.3" cy="343.08" r="1.89"/><circle cx="773.27" cy="321.3" r="1.53"/><circle cx="771.53" cy="365.84" r="2.26"/><circle cx="697.67" cy="319.48" r="1.77"/><circle cx="698.26" cy="330.32" r="2.64"/><circle cx="697.89" cy="386.63" r="2.83"/><circle cx="738.75" cy="315.91" r="2.82"/><circle cx="691.51" cy="381.16" r="1.91"/><circle cx="747.5" cy="351.67" r="3.38"/><circle cx="705.24" cy="319.85" r="3"/><circle cx="762.03" cy="373.67" r="2.74"/><circle cx="697.2" cy="353.81" r="3.05"/><circle cx="771.74" cy="370.84" r="3.32"/><circle cx="706.52" cy="335.59" r="2.18"/><circle cx="674.02" cy="329.87" r="3.02"/><circle cx="687.94" cy="312.08" r="2.32"/><circle cx="759.65" cy="313.65" r="2.28"/><circle cx="688.86" cy="347.9" r="3.39"/><circle cx="697.68" cy="337.27" r="1.8"/><circle cx="779.29" cy="307.57" r="2.48"/><circle cx="715.9" cy="319.03" r="3.04"/><circle cx="740.64" cy="345.19" r="2.75"/><circle cx="729.91" cy="306.66" r="2.27"/><circle cx="721.57" cy="303.22" r="3"/><circle cx="768.56" cy="360.93" r="1.98"/><circle cx="674.2" cy="310.38" r="2.51"/><circle cx="711.95" cy="338.95" r="2.49"/><circle cx="719.67" cy="384.65" r="1.82"/><circle cx="745.25" cy="310.35" r="1.87"/><circle cx="750.04" cy="336.91" r="3.15"/><circle cx="670.56" cy="319.7" r="1.74"/></g><g filter="url(#bl05)"><circle cx="778.13" cy="319.67" r="1.78" fill="url(#cellg)" opacity="0.32"/><circle cx="708.62" cy="335.3" r="1.82" fill="url(#cellg)" opacity="0.66"/><circle cx="777.44" cy="313.26" r="2.75" fill="url(#cellg)" opacity="0.79"/><circle cx="750.37" cy="316.29" r="1.78" fill="url(#cellg)" opacity="0.41"/><circle cx="725.7" cy="356.67" r="1.94" fill="url(#cellg)" opacity="0.63"/><circle cx="767.58" cy="367.63" r="3.06" fill="url(#cellg)" opacity="0.59"/><circle cx="683.74" cy="307.13" r="2.26" fill="url(#cellg)" opacity="0.63"/><circle cx="733.28" cy="375.94" r="2.01" fill="url(#cellg)" opacity="0.59"/><circle cx="751.61" cy="350.87" r="3.34" fill="url(#cellg)" opacity="0.65"/><circle cx="751.53" cy="351.88" r="3.36" fill="url(#cellg)" opacity="0.59"/><circle cx="705.51" cy="347.46" r="2.47" fill="url(#cellg)" opacity="0.63"/><circle cx="678.03" cy="313.55" r="2.18" fill="url(#cellg)" opacity="0.47"/><circle cx="776.08" cy="386.14" r="2.96" fill="url(#cellg)" opacity="0.73"/><circle cx="771.83" cy="379.29" r="3.17" fill="url(#cellg)" opacity="0.78"/><circle cx="706.37" cy="312.33" r="2.37" fill="url(#cellg)" opacity="0.58"/><circle cx="763.29" cy="328.91" r="3.1" fill="url(#cellg)" opacity="0.44"/><circle cx="687.92" cy="318.75" r="3.18" fill="url(#cellg)" opacity="0.37"/><circle cx="702.62" cy="340.34" r="1.61" fill="url(#cellg)" opacity="0.68"/><circle cx="778.66" cy="341.09" r="3.34" fill="url(#cellg)" opacity="0.74"/><circle cx="683.62" cy="385.71" r="1.74" fill="url(#cellg)" opacity="0.34"/><circle cx="736.4" cy="361.33" r="2.22" fill="url(#cellg)" opacity="0.53"/><circle cx="752.23" cy="385.51" r="3.23" fill="url(#cellg)" opacity="0.43"/><circle cx="760.55" cy="377.15" r="3.28" fill="url(#cellg)" opacity="0.53"/><circle cx="773.51" cy="317.02" r="1.98" fill="url(#cellg)" opacity="0.43"/><circle cx="679.48" cy="369.35" r="2.32" fill="url(#cellg)" opacity="0.38"/><circle cx="750.95" cy="355.18" r="2.96" fill="url(#cellg)" opacity="0.65"/><circle cx="744.28" cy="315.11" r="3.29" fill="url(#cellg)" opacity="0.36"/><circle cx="727.18" cy="351.81" r="3.04" fill="url(#cellg)" opacity="0.39"/><circle cx="700.66" cy="365.04" r="2.37" fill="url(#cellg)" opacity="0.56"/><circle cx="764.6" cy="315.64" r="3.34" fill="url(#cellg)" opacity="0.65"/><circle cx="711.21" cy="380.99" r="2.3" fill="url(#cellg)" opacity="0.72"/><circle cx="744.51" cy="386.12" r="2.37" fill="url(#cellg)" opacity="0.63"/><circle cx="707.84" cy="390.11" r="3.33" fill="url(#cellg)" opacity="0.59"/><circle cx="720.19" cy="303.83" r="2.11" fill="url(#cellg)" opacity="0.75"/><circle cx="778.12" cy="334.63" r="1.64" fill="url(#cellg)" opacity="0.8"/><circle cx="694.72" cy="317.53" r="2.13" fill="url(#cellg)" opacity="0.75"/><circle cx="763.69" cy="314.38" r="2.94" fill="url(#cellg)" opacity="0.74"/><circle cx="678.99" cy="355.33" r="2.64" fill="url(#cellg)" opacity="0.51"/><circle cx="776.18" cy="342.26" r="1.64" fill="url(#cellg)" opacity="0.52"/><circle cx="741.05" cy="359.29" r="1.99" fill="url(#cellg)" opacity="0.48"/><circle cx="709.09" cy="370.59" r="3.16" fill="url(#cellg)" opacity="0.45"/><circle cx="758.77" cy="339.34" r="3.06" fill="url(#cellg)" opacity="0.46"/><circle cx="753.34" cy="375.87" r="2.4" fill="url(#cellg)" opacity="0.34"/><circle cx="776.67" cy="378.42" r="2.1" fill="url(#cellg)" opacity="0.57"/><circle cx="748.52" cy="390.26" r="2.72" fill="url(#cellg)" opacity="0.6"/><circle cx="756.51" cy="302.67" r="1.66" fill="url(#cellg)" opacity="0.7"/><circle cx="713.75" cy="332.02" r="2.42" fill="url(#cellg)" opacity="0.59"/><circle cx="761.37" cy="385.47" r="2.87" fill="url(#cellg)" opacity="0.41"/><circle cx="756.27" cy="378.82" r="2.99" fill="url(#cellg)" opacity="0.55"/><circle cx="725.73" cy="322.04" r="2.09" fill="url(#cellg)" opacity="0.56"/><circle cx="699.25" cy="377.16" r="1.6" fill="url(#cellg)" opacity="0.42"/><circle cx="778.3" cy="384.07" r="2.35" fill="url(#cellg)" opacity="0.71"/><circle cx="723.36" cy="373.09" r="2.58" fill="url(#cellg)" opacity="0.41"/><circle cx="760.11" cy="312.86" r="2.58" fill="url(#cellg)" opacity="0.47"/><circle cx="678.69" cy="367.1" r="1.89" fill="url(#cellg)" opacity="0.77"/><circle cx="706.21" cy="302.45" r="2.12" fill="url(#cellg)" opacity="0.68"/><circle cx="693.66" cy="353.06" r="2.48" fill="url(#cellg)" opacity="0.73"/><circle cx="752.98" cy="353.45" r="1.92" fill="url(#cellg)" opacity="0.5"/><circle cx="714.55" cy="370.61" r="2.32" fill="url(#cellg)" opacity="0.68"/><circle cx="760.02" cy="328.92" r="1.62" fill="url(#cellg)" opacity="0.46"/><circle cx="709.92" cy="344.34" r="2.51" fill="url(#cellg)" opacity="0.53"/><circle cx="707.39" cy="336.86" r="2.29" fill="url(#cellg)" opacity="0.57"/><circle cx="707.86" cy="310.73" r="3.22" fill="url(#cellg)" opacity="0.71"/><circle cx="698.92" cy="335.48" r="3.15" fill="url(#cellg)" opacity="0.38"/><circle cx="734.97" cy="363.71" r="1.61" fill="url(#cellg)" opacity="0.79"/><circle cx="728.32" cy="362.59" r="2.13" fill="url(#cellg)" opacity="0.36"/><circle cx="770.94" cy="317.79" r="1.8" fill="url(#cellg)" opacity="0.7"/><circle cx="710.46" cy="304.61" r="2.18" fill="url(#cellg)" opacity="0.44"/><circle cx="686.24" cy="379.54" r="2.15" fill="url(#cellg)" opacity="0.38"/><circle cx="767.2" cy="360.31" r="1.65" fill="url(#cellg)" opacity="0.76"/><circle cx="775.74" cy="310.95" r="2.01" fill="url(#cellg)" opacity="0.53"/><circle cx="732.18" cy="354.21" r="2.11" fill="url(#cellg)" opacity="0.73"/><circle cx="679.43" cy="323" r="3.2" fill="url(#cellg)" opacity="0.5"/><circle cx="727.1" cy="364.05" r="2.79" fill="url(#cellg)" opacity="0.41"/><circle cx="692.99" cy="377.59" r="2.52" fill="url(#cellg)" opacity="0.45"/><circle cx="709.89" cy="333.87" r="1.86" fill="url(#cellg)" opacity="0.59"/><circle cx="718.04" cy="373.58" r="3.15" fill="url(#cellg)" opacity="0.77"/><circle cx="677.39" cy="306.14" r="1.63" fill="url(#cellg)" opacity="0.51"/><circle cx="727.75" cy="322.69" r="3.28" fill="url(#cellg)" opacity="0.55"/><circle cx="727.85" cy="335.8" r="3.19" fill="url(#cellg)" opacity="0.34"/><circle cx="699.7" cy="343.48" r="1.82" fill="url(#cellg)" opacity="0.56"/><circle cx="682.59" cy="341.16" r="1.66" fill="url(#cellg)" opacity="0.5"/><circle cx="737.05" cy="381.43" r="2.6" fill="url(#cellg)" opacity="0.5"/><circle cx="744.44" cy="325.07" r="2.74" fill="url(#cellg)" opacity="0.61"/><circle cx="778.41" cy="318.17" r="2.47" fill="url(#cellg)" opacity="0.71"/><circle cx="738.57" cy="378.45" r="2.92" fill="url(#cellg)" opacity="0.43"/><circle cx="693.49" cy="354.17" r="3.07" fill="url(#cellg)" opacity="0.48"/><circle cx="693.18" cy="358.31" r="1.7" fill="url(#cellg)" opacity="0.58"/><circle cx="671.87" cy="339.8" r="2.67" fill="url(#cellg)" opacity="0.73"/><circle cx="680.68" cy="353.47" r="1.83" fill="url(#cellg)" opacity="0.59"/><circle cx="760.85" cy="376.57" r="3.3" fill="url(#cellg)" opacity="0.37"/><circle cx="674.26" cy="321.65" r="3.07" fill="url(#cellg)" opacity="0.78"/><circle cx="721.6" cy="344.2" r="2.73" fill="url(#cellg)" opacity="0.44"/><circle cx="692.78" cy="327.41" r="2.28" fill="url(#cellg)" opacity="0.64"/><circle cx="741.31" cy="352.76" r="2.85" fill="url(#cellg)" opacity="0.72"/><circle cx="756.95" cy="332.46" r="1.61" fill="url(#cellg)" opacity="0.33"/><circle cx="732.23" cy="332.82" r="2.77" fill="url(#cellg)" opacity="0.67"/><circle cx="747.68" cy="333.39" r="1.82" fill="url(#cellg)" opacity="0.73"/><circle cx="674.85" cy="332.74" r="2.32" fill="url(#cellg)" opacity="0.64"/><circle cx="681.37" cy="355.83" r="2.32" fill="url(#cellg)" opacity="0.6"/><circle cx="676.86" cy="312.43" r="2.97" fill="url(#cellg)" opacity="0.42"/><circle cx="699.11" cy="332.45" r="2.08" fill="url(#cellg)" opacity="0.79"/><circle cx="672.64" cy="303.71" r="2.21" fill="url(#cellg)" opacity="0.32"/><circle cx="752.72" cy="337.81" r="2.15" fill="url(#cellg)" opacity="0.78"/><circle cx="763.85" cy="314.83" r="2.55" fill="url(#cellg)" opacity="0.71"/><circle cx="754.3" cy="353.95" r="1.73" fill="url(#cellg)" opacity="0.75"/><circle cx="699.6" cy="319.38" r="2.76" fill="url(#cellg)" opacity="0.34"/><circle cx="716.18" cy="389.52" r="1.96" fill="url(#cellg)" opacity="0.75"/><circle cx="742.24" cy="365.95" r="2.69" fill="url(#cellg)" opacity="0.71"/><circle cx="689.51" cy="322.54" r="3.03" fill="url(#cellg)" opacity="0.69"/><circle cx="705.81" cy="387.94" r="3.09" fill="url(#cellg)" opacity="0.46"/><circle cx="746.8" cy="376.41" r="1.88" fill="url(#cellg)" opacity="0.43"/><circle cx="724.82" cy="313.2" r="2.9" fill="url(#cellg)" opacity="0.36"/><circle cx="713.04" cy="361" r="2.55" fill="url(#cellg)" opacity="0.71"/><circle cx="695.26" cy="379.16" r="1.67" fill="url(#cellg)" opacity="0.72"/><circle cx="757.28" cy="302.72" r="1.84" fill="url(#cellg)" opacity="0.37"/><circle cx="705.17" cy="313.2" r="1.81" fill="url(#cellg)" opacity="0.38"/><circle cx="716.59" cy="319.18" r="2.08" fill="url(#cellg)" opacity="0.47"/><circle cx="731.61" cy="357.44" r="2.18" fill="url(#cellg)" opacity="0.42"/><circle cx="691.46" cy="354.29" r="2.47" fill="url(#cellg)" opacity="0.54"/><circle cx="769.31" cy="311.16" r="2.58" fill="url(#cellg)" opacity="0.66"/><circle cx="705.16" cy="313.13" r="2.18" fill="url(#cellg)" opacity="0.71"/><circle cx="753.6" cy="310.62" r="3.2" fill="url(#cellg)" opacity="0.39"/><circle cx="741.5" cy="339.88" r="2.89" fill="url(#cellg)" opacity="0.51"/><circle cx="688.31" cy="327.28" r="3.27" fill="url(#cellg)" opacity="0.35"/><circle cx="671.25" cy="341.34" r="2.73" fill="url(#cellg)" opacity="0.5"/><circle cx="721.34" cy="384.55" r="2.48" fill="url(#cellg)" opacity="0.37"/><circle cx="752.75" cy="347.26" r="2.61" fill="url(#cellg)" opacity="0.35"/><circle cx="684.83" cy="334.65" r="1.73" fill="url(#cellg)" opacity="0.47"/><circle cx="758.23" cy="338" r="2.49" fill="url(#cellg)" opacity="0.39"/></g><g><circle cx="689.59" cy="346.19" r="2.15" fill="url(#dotg)"/><circle cx="777.63" cy="382.78" r="1.74" fill="url(#dotg)"/><circle cx="766.08" cy="334.68" r="2.4" fill="url(#dotg)"/><circle cx="697.92" cy="304.03" r="1.66" fill="url(#dotg)"/><circle cx="733.51" cy="373.02" r="2.11" fill="url(#dotg)"/><circle cx="747.92" cy="375.23" r="2.48" fill="url(#dotg)"/><circle cx="749.26" cy="304.87" r="2.42" fill="url(#dotg)"/><circle cx="735.68" cy="336.37" r="1.64" fill="url(#dotg)"/></g></g><line x1="629" y1="291.4" x2="660.2" y2="291.4" stroke="#f4f8f0" stroke-width="1.8"/><text x="611.6" y="209" font-size="13.5" text-anchor="middle">Control</text><text x="723.6" y="209" font-size="13.5" text-anchor="middle">ATP</text><text transform="translate(548.8 346) rotate(-90)" font-size="13.5" text-anchor="middle" dy="4.8">DNCB</text><path d="M639.3 409V521.3H719.7" stroke="#000" stroke-width="1.3" fill="none"/><line x1="635.3" y1="521.3" x2="639.3" y2="521.3" stroke="#000" stroke-width="1.2"/><text x="633.8" y="525.9" font-size="13.3" text-anchor="end">0</text><line x1="635.3" y1="465.15" x2="639.3" y2="465.15" stroke="#000" stroke-width="1.2"/><text x="633.8" y="469.75" font-size="13.3" text-anchor="end">2,000</text><line x1="635.3" y1="409" x2="639.3" y2="409" stroke="#000" stroke-width="1.2"/><text x="633.8" y="413.6" font-size="13.3" text-anchor="end">4,000</text><rect x="641.3" y="512.04" width="16.4" height="9.26" fill="#111"/><line x1="649.5" y1="521.3" x2="649.5" y2="524.9" stroke="#000" stroke-width="1.2"/><line x1="649.5" y1="512.04" x2="649.5" y2="505.86" stroke="#000" stroke-width="1.3"/><line x1="644.5" y1="505.86" x2="654.5" y2="505.86" stroke="#000" stroke-width="1.3"/><rect x="661.2" y="469.36" width="16.4" height="51.94" fill="#111"/><line x1="669.4" y1="521.3" x2="669.4" y2="524.9" stroke="#000" stroke-width="1.2"/><line x1="669.4" y1="469.36" x2="669.4" y2="467.4" stroke="#000" stroke-width="1.3"/><line x1="664.4" y1="467.4" x2="674.4" y2="467.4" stroke="#000" stroke-width="1.3"/><rect x="681.5" y="500.24" width="16.4" height="21.06" fill="#111"/><line x1="689.7" y1="521.3" x2="689.7" y2="524.9" stroke="#000" stroke-width="1.2"/><line x1="689.7" y1="500.24" x2="689.7" y2="490.42" stroke="#000" stroke-width="1.3"/><line x1="684.7" y1="490.42" x2="694.7" y2="490.42" stroke="#000" stroke-width="1.3"/><rect x="701.4" y="433.71" width="16.4" height="87.59" fill="#111"/><line x1="709.6" y1="521.3" x2="709.6" y2="524.9" stroke="#000" stroke-width="1.2"/><line x1="709.6" y1="433.71" x2="709.6" y2="430.9" stroke="#000" stroke-width="1.3"/><line x1="704.6" y1="430.9" x2="714.6" y2="430.9" stroke="#000" stroke-width="1.3"/><line x1="649.8" y1="459.6" x2="670.4" y2="459.6" stroke="#000" stroke-width="1.3"/><text x="660.3" y="462" font-size="14.8" text-anchor="middle" font-weight="bold">**</text><line x1="691.3" y1="424.8" x2="710.9" y2="424.8" stroke="#000" stroke-width="1.3"/><text x="701.1" y="427.2" font-size="14.8" text-anchor="middle" font-weight="bold">**</text><text transform="translate(572.9 466.7) rotate(-90)" font-size="13.5" text-anchor="middle" dy="4.8">Annexin 5 binding</text><text transform="translate(588.4 466.7) rotate(-90)" font-size="13.5" text-anchor="middle" dy="4.8">(fluorescence intensity)</text><text x="640.3" y="536.8" font-size="10.5" text-anchor="end">ATP</text><text x="649.8" y="536.64" font-size="12.3" text-anchor="middle" stroke="#000" stroke-width="0.25">–</text><text x="670.2" y="537.35" font-size="11.5" text-anchor="middle" stroke="#000" stroke-width="0.35">+</text><text x="690.4" y="536.64" font-size="12.3" text-anchor="middle" stroke="#000" stroke-width="0.25">–</text><text x="710.4" y="537.35" font-size="11.5" text-anchor="middle" stroke="#000" stroke-width="0.35">+</text><text x="640.3" y="548.5" font-size="10.5" text-anchor="end">DNCB</text><text x="649.8" y="548.34" font-size="12.3" text-anchor="middle" stroke="#000" stroke-width="0.25">–</text><text x="670.2" y="548.34" font-size="12.3" text-anchor="middle" stroke="#000" stroke-width="0.25">–</text><text x="690.4" y="549.05" font-size="11.5" text-anchor="middle" stroke="#000" stroke-width="0.35">+</text><text x="710.4" y="549.05" font-size="11.5" text-anchor="middle" stroke="#000" stroke-width="0.35">+</text><g clip-path="url(#cE1)"><rect x="67.5" y="595.2" width="94.9" height="27.9" fill="#e6e6e6"/><circle cx="78" cy="605" r="3.5" fill="#999" fill-opacity="0.45" filter="url(#bl2)"/><circle cx="72" cy="614" r="4" fill="#999" fill-opacity="0.35" filter="url(#bl2)"/><circle cx="81" cy="618" r="3" fill="#999" fill-opacity="0.35" filter="url(#bl2)"/><circle cx="88" cy="610" r="3" fill="#999" fill-opacity="0.25" filter="url(#bl2)"/><circle cx="76" cy="621" r="3" fill="#999" fill-opacity="0.3" filter="url(#bl2)"/><rect x="95" y="600.5" width="18" height="15.5" rx="3" fill="#474747" fill-opacity="0.9" filter="url(#bl2)"/><rect x="95.3" y="601" width="6" height="14" rx="2" fill="#1c1c1c" fill-opacity="0.5" filter="url(#bl2)"/><rect x="106.5" y="601" width="6" height="13" rx="2" fill="#222" fill-opacity="0.5" filter="url(#bl2)"/><rect x="97" y="612" width="14" height="10" rx="3" fill="#8a8a8a" fill-opacity="0.55" filter="url(#bl2)"/><rect x="140.3" y="599.8" width="20.5" height="20" rx="3" fill="#0a0a0a" fill-opacity="1" filter="url(#bl2)"/><rect x="141.5" y="601" width="18" height="16" rx="3" fill="#000" fill-opacity="1" filter="url(#bl1)"/></g><rect x="67.5" y="595.2" width="94.9" height="27.9" fill="none" stroke="#111" stroke-width="1.2"/><g clip-path="url(#cE2)"><rect x="67.5" y="625.4" width="94.9" height="27.9" fill="#e8e8e8"/><rect x="91.5" y="630.5" width="19" height="19" rx="5" fill="#b4b4b4" fill-opacity="0.9" filter="url(#bl4)"/><rect x="141.5" y="629" width="18.5" height="19" rx="5" fill="#8e8e8e" fill-opacity="0.9" filter="url(#bl4)"/></g><rect x="67.5" y="625.4" width="94.9" height="27.9" fill="none" stroke="#111" stroke-width="1.2"/><g clip-path="url(#cE3)"><rect x="67.5" y="655.6" width="94.9" height="28.4" fill="#e6e6e6"/><rect x="94.5" y="667.5" width="18.5" height="6.5" rx="2" fill="#4a4a4a" fill-opacity="0.9" filter="url(#bl2)"/><rect x="95.5" y="668.5" width="16.5" height="4.5" rx="2" fill="#383838" fill-opacity="0.8" filter="url(#bl1)"/><rect x="141" y="666.3" width="18.5" height="7" rx="2" fill="#444" fill-opacity="0.9" filter="url(#bl2)"/><rect x="142" y="667.3" width="16.5" height="5" rx="2" fill="#333" fill-opacity="0.8" filter="url(#bl1)"/></g><rect x="67.5" y="655.6" width="94.9" height="28.4" fill="none" stroke="#111" stroke-width="1.2"/><g clip-path="url(#cE4)"><rect x="67.5" y="686.4" width="94.9" height="27.6" fill="#d2d2d2"/><g fill="#8c8c8c" filter="url(#bl2)"><circle cx="91.58" cy="706.81" r="2.08" fill-opacity="0.17"/><circle cx="156.99" cy="703.21" r="4.33" fill-opacity="0.17"/><circle cx="85.8" cy="706.32" r="1.94" fill-opacity="0.39"/><circle cx="84.85" cy="701.41" r="3.06" fill-opacity="0.22"/><circle cx="100.89" cy="702.03" r="1.86" fill-opacity="0.2"/><circle cx="89.67" cy="711.77" r="1.83" fill-opacity="0.27"/><circle cx="131.02" cy="694.31" r="3.59" fill-opacity="0.23"/><circle cx="78.82" cy="692.62" r="4.17" fill-opacity="0.23"/><circle cx="152.25" cy="712.92" r="2.88" fill-opacity="0.39"/><circle cx="148.66" cy="712.81" r="3.88" fill-opacity="0.29"/><circle cx="68.27" cy="699.73" r="4.08" fill-opacity="0.45"/><circle cx="118.9" cy="708.82" r="3.11" fill-opacity="0.18"/><circle cx="78.04" cy="707.21" r="3.83" fill-opacity="0.24"/><circle cx="92.25" cy="712.98" r="2.38" fill-opacity="0.41"/><circle cx="107.19" cy="688.69" r="1.95" fill-opacity="0.28"/><circle cx="110.64" cy="711.55" r="2.07" fill-opacity="0.38"/><circle cx="112.01" cy="700.4" r="1.52" fill-opacity="0.28"/><circle cx="155.19" cy="698.97" r="1.71" fill-opacity="0.27"/><circle cx="92.32" cy="705.63" r="3.75" fill-opacity="0.42"/><circle cx="85.66" cy="703.66" r="4.21" fill-opacity="0.24"/><circle cx="131.03" cy="698.62" r="1.67" fill-opacity="0.31"/><circle cx="156.98" cy="694.55" r="3.66" fill-opacity="0.32"/><circle cx="154.74" cy="712.12" r="3.83" fill-opacity="0.16"/><circle cx="150.74" cy="709.33" r="3.54" fill-opacity="0.18"/><circle cx="74.05" cy="689.27" r="3" fill-opacity="0.22"/><circle cx="156.05" cy="697.73" r="2.96" fill-opacity="0.15"/><circle cx="129.03" cy="707.78" r="3.58" fill-opacity="0.35"/><circle cx="149.93" cy="711.01" r="2.24" fill-opacity="0.32"/><circle cx="106.36" cy="713.34" r="3.76" fill-opacity="0.25"/><circle cx="88.62" cy="693.14" r="2.08" fill-opacity="0.28"/><circle cx="142.54" cy="711.37" r="1.61" fill-opacity="0.16"/><circle cx="130.19" cy="705.86" r="4.3" fill-opacity="0.27"/><circle cx="141.21" cy="688.31" r="1.77" fill-opacity="0.4"/><circle cx="86.93" cy="692.3" r="2.09" fill-opacity="0.16"/><circle cx="80.63" cy="691.68" r="1.67" fill-opacity="0.35"/><circle cx="139.78" cy="688.57" r="1.53" fill-opacity="0.36"/><circle cx="69.9" cy="705.65" r="1.87" fill-opacity="0.22"/><circle cx="156.89" cy="695.08" r="4.26" fill-opacity="0.24"/><circle cx="80.7" cy="705.77" r="3.59" fill-opacity="0.2"/><circle cx="124.41" cy="688.69" r="2.72" fill-opacity="0.32"/><circle cx="107.39" cy="710.79" r="1.52" fill-opacity="0.26"/><circle cx="98.45" cy="705.88" r="3.99" fill-opacity="0.19"/><circle cx="84" cy="708.3" r="2.95" fill-opacity="0.24"/><circle cx="141.36" cy="703.38" r="4.06" fill-opacity="0.22"/><circle cx="153.97" cy="699.22" r="3.01" fill-opacity="0.45"/></g><g fill="#555" fill-opacity="0.45"><circle cx="125.37" cy="702.03" r="0.45"/><circle cx="112.99" cy="705.46" r="0.45"/><circle cx="113.96" cy="688.38" r="0.45"/><circle cx="122.14" cy="711.04" r="0.45"/><circle cx="160.22" cy="707.33" r="0.45"/><circle cx="104.18" cy="705.47" r="0.45"/><circle cx="73.38" cy="699.85" r="0.45"/><circle cx="85.35" cy="708.52" r="0.45"/><circle cx="68.7" cy="709.5" r="0.45"/><circle cx="86.96" cy="694.4" r="0.45"/><circle cx="124.64" cy="693.04" r="0.45"/><circle cx="92.19" cy="713.94" r="0.45"/><circle cx="146.6" cy="699.97" r="0.45"/><circle cx="157.45" cy="697.95" r="0.45"/><circle cx="79.5" cy="712.57" r="0.45"/><circle cx="143.76" cy="706.6" r="0.45"/><circle cx="130.19" cy="707.3" r="0.45"/><circle cx="161.34" cy="708.92" r="0.45"/><circle cx="85.76" cy="709.77" r="0.45"/><circle cx="139.94" cy="705.52" r="0.45"/><circle cx="99.2" cy="714.26" r="0.45"/><circle cx="86.7" cy="708.54" r="0.45"/><circle cx="92.4" cy="709.57" r="0.45"/><circle cx="156.19" cy="709.67" r="0.45"/><circle cx="113.02" cy="687.7" r="0.45"/><circle cx="108.9" cy="714.11" r="0.45"/><circle cx="149.97" cy="707.8" r="0.45"/><circle cx="148.59" cy="688.77" r="0.45"/><circle cx="152.3" cy="706.59" r="0.45"/><circle cx="70.12" cy="706.25" r="0.45"/><circle cx="161.59" cy="700.36" r="0.45"/><circle cx="132.51" cy="694.88" r="0.45"/><circle cx="152.87" cy="701.49" r="0.45"/><circle cx="143.48" cy="690.96" r="0.45"/><circle cx="152.44" cy="697.43" r="0.45"/><circle cx="151.28" cy="703.86" r="0.45"/><circle cx="128.83" cy="706.43" r="0.45"/><circle cx="79.97" cy="701.62" r="0.45"/><circle cx="131.91" cy="711.29" r="0.45"/><circle cx="71.36" cy="711.4" r="0.45"/><circle cx="100.9" cy="711.88" r="0.45"/><circle cx="94.64" cy="702.99" r="0.45"/><circle cx="95.75" cy="693.37" r="0.45"/><circle cx="143.77" cy="687.69" r="0.45"/><circle cx="150.93" cy="702.64" r="0.45"/><circle cx="152.7" cy="700.87" r="0.45"/><circle cx="126.24" cy="686.45" r="0.45"/><circle cx="140.58" cy="690.39" r="0.45"/><circle cx="79.84" cy="713.49" r="0.45"/><circle cx="100.58" cy="707.44" r="0.45"/><circle cx="141.97" cy="711.73" r="0.45"/><circle cx="110.75" cy="695.48" r="0.45"/><circle cx="114.48" cy="698.49" r="0.45"/><circle cx="141.78" cy="702.76" r="0.45"/><circle cx="89.01" cy="697.66" r="0.45"/><circle cx="149.43" cy="687.28" r="0.45"/><circle cx="137.58" cy="699.55" r="0.45"/><circle cx="75.22" cy="705.05" r="0.45"/><circle cx="107.9" cy="696.42" r="0.45"/><circle cx="154.14" cy="712.27" r="0.45"/><circle cx="93.43" cy="712.52" r="0.45"/><circle cx="69.19" cy="687.21" r="0.45"/><circle cx="84.06" cy="698.05" r="0.45"/><circle cx="119.04" cy="703.3" r="0.45"/><circle cx="77.58" cy="697.82" r="0.45"/><circle cx="73.08" cy="713.79" r="0.45"/><circle cx="80.87" cy="694.85" r="0.45"/><circle cx="145.54" cy="711.54" r="0.45"/><circle cx="158.99" cy="696.05" r="0.45"/><circle cx="80.71" cy="711.23" r="0.45"/></g><rect x="99" y="698.8" width="15" height="3.2" rx="1.5" fill="#777" fill-opacity="0.7" filter="url(#bl1)"/><ellipse cx="97.3" cy="702" rx="4.2" ry="5" fill="#000" fill-opacity="1" filter="url(#bl05)"/></g><rect x="67.5" y="686.4" width="94.9" height="27.6" fill="none" stroke="#111" stroke-width="1.2"/><g clip-path="url(#cE5)"><rect x="67.5" y="716.7" width="94.9" height="27.8" fill="#e3e3e3"/><rect x="95" y="727.3" width="18.5" height="7" rx="2.5" fill="#404040" fill-opacity="0.95" filter="url(#bl1)"/><rect x="98.5" y="729" width="11" height="3.6" rx="1" fill="#808080" fill-opacity="0.55" filter="url(#bl1)"/></g><rect x="67.5" y="716.7" width="94.9" height="27.8" fill="none" stroke="#111" stroke-width="1.2"/><text x="41.3" y="598" font-size="10.3">kDa</text><line x1="60.5" y1="607.8" x2="67.5" y2="607.8" stroke="#000" stroke-width="1.4"/><text x="58.8" y="611.2" font-size="10.3" text-anchor="end">240</text><line x1="60.5" y1="627.2" x2="67.5" y2="627.2" stroke="#000" stroke-width="1.4"/><text x="58.8" y="630.6" font-size="10.3" text-anchor="end">98</text><line x1="60.5" y1="648.2" x2="67.5" y2="648.2" stroke="#000" stroke-width="1.4"/><text x="58.8" y="651.6" font-size="10.3" text-anchor="end">64</text><line x1="60.5" y1="670.9" x2="67.5" y2="670.9" stroke="#000" stroke-width="1.4"/><text x="58.8" y="674.3" font-size="10.3" text-anchor="end">140</text><line x1="60.5" y1="699.4" x2="67.5" y2="699.4" stroke="#000" stroke-width="1.4"/><text x="58.8" y="702.8" font-size="10.3" text-anchor="end">61</text><line x1="60.5" y1="731.4" x2="67.5" y2="731.4" stroke="#000" stroke-width="1.4"/><text x="58.8" y="734.8" font-size="10.3" text-anchor="end">42</text><text x="166.3" y="613.7" font-size="13.1">PSGL1</text><text x="166.3" y="644.3" font-size="13.1">TF</text><text x="166.3" y="675.4" font-size="13.1">β1</text><text x="166.3" y="704" font-size="13.1">PDI</text><text x="166.3" y="734.5" font-size="13.1">γ-Actin</text><text x="68.2" y="757.7" font-size="12" text-anchor="end">ATP</text><text x="81" y="758.04" font-size="13.5" text-anchor="middle" stroke="#000" stroke-width="0.25">–</text><text x="104.9" y="758.79" font-size="12.5" text-anchor="middle" stroke="#000" stroke-width="0.35">+</text><text x="128.1" y="758.04" font-size="13.5" text-anchor="middle" stroke="#000" stroke-width="0.25">–</text><text x="150.1" y="758.79" font-size="12.5" text-anchor="middle" stroke="#000" stroke-width="0.35">+</text><text x="68.2" y="771.5" font-size="12" text-anchor="end">DNCB</text><text x="81" y="771.64" font-size="13.5" text-anchor="middle" stroke="#000" stroke-width="0.25">–</text><text x="104.9" y="771.64" font-size="13.5" text-anchor="middle" stroke="#000" stroke-width="0.25">–</text><text x="128.1" y="772.39" font-size="12.5" text-anchor="middle" stroke="#000" stroke-width="0.35">+</text><text x="150.1" y="772.39" font-size="12.5" text-anchor="middle" stroke="#000" stroke-width="0.35">+</text><text x="317.1" y="629.2" font-size="13.5" text-anchor="middle">Cells</text><text x="399.4" y="629.2" font-size="13.5" text-anchor="middle">MPs</text><path d="M281 636.1V744.7H353.5" stroke="#000" stroke-width="1.3" fill="none"/><line x1="281" y1="744.7" x2="281" y2="749" stroke="#000" stroke-width="1.2"/><text x="281" y="764.8" font-size="13.3" text-anchor="middle">0</text><line x1="308.6" y1="744.7" x2="308.6" y2="749" stroke="#000" stroke-width="1.2"/><text x="308.6" y="764.8" font-size="13.3" text-anchor="middle">0.5</text><line x1="336.2" y1="744.7" x2="336.2" y2="749" stroke="#000" stroke-width="1.2"/><text x="336.2" y="764.8" font-size="13.3" text-anchor="middle">1.0</text><line x1="277.5" y1="649.55" x2="281" y2="649.55" stroke="#000" stroke-width="1.2"/><rect x="281" y="640.4" width="3.59" height="18.3" fill="#111"/><line x1="284.59" y1="649.55" x2="287.07" y2="649.55" stroke="#000" stroke-width="1.3"/><line x1="287.07" y1="644.55" x2="287.07" y2="654.55" stroke="#000" stroke-width="1.3"/><line x1="277.5" y1="676.9" x2="281" y2="676.9" stroke="#000" stroke-width="1.2"/><rect x="281" y="667.2" width="38.09" height="19.4" fill="#111"/><line x1="319.09" y1="676.9" x2="341.72" y2="676.9" stroke="#000" stroke-width="1.3"/><line x1="341.72" y1="671.9" x2="341.72" y2="681.9" stroke="#000" stroke-width="1.3"/><line x1="277.5" y1="703.75" x2="281" y2="703.75" stroke="#000" stroke-width="1.2"/><rect x="281" y="694.2" width="2.76" height="19.1" fill="#111"/><line x1="283.76" y1="703.75" x2="285.97" y2="703.75" stroke="#000" stroke-width="1.3"/><line x1="285.97" y1="698.75" x2="285.97" y2="708.75" stroke="#000" stroke-width="1.3"/><line x1="277.5" y1="731.3" x2="281" y2="731.3" stroke="#000" stroke-width="1.2"/><rect x="281" y="721.7" width="20.98" height="19.2" fill="#111"/><line x1="301.98" y1="731.3" x2="313.57" y2="731.3" stroke="#000" stroke-width="1.3"/><line x1="313.57" y1="726.3" x2="313.57" y2="736.3" stroke="#000" stroke-width="1.3"/><rect x="284.6" y="645.3" width="2" height="9.2" fill="#555"/><rect x="283.9" y="698.5" width="2" height="10" fill="#555"/><path d="M371 636.1V744.7H456.3" stroke="#000" stroke-width="1.3" fill="none"/><line x1="371" y1="744.7" x2="371" y2="749" stroke="#000" stroke-width="1.2"/><text x="371" y="764.8" font-size="13.3" text-anchor="middle">0</text><line x1="399.5" y1="744.7" x2="399.5" y2="749" stroke="#000" stroke-width="1.2"/><text x="399.5" y="764.8" font-size="13.3" text-anchor="middle">0.1</text><line x1="428" y1="744.7" x2="428" y2="749" stroke="#000" stroke-width="1.2"/><text x="428" y="764.8" font-size="13.3" text-anchor="middle">0.2</text><line x1="456.5" y1="744.7" x2="456.5" y2="749" stroke="#000" stroke-width="1.2"/><text x="456.5" y="764.8" font-size="13.3" text-anchor="middle">0.3</text><rect x="371" y="640.4" width="1.71" height="18.3" fill="#111"/><line x1="372.71" y1="649.55" x2="374.7" y2="649.55" stroke="#000" stroke-width="1.3"/><line x1="374.7" y1="644.55" x2="374.7" y2="654.55" stroke="#000" stroke-width="1.3"/><rect x="371" y="667.2" width="24.79" height="19.4" fill="#111"/><line x1="395.8" y1="676.9" x2="425.15" y2="676.9" stroke="#000" stroke-width="1.3"/><line x1="425.15" y1="671.9" x2="425.15" y2="681.9" stroke="#000" stroke-width="1.3"/><rect x="371" y="694.2" width="0.85" height="19.1" fill="#111"/><line x1="371.86" y1="703.75" x2="372.14" y2="703.75" stroke="#000" stroke-width="1.3"/><line x1="372.14" y1="698.75" x2="372.14" y2="708.75" stroke="#000" stroke-width="1.3"/><rect x="371" y="721.7" width="9.69" height="19.2" fill="#111"/><line x1="380.69" y1="731.3" x2="392.38" y2="731.3" stroke="#000" stroke-width="1.3"/><line x1="392.38" y1="726.3" x2="392.38" y2="736.3" stroke="#000" stroke-width="1.3"/><line x1="345.5" y1="677.4" x2="345.5" y2="732.8" stroke="#000" stroke-width="1.2"/><text x="348" y="716" font-size="16" font-weight="bold">**</text><line x1="428.7" y1="678" x2="428.7" y2="733.5" stroke="#000" stroke-width="1.2"/><text x="431.4" y="713.3" font-size="16" font-weight="bold">*</text><text x="268.3" y="653.12" font-size="13.8" text-anchor="middle" stroke="#000" stroke-width="0.25">–</text><text x="268.3" y="681.66" font-size="14.5" text-anchor="middle" stroke="#000" stroke-width="0.35">+</text><text x="268.3" y="707.42" font-size="13.8" text-anchor="middle" stroke="#000" stroke-width="0.25">–</text><text x="268.3" y="736.46" font-size="14.5" text-anchor="middle" stroke="#000" stroke-width="0.35">+</text><line x1="255.3" y1="638.5" x2="255.3" y2="686.8" stroke="#000" stroke-width="1.2"/><line x1="255.3" y1="694.1" x2="255.3" y2="741.6" stroke="#000" stroke-width="1.2"/><text transform="translate(250.8 665.3) rotate(-90)" font-size="12.4" text-anchor="middle">Con</text><text transform="translate(250.8 718.3) rotate(-90)" font-size="12.2" text-anchor="middle">DNCB</text><text x="371.4" y="779" font-size="13.5" text-anchor="middle">FXa (nM/min)</text><path d="M541.3 652.6V743.9H600" stroke="#000" stroke-width="1.3" fill="none"/><line x1="537.3" y1="743.9" x2="541.3" y2="743.9" stroke="#000" stroke-width="1.2"/><text x="536.8" y="748.5" font-size="13.3" text-anchor="end">0</text><line x1="537.3" y1="698.25" x2="541.3" y2="698.25" stroke="#000" stroke-width="1.2"/><text x="536.8" y="702.85" font-size="13.3" text-anchor="end">0.1</text><line x1="537.3" y1="652.6" x2="541.3" y2="652.6" stroke="#000" stroke-width="1.2"/><text x="536.8" y="657.2" font-size="13.3" text-anchor="end">0.2</text><line x1="550.75" y1="707.38" x2="550.75" y2="706.01" stroke="#000" stroke-width="1.3"/><line x1="547.25" y1="706.01" x2="554.25" y2="706.01" stroke="#000" stroke-width="1.3"/><rect x="545.3" y="707.98" width="10.9" height="35.92" fill="#111" stroke="#000" stroke-width="1.2"/><line x1="562.25" y1="693.68" x2="562.25" y2="685.47" stroke="#000" stroke-width="1.3"/><line x1="558.75" y1="685.47" x2="565.75" y2="685.47" stroke="#000" stroke-width="1.3"/><rect x="556.8" y="694.28" width="10.9" height="49.62" fill="#fff" stroke="#000" stroke-width="1.2"/><line x1="580.05" y1="677.71" x2="580.05" y2="673.14" stroke="#000" stroke-width="1.3"/><line x1="576.55" y1="673.14" x2="583.55" y2="673.14" stroke="#000" stroke-width="1.3"/><rect x="574.6" y="678.31" width="10.9" height="65.59" fill="#111" stroke="#000" stroke-width="1.2"/><line x1="592.55" y1="732.49" x2="592.55" y2="730.2" stroke="#000" stroke-width="1.3"/><line x1="589.05" y1="730.2" x2="596.05" y2="730.2" stroke="#000" stroke-width="1.3"/><rect x="587.1" y="733.09" width="10.9" height="10.81" fill="#fff" stroke="#000" stroke-width="1.2"/><line x1="578.7" y1="669.3" x2="594.9" y2="669.3" stroke="#000" stroke-width="1.2"/><text x="586.5" y="672.3" font-size="16" text-anchor="middle" font-weight="bold">*</text><rect x="537.2" y="621.5" width="8" height="8" fill="#111" stroke="#000" stroke-width="0.8"/><text x="548" y="629.6" font-size="10.3">0–15 min</text><rect x="537.2" y="633.6" width="8" height="7.6" fill="#fff" stroke="#000" stroke-width="1"/><text x="548" y="641.3" font-size="10.3">15–30 min</text><text transform="translate(508.8 699) rotate(-90)" font-size="13.5" text-anchor="middle" dy="4.8">FXa (nM/min)</text><text x="543.8" y="757.9" font-size="12" text-anchor="end">ATP</text><text x="557" y="759.09" font-size="12.5" text-anchor="middle" stroke="#000" stroke-width="0.35">+</text><text x="585.9" y="759.09" font-size="12.5" text-anchor="middle" stroke="#000" stroke-width="0.35">+</text><text x="543.8" y="771.6" font-size="12" text-anchor="end">DNCB</text><text x="557" y="771.74" font-size="13.5" text-anchor="middle" stroke="#000" stroke-width="0.25">–</text><text x="585.9" y="772.49" font-size="12.5" text-anchor="middle" stroke="#000" stroke-width="0.35">+</text><line x1="557" y1="743.9" x2="557" y2="747.5" stroke="#000" stroke-width="1.2"/><line x1="585.9" y1="743.9" x2="585.9" y2="747.5" stroke="#000" stroke-width="1.2"/><g clip-path="url(#cH)"><rect x="699.5" y="603" width="71.2" height="142" fill="#e2ebec"/><g fill="#7a8a90" fill-opacity="0.4"><rect x="754.96" y="693.1" width="0.9" height="0.9"/><rect x="742.52" y="737.93" width="0.9" height="0.9"/><rect x="749.9" y="629.57" width="0.9" height="0.9"/><rect x="705.83" y="663.34" width="0.9" height="0.9"/><rect x="744.28" y="725.83" width="0.9" height="0.9"/><rect x="769.14" y="737.08" width="0.9" height="0.9"/><rect x="729.56" y="700.31" width="0.9" height="0.9"/><rect x="707.48" y="653.09" width="0.9" height="0.9"/><rect x="767.54" y="708.63" width="0.9" height="0.9"/><rect x="747.49" y="667.51" width="0.9" height="0.9"/><rect x="713.5" y="678.91" width="0.9" height="0.9"/><rect x="747.22" y="699.17" width="0.9" height="0.9"/><rect x="769.98" y="735.06" width="0.9" height="0.9"/><rect x="714.37" y="604.26" width="0.9" height="0.9"/><rect x="760.12" y="702.38" width="0.9" height="0.9"/><rect x="749.12" y="732.87" width="0.9" height="0.9"/><rect x="715.24" y="656.16" width="0.9" height="0.9"/><rect x="712.62" y="636.63" width="0.9" height="0.9"/><rect x="767.25" y="683.91" width="0.9" height="0.9"/><rect x="723.67" y="607.26" width="0.9" height="0.9"/><rect x="730.84" y="717.3" width="0.9" height="0.9"/><rect x="746.08" y="672.31" width="0.9" height="0.9"/><rect x="730.76" y="697.23" width="0.9" height="0.9"/><rect x="699.52" y="713.71" width="0.9" height="0.9"/><rect x="717.98" y="605.78" width="0.9" height="0.9"/><rect x="733.03" y="629.94" width="0.9" height="0.9"/><rect x="753.55" y="662.31" width="0.9" height="0.9"/><rect x="742.55" y="689.6" width="0.9" height="0.9"/><rect x="730.04" y="655.05" width="0.9" height="0.9"/><rect x="713.06" y="642.5" width="0.9" height="0.9"/><rect x="755.21" y="606.58" width="0.9" height="0.9"/><rect x="712.79" y="663.69" width="0.9" height="0.9"/><rect x="750.89" y="736.42" width="0.9" height="0.9"/><rect x="734.82" y="607.26" width="0.9" height="0.9"/><rect x="738.71" y="688.2" width="0.9" height="0.9"/><rect x="726.76" y="631.98" width="0.9" height="0.9"/><rect x="713.91" y="740.98" width="0.9" height="0.9"/><rect x="711.55" y="717.55" width="0.9" height="0.9"/><rect x="745.05" y="633.66" width="0.9" height="0.9"/><rect x="719.11" y="740.91" width="0.9" height="0.9"/><rect x="700.51" y="647.19" width="0.9" height="0.9"/><rect x="713.18" y="701.06" width="0.9" height="0.9"/><rect x="764.91" y="640.17" width="0.9" height="0.9"/><rect x="750.03" y="644.48" width="0.9" height="0.9"/><rect x="740.7" y="612.06" width="0.9" height="0.9"/><rect x="728.02" y="644.74" width="0.9" height="0.9"/><rect x="757.57" y="661.25" width="0.9" height="0.9"/><rect x="718.19" y="606.85" width="0.9" height="0.9"/><rect x="744.45" y="604.67" width="0.9" height="0.9"/><rect x="700.35" y="604.48" width="0.9" height="0.9"/><rect x="745.34" y="727.98" width="0.9" height="0.9"/><rect x="768.55" y="661.91" width="0.9" height="0.9"/><rect x="749.79" y="733.14" width="0.9" height="0.9"/><rect x="704.95" y="671.13" width="0.9" height="0.9"/><rect x="741.5" y="682.39" width="0.9" height="0.9"/><rect x="721.99" y="655.81" width="0.9" height="0.9"/><rect x="764.8" y="713.79" width="0.9" height="0.9"/><rect x="700.79" y="651.73" width="0.9" height="0.9"/><rect x="700.34" y="717.7" width="0.9" height="0.9"/><rect x="706.33" y="658.6" width="0.9" height="0.9"/><rect x="723.59" y="621.06" width="0.9" height="0.9"/><rect x="762.15" y="662.28" width="0.9" height="0.9"/><rect x="739.59" y="607.15" width="0.9" height="0.9"/><rect x="746.53" y="658" width="0.9" height="0.9"/><rect x="702.65" y="657.95" width="0.9" height="0.9"/><rect x="711.91" y="703.47" width="0.9" height="0.9"/><rect x="726.53" y="744.83" width="0.9" height="0.9"/><rect x="744.07" y="625.08" width="0.9" height="0.9"/><rect x="752.86" y="689.52" width="0.9" height="0.9"/><rect x="740.3" y="721.89" width="0.9" height="0.9"/><rect x="719.34" y="699.84" width="0.9" height="0.9"/><rect x="712.24" y="636.16" width="0.9" height="0.9"/><rect x="729.43" y="662.61" width="0.9" height="0.9"/><rect x="717.67" y="735.48" width="0.9" height="0.9"/><rect x="753.45" y="676.89" width="0.9" height="0.9"/><rect x="762.91" y="698.99" width="0.9" height="0.9"/><rect x="756.59" y="646.84" width="0.9" height="0.9"/><rect x="708.09" y="715.53" width="0.9" height="0.9"/><rect x="755.39" y="682.84" width="0.9" height="0.9"/><rect x="700.57" y="714.72" width="0.9" height="0.9"/><rect x="709.1" y="642.78" width="0.9" height="0.9"/><rect x="749.26" y="635.98" width="0.9" height="0.9"/><rect x="722.38" y="628.66" width="0.9" height="0.9"/><rect x="758.22" y="687.51" width="0.9" height="0.9"/><rect x="748.38" y="614.22" width="0.9" height="0.9"/><rect x="744.96" y="652.07" width="0.9" height="0.9"/><rect x="742.14" y="697.34" width="0.9" height="0.9"/><rect x="764.33" y="642.44" width="0.9" height="0.9"/><rect x="758.58" y="639.87" width="0.9" height="0.9"/><rect x="701.59" y="636.24" width="0.9" height="0.9"/><rect x="769.42" y="670.21" width="0.9" height="0.9"/><rect x="730.12" y="710.39" width="0.9" height="0.9"/><rect x="720.48" y="640.45" width="0.9" height="0.9"/><rect x="761.23" y="678.57" width="0.9" height="0.9"/><rect x="764.75" y="743.65" width="0.9" height="0.9"/><rect x="754.37" y="674.16" width="0.9" height="0.9"/><rect x="750.61" y="641.31" width="0.9" height="0.9"/><rect x="700.23" y="722.1" width="0.9" height="0.9"/><rect x="719.14" y="731.54" width="0.9" height="0.9"/><rect x="757.16" y="708.99" width="0.9" height="0.9"/><rect x="770.39" y="649.21" width="0.9" height="0.9"/><rect x="719.43" y="674.08" width="0.9" height="0.9"/><rect x="753.53" y="648.65" width="0.9" height="0.9"/><rect x="707.52" y="734.04" width="0.9" height="0.9"/><rect x="752.59" y="604.52" width="0.9" height="0.9"/><rect x="724.82" y="727.13" width="0.9" height="0.9"/><rect x="705" y="640.12" width="0.9" height="0.9"/><rect x="711.99" y="623.83" width="0.9" height="0.9"/><rect x="739.81" y="722.23" width="0.9" height="0.9"/><rect x="733.04" y="715.45" width="0.9" height="0.9"/><rect x="748.3" y="608.7" width="0.9" height="0.9"/><rect x="724.24" y="644.88" width="0.9" height="0.9"/><rect x="741.84" y="616.36" width="0.9" height="0.9"/><rect x="726.17" y="709.08" width="0.9" height="0.9"/><rect x="754.04" y="731.37" width="0.9" height="0.9"/><rect x="699.96" y="644.37" width="0.9" height="0.9"/><rect x="741.31" y="653.54" width="0.9" height="0.9"/><rect x="741.22" y="607.7" width="0.9" height="0.9"/><rect x="703.63" y="617.27" width="0.9" height="0.9"/><rect x="753.79" y="612.09" width="0.9" height="0.9"/></g><rect x="727" y="604" width="16" height="24" rx="2" fill="#bfeaef" fill-opacity="0.8" filter="url(#bl1)"/><rect x="729" y="617" width="12" height="22" rx="2" fill="#8adce6" fill-opacity="0.85" filter="url(#bl1)"/><path d="M727.3 641 L728.2 624 L730.6 624 L732.5 641 Z" fill="#1f42e4" filter="url(#bl05)"/><path d="M738 641 L740 624 L742.6 624 L744 641 Z" fill="#1f42e4" filter="url(#bl05)"/><rect x="726" y="660" width="18" height="17" rx="2" fill="#6cd6e2" fill-opacity="0.85" filter="url(#bl1)"/><rect x="727" y="663" width="16" height="1.6" rx="0.5" fill="#3cc4d8" fill-opacity="0.8" filter="url(#bl05)"/><rect x="727" y="667" width="16" height="1.6" rx="0.5" fill="#3cc4d8" fill-opacity="0.8" filter="url(#bl05)"/><rect x="727" y="671" width="16" height="1.6" rx="0.5" fill="#3cc4d8" fill-opacity="0.8" filter="url(#bl05)"/><rect x="728" y="676" width="14" height="26" rx="2" fill="#cdeef0" fill-opacity="0.55" filter="url(#bl2)"/><path d="M701.5 634.5 L703.3 634.5 L705.1 638.3 L717.4 638.3 L719.2 634.5 L721 634.5 L720.7 642.5 Q720.4 644.2 718 644.2 L704.5 644.2 Q702.1 644.2 701.8 642.5 Z" fill="#1f47e6" filter="url(#bl05)"/><path d="M748.5 634.5 L750.3 634.5 L752.1 638.3 L765.9 638.3 L767.7 634.5 L769.5 634.5 L769.2 642.5 Q768.9 644.2 766.5 644.2 L751.5 644.2 Q749.1 644.2 748.8 642.5 Z" fill="#1f47e6" filter="url(#bl05)"/><rect x="724.3" y="638.5" width="21" height="7.5" rx="3" fill="#1430e6" fill-opacity="1" filter="url(#bl05)"/><rect x="725" y="647.6" width="19.5" height="2.6" rx="1.2" fill="#1a3ae6" fill-opacity="1" filter="url(#bl05)"/><rect x="724.8" y="651" width="20" height="4.6" rx="2" fill="#1430e6" fill-opacity="1" filter="url(#bl05)"/><rect x="725.5" y="657.4" width="19" height="4" rx="1.6" fill="#1a3ae6" fill-opacity="1" filter="url(#bl05)"/><rect x="749" y="650.8" width="20" height="2.4" rx="1" fill="#7fd8e4" fill-opacity="0.8" filter="url(#bl05)"/></g><rect x="699.5" y="603" width="71.2" height="142" fill="none" stroke="#111" stroke-width="1.3"/><text x="673.9" y="602.6" font-size="10.5">kDa</text><line x1="693.5" y1="609.2" x2="699.5" y2="609.2" stroke="#000" stroke-width="1.3"/><text x="692.5" y="612.6" font-size="10.4" text-anchor="end">315</text><line x1="693.5" y1="620.5" x2="699.5" y2="620.5" stroke="#000" stroke-width="1.3"/><text x="692.5" y="623.9" font-size="10.4" text-anchor="end">140</text><line x1="693.5" y1="636.1" x2="699.5" y2="636.1" stroke="#000" stroke-width="1.3"/><text x="692.5" y="639.5" font-size="10.4" text-anchor="end">72</text><line x1="693.5" y1="646.6" x2="699.5" y2="646.6" stroke="#000" stroke-width="1.3"/><text x="692.5" y="650" font-size="10.4" text-anchor="end">55</text><line x1="693.5" y1="661.4" x2="699.5" y2="661.4" stroke="#000" stroke-width="1.3"/><text x="692.5" y="664.8" font-size="10.4" text-anchor="end">42</text><line x1="693.5" y1="687.8" x2="699.5" y2="687.8" stroke="#000" stroke-width="1.3"/><text x="692.5" y="691.2" font-size="10.4" text-anchor="end">26</text><line x1="693.5" y1="710.5" x2="699.5" y2="710.5" stroke="#000" stroke-width="1.3"/><text x="692.5" y="713.9" font-size="10.4" text-anchor="end">17</text><line x1="693.5" y1="737.4" x2="699.5" y2="737.4" stroke="#000" stroke-width="1.3"/><text x="692.5" y="740.8" font-size="10.4" text-anchor="end">10</text><text x="700.3" y="757.9" font-size="12" text-anchor="end">ATP</text><text x="711.6" y="758.14" font-size="13.5" text-anchor="middle" stroke="#000" stroke-width="0.25">–</text><text x="736.7" y="758.89" font-size="12.5" text-anchor="middle" stroke="#000" stroke-width="0.35">+</text><text x="760.3" y="758.89" font-size="12.5" text-anchor="middle" stroke="#000" stroke-width="0.35">+</text><text x="700.3" y="771.1" font-size="12" text-anchor="end">DNCB</text><text x="711.6" y="771.54" font-size="13.5" text-anchor="middle" stroke="#000" stroke-width="0.25">–</text><text x="736.7" y="771.54" font-size="13.5" text-anchor="middle" stroke="#000" stroke-width="0.25">–</text><text x="760.3" y="772.29" font-size="12.5" text-anchor="middle" stroke="#000" stroke-width="0.35">+</text></svg></body></html>
